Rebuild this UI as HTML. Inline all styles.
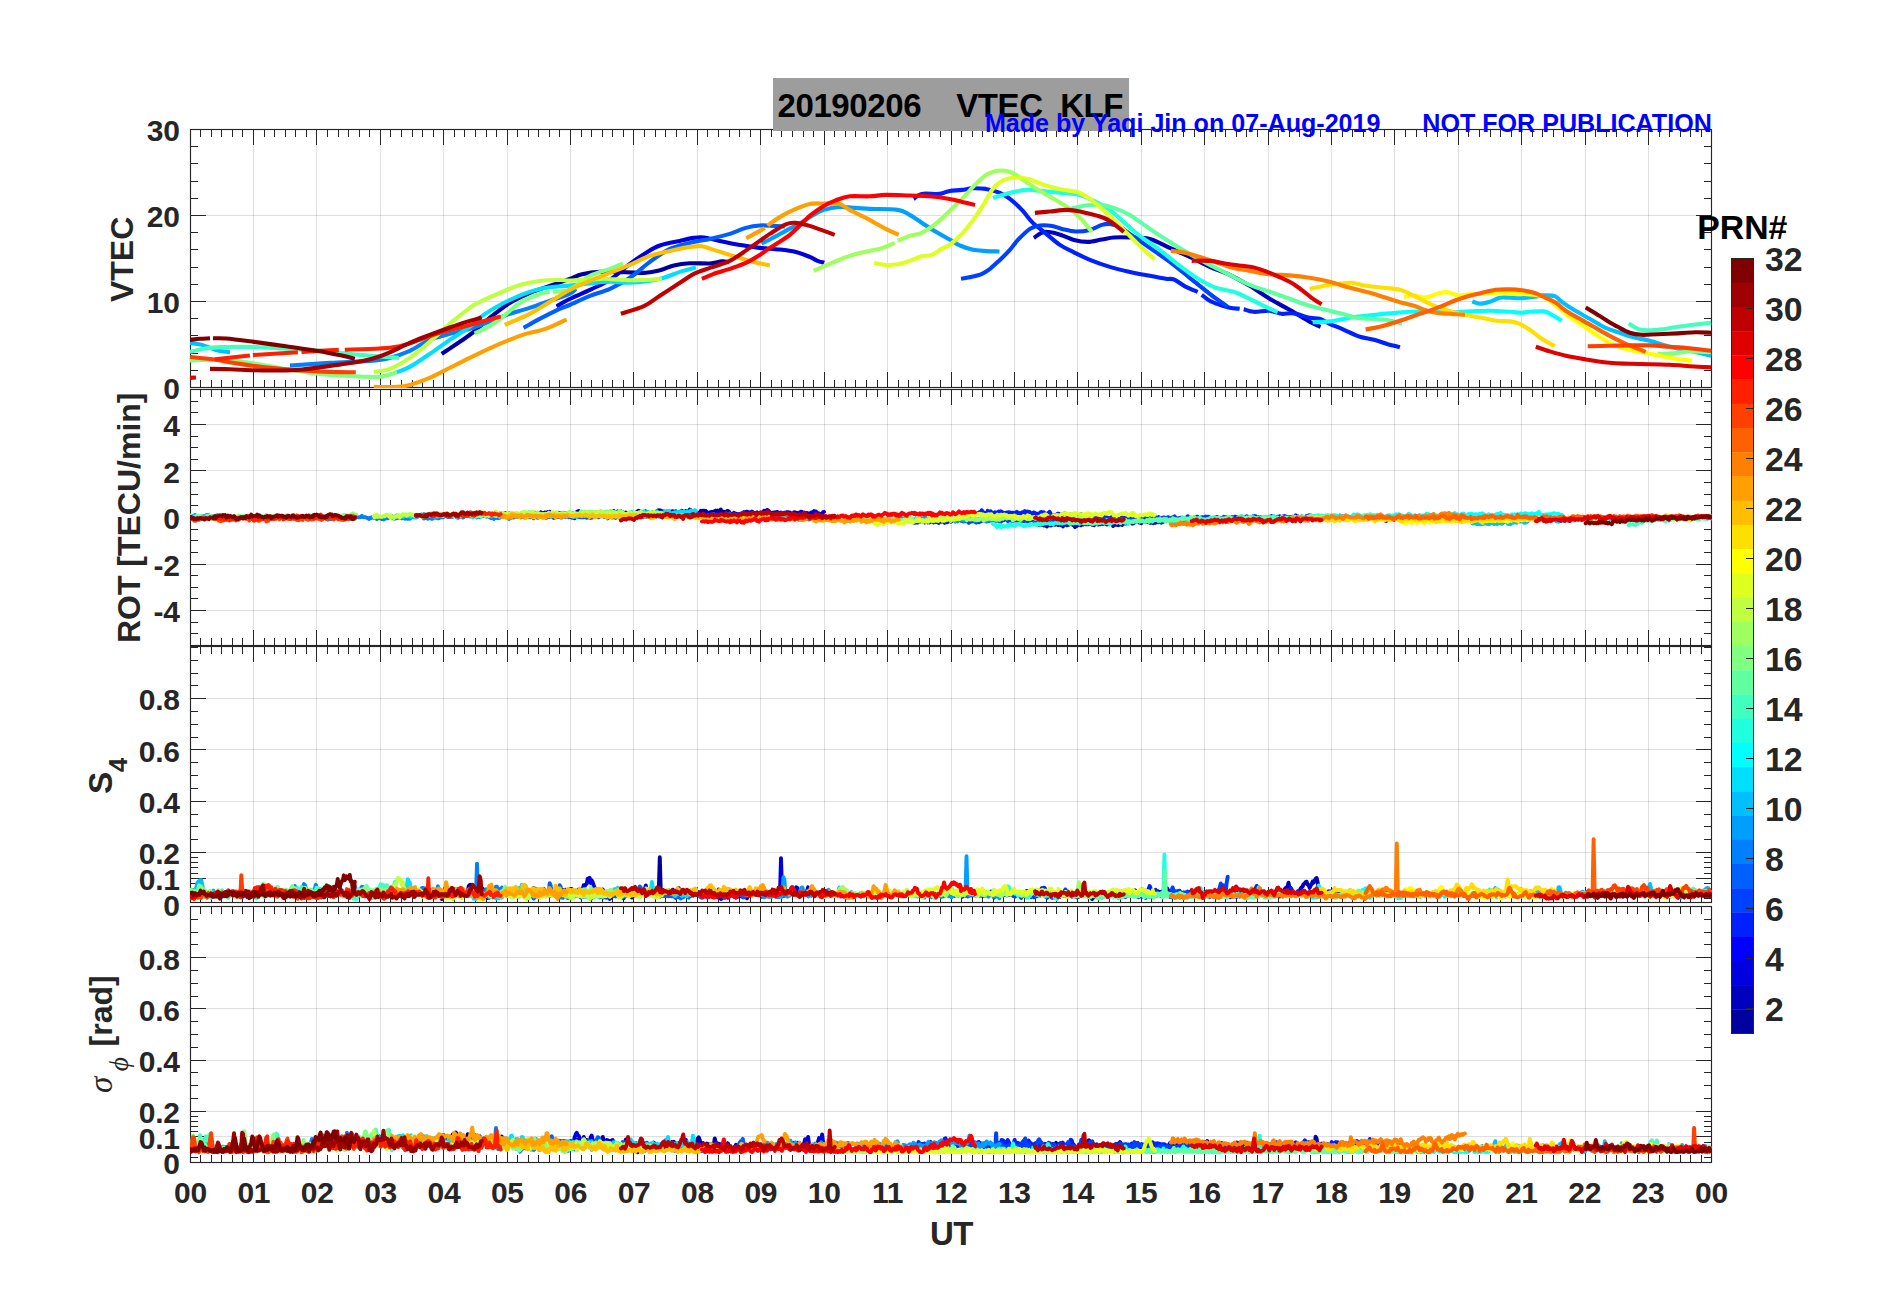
<!DOCTYPE html>
<html lang="en"><head><meta charset="utf-8"><title>20190206 VTEC KLF</title>
<style>html,body{margin:0;padding:0;background:#fff;}body{width:1902px;height:1292px;overflow:hidden;}svg{display:block;}text{font-family:'Liberation Sans', Arial, Helvetica, sans-serif;font-weight:bold;}</style></head><body>
<svg width="1902" height="1292" viewBox="0 0 1902 1292">
<rect x="0" y="0" width="1902" height="1292" fill="#ffffff"/>
<defs>
<clipPath id="c0"><rect x="190.00" y="129.00" width="1522.00" height="259.00"/></clipPath>
<clipPath id="c1"><rect x="190.00" y="389.00" width="1522.00" height="257.00"/></clipPath>
<clipPath id="c2"><rect x="190.00" y="646.00" width="1522.00" height="257.00"/></clipPath>
<clipPath id="c3"><rect x="190.00" y="906.00" width="1522.00" height="257.00"/></clipPath>
</defs>
<path d="M253.5 130.0V387.0M316.5 130.0V387.0M380.5 130.0V387.0M443.5 130.0V387.0M507.5 130.0V387.0M570.5 130.0V387.0M633.5 130.0V387.0M697.5 130.0V387.0M760.5 130.0V387.0M824.5 130.0V387.0M887.5 130.0V387.0M951.5 130.0V387.0M1014.5 130.0V387.0M1077.5 130.0V387.0M1141.5 130.0V387.0M1204.5 130.0V387.0M1268.5 130.0V387.0M1331.5 130.0V387.0M1394.5 130.0V387.0M1458.5 130.0V387.0M1521.5 130.0V387.0M1585.5 130.0V387.0M1648.5 130.0V387.0" stroke="#262626" stroke-opacity="0.15" stroke-width="1" fill="none"/>
<path d="M191.0 301.5H1711.0M191.0 215.5H1711.0" stroke="#262626" stroke-opacity="0.15" stroke-width="1" fill="none"/>
<path d="M200.50 129.50v7.50M200.50 387.50v-7.50M211.50 129.50v7.50M211.50 387.50v-7.50M221.50 129.50v7.50M221.50 387.50v-7.50M232.50 129.50v7.50M232.50 387.50v-7.50M242.50 129.50v7.50M242.50 387.50v-7.50M253.50 129.50v15.50M253.50 387.50v-15.50M264.50 129.50v7.50M264.50 387.50v-7.50M274.50 129.50v7.50M274.50 387.50v-7.50M285.50 129.50v7.50M285.50 387.50v-7.50M295.50 129.50v7.50M295.50 387.50v-7.50M306.50 129.50v7.50M306.50 387.50v-7.50M316.50 129.50v15.50M316.50 387.50v-15.50M327.50 129.50v7.50M327.50 387.50v-7.50M338.50 129.50v7.50M338.50 387.50v-7.50M348.50 129.50v7.50M348.50 387.50v-7.50M359.50 129.50v7.50M359.50 387.50v-7.50M369.50 129.50v7.50M369.50 387.50v-7.50M380.50 129.50v15.50M380.50 387.50v-15.50M390.50 129.50v7.50M390.50 387.50v-7.50M401.50 129.50v7.50M401.50 387.50v-7.50M412.50 129.50v7.50M412.50 387.50v-7.50M422.50 129.50v7.50M422.50 387.50v-7.50M433.50 129.50v7.50M433.50 387.50v-7.50M443.50 129.50v15.50M443.50 387.50v-15.50M454.50 129.50v7.50M454.50 387.50v-7.50M464.50 129.50v7.50M464.50 387.50v-7.50M475.50 129.50v7.50M475.50 387.50v-7.50M486.50 129.50v7.50M486.50 387.50v-7.50M496.50 129.50v7.50M496.50 387.50v-7.50M507.50 129.50v15.50M507.50 387.50v-15.50M517.50 129.50v7.50M517.50 387.50v-7.50M528.50 129.50v7.50M528.50 387.50v-7.50M538.50 129.50v7.50M538.50 387.50v-7.50M549.50 129.50v7.50M549.50 387.50v-7.50M559.50 129.50v7.50M559.50 387.50v-7.50M570.50 129.50v15.50M570.50 387.50v-15.50M581.50 129.50v7.50M581.50 387.50v-7.50M591.50 129.50v7.50M591.50 387.50v-7.50M602.50 129.50v7.50M602.50 387.50v-7.50M612.50 129.50v7.50M612.50 387.50v-7.50M623.50 129.50v7.50M623.50 387.50v-7.50M633.50 129.50v15.50M633.50 387.50v-15.50M644.50 129.50v7.50M644.50 387.50v-7.50M655.50 129.50v7.50M655.50 387.50v-7.50M665.50 129.50v7.50M665.50 387.50v-7.50M676.50 129.50v7.50M676.50 387.50v-7.50M686.50 129.50v7.50M686.50 387.50v-7.50M697.50 129.50v15.50M697.50 387.50v-15.50M707.50 129.50v7.50M707.50 387.50v-7.50M718.50 129.50v7.50M718.50 387.50v-7.50M729.50 129.50v7.50M729.50 387.50v-7.50M739.50 129.50v7.50M739.50 387.50v-7.50M750.50 129.50v7.50M750.50 387.50v-7.50M760.50 129.50v15.50M760.50 387.50v-15.50M771.50 129.50v7.50M771.50 387.50v-7.50M781.50 129.50v7.50M781.50 387.50v-7.50M792.50 129.50v7.50M792.50 387.50v-7.50M803.50 129.50v7.50M803.50 387.50v-7.50M813.50 129.50v7.50M813.50 387.50v-7.50M824.50 129.50v15.50M824.50 387.50v-15.50M834.50 129.50v7.50M834.50 387.50v-7.50M845.50 129.50v7.50M845.50 387.50v-7.50M855.50 129.50v7.50M855.50 387.50v-7.50M866.50 129.50v7.50M866.50 387.50v-7.50M877.50 129.50v7.50M877.50 387.50v-7.50M887.50 129.50v15.50M887.50 387.50v-15.50M898.50 129.50v7.50M898.50 387.50v-7.50M908.50 129.50v7.50M908.50 387.50v-7.50M919.50 129.50v7.50M919.50 387.50v-7.50M929.50 129.50v7.50M929.50 387.50v-7.50M940.50 129.50v7.50M940.50 387.50v-7.50M951.50 129.50v15.50M951.50 387.50v-15.50M961.50 129.50v7.50M961.50 387.50v-7.50M972.50 129.50v7.50M972.50 387.50v-7.50M982.50 129.50v7.50M982.50 387.50v-7.50M993.50 129.50v7.50M993.50 387.50v-7.50M1003.50 129.50v7.50M1003.50 387.50v-7.50M1014.50 129.50v15.50M1014.50 387.50v-15.50M1024.50 129.50v7.50M1024.50 387.50v-7.50M1035.50 129.50v7.50M1035.50 387.50v-7.50M1046.50 129.50v7.50M1046.50 387.50v-7.50M1056.50 129.50v7.50M1056.50 387.50v-7.50M1067.50 129.50v7.50M1067.50 387.50v-7.50M1077.50 129.50v15.50M1077.50 387.50v-15.50M1088.50 129.50v7.50M1088.50 387.50v-7.50M1098.50 129.50v7.50M1098.50 387.50v-7.50M1109.50 129.50v7.50M1109.50 387.50v-7.50M1120.50 129.50v7.50M1120.50 387.50v-7.50M1130.50 129.50v7.50M1130.50 387.50v-7.50M1141.50 129.50v15.50M1141.50 387.50v-15.50M1151.50 129.50v7.50M1151.50 387.50v-7.50M1162.50 129.50v7.50M1162.50 387.50v-7.50M1172.50 129.50v7.50M1172.50 387.50v-7.50M1183.50 129.50v7.50M1183.50 387.50v-7.50M1194.50 129.50v7.50M1194.50 387.50v-7.50M1204.50 129.50v15.50M1204.50 387.50v-15.50M1215.50 129.50v7.50M1215.50 387.50v-7.50M1225.50 129.50v7.50M1225.50 387.50v-7.50M1236.50 129.50v7.50M1236.50 387.50v-7.50M1246.50 129.50v7.50M1246.50 387.50v-7.50M1257.50 129.50v7.50M1257.50 387.50v-7.50M1268.50 129.50v15.50M1268.50 387.50v-15.50M1278.50 129.50v7.50M1278.50 387.50v-7.50M1289.50 129.50v7.50M1289.50 387.50v-7.50M1299.50 129.50v7.50M1299.50 387.50v-7.50M1310.50 129.50v7.50M1310.50 387.50v-7.50M1320.50 129.50v7.50M1320.50 387.50v-7.50M1331.50 129.50v15.50M1331.50 387.50v-15.50M1342.50 129.50v7.50M1342.50 387.50v-7.50M1352.50 129.50v7.50M1352.50 387.50v-7.50M1363.50 129.50v7.50M1363.50 387.50v-7.50M1373.50 129.50v7.50M1373.50 387.50v-7.50M1384.50 129.50v7.50M1384.50 387.50v-7.50M1394.50 129.50v15.50M1394.50 387.50v-15.50M1405.50 129.50v7.50M1405.50 387.50v-7.50M1416.50 129.50v7.50M1416.50 387.50v-7.50M1426.50 129.50v7.50M1426.50 387.50v-7.50M1437.50 129.50v7.50M1437.50 387.50v-7.50M1447.50 129.50v7.50M1447.50 387.50v-7.50M1458.50 129.50v15.50M1458.50 387.50v-15.50M1468.50 129.50v7.50M1468.50 387.50v-7.50M1479.50 129.50v7.50M1479.50 387.50v-7.50M1490.50 129.50v7.50M1490.50 387.50v-7.50M1500.50 129.50v7.50M1500.50 387.50v-7.50M1511.50 129.50v7.50M1511.50 387.50v-7.50M1521.50 129.50v15.50M1521.50 387.50v-15.50M1532.50 129.50v7.50M1532.50 387.50v-7.50M1542.50 129.50v7.50M1542.50 387.50v-7.50M1553.50 129.50v7.50M1553.50 387.50v-7.50M1563.50 129.50v7.50M1563.50 387.50v-7.50M1574.50 129.50v7.50M1574.50 387.50v-7.50M1585.50 129.50v15.50M1585.50 387.50v-15.50M1595.50 129.50v7.50M1595.50 387.50v-7.50M1606.50 129.50v7.50M1606.50 387.50v-7.50M1616.50 129.50v7.50M1616.50 387.50v-7.50M1627.50 129.50v7.50M1627.50 387.50v-7.50M1637.50 129.50v7.50M1637.50 387.50v-7.50M1648.50 129.50v15.50M1648.50 387.50v-15.50M1659.50 129.50v7.50M1659.50 387.50v-7.50M1669.50 129.50v7.50M1669.50 387.50v-7.50M1680.50 129.50v7.50M1680.50 387.50v-7.50M1690.50 129.50v7.50M1690.50 387.50v-7.50M1701.50 129.50v7.50M1701.50 387.50v-7.50M190.50 370.50h7.50M1711.50 370.50h-7.50M190.50 353.50h7.50M1711.50 353.50h-7.50M190.50 335.50h7.50M1711.50 335.50h-7.50M190.50 318.50h7.50M1711.50 318.50h-7.50M190.50 284.50h7.50M1711.50 284.50h-7.50M190.50 267.50h7.50M1711.50 267.50h-7.50M190.50 249.50h7.50M1711.50 249.50h-7.50M190.50 232.50h7.50M1711.50 232.50h-7.50M190.50 198.50h7.50M1711.50 198.50h-7.50M190.50 181.50h7.50M1711.50 181.50h-7.50M190.50 163.50h7.50M1711.50 163.50h-7.50M190.50 146.50h7.50M1711.50 146.50h-7.50M190.50 301.50h15.50M1711.50 301.50h-15.50M190.50 215.50h15.50M1711.50 215.50h-15.50" stroke="#262626" stroke-width="1" fill="none"/>
<rect x="190.50" y="129.50" width="1521.00" height="258.00" fill="none" stroke="#262626" stroke-width="1.15"/>
<path d="M253.5 390.0V645.0M316.5 390.0V645.0M380.5 390.0V645.0M443.5 390.0V645.0M507.5 390.0V645.0M570.5 390.0V645.0M633.5 390.0V645.0M697.5 390.0V645.0M760.5 390.0V645.0M824.5 390.0V645.0M887.5 390.0V645.0M951.5 390.0V645.0M1014.5 390.0V645.0M1077.5 390.0V645.0M1141.5 390.0V645.0M1204.5 390.0V645.0M1268.5 390.0V645.0M1331.5 390.0V645.0M1394.5 390.0V645.0M1458.5 390.0V645.0M1521.5 390.0V645.0M1585.5 390.0V645.0M1648.5 390.0V645.0" stroke="#262626" stroke-opacity="0.15" stroke-width="1" fill="none"/>
<path d="M191.0 610.5H1711.0M191.0 564.5H1711.0M191.0 517.5H1711.0M191.0 470.5H1711.0M191.0 424.5H1711.0" stroke="#262626" stroke-opacity="0.15" stroke-width="1" fill="none"/>
<path d="M200.50 389.50v7.50M200.50 645.50v-7.50M211.50 389.50v7.50M211.50 645.50v-7.50M221.50 389.50v7.50M221.50 645.50v-7.50M232.50 389.50v7.50M232.50 645.50v-7.50M242.50 389.50v7.50M242.50 645.50v-7.50M253.50 389.50v15.50M253.50 645.50v-15.50M264.50 389.50v7.50M264.50 645.50v-7.50M274.50 389.50v7.50M274.50 645.50v-7.50M285.50 389.50v7.50M285.50 645.50v-7.50M295.50 389.50v7.50M295.50 645.50v-7.50M306.50 389.50v7.50M306.50 645.50v-7.50M316.50 389.50v15.50M316.50 645.50v-15.50M327.50 389.50v7.50M327.50 645.50v-7.50M338.50 389.50v7.50M338.50 645.50v-7.50M348.50 389.50v7.50M348.50 645.50v-7.50M359.50 389.50v7.50M359.50 645.50v-7.50M369.50 389.50v7.50M369.50 645.50v-7.50M380.50 389.50v15.50M380.50 645.50v-15.50M390.50 389.50v7.50M390.50 645.50v-7.50M401.50 389.50v7.50M401.50 645.50v-7.50M412.50 389.50v7.50M412.50 645.50v-7.50M422.50 389.50v7.50M422.50 645.50v-7.50M433.50 389.50v7.50M433.50 645.50v-7.50M443.50 389.50v15.50M443.50 645.50v-15.50M454.50 389.50v7.50M454.50 645.50v-7.50M464.50 389.50v7.50M464.50 645.50v-7.50M475.50 389.50v7.50M475.50 645.50v-7.50M486.50 389.50v7.50M486.50 645.50v-7.50M496.50 389.50v7.50M496.50 645.50v-7.50M507.50 389.50v15.50M507.50 645.50v-15.50M517.50 389.50v7.50M517.50 645.50v-7.50M528.50 389.50v7.50M528.50 645.50v-7.50M538.50 389.50v7.50M538.50 645.50v-7.50M549.50 389.50v7.50M549.50 645.50v-7.50M559.50 389.50v7.50M559.50 645.50v-7.50M570.50 389.50v15.50M570.50 645.50v-15.50M581.50 389.50v7.50M581.50 645.50v-7.50M591.50 389.50v7.50M591.50 645.50v-7.50M602.50 389.50v7.50M602.50 645.50v-7.50M612.50 389.50v7.50M612.50 645.50v-7.50M623.50 389.50v7.50M623.50 645.50v-7.50M633.50 389.50v15.50M633.50 645.50v-15.50M644.50 389.50v7.50M644.50 645.50v-7.50M655.50 389.50v7.50M655.50 645.50v-7.50M665.50 389.50v7.50M665.50 645.50v-7.50M676.50 389.50v7.50M676.50 645.50v-7.50M686.50 389.50v7.50M686.50 645.50v-7.50M697.50 389.50v15.50M697.50 645.50v-15.50M707.50 389.50v7.50M707.50 645.50v-7.50M718.50 389.50v7.50M718.50 645.50v-7.50M729.50 389.50v7.50M729.50 645.50v-7.50M739.50 389.50v7.50M739.50 645.50v-7.50M750.50 389.50v7.50M750.50 645.50v-7.50M760.50 389.50v15.50M760.50 645.50v-15.50M771.50 389.50v7.50M771.50 645.50v-7.50M781.50 389.50v7.50M781.50 645.50v-7.50M792.50 389.50v7.50M792.50 645.50v-7.50M803.50 389.50v7.50M803.50 645.50v-7.50M813.50 389.50v7.50M813.50 645.50v-7.50M824.50 389.50v15.50M824.50 645.50v-15.50M834.50 389.50v7.50M834.50 645.50v-7.50M845.50 389.50v7.50M845.50 645.50v-7.50M855.50 389.50v7.50M855.50 645.50v-7.50M866.50 389.50v7.50M866.50 645.50v-7.50M877.50 389.50v7.50M877.50 645.50v-7.50M887.50 389.50v15.50M887.50 645.50v-15.50M898.50 389.50v7.50M898.50 645.50v-7.50M908.50 389.50v7.50M908.50 645.50v-7.50M919.50 389.50v7.50M919.50 645.50v-7.50M929.50 389.50v7.50M929.50 645.50v-7.50M940.50 389.50v7.50M940.50 645.50v-7.50M951.50 389.50v15.50M951.50 645.50v-15.50M961.50 389.50v7.50M961.50 645.50v-7.50M972.50 389.50v7.50M972.50 645.50v-7.50M982.50 389.50v7.50M982.50 645.50v-7.50M993.50 389.50v7.50M993.50 645.50v-7.50M1003.50 389.50v7.50M1003.50 645.50v-7.50M1014.50 389.50v15.50M1014.50 645.50v-15.50M1024.50 389.50v7.50M1024.50 645.50v-7.50M1035.50 389.50v7.50M1035.50 645.50v-7.50M1046.50 389.50v7.50M1046.50 645.50v-7.50M1056.50 389.50v7.50M1056.50 645.50v-7.50M1067.50 389.50v7.50M1067.50 645.50v-7.50M1077.50 389.50v15.50M1077.50 645.50v-15.50M1088.50 389.50v7.50M1088.50 645.50v-7.50M1098.50 389.50v7.50M1098.50 645.50v-7.50M1109.50 389.50v7.50M1109.50 645.50v-7.50M1120.50 389.50v7.50M1120.50 645.50v-7.50M1130.50 389.50v7.50M1130.50 645.50v-7.50M1141.50 389.50v15.50M1141.50 645.50v-15.50M1151.50 389.50v7.50M1151.50 645.50v-7.50M1162.50 389.50v7.50M1162.50 645.50v-7.50M1172.50 389.50v7.50M1172.50 645.50v-7.50M1183.50 389.50v7.50M1183.50 645.50v-7.50M1194.50 389.50v7.50M1194.50 645.50v-7.50M1204.50 389.50v15.50M1204.50 645.50v-15.50M1215.50 389.50v7.50M1215.50 645.50v-7.50M1225.50 389.50v7.50M1225.50 645.50v-7.50M1236.50 389.50v7.50M1236.50 645.50v-7.50M1246.50 389.50v7.50M1246.50 645.50v-7.50M1257.50 389.50v7.50M1257.50 645.50v-7.50M1268.50 389.50v15.50M1268.50 645.50v-15.50M1278.50 389.50v7.50M1278.50 645.50v-7.50M1289.50 389.50v7.50M1289.50 645.50v-7.50M1299.50 389.50v7.50M1299.50 645.50v-7.50M1310.50 389.50v7.50M1310.50 645.50v-7.50M1320.50 389.50v7.50M1320.50 645.50v-7.50M1331.50 389.50v15.50M1331.50 645.50v-15.50M1342.50 389.50v7.50M1342.50 645.50v-7.50M1352.50 389.50v7.50M1352.50 645.50v-7.50M1363.50 389.50v7.50M1363.50 645.50v-7.50M1373.50 389.50v7.50M1373.50 645.50v-7.50M1384.50 389.50v7.50M1384.50 645.50v-7.50M1394.50 389.50v15.50M1394.50 645.50v-15.50M1405.50 389.50v7.50M1405.50 645.50v-7.50M1416.50 389.50v7.50M1416.50 645.50v-7.50M1426.50 389.50v7.50M1426.50 645.50v-7.50M1437.50 389.50v7.50M1437.50 645.50v-7.50M1447.50 389.50v7.50M1447.50 645.50v-7.50M1458.50 389.50v15.50M1458.50 645.50v-15.50M1468.50 389.50v7.50M1468.50 645.50v-7.50M1479.50 389.50v7.50M1479.50 645.50v-7.50M1490.50 389.50v7.50M1490.50 645.50v-7.50M1500.50 389.50v7.50M1500.50 645.50v-7.50M1511.50 389.50v7.50M1511.50 645.50v-7.50M1521.50 389.50v15.50M1521.50 645.50v-15.50M1532.50 389.50v7.50M1532.50 645.50v-7.50M1542.50 389.50v7.50M1542.50 645.50v-7.50M1553.50 389.50v7.50M1553.50 645.50v-7.50M1563.50 389.50v7.50M1563.50 645.50v-7.50M1574.50 389.50v7.50M1574.50 645.50v-7.50M1585.50 389.50v15.50M1585.50 645.50v-15.50M1595.50 389.50v7.50M1595.50 645.50v-7.50M1606.50 389.50v7.50M1606.50 645.50v-7.50M1616.50 389.50v7.50M1616.50 645.50v-7.50M1627.50 389.50v7.50M1627.50 645.50v-7.50M1637.50 389.50v7.50M1637.50 645.50v-7.50M1648.50 389.50v15.50M1648.50 645.50v-15.50M1659.50 389.50v7.50M1659.50 645.50v-7.50M1669.50 389.50v7.50M1669.50 645.50v-7.50M1680.50 389.50v7.50M1680.50 645.50v-7.50M1690.50 389.50v7.50M1690.50 645.50v-7.50M1701.50 389.50v7.50M1701.50 645.50v-7.50M190.50 633.50h7.50M1711.50 633.50h-7.50M190.50 622.50h7.50M1711.50 622.50h-7.50M190.50 598.50h7.50M1711.50 598.50h-7.50M190.50 587.50h7.50M1711.50 587.50h-7.50M190.50 575.50h7.50M1711.50 575.50h-7.50M190.50 552.50h7.50M1711.50 552.50h-7.50M190.50 540.50h7.50M1711.50 540.50h-7.50M190.50 529.50h7.50M1711.50 529.50h-7.50M190.50 505.50h7.50M1711.50 505.50h-7.50M190.50 494.50h7.50M1711.50 494.50h-7.50M190.50 482.50h7.50M1711.50 482.50h-7.50M190.50 459.50h7.50M1711.50 459.50h-7.50M190.50 447.50h7.50M1711.50 447.50h-7.50M190.50 436.50h7.50M1711.50 436.50h-7.50M190.50 412.50h7.50M1711.50 412.50h-7.50M190.50 401.50h7.50M1711.50 401.50h-7.50M190.50 610.50h15.50M1711.50 610.50h-15.50M190.50 564.50h15.50M1711.50 564.50h-15.50M190.50 517.50h15.50M1711.50 517.50h-15.50M190.50 470.50h15.50M1711.50 470.50h-15.50M190.50 424.50h15.50M1711.50 424.50h-15.50" stroke="#262626" stroke-width="1" fill="none"/>
<rect x="190.50" y="389.50" width="1521.00" height="256.00" fill="none" stroke="#262626" stroke-width="1.15"/>
<path d="M253.5 647.0V902.0M316.5 647.0V902.0M380.5 647.0V902.0M443.5 647.0V902.0M507.5 647.0V902.0M570.5 647.0V902.0M633.5 647.0V902.0M697.5 647.0V902.0M760.5 647.0V902.0M824.5 647.0V902.0M887.5 647.0V902.0M951.5 647.0V902.0M1014.5 647.0V902.0M1077.5 647.0V902.0M1141.5 647.0V902.0M1204.5 647.0V902.0M1268.5 647.0V902.0M1331.5 647.0V902.0M1394.5 647.0V902.0M1458.5 647.0V902.0M1521.5 647.0V902.0M1585.5 647.0V902.0M1648.5 647.0V902.0" stroke="#262626" stroke-opacity="0.15" stroke-width="1" fill="none"/>
<path d="M191.0 878.5H1711.0M191.0 852.5H1711.0M191.0 801.5H1711.0M191.0 749.5H1711.0M191.0 698.5H1711.0" stroke="#262626" stroke-opacity="0.15" stroke-width="1" fill="none"/>
<path d="M200.50 646.50v7.50M200.50 902.50v-7.50M211.50 646.50v7.50M211.50 902.50v-7.50M221.50 646.50v7.50M221.50 902.50v-7.50M232.50 646.50v7.50M232.50 902.50v-7.50M242.50 646.50v7.50M242.50 902.50v-7.50M253.50 646.50v15.50M253.50 902.50v-15.50M264.50 646.50v7.50M264.50 902.50v-7.50M274.50 646.50v7.50M274.50 902.50v-7.50M285.50 646.50v7.50M285.50 902.50v-7.50M295.50 646.50v7.50M295.50 902.50v-7.50M306.50 646.50v7.50M306.50 902.50v-7.50M316.50 646.50v15.50M316.50 902.50v-15.50M327.50 646.50v7.50M327.50 902.50v-7.50M338.50 646.50v7.50M338.50 902.50v-7.50M348.50 646.50v7.50M348.50 902.50v-7.50M359.50 646.50v7.50M359.50 902.50v-7.50M369.50 646.50v7.50M369.50 902.50v-7.50M380.50 646.50v15.50M380.50 902.50v-15.50M390.50 646.50v7.50M390.50 902.50v-7.50M401.50 646.50v7.50M401.50 902.50v-7.50M412.50 646.50v7.50M412.50 902.50v-7.50M422.50 646.50v7.50M422.50 902.50v-7.50M433.50 646.50v7.50M433.50 902.50v-7.50M443.50 646.50v15.50M443.50 902.50v-15.50M454.50 646.50v7.50M454.50 902.50v-7.50M464.50 646.50v7.50M464.50 902.50v-7.50M475.50 646.50v7.50M475.50 902.50v-7.50M486.50 646.50v7.50M486.50 902.50v-7.50M496.50 646.50v7.50M496.50 902.50v-7.50M507.50 646.50v15.50M507.50 902.50v-15.50M517.50 646.50v7.50M517.50 902.50v-7.50M528.50 646.50v7.50M528.50 902.50v-7.50M538.50 646.50v7.50M538.50 902.50v-7.50M549.50 646.50v7.50M549.50 902.50v-7.50M559.50 646.50v7.50M559.50 902.50v-7.50M570.50 646.50v15.50M570.50 902.50v-15.50M581.50 646.50v7.50M581.50 902.50v-7.50M591.50 646.50v7.50M591.50 902.50v-7.50M602.50 646.50v7.50M602.50 902.50v-7.50M612.50 646.50v7.50M612.50 902.50v-7.50M623.50 646.50v7.50M623.50 902.50v-7.50M633.50 646.50v15.50M633.50 902.50v-15.50M644.50 646.50v7.50M644.50 902.50v-7.50M655.50 646.50v7.50M655.50 902.50v-7.50M665.50 646.50v7.50M665.50 902.50v-7.50M676.50 646.50v7.50M676.50 902.50v-7.50M686.50 646.50v7.50M686.50 902.50v-7.50M697.50 646.50v15.50M697.50 902.50v-15.50M707.50 646.50v7.50M707.50 902.50v-7.50M718.50 646.50v7.50M718.50 902.50v-7.50M729.50 646.50v7.50M729.50 902.50v-7.50M739.50 646.50v7.50M739.50 902.50v-7.50M750.50 646.50v7.50M750.50 902.50v-7.50M760.50 646.50v15.50M760.50 902.50v-15.50M771.50 646.50v7.50M771.50 902.50v-7.50M781.50 646.50v7.50M781.50 902.50v-7.50M792.50 646.50v7.50M792.50 902.50v-7.50M803.50 646.50v7.50M803.50 902.50v-7.50M813.50 646.50v7.50M813.50 902.50v-7.50M824.50 646.50v15.50M824.50 902.50v-15.50M834.50 646.50v7.50M834.50 902.50v-7.50M845.50 646.50v7.50M845.50 902.50v-7.50M855.50 646.50v7.50M855.50 902.50v-7.50M866.50 646.50v7.50M866.50 902.50v-7.50M877.50 646.50v7.50M877.50 902.50v-7.50M887.50 646.50v15.50M887.50 902.50v-15.50M898.50 646.50v7.50M898.50 902.50v-7.50M908.50 646.50v7.50M908.50 902.50v-7.50M919.50 646.50v7.50M919.50 902.50v-7.50M929.50 646.50v7.50M929.50 902.50v-7.50M940.50 646.50v7.50M940.50 902.50v-7.50M951.50 646.50v15.50M951.50 902.50v-15.50M961.50 646.50v7.50M961.50 902.50v-7.50M972.50 646.50v7.50M972.50 902.50v-7.50M982.50 646.50v7.50M982.50 902.50v-7.50M993.50 646.50v7.50M993.50 902.50v-7.50M1003.50 646.50v7.50M1003.50 902.50v-7.50M1014.50 646.50v15.50M1014.50 902.50v-15.50M1024.50 646.50v7.50M1024.50 902.50v-7.50M1035.50 646.50v7.50M1035.50 902.50v-7.50M1046.50 646.50v7.50M1046.50 902.50v-7.50M1056.50 646.50v7.50M1056.50 902.50v-7.50M1067.50 646.50v7.50M1067.50 902.50v-7.50M1077.50 646.50v15.50M1077.50 902.50v-15.50M1088.50 646.50v7.50M1088.50 902.50v-7.50M1098.50 646.50v7.50M1098.50 902.50v-7.50M1109.50 646.50v7.50M1109.50 902.50v-7.50M1120.50 646.50v7.50M1120.50 902.50v-7.50M1130.50 646.50v7.50M1130.50 902.50v-7.50M1141.50 646.50v15.50M1141.50 902.50v-15.50M1151.50 646.50v7.50M1151.50 902.50v-7.50M1162.50 646.50v7.50M1162.50 902.50v-7.50M1172.50 646.50v7.50M1172.50 902.50v-7.50M1183.50 646.50v7.50M1183.50 902.50v-7.50M1194.50 646.50v7.50M1194.50 902.50v-7.50M1204.50 646.50v15.50M1204.50 902.50v-15.50M1215.50 646.50v7.50M1215.50 902.50v-7.50M1225.50 646.50v7.50M1225.50 902.50v-7.50M1236.50 646.50v7.50M1236.50 902.50v-7.50M1246.50 646.50v7.50M1246.50 902.50v-7.50M1257.50 646.50v7.50M1257.50 902.50v-7.50M1268.50 646.50v15.50M1268.50 902.50v-15.50M1278.50 646.50v7.50M1278.50 902.50v-7.50M1289.50 646.50v7.50M1289.50 902.50v-7.50M1299.50 646.50v7.50M1299.50 902.50v-7.50M1310.50 646.50v7.50M1310.50 902.50v-7.50M1320.50 646.50v7.50M1320.50 902.50v-7.50M1331.50 646.50v15.50M1331.50 902.50v-15.50M1342.50 646.50v7.50M1342.50 902.50v-7.50M1352.50 646.50v7.50M1352.50 902.50v-7.50M1363.50 646.50v7.50M1363.50 902.50v-7.50M1373.50 646.50v7.50M1373.50 902.50v-7.50M1384.50 646.50v7.50M1384.50 902.50v-7.50M1394.50 646.50v15.50M1394.50 902.50v-15.50M1405.50 646.50v7.50M1405.50 902.50v-7.50M1416.50 646.50v7.50M1416.50 902.50v-7.50M1426.50 646.50v7.50M1426.50 902.50v-7.50M1437.50 646.50v7.50M1437.50 902.50v-7.50M1447.50 646.50v7.50M1447.50 902.50v-7.50M1458.50 646.50v15.50M1458.50 902.50v-15.50M1468.50 646.50v7.50M1468.50 902.50v-7.50M1479.50 646.50v7.50M1479.50 902.50v-7.50M1490.50 646.50v7.50M1490.50 902.50v-7.50M1500.50 646.50v7.50M1500.50 902.50v-7.50M1511.50 646.50v7.50M1511.50 902.50v-7.50M1521.50 646.50v15.50M1521.50 902.50v-15.50M1532.50 646.50v7.50M1532.50 902.50v-7.50M1542.50 646.50v7.50M1542.50 902.50v-7.50M1553.50 646.50v7.50M1553.50 902.50v-7.50M1563.50 646.50v7.50M1563.50 902.50v-7.50M1574.50 646.50v7.50M1574.50 902.50v-7.50M1585.50 646.50v15.50M1585.50 902.50v-15.50M1595.50 646.50v7.50M1595.50 902.50v-7.50M1606.50 646.50v7.50M1606.50 902.50v-7.50M1616.50 646.50v7.50M1616.50 902.50v-7.50M1627.50 646.50v7.50M1627.50 902.50v-7.50M1637.50 646.50v7.50M1637.50 902.50v-7.50M1648.50 646.50v15.50M1648.50 902.50v-15.50M1659.50 646.50v7.50M1659.50 902.50v-7.50M1669.50 646.50v7.50M1669.50 902.50v-7.50M1680.50 646.50v7.50M1680.50 902.50v-7.50M1690.50 646.50v7.50M1690.50 902.50v-7.50M1701.50 646.50v7.50M1701.50 902.50v-7.50M190.50 898.50h7.50M1711.50 898.50h-7.50M190.50 893.50h7.50M1711.50 893.50h-7.50M190.50 888.50h7.50M1711.50 888.50h-7.50M190.50 883.50h7.50M1711.50 883.50h-7.50M190.50 873.50h7.50M1711.50 873.50h-7.50M190.50 867.50h7.50M1711.50 867.50h-7.50M190.50 862.50h7.50M1711.50 862.50h-7.50M190.50 857.50h7.50M1711.50 857.50h-7.50M190.50 839.50h7.50M1711.50 839.50h-7.50M190.50 826.50h7.50M1711.50 826.50h-7.50M190.50 814.50h7.50M1711.50 814.50h-7.50M190.50 788.50h7.50M1711.50 788.50h-7.50M190.50 775.50h7.50M1711.50 775.50h-7.50M190.50 762.50h7.50M1711.50 762.50h-7.50M190.50 737.50h7.50M1711.50 737.50h-7.50M190.50 724.50h7.50M1711.50 724.50h-7.50M190.50 711.50h7.50M1711.50 711.50h-7.50M190.50 685.50h7.50M1711.50 685.50h-7.50M190.50 673.50h7.50M1711.50 673.50h-7.50M190.50 660.50h7.50M1711.50 660.50h-7.50M190.50 647.50h7.50M1711.50 647.50h-7.50M190.50 878.50h15.50M1711.50 878.50h-15.50M190.50 852.50h15.50M1711.50 852.50h-15.50M190.50 801.50h15.50M1711.50 801.50h-15.50M190.50 749.50h15.50M1711.50 749.50h-15.50M190.50 698.50h15.50M1711.50 698.50h-15.50" stroke="#262626" stroke-width="1" fill="none"/>
<rect x="190.50" y="646.50" width="1521.00" height="256.00" fill="none" stroke="#262626" stroke-width="1.15"/>
<path d="M253.5 907.0V1162.0M316.5 907.0V1162.0M380.5 907.0V1162.0M443.5 907.0V1162.0M507.5 907.0V1162.0M570.5 907.0V1162.0M633.5 907.0V1162.0M697.5 907.0V1162.0M760.5 907.0V1162.0M824.5 907.0V1162.0M887.5 907.0V1162.0M951.5 907.0V1162.0M1014.5 907.0V1162.0M1077.5 907.0V1162.0M1141.5 907.0V1162.0M1204.5 907.0V1162.0M1268.5 907.0V1162.0M1331.5 907.0V1162.0M1394.5 907.0V1162.0M1458.5 907.0V1162.0M1521.5 907.0V1162.0M1585.5 907.0V1162.0M1648.5 907.0V1162.0" stroke="#262626" stroke-opacity="0.15" stroke-width="1" fill="none"/>
<path d="M191.0 1136.5H1711.0M191.0 1111.5H1711.0M191.0 1060.5H1711.0M191.0 1008.5H1711.0M191.0 957.5H1711.0" stroke="#262626" stroke-opacity="0.15" stroke-width="1" fill="none"/>
<path d="M200.50 906.50v7.50M200.50 1162.50v-7.50M211.50 906.50v7.50M211.50 1162.50v-7.50M221.50 906.50v7.50M221.50 1162.50v-7.50M232.50 906.50v7.50M232.50 1162.50v-7.50M242.50 906.50v7.50M242.50 1162.50v-7.50M253.50 906.50v15.50M253.50 1162.50v-15.50M264.50 906.50v7.50M264.50 1162.50v-7.50M274.50 906.50v7.50M274.50 1162.50v-7.50M285.50 906.50v7.50M285.50 1162.50v-7.50M295.50 906.50v7.50M295.50 1162.50v-7.50M306.50 906.50v7.50M306.50 1162.50v-7.50M316.50 906.50v15.50M316.50 1162.50v-15.50M327.50 906.50v7.50M327.50 1162.50v-7.50M338.50 906.50v7.50M338.50 1162.50v-7.50M348.50 906.50v7.50M348.50 1162.50v-7.50M359.50 906.50v7.50M359.50 1162.50v-7.50M369.50 906.50v7.50M369.50 1162.50v-7.50M380.50 906.50v15.50M380.50 1162.50v-15.50M390.50 906.50v7.50M390.50 1162.50v-7.50M401.50 906.50v7.50M401.50 1162.50v-7.50M412.50 906.50v7.50M412.50 1162.50v-7.50M422.50 906.50v7.50M422.50 1162.50v-7.50M433.50 906.50v7.50M433.50 1162.50v-7.50M443.50 906.50v15.50M443.50 1162.50v-15.50M454.50 906.50v7.50M454.50 1162.50v-7.50M464.50 906.50v7.50M464.50 1162.50v-7.50M475.50 906.50v7.50M475.50 1162.50v-7.50M486.50 906.50v7.50M486.50 1162.50v-7.50M496.50 906.50v7.50M496.50 1162.50v-7.50M507.50 906.50v15.50M507.50 1162.50v-15.50M517.50 906.50v7.50M517.50 1162.50v-7.50M528.50 906.50v7.50M528.50 1162.50v-7.50M538.50 906.50v7.50M538.50 1162.50v-7.50M549.50 906.50v7.50M549.50 1162.50v-7.50M559.50 906.50v7.50M559.50 1162.50v-7.50M570.50 906.50v15.50M570.50 1162.50v-15.50M581.50 906.50v7.50M581.50 1162.50v-7.50M591.50 906.50v7.50M591.50 1162.50v-7.50M602.50 906.50v7.50M602.50 1162.50v-7.50M612.50 906.50v7.50M612.50 1162.50v-7.50M623.50 906.50v7.50M623.50 1162.50v-7.50M633.50 906.50v15.50M633.50 1162.50v-15.50M644.50 906.50v7.50M644.50 1162.50v-7.50M655.50 906.50v7.50M655.50 1162.50v-7.50M665.50 906.50v7.50M665.50 1162.50v-7.50M676.50 906.50v7.50M676.50 1162.50v-7.50M686.50 906.50v7.50M686.50 1162.50v-7.50M697.50 906.50v15.50M697.50 1162.50v-15.50M707.50 906.50v7.50M707.50 1162.50v-7.50M718.50 906.50v7.50M718.50 1162.50v-7.50M729.50 906.50v7.50M729.50 1162.50v-7.50M739.50 906.50v7.50M739.50 1162.50v-7.50M750.50 906.50v7.50M750.50 1162.50v-7.50M760.50 906.50v15.50M760.50 1162.50v-15.50M771.50 906.50v7.50M771.50 1162.50v-7.50M781.50 906.50v7.50M781.50 1162.50v-7.50M792.50 906.50v7.50M792.50 1162.50v-7.50M803.50 906.50v7.50M803.50 1162.50v-7.50M813.50 906.50v7.50M813.50 1162.50v-7.50M824.50 906.50v15.50M824.50 1162.50v-15.50M834.50 906.50v7.50M834.50 1162.50v-7.50M845.50 906.50v7.50M845.50 1162.50v-7.50M855.50 906.50v7.50M855.50 1162.50v-7.50M866.50 906.50v7.50M866.50 1162.50v-7.50M877.50 906.50v7.50M877.50 1162.50v-7.50M887.50 906.50v15.50M887.50 1162.50v-15.50M898.50 906.50v7.50M898.50 1162.50v-7.50M908.50 906.50v7.50M908.50 1162.50v-7.50M919.50 906.50v7.50M919.50 1162.50v-7.50M929.50 906.50v7.50M929.50 1162.50v-7.50M940.50 906.50v7.50M940.50 1162.50v-7.50M951.50 906.50v15.50M951.50 1162.50v-15.50M961.50 906.50v7.50M961.50 1162.50v-7.50M972.50 906.50v7.50M972.50 1162.50v-7.50M982.50 906.50v7.50M982.50 1162.50v-7.50M993.50 906.50v7.50M993.50 1162.50v-7.50M1003.50 906.50v7.50M1003.50 1162.50v-7.50M1014.50 906.50v15.50M1014.50 1162.50v-15.50M1024.50 906.50v7.50M1024.50 1162.50v-7.50M1035.50 906.50v7.50M1035.50 1162.50v-7.50M1046.50 906.50v7.50M1046.50 1162.50v-7.50M1056.50 906.50v7.50M1056.50 1162.50v-7.50M1067.50 906.50v7.50M1067.50 1162.50v-7.50M1077.50 906.50v15.50M1077.50 1162.50v-15.50M1088.50 906.50v7.50M1088.50 1162.50v-7.50M1098.50 906.50v7.50M1098.50 1162.50v-7.50M1109.50 906.50v7.50M1109.50 1162.50v-7.50M1120.50 906.50v7.50M1120.50 1162.50v-7.50M1130.50 906.50v7.50M1130.50 1162.50v-7.50M1141.50 906.50v15.50M1141.50 1162.50v-15.50M1151.50 906.50v7.50M1151.50 1162.50v-7.50M1162.50 906.50v7.50M1162.50 1162.50v-7.50M1172.50 906.50v7.50M1172.50 1162.50v-7.50M1183.50 906.50v7.50M1183.50 1162.50v-7.50M1194.50 906.50v7.50M1194.50 1162.50v-7.50M1204.50 906.50v15.50M1204.50 1162.50v-15.50M1215.50 906.50v7.50M1215.50 1162.50v-7.50M1225.50 906.50v7.50M1225.50 1162.50v-7.50M1236.50 906.50v7.50M1236.50 1162.50v-7.50M1246.50 906.50v7.50M1246.50 1162.50v-7.50M1257.50 906.50v7.50M1257.50 1162.50v-7.50M1268.50 906.50v15.50M1268.50 1162.50v-15.50M1278.50 906.50v7.50M1278.50 1162.50v-7.50M1289.50 906.50v7.50M1289.50 1162.50v-7.50M1299.50 906.50v7.50M1299.50 1162.50v-7.50M1310.50 906.50v7.50M1310.50 1162.50v-7.50M1320.50 906.50v7.50M1320.50 1162.50v-7.50M1331.50 906.50v15.50M1331.50 1162.50v-15.50M1342.50 906.50v7.50M1342.50 1162.50v-7.50M1352.50 906.50v7.50M1352.50 1162.50v-7.50M1363.50 906.50v7.50M1363.50 1162.50v-7.50M1373.50 906.50v7.50M1373.50 1162.50v-7.50M1384.50 906.50v7.50M1384.50 1162.50v-7.50M1394.50 906.50v15.50M1394.50 1162.50v-15.50M1405.50 906.50v7.50M1405.50 1162.50v-7.50M1416.50 906.50v7.50M1416.50 1162.50v-7.50M1426.50 906.50v7.50M1426.50 1162.50v-7.50M1437.50 906.50v7.50M1437.50 1162.50v-7.50M1447.50 906.50v7.50M1447.50 1162.50v-7.50M1458.50 906.50v15.50M1458.50 1162.50v-15.50M1468.50 906.50v7.50M1468.50 1162.50v-7.50M1479.50 906.50v7.50M1479.50 1162.50v-7.50M1490.50 906.50v7.50M1490.50 1162.50v-7.50M1500.50 906.50v7.50M1500.50 1162.50v-7.50M1511.50 906.50v7.50M1511.50 1162.50v-7.50M1521.50 906.50v15.50M1521.50 1162.50v-15.50M1532.50 906.50v7.50M1532.50 1162.50v-7.50M1542.50 906.50v7.50M1542.50 1162.50v-7.50M1553.50 906.50v7.50M1553.50 1162.50v-7.50M1563.50 906.50v7.50M1563.50 1162.50v-7.50M1574.50 906.50v7.50M1574.50 1162.50v-7.50M1585.50 906.50v15.50M1585.50 1162.50v-15.50M1595.50 906.50v7.50M1595.50 1162.50v-7.50M1606.50 906.50v7.50M1606.50 1162.50v-7.50M1616.50 906.50v7.50M1616.50 1162.50v-7.50M1627.50 906.50v7.50M1627.50 1162.50v-7.50M1637.50 906.50v7.50M1637.50 1162.50v-7.50M1648.50 906.50v15.50M1648.50 1162.50v-15.50M1659.50 906.50v7.50M1659.50 1162.50v-7.50M1669.50 906.50v7.50M1669.50 1162.50v-7.50M1680.50 906.50v7.50M1680.50 1162.50v-7.50M1690.50 906.50v7.50M1690.50 1162.50v-7.50M1701.50 906.50v7.50M1701.50 1162.50v-7.50M190.50 1157.50h7.50M1711.50 1157.50h-7.50M190.50 1152.50h7.50M1711.50 1152.50h-7.50M190.50 1147.50h7.50M1711.50 1147.50h-7.50M190.50 1142.50h7.50M1711.50 1142.50h-7.50M190.50 1131.50h7.50M1711.50 1131.50h-7.50M190.50 1126.50h7.50M1711.50 1126.50h-7.50M190.50 1121.50h7.50M1711.50 1121.50h-7.50M190.50 1116.50h7.50M1711.50 1116.50h-7.50M190.50 1098.50h7.50M1711.50 1098.50h-7.50M190.50 1085.50h7.50M1711.50 1085.50h-7.50M190.50 1072.50h7.50M1711.50 1072.50h-7.50M190.50 1047.50h7.50M1711.50 1047.50h-7.50M190.50 1034.50h7.50M1711.50 1034.50h-7.50M190.50 1021.50h7.50M1711.50 1021.50h-7.50M190.50 996.50h7.50M1711.50 996.50h-7.50M190.50 983.50h7.50M1711.50 983.50h-7.50M190.50 970.50h7.50M1711.50 970.50h-7.50M190.50 944.50h7.50M1711.50 944.50h-7.50M190.50 932.50h7.50M1711.50 932.50h-7.50M190.50 919.50h7.50M1711.50 919.50h-7.50M190.50 1136.50h15.50M1711.50 1136.50h-15.50M190.50 1111.50h15.50M1711.50 1111.50h-15.50M190.50 1060.50h15.50M1711.50 1060.50h-15.50M190.50 1008.50h15.50M1711.50 1008.50h-15.50M190.50 957.50h15.50M1711.50 957.50h-15.50" stroke="#262626" stroke-width="1" fill="none"/>
<rect x="190.50" y="906.50" width="1521.00" height="256.00" fill="none" stroke="#262626" stroke-width="1.15"/>
<g fill="none" stroke-width="4.1" stroke-linejoin="round" stroke-linecap="butt" clip-path="url(#c0)">
<path d="M441.7 353.9C444.7 351.9 454.4 345.6 459.7 341.9C465.0 338.3 468.7 335.9 473.7 331.9C478.7 327.9 483.7 322.8 489.7 317.9C495.7 313.1 503.0 307.1 509.7 303.0C516.3 298.8 523.0 295.8 529.6 293.0C536.3 290.1 543.0 288.3 549.6 286.0C556.3 283.6 564.2 280.9 569.6 279.0C575.0 277.0 576.9 275.4 582.0 274.2C587.0 273.1 592.6 272.2 600.0 271.9C607.3 271.5 618.3 272.1 625.9 272.3C633.6 272.4 640.3 273.2 645.9 272.8C651.6 272.5 655.2 271.5 659.9 270.3C664.6 269.0 668.9 266.6 673.9 265.5C678.9 264.3 683.9 263.6 689.9 263.3C695.9 262.9 704.5 263.8 709.9 263.5C715.2 263.1 718.7 261.5 721.8 261.3C725.0 261.1 727.7 262.1 728.8 262.3" stroke="#00009f"/>
<path d="M1033.9 237.9C1035.6 236.9 1039.9 232.6 1043.9 231.9C1047.9 231.2 1052.9 232.6 1057.9 233.9C1062.9 235.2 1068.9 238.6 1073.9 239.9C1078.9 241.2 1083.2 241.9 1087.9 241.9C1092.5 241.8 1097.5 240.2 1101.8 239.5C1106.2 238.8 1109.2 237.8 1113.8 237.5C1118.5 237.2 1123.8 237.3 1129.8 237.5C1135.8 237.7 1143.1 237.2 1149.8 238.9C1156.4 240.6 1163.1 244.9 1169.8 247.9C1176.4 250.9 1183.1 253.7 1189.7 256.9C1196.4 260.0 1203.1 263.9 1209.7 266.9C1216.4 269.9 1223.0 271.7 1229.7 274.8C1236.4 278.0 1243.0 281.8 1249.7 285.8C1256.3 289.8 1263.0 294.8 1269.7 298.8C1276.3 302.8 1283.0 306.0 1289.6 309.8C1296.3 313.6 1304.5 319.0 1309.6 321.8C1314.8 324.6 1318.8 326.0 1320.6 326.8" stroke="#0000bf"/>
<path d="M556.6 306.4C558.8 305.1 564.0 301.7 569.6 299.0C575.2 296.2 583.3 293.0 590.0 289.8C596.7 286.6 603.3 284.2 610.0 279.8C616.6 275.5 623.9 268.4 629.9 263.9C635.9 259.4 640.9 255.9 645.9 252.9C650.9 249.8 654.2 247.5 659.9 245.5C665.6 243.5 674.2 242.1 679.9 240.9C685.5 239.6 689.9 238.5 693.9 237.9C697.9 237.3 699.5 237.0 703.9 237.5C708.2 238.0 713.8 239.7 719.8 240.9C725.8 242.1 733.2 243.7 739.8 244.9C746.5 246.0 753.1 247.1 759.8 247.9C766.5 248.6 773.8 248.8 779.8 249.5C785.8 250.1 790.8 250.6 795.8 251.9C800.8 253.1 806.1 255.4 809.7 256.9C813.4 258.4 815.3 259.9 817.7 260.9C820.1 261.9 823.1 262.5 824.1 262.9" stroke="#0000df"/>
<path d="M913.6 198.9C915.0 198.1 917.3 194.8 921.6 193.9C926.0 193.1 934.9 194.4 939.6 193.9C944.3 193.4 945.9 191.6 949.6 190.9C953.3 190.3 958.3 190.4 962.0 189.9C965.7 189.5 968.0 188.5 972.0 188.3C976.0 188.2 981.3 188.2 986.0 188.9C990.6 189.7 996.0 191.3 999.9 192.9C1003.9 194.6 1006.3 196.1 1009.9 198.9C1013.6 201.8 1018.3 206.1 1021.9 209.9C1025.6 213.7 1028.3 218.2 1031.9 221.9C1035.6 225.6 1039.2 228.1 1043.9 231.9C1048.6 235.7 1054.9 241.5 1059.9 244.9C1064.9 248.3 1068.9 249.8 1073.9 252.3C1078.9 254.8 1083.9 257.4 1089.9 259.9C1095.8 262.3 1103.2 264.9 1109.8 266.9C1116.5 268.9 1123.2 270.4 1129.8 271.9C1136.5 273.3 1143.8 274.7 1149.8 275.8C1155.8 277.0 1161.8 278.2 1165.8 278.8C1169.8 279.4 1170.4 278.1 1173.8 279.4C1177.1 280.8 1181.8 284.8 1185.8 286.8C1189.7 288.9 1195.7 291.0 1197.7 291.8M1201.7 294.8C1203.1 295.8 1206.7 299.2 1209.7 300.8C1212.7 302.5 1216.4 303.7 1219.7 304.8C1223.0 306.0 1226.4 307.1 1229.7 307.8C1233.0 308.5 1238.0 308.6 1239.7 308.8M1243.7 309.2C1245.4 309.6 1249.4 311.5 1253.7 311.8C1258.0 312.1 1265.0 310.5 1269.7 310.8C1274.3 311.1 1277.7 313.4 1281.7 313.8C1285.6 314.2 1289.0 312.7 1293.6 313.4C1298.3 314.1 1305.3 316.9 1309.6 317.8C1314.0 318.7 1316.3 317.8 1319.6 318.8C1322.9 319.8 1325.5 322.0 1329.6 323.8C1333.7 325.6 1338.9 327.6 1344.0 329.8C1349.0 332.0 1355.0 335.1 1360.0 336.8C1365.0 338.4 1369.3 338.5 1374.0 339.8C1378.6 341.0 1383.6 342.9 1387.9 344.2C1392.3 345.4 1397.9 346.8 1399.9 347.4" stroke="#0020ff"/>
<path d="M961.0 278.8C962.8 278.5 968.5 277.7 972.0 276.8C975.5 276.0 979.0 275.2 982.0 273.8C985.0 272.5 987.0 271.2 990.0 268.9C993.0 266.5 996.6 263.0 999.9 259.9C1003.3 256.7 1006.9 253.2 1009.9 249.9C1012.9 246.5 1014.6 243.4 1017.9 239.9C1021.3 236.4 1026.3 231.3 1029.9 228.9C1033.6 226.5 1036.2 226.0 1039.9 225.5C1043.6 225.0 1048.2 225.3 1051.9 225.9C1055.6 226.5 1057.9 228.0 1061.9 228.9C1065.9 229.8 1071.2 231.3 1075.9 231.5C1080.5 231.7 1085.5 231.0 1089.9 229.9C1094.2 228.8 1098.5 225.9 1101.8 224.9C1105.2 223.9 1106.8 223.6 1109.8 223.9C1112.8 224.2 1116.5 225.2 1119.8 226.9C1123.2 228.6 1124.8 230.4 1129.8 233.9C1134.8 237.4 1143.1 243.2 1149.8 247.9C1156.4 252.5 1163.1 256.9 1169.8 261.9C1176.4 266.9 1183.1 272.5 1189.7 277.8C1196.4 283.2 1203.4 289.0 1209.7 293.8C1216.1 298.7 1224.7 304.6 1227.7 306.8" stroke="#0040ff"/>
<path d="M523.6 327.9C526.3 326.4 533.6 322.1 539.6 318.9C545.6 315.8 554.6 311.3 559.6 308.9C564.6 306.6 564.5 307.1 569.6 305.0C574.7 302.8 583.3 298.5 590.0 295.8C596.7 293.1 603.3 291.8 610.0 288.8C616.6 285.8 623.3 282.3 629.9 277.8C636.6 273.3 643.3 266.7 649.9 261.9C656.6 257.0 663.2 252.0 669.9 248.9C676.6 245.7 683.2 244.5 689.9 242.9C696.5 241.2 703.2 240.4 709.9 238.9C716.5 237.4 723.8 235.7 729.8 233.9C735.8 232.1 740.8 229.3 745.8 227.9C750.8 226.5 755.1 225.8 759.8 225.5C764.5 225.2 769.6 225.7 773.8 225.9C777.9 226.1 782.9 226.4 784.8 226.5" stroke="#0060ff"/>
<path d="M289.9 365.5C296.6 365.1 316.5 363.7 329.9 362.9C343.2 362.1 359.8 361.7 369.8 360.9C379.8 360.1 383.1 359.6 389.8 357.9C396.4 356.2 403.1 353.9 409.8 350.9C416.4 347.9 423.1 342.7 429.7 339.9C436.4 337.1 443.1 335.8 449.7 333.9C456.4 332.1 461.0 331.8 469.7 328.9C478.4 326.1 495.0 319.4 501.7 316.9C508.3 314.4 505.0 315.4 509.7 313.9C514.3 312.4 523.0 310.1 529.6 307.9C536.3 305.8 543.0 303.3 549.6 301.0C556.3 298.6 565.2 296.0 569.6 294.0C574.0 291.9 574.9 289.7 576.0 288.8" stroke="#0080ff"/>
<path d="M761.4 243.5C762.8 242.8 765.7 241.6 769.8 239.5C773.9 237.4 780.8 233.6 785.8 230.9C790.8 228.2 795.4 226.0 799.8 223.5C804.1 221.0 807.7 218.2 811.7 215.9C815.7 213.6 819.1 211.4 823.7 209.9C828.4 208.4 834.7 207.3 839.7 206.9C844.7 206.6 848.7 207.6 853.7 207.9C858.7 208.3 862.4 208.6 869.7 208.9C877.0 209.2 891.0 208.9 897.7 209.9C904.3 210.9 904.3 211.9 909.6 214.9C915.0 217.9 923.0 223.8 929.6 227.9C936.3 232.0 944.5 236.6 949.6 239.5C954.7 242.4 956.3 243.8 960.0 245.5C963.7 247.1 967.6 248.5 972.0 249.5C976.3 250.4 981.4 250.7 986.0 251.1C990.6 251.4 997.3 251.4 999.5 251.5" stroke="#009fff"/>
<path d="M190.0 342.9C192.0 343.2 197.7 343.7 202.0 344.9C206.3 346.1 211.3 348.7 216.0 349.9C220.6 351.1 227.6 351.9 230.0 352.3" stroke="#00bfff"/>
<path d="M1472.3 301.4C1473.5 301.8 1476.9 303.8 1479.8 303.8C1482.8 303.9 1486.5 302.8 1489.8 301.8C1493.2 300.8 1496.5 298.5 1499.8 297.8C1503.2 297.2 1506.1 297.8 1509.8 297.8C1513.5 297.9 1517.8 298.4 1521.8 298.2C1525.8 298.1 1530.1 297.3 1533.8 296.8C1537.4 296.4 1540.3 295.5 1543.8 295.4C1547.3 295.3 1551.8 295.2 1554.8 296.2C1557.8 297.3 1558.6 299.6 1561.8 301.8C1564.9 304.1 1569.1 307.0 1573.7 309.8C1578.4 312.6 1584.4 315.8 1589.7 318.8C1595.1 321.8 1600.7 325.5 1605.7 327.8C1610.7 330.1 1615.0 331.2 1619.7 332.8C1624.4 334.4 1628.7 336.0 1633.7 337.4C1638.7 338.7 1643.7 339.2 1649.7 340.8C1655.7 342.3 1663.0 345.1 1669.6 346.8C1676.3 348.4 1682.7 349.3 1689.6 350.8C1696.5 352.3 1707.6 354.9 1711.2 355.8" stroke="#00bfff"/>
<path d="M396.8 372.3C398.9 371.4 404.3 370.0 409.8 366.9C415.3 363.8 423.1 358.4 429.7 353.9C436.4 349.4 443.1 344.4 449.7 339.9C456.4 335.4 464.0 331.1 469.7 326.9C475.4 322.8 477.0 319.4 483.7 314.9C490.4 310.4 500.3 304.3 509.7 300.0C519.0 295.6 529.6 291.4 539.6 289.0C549.6 286.6 561.2 286.5 569.6 285.6C578.0 284.7 583.3 284.1 590.0 283.4C596.7 282.8 603.3 281.9 610.0 281.8C616.6 281.7 623.3 283.0 629.9 282.8C636.6 282.7 644.3 281.7 649.9 280.8C655.6 280.0 658.9 279.3 663.9 277.8C668.9 276.3 674.6 273.6 679.9 271.9C685.2 270.1 693.2 268.2 695.9 267.5" stroke="#00dfff"/>
<path d="M1312.6 322.2C1315.4 322.1 1323.4 322.1 1329.6 321.4C1335.8 320.7 1343.3 318.8 1350.0 317.8C1356.7 316.8 1363.3 316.1 1370.0 315.4C1376.6 314.7 1383.3 314.0 1389.9 313.4C1396.6 312.8 1403.3 312.1 1409.9 311.8C1416.6 311.5 1423.2 311.3 1429.9 311.4C1436.6 311.5 1443.2 312.2 1449.9 312.2C1456.5 312.2 1463.2 311.6 1469.9 311.4C1476.5 311.2 1483.2 310.7 1489.8 310.8C1496.5 310.9 1504.5 311.5 1509.8 311.8C1515.1 312.1 1518.5 312.8 1521.8 312.8C1525.1 312.8 1526.1 312.0 1529.8 311.8C1533.5 311.6 1540.1 310.9 1543.8 311.4C1547.4 311.9 1548.8 313.2 1551.8 314.8C1554.8 316.4 1560.1 319.8 1561.8 320.8" stroke="#00ffff"/>
<path d="M993.0 197.9C995.1 197.3 1000.4 195.3 1005.9 193.9C1011.4 192.6 1020.3 190.4 1025.9 189.9C1031.6 189.4 1033.9 190.4 1039.9 190.9C1045.9 191.4 1055.2 192.3 1061.9 192.9C1068.5 193.6 1074.5 193.6 1079.9 194.9C1085.2 196.3 1088.9 198.4 1093.8 200.9C1098.8 203.4 1104.5 206.1 1109.8 209.9C1115.2 213.7 1120.8 219.6 1125.8 223.9C1130.8 228.2 1134.1 231.6 1139.8 235.9C1145.5 240.2 1153.1 244.9 1159.8 249.9C1166.4 254.9 1173.1 260.9 1179.8 265.9C1186.4 270.9 1193.7 276.2 1199.7 279.8C1205.7 283.5 1210.1 285.8 1215.7 287.8C1221.4 289.8 1228.0 290.0 1233.7 291.8C1239.4 293.7 1244.7 296.5 1249.7 298.8C1254.7 301.2 1259.0 303.6 1263.7 305.8C1268.3 308.0 1275.3 311.1 1277.7 312.2" stroke="#20ffdf"/>
<path d="M190.0 351.9C193.3 351.2 200.0 348.7 210.0 347.9C220.0 347.1 236.6 346.7 249.9 346.9C263.3 347.1 276.6 348.1 289.9 348.9C303.2 349.7 318.2 350.9 329.9 351.9C341.5 352.9 348.3 353.9 359.8 354.9C371.3 355.9 392.3 357.4 398.8 357.9" stroke="#40ffbf"/>
<path d="M1628.7 323.4C1630.2 324.3 1634.5 327.6 1637.7 328.8C1640.8 330.0 1643.7 330.3 1647.7 330.4C1651.7 330.5 1656.7 330.0 1661.7 329.4C1666.6 328.8 1672.3 327.6 1677.6 326.8C1683.0 326.0 1688.0 325.5 1693.6 324.8C1699.2 324.1 1708.3 323.1 1711.2 322.8" stroke="#40ffbf"/>
<path d="M1069.9 208.9C1072.5 208.4 1080.9 206.2 1085.9 205.5C1090.9 204.9 1095.2 204.5 1099.8 204.9C1104.5 205.3 1108.8 206.3 1113.8 207.9C1118.8 209.6 1123.8 211.4 1129.8 214.9C1135.8 218.4 1143.1 224.4 1149.8 228.9C1156.4 233.4 1163.1 237.7 1169.8 241.9C1176.4 246.0 1183.1 250.0 1189.7 253.9C1196.4 257.7 1203.1 261.4 1209.7 264.9C1216.4 268.4 1223.0 271.5 1229.7 274.8C1236.4 278.2 1243.0 282.0 1249.7 284.8C1256.3 287.7 1263.0 289.5 1269.7 291.8C1276.3 294.2 1283.0 296.5 1289.6 298.8C1296.3 301.2 1303.0 303.8 1309.6 305.8C1316.3 307.8 1324.2 309.5 1329.6 310.8C1335.0 312.1 1337.6 312.6 1342.0 313.8C1346.4 315.0 1351.3 317.0 1356.0 317.8C1360.6 318.6 1365.0 318.5 1370.0 318.8C1375.0 319.1 1380.6 319.0 1385.9 319.8C1391.3 320.6 1399.3 322.8 1401.9 323.4" stroke="#60ff9f"/>
<path d="M190.0 360.5C195.0 360.4 210.0 359.5 220.0 359.9C230.0 360.3 239.9 361.6 249.9 362.9C259.9 364.2 269.9 366.2 279.9 367.9C289.9 369.6 299.9 371.6 309.9 372.9C319.9 374.1 329.9 374.8 339.8 375.5C349.8 376.1 362.8 376.7 369.8 376.9C376.8 377.0 377.3 377.2 381.8 376.5C386.3 375.7 394.3 373.0 396.8 372.3" stroke="#80ff80"/>
<path d="M474.7 333.5C477.2 332.3 485.2 328.5 489.7 325.9C494.2 323.3 496.7 321.8 501.7 317.9C506.7 314.1 513.3 307.0 519.7 303.0C526.0 299.0 534.6 295.9 539.6 294.0C544.6 292.1 548.0 292.0 549.6 291.6M552.6 291.6C555.4 291.2 563.4 292.2 569.6 289.6C575.8 286.9 583.3 279.3 590.0 275.8C596.7 272.4 604.5 270.9 610.0 268.9C615.5 266.8 620.8 264.4 622.9 263.5" stroke="#80ff80"/>
<path d="M1657.7 353.8C1660.3 353.7 1668.3 353.8 1673.6 353.4C1679.0 353.0 1683.4 351.6 1689.6 351.4C1695.9 351.2 1707.6 352.0 1711.2 352.2" stroke="#80ff80"/>
<path d="M813.7 270.9C816.4 269.7 823.7 266.4 829.7 263.9C835.7 261.4 843.0 258.0 849.7 255.9C856.4 253.7 864.4 252.1 869.7 250.9C875.0 249.6 877.5 249.6 881.7 248.3C885.8 246.9 892.5 243.8 894.7 242.9M897.7 240.9C899.7 240.1 905.6 237.2 909.6 235.9C913.6 234.6 917.3 234.9 921.6 232.9C926.0 230.9 931.0 227.6 935.6 223.9C940.3 220.2 945.2 215.1 949.6 210.9C954.0 206.8 957.9 203.1 962.0 198.9C966.0 194.8 970.0 189.9 974.0 185.9C978.0 181.9 982.6 177.4 986.0 175.0C989.3 172.6 991.0 172.3 994.0 171.6C997.0 170.8 1000.6 170.2 1003.9 170.6C1007.3 170.9 1010.3 171.7 1013.9 173.6C1017.6 175.5 1021.6 179.0 1025.9 181.9C1030.2 184.8 1035.2 188.1 1039.9 190.9C1044.6 193.8 1048.9 195.9 1053.9 198.9C1058.9 201.9 1065.2 205.4 1069.9 208.9C1074.5 212.4 1078.2 216.1 1081.9 219.9C1085.5 223.7 1090.2 229.9 1091.9 231.9" stroke="#9fff60"/>
<path d="M373.8 371.9C376.5 371.4 383.8 371.2 389.8 368.9C395.8 366.6 403.1 362.4 409.8 357.9C416.4 353.4 423.1 347.6 429.7 341.9C436.4 336.3 443.1 329.6 449.7 323.9C456.4 318.3 464.7 311.6 469.7 307.9C474.7 304.3 474.7 304.5 479.7 302.0C484.7 299.5 493.0 295.8 499.7 293.0C506.3 290.1 513.0 287.0 519.7 285.0C526.3 283.0 533.0 281.8 539.6 281.0C546.3 280.1 554.6 280.0 559.6 280.0C564.6 279.9 564.5 280.7 569.6 280.6C574.7 280.5 584.3 279.7 590.0 279.4C595.7 279.2 597.3 278.7 604.0 278.8C610.6 279.0 622.3 280.1 629.9 280.2C637.6 280.4 644.6 280.1 649.9 279.8C655.2 279.6 659.9 279.0 661.9 278.8" stroke="#bfff40"/>
<path d="M874.1 262.9C876.0 263.2 881.7 264.6 885.7 264.9C889.6 265.1 893.7 264.9 897.7 264.3C901.7 263.6 905.6 262.2 909.6 260.9C913.6 259.5 918.0 257.3 921.6 256.3C925.3 255.3 928.3 256.1 931.6 254.9C934.9 253.6 938.6 250.5 941.6 248.9C944.6 247.2 946.2 247.4 949.6 244.9C953.0 242.4 957.9 238.2 962.0 233.9C966.0 229.6 970.3 223.9 974.0 218.9C977.6 213.9 981.0 208.8 984.0 203.9C987.0 199.1 989.3 193.5 992.0 189.9C994.6 186.3 997.0 184.3 999.9 182.3C1002.9 180.4 1006.6 179.1 1009.9 178.3C1013.3 177.5 1016.6 177.4 1019.9 177.5C1023.3 177.7 1025.6 178.2 1029.9 179.5C1034.2 180.9 1040.6 183.9 1045.9 185.5C1051.2 187.2 1056.6 188.4 1061.9 189.5C1067.2 190.7 1073.2 190.8 1077.9 192.3C1082.5 193.9 1085.9 196.2 1089.9 198.9C1093.8 201.7 1097.8 205.4 1101.8 208.9C1105.8 212.4 1109.8 216.1 1113.8 219.9C1117.8 223.7 1121.5 227.6 1125.8 231.9C1130.1 236.2 1135.0 241.3 1139.8 245.9C1144.6 250.5 1152.3 257.2 1154.8 259.5" stroke="#dfff20"/>
<path d="M1403.9 296.8C1405.6 296.6 1410.2 295.3 1413.9 295.4C1417.6 295.5 1421.9 297.8 1425.9 297.4C1429.9 297.1 1434.2 294.3 1437.9 293.4C1441.5 292.6 1444.5 291.9 1447.9 292.2C1451.2 292.6 1454.2 295.1 1457.9 295.4C1461.5 295.8 1465.9 294.6 1469.9 294.2C1473.8 293.9 1476.8 293.7 1481.8 293.4C1486.8 293.2 1493.2 292.8 1499.8 292.8C1506.5 292.9 1515.1 293.3 1521.8 293.8C1528.5 294.3 1535.1 294.7 1539.8 295.8C1544.4 297.0 1546.4 298.7 1549.8 300.8C1553.1 303.0 1556.4 306.1 1559.8 308.8C1563.1 311.5 1566.1 314.1 1569.7 316.8C1573.4 319.5 1577.1 321.6 1581.7 324.8C1586.4 328.0 1592.4 332.5 1597.7 335.8C1603.0 339.1 1608.4 342.4 1613.7 344.8C1619.0 347.1 1624.4 348.4 1629.7 349.8C1635.0 351.1 1640.7 351.8 1645.7 352.8C1650.7 353.8 1654.7 354.8 1659.7 355.8C1664.6 356.8 1670.2 357.9 1675.6 358.8C1681.0 359.6 1689.3 360.4 1692.0 360.8" stroke="#ffff00"/>
<path d="M1309.6 288.8C1313.0 288.2 1324.5 285.7 1329.6 284.8C1334.7 284.0 1336.3 284.2 1340.0 283.8C1343.7 283.5 1347.6 282.5 1352.0 282.8C1356.3 283.2 1360.6 285.0 1366.0 285.8C1371.3 286.7 1378.3 287.2 1383.9 287.8C1389.6 288.5 1395.6 288.8 1399.9 289.8C1404.3 290.8 1406.6 292.3 1409.9 293.8C1413.2 295.3 1416.6 297.2 1419.9 298.8C1423.2 300.5 1426.2 302.2 1429.9 303.8C1433.6 305.5 1437.9 307.4 1441.9 308.8C1445.9 310.2 1449.2 311.0 1453.9 312.2C1458.5 313.4 1465.2 314.9 1469.9 315.8C1474.5 316.7 1477.5 317.0 1481.8 317.8C1486.2 318.6 1491.2 320.2 1495.8 320.8C1500.5 321.4 1505.8 320.9 1509.8 321.4C1513.8 321.9 1516.5 322.4 1519.8 323.8C1523.1 325.2 1526.1 327.3 1529.8 329.8C1533.5 332.3 1537.6 336.0 1541.8 338.8C1545.9 341.5 1552.6 344.9 1554.8 346.2" stroke="#ffdf00"/>
<path d="M504.7 324.9C508.8 323.1 522.2 317.8 529.6 313.9C537.1 310.1 543.0 306.0 549.6 302.0C556.3 298.0 562.9 293.5 569.6 290.0C576.3 286.4 583.3 283.7 590.0 280.8C596.7 278.0 603.3 275.5 610.0 272.8C616.6 270.2 623.3 267.7 629.9 264.9C636.6 262.0 643.3 258.2 649.9 255.9C656.6 253.5 663.2 252.4 669.9 250.9C676.6 249.4 684.5 247.6 689.9 246.9C695.2 246.1 697.9 245.8 701.9 246.3C705.9 246.8 709.2 248.4 713.8 249.9C718.5 251.3 723.8 253.0 729.8 254.9C735.8 256.7 743.2 259.1 749.8 260.9C756.5 262.6 766.5 264.7 769.8 265.5" stroke="#ffbf00"/>
<path d="M373.8 386.9C377.8 386.9 391.8 387.2 397.8 386.9C403.8 386.5 404.4 386.4 409.8 384.9C415.1 383.4 424.1 380.2 429.7 377.9C435.4 375.5 437.1 374.2 443.7 370.9C450.4 367.6 460.4 362.4 469.7 357.9C479.0 353.4 490.4 347.9 499.7 343.9C509.0 339.9 518.0 336.4 525.6 333.9C533.3 331.4 538.8 331.3 545.6 328.9C552.5 326.5 563.1 321.1 566.6 319.5" stroke="#ff9f00"/>
<path d="M746.2 238.3C748.5 237.1 756.7 232.6 759.8 230.9C762.9 229.2 764.0 228.4 764.8 227.9M767.8 225.9C768.1 225.6 767.5 225.6 769.8 223.9C772.1 222.2 777.4 218.4 781.8 215.9C786.1 213.4 791.1 210.9 795.8 208.9C800.4 206.9 805.1 204.8 809.7 203.9C814.4 203.0 818.7 203.5 823.7 203.5C828.7 203.5 835.4 202.9 839.7 203.9C844.0 205.0 844.7 207.3 849.7 209.9C854.7 212.6 863.7 216.7 869.7 219.9C875.7 223.1 880.8 226.4 885.7 228.9C890.5 231.4 896.5 233.9 898.7 234.9" stroke="#ff9f00"/>
<path d="M1170.8 250.9C1173.3 251.2 1179.9 251.5 1185.8 252.9C1191.6 254.2 1198.4 256.5 1205.7 258.9C1213.1 261.2 1222.4 264.9 1229.7 266.9C1237.0 268.9 1243.0 269.6 1249.7 270.9C1256.3 272.1 1263.0 273.5 1269.7 274.2C1276.3 275.0 1283.0 274.8 1289.6 275.4C1296.3 276.0 1303.0 276.8 1309.6 277.8C1316.3 278.9 1322.9 280.2 1329.6 281.8C1336.3 283.5 1343.3 286.0 1350.0 287.8C1356.7 289.7 1364.0 291.2 1370.0 292.8C1376.0 294.5 1380.9 296.3 1385.9 297.8C1390.9 299.4 1395.3 300.9 1399.9 302.2C1404.6 303.6 1409.6 304.5 1413.9 305.8C1418.2 307.1 1422.2 309.0 1425.9 310.2C1429.6 311.4 1431.9 312.2 1435.9 312.8C1439.9 313.4 1445.0 313.5 1449.9 313.8C1454.7 314.1 1462.4 314.6 1464.9 314.8" stroke="#ff8000"/>
<path d="M1365.6 329.4C1368.0 329.0 1374.2 328.2 1379.9 326.8C1385.7 325.4 1393.3 323.0 1399.9 320.8C1406.6 318.6 1413.2 316.1 1419.9 313.8C1426.6 311.5 1433.2 309.3 1439.9 306.8C1446.5 304.3 1453.2 301.1 1459.9 298.8C1466.5 296.6 1473.8 294.9 1479.8 293.4C1485.8 291.9 1490.8 290.5 1495.8 289.8C1500.8 289.2 1505.5 289.4 1509.8 289.4C1514.1 289.5 1517.8 289.7 1521.8 290.2C1525.8 290.8 1529.8 291.6 1533.8 292.8C1537.8 294.1 1542.1 296.2 1545.8 297.8C1549.4 299.5 1552.4 300.7 1555.8 302.8C1559.1 305.0 1561.8 308.1 1565.8 310.8C1569.7 313.5 1575.1 316.1 1579.7 318.8C1584.4 321.5 1588.7 324.0 1593.7 326.8C1598.7 329.6 1604.4 333.0 1609.7 335.8C1615.0 338.6 1619.7 341.1 1625.7 343.8C1631.7 346.4 1642.3 350.4 1645.7 351.8" stroke="#ff6000"/>
<path d="M190.0 356.9C194.0 357.3 205.7 358.3 214.0 359.5C222.3 360.7 230.6 362.5 239.9 363.9C249.3 365.3 259.6 366.8 269.9 367.9C280.2 369.0 291.9 369.8 301.9 370.5C311.9 371.1 320.9 371.6 329.9 371.9C338.8 372.2 351.5 372.2 355.8 372.3" stroke="#ff4000"/>
<path d="M1587.7 346.2C1591.4 346.1 1602.7 345.9 1609.7 345.8C1616.7 345.6 1623.0 345.4 1629.7 345.4C1636.3 345.3 1643.0 345.1 1649.7 345.4C1656.3 345.6 1663.0 346.3 1669.6 346.8C1676.3 347.2 1682.7 347.5 1689.6 348.2C1696.5 348.8 1707.6 350.3 1711.2 350.8" stroke="#ff4000"/>
<path d="M215.0 359.3L249.9 355.5M252.9 355.1L297.9 352.3M301.5 351.9L338.8 349.9M344.8 349.7C350.7 349.5 370.6 349.1 379.8 348.5C389.0 347.9 393.1 347.7 399.8 346.3C406.4 344.9 413.1 342.1 419.8 339.9C426.4 337.7 431.4 335.4 439.7 332.9C448.1 330.4 459.5 327.7 469.7 324.9C479.9 322.2 495.5 317.9 500.7 316.5" stroke="#ff2000"/>
<path d="M701.9 278.8C703.9 278.0 709.2 275.5 713.8 273.8C718.5 272.2 724.5 270.7 729.8 268.9C735.2 267.0 740.8 265.2 745.8 262.9C750.8 260.5 755.8 257.4 759.8 254.9C763.8 252.4 764.8 251.2 769.8 247.9C774.8 244.5 783.1 240.2 789.8 234.9C796.4 229.6 804.1 220.7 809.7 215.9C815.4 211.1 819.4 208.5 823.7 205.9C828.1 203.3 831.4 201.9 835.7 200.3C840.0 198.7 844.0 197.0 849.7 196.3C855.4 195.7 863.7 196.6 869.7 196.3C875.7 196.1 879.0 195.1 885.7 194.9C892.3 194.8 902.3 195.3 909.6 195.5C917.0 195.8 923.0 195.8 929.6 196.3C936.3 196.9 944.2 198.0 949.6 198.9C955.0 199.9 957.8 200.9 962.0 201.9C966.2 202.9 972.8 204.4 975.0 204.9" stroke="#ff0000"/>
<path d="M190.0 377.9L196.0 377.5" stroke="#df0000"/>
<path d="M1191.7 260.9C1194.7 260.9 1203.4 260.3 1209.7 260.9C1216.1 261.4 1222.4 263.2 1229.7 264.3C1237.0 265.4 1247.0 266.0 1253.7 267.5C1260.3 268.9 1263.7 270.5 1269.7 272.8C1275.7 275.2 1284.3 279.0 1289.6 281.8C1295.0 284.7 1298.0 287.2 1301.6 289.8C1305.3 292.5 1308.3 295.4 1311.6 297.8C1314.9 300.2 1319.9 303.2 1321.6 304.2" stroke="#df0000"/>
<path d="M1535.8 346.8C1538.1 347.5 1544.8 349.9 1549.8 351.4C1554.8 352.9 1559.8 354.4 1565.8 355.8C1571.7 357.1 1578.4 358.2 1585.7 359.4C1593.1 360.5 1602.4 362.0 1609.7 362.8C1617.0 363.5 1623.0 363.5 1629.7 363.8C1636.3 364.0 1643.0 364.0 1649.7 364.2C1656.3 364.3 1663.0 364.4 1669.6 364.8C1676.3 365.1 1682.7 365.7 1689.6 366.2C1696.5 366.6 1707.6 367.2 1711.2 367.4" stroke="#df0000"/>
<path d="M620.9 313.8C624.8 312.5 637.4 309.2 643.9 306.2C650.4 303.2 653.9 299.7 659.9 295.8C665.9 291.9 674.2 286.5 679.9 282.8C685.5 279.2 688.9 276.3 693.9 273.8C698.9 271.4 703.9 270.0 709.9 267.9C715.8 265.7 723.2 264.2 729.8 260.9C736.5 257.5 743.2 252.4 749.8 247.9C756.5 243.4 763.8 237.8 769.8 233.9C775.8 230.0 781.4 226.1 785.8 224.3C790.1 222.5 791.8 222.6 795.8 222.9C799.8 223.2 803.3 223.9 809.7 225.9C816.2 227.9 830.6 233.4 834.7 234.9" stroke="#bf0000"/>
<path d="M1034.9 212.9C1037.4 212.7 1044.4 212.0 1049.9 211.5C1055.4 211.0 1062.5 209.8 1067.9 209.9C1073.2 210.0 1076.9 210.9 1081.9 211.9C1086.9 212.9 1093.2 214.4 1097.8 215.9C1102.5 217.4 1105.5 218.2 1109.8 220.9C1114.2 223.6 1121.5 230.1 1123.8 231.9" stroke="#bf0000"/>
<path d="M210.0 368.9C213.3 369.0 222.6 369.1 230.0 369.3C237.3 369.5 245.6 370.1 253.9 370.3C262.3 370.5 271.9 370.6 279.9 370.5C287.9 370.4 293.6 370.3 301.9 369.5C310.2 368.7 320.9 367.1 329.9 365.9C338.8 364.7 348.5 363.6 355.8 362.3C363.2 361.0 368.1 360.0 373.8 358.3C379.5 356.6 383.8 354.9 389.8 352.3C395.8 349.7 403.1 345.8 409.8 342.9C416.4 340.0 423.1 337.5 429.7 334.9C436.4 332.4 443.1 329.9 449.7 327.5C456.4 325.2 464.4 322.6 469.7 320.9C475.0 319.3 479.7 318.1 481.7 317.5" stroke="#9f0000"/>
<path d="M190.0 339.9C191.7 339.7 196.7 339.0 200.0 338.7C203.3 338.5 208.3 338.4 210.0 338.3M213.0 338.3C215.1 338.4 219.1 337.9 226.0 338.5C232.8 339.1 243.9 340.6 253.9 341.9C263.9 343.2 275.2 344.8 285.9 346.3C296.6 347.8 308.5 349.4 317.9 350.9C327.2 352.4 335.7 354.2 341.8 355.5C348.0 356.8 352.7 358.3 354.8 358.9" stroke="#800000"/>
<path d="M1585.7 307.4C1587.4 308.4 1592.4 311.3 1595.7 313.4C1599.1 315.5 1602.0 317.6 1605.7 319.8C1609.4 322.0 1613.7 324.6 1617.7 326.8C1621.7 329.0 1625.7 331.5 1629.7 332.8C1633.7 334.1 1637.0 334.6 1641.7 334.8C1646.3 335.0 1651.7 334.4 1657.7 334.2C1663.6 334.0 1671.3 333.7 1677.6 333.4C1684.0 333.1 1690.0 332.3 1695.6 332.2C1701.2 332.1 1708.6 332.7 1711.2 332.8" stroke="#800000"/>
</g>
<g fill="none" stroke-width="3.9" stroke-linejoin="round" stroke-linecap="round" clip-path="url(#c1)">
<path d="M441.7 516.6l1-0.6 1 0.4 1-1.7 1-0.3 1 0 1 1.8 1-0.4 1 0 1 0.6 1-1.3 1 1.3 1-1.4 1 0.1 1-0.6 1 1.1 1 0.4 1-0.4 1-0.5 1 0.5 1-0.5 1 0.4 1 1 1-1.9 1 0 1 0.8 1 0 1-0.9 1 1.1 1-0.6 1 0.1 1-0.6 1 1.3 1-1.4 1 0.7 1 0.6 1-1.3 1 0.5 1 0.3 1-1.1 1-0.1 1-0.1 1 1.2 1 0.6 1.1-0.8 1 1.5 1-0.2 1-0.4 1-0.1 1-0.4 1-0.8 1-0.7 1 0.2 1-0.2 1-0.7 1 1.5 1 0.4 1-0.4 1 0.1 1-1.3 1 1.2 1-0.6 1 0.7 1-1.5 1 0.2 1 1.5 1-0.8 1-0.5 1-0.1 1 0.7 1 1.1 1-0.6 1 0 1 0 1-0.6 1 2.3 1-1.5 1 1.3 1-1 1 0.6 1 0 1-1.2 1 0.2 1-0.2 1 0.4 1 0.1 1-0.5 1-0.5 1 0.7 1-2.1 1 0.2 1 0 1-0.3 1 0 1 1.3 1 0 1-0.4 1-0.6 1 0.5 1-1.1 1 1 1-0.3 1 0.7 1-1.3 1 0.2 1 0.9 1-1.4 1 1.3 1-1.5 1 0.9 1 1.1 1 0 1 0.1 1 0.3 1-0.7 1 0 1 0.6 1-1.3 1 1.2 1-1.2 1 0.4 1 0.1 1 0.5 1-0.5 1 1.5 1-0.4 1-0.6 1 0.9 1-0.8 1-1.1 1 1.2 1-1 1 1.3 1-1.4 1-0.2 1-0.9 1-0.6 1-0.3 1 1.1 1 0.9 1 0.9 1-0.9 1 0.8 1-0.3 1 0.8 1-0.5 1 1.9 1-0.9 1-1.1 1 0.2 1 0.4 1-0.4 1 0.2 1-0.6 1-0.9 1 1 1 1 1-0.5 1-0.1 1-1.1 1 1.4 1-0.4 1-0.7 1 0.2 1 0.8 1-0.2 1-0.6 1-0.9 1 0.5 1-1.5 1 1.1 1-0.5 1-1 1 0.8 1 1.1 1-1.2 1-0.4 1 0.8 1 0.1 1-0.9 1 2.1 1-1.3 1 2.4 1-0.7 1-1.4 1 0.3 1 0.3 1-0.3 1 0.8 1-0.9 1 1.4 1-1.1 1 1 1-1.1 1-0.4 1 0.1 1-1.5 1-0.4 1 0.9 1 1.2 1-0.6 1 0.1 1 1.5 1-0.6 1-1.8 1 1.2 1 0.2 1-0.3 1 0.3 1-0.6 1 0.4 1-0.6 1 1.1 1 0.1 1-0.4 1-1.5 1-0.4 1-0.8 1 0.2 1 0.5 1 0.4 1 0.3 1-0.1 1 0.5 1 0.3 1-0.6 1 1.3 1-1.1 1-0.2 1 0.3 1-0.5 1-0.1 1 0.1 1 0.8 1-0.9 1 0.9 1 1 1-1.3 1 0.1 1-0.7 1-0.5 1 0.4 1 1.1 1 0 1-1.2 1 1 1 0.4 1-1.5 1-1.5 1 1 1 0.6 1 0.2 1 0.5 1 0 1 0.7 1 0 1 0.4 1 0.1 1-0.2 1-2 1 1.5 1-1.5 1-0.1 1 0.2 1 0.1 1 1.6 1 0.6 1-0.2 1-0.4 1-0.5 1-0.3 1 0.8 1-0.7 1-0.9 1-0.3 1 0.4 1-0.5 1 0.8 1-0.2 1-1.7 1 3 1-0.7 1-0.1 1 0.5 1 0.1 1-1.1 1-0.2 1 0.5" stroke="#00009f"/>
<path d="M1033.9 524.0l1-0.9 1 0 1 1.7 1 0.2 1-0.9 1 0.9 1-1.5 1 1.2 1-0.4 1 1.2 1-1.7 1 1.5 1 1.2 1-2 1 0.8 1.1-1.1 1 1.2 1-0.4 1-0.6 1-0.5 1 0.8 1-0.5 1 0 1 0.8 1-1 1 0.7 1 0.5 1-1.3 1 2.5 1-2.1 1-0.6 1 0.9 1 0.7 1-0.3 1-0.3 1-0.6 1-0.7 1 0.4 1 1.3 1 0.2 1 1.8 1-1.9 1 0.6 1-1 1-1.6 1 0.6 1 1.5 1-1.6 1 0.8 1-1.3 1-0.6 1 1.8 1-0.1 1 0 1-0.6 1 0.2 1.1-0.2 1 1.1 1-0.8 1 1.2 1-1 1-1 1-0.3 1 1.6 1-0.2 1 0 1-0.3 1-1.5 1 1.5 1-0.3 1-0.3 1 0.5 1 0.5 1-1.2 1 1.1 1-0.5 1-0.1 1 0 1 2.2 1-1.7 1 0.3 1 0.3 1-0.4 1 0.8 1-0.3 1-0.8 1-0.4 1 1.2 1-2.6 1 1.1 1 0.1 1-0.2 1 0.1 1 0 1-0.6 1 0 1 0 1.1 0.8 1-0.3 1-0.7 1-0.4 1-1.4 1-0.1 1 0.8 1 1 1-0.3 1 1.1 1-1.6 1 0.1 1-0.1 1 0 1-0.1 1-0.5 1 1.2 1-0.5 1 1 1-0.8 1 0.9 1 0.3 1-0.6 1 0.2 1-1.5 1-1.2 1 2.2 1-1.1 1 0.9 1 0.6 1-0.4 1-0.6 1-0.4 1-1.8 1 1.3 1-1.2 1 0.7 1 0.5 1-0.1 1-0.7 1 0 1.1-0.2 1-0.3 1 1.5 1-2.1 1-0.3 1 0.9 1 0.1 1 1.1 1-0.4 1-0.1 1 0 1-0.9 1 0.9 1 0.4 1 0.4 1-0.6 1 0.2 1 0.6 1 0.7 1-2.4 1 1.3 1-0.7 1 0.1 1-0.6 1-0.7 1 0.7 1 0.5 1-0.3 1-0.7 1 1.9 1-1.5 1 0.3 1 1.5 1-1 1-0.2 1-0.4 1 1.1 1-1.6 1 1 1-0.3 1-1.5 1.1 0.9 1 0.2 1 0.8 1-0.1 1-1.4 1-0.1 1 0.4 1-0.3 1 0.9 1-0.1 1-0.1 1 1.1 1 0 1-0.7 1 0.4 1 0.2 1-0.9 1-0.3 1-1.4 1 0.4 1-0.1 1-0.4 1 0.5 1 0.3 1-0.2 1-0.1 1-0.3 1-0.4 1 1.2 1-0.4 1 0.1 1 0.1 1 0.5 1-0.2 1-0.5 1-0.3 1 0.8 1-1.2 1 0.1 1 1.6 1-0.5 1.1 0.6 1-1.1 1 0.5 1 0.5 1-0.1 1-0.3 1-1.3 1 0.5 1-0.3 1 0.7 1 2 1-2.5 1 1.1 1-1 1-0.6 1 0.2 1 0.3 1-0.5 1 0.1 1 0.7 1-0.3 1 0.2 1-1.1 1-0.2 1-0.7 1 1.1 1-0.1 1-0.2 1-0.4 1-0.4 1 0.4 1 1.2 1 0.6 1-1.1 1 0.6 1 0.2 1-0.7 1-0.6 1 0.6 1 0.2 1-2.3 1.1 1.2 1-0.2 1 0.4 1 1.1 1-0.3 1-1.2 1 0.4 1 0.2 1 0.8 1 0.1 1-1.6 1 0.2 1-1 1 0 1 0 1 1.4 1 0.6 1-0.7 1 0.9 1-0.8 1 0 1 0.1 1 0.7 1-0.4 1-0.1" stroke="#0000bf"/>
<path d="M556.6 514.2l1 1.8 1-0.8 1-0.3 1 0.6 1 0.4 1-0.8 1 1.2 1 0.1 1 0 1-0.3 1-0.7 1 0.6 1 0.7 1 0 1 0.8 1-0.2 1-0.9 1 1.9 1.1-2.8 1 0.2 1 0.2 1-1.6 1 1.3 1-0.5 1-0.2 1-0.2 1 0.1 1 1.1 1-0.6 1 0.3 1-0.5 1 0.4 1 0.4 1 0.1 1 0.1 1-0.2 1 0.9 1-1.5 1 0.8 1 0.2 1-0.3 1-0.8 1 0.5 1 0.2 1-1.4 1-0.3 1 0.6 1 1 1-0.1 1-0.4 1 0.5 1-1.5 1 0.8 1-2 1 0.8 1-0.7 1 1.4 1-0.2 1 0.5 1 0.1 1 0.2 1 0 1 0.3 1-1 1-0.2 1 0 1 1.4 1-0.3 1 0.3 1.1-0.2 1 0.2 1 0.2 1 0.5 1 0.5 1-0.6 1-0.1 1-1.2 1 0.5 1 0.7 1 0.4 1-1.3 1 0.7 1-0.1 1-1.6 1 0.2 1-0.3 1-0.6 1 0.1 1 1.7 1-1.1 1 0.4 1-0.2 1 0.2 1 0.1 1-1.2 1 1.5 1 0.2 1-0.3 1-0.1 1 0.1 1-1 1 1.2 1 0.5 1 0.3 1 1.1 1-0.3 1-0.6 1-1.4 1-0.1 1 0.3 1-0.1 1-0.2 1 1.6 1-1.4 1 0.3 1 0 1-0.8 1 0.6 1 0.4 1-2.4 1 2.1 1.1-0.5 1-0.7 1 1.5 1-1.1 1-0.4 1-1.3 1 2.3 1 0.1 1-0.6 1 0.7 1 0.2 1-1.5 1-0.1 1-0.5 1-0.1 1 0 1 0.7 1 1 1 0.6 1 0.1 1-0.5 1-0.2 1 0.3 1 0.1 1-1.9 1 0.5 1 0.9 1-1.3 1 0.6 1-1.5 1 0.5 1 0.4 1 0.6 1-0.2 1 1 1-0.5 1 0.2 1-0.9 1 0.3 1-0.3 1 0.9 1-0.2 1 0.9 1-0.9 1 0.6 1-0.9 1-0.1 1-0.1 1 1 1-0.7 1 0.8 1-2 1.1 2 1-0.9 1 0.6 1-1.9 1 1.1 1 0 1 0.1 1 0.5 1 0.2 1-0.8 1-0.3 1-0.3 1-0.4 1-0.8 1 0.8 1-0.7 1-0.5 1 0.6 1-0.1 1 0.6 1 0.2 1-1.4 1 1.2 1 0.3 1-0.2 1 0.4 1-0.8 1 2.2 1-1.5 1 0 1 0.7 1-0.6 1-0.9 1-1.5 1 1.4 1-0.4 1-1.9 1 0.4 1 1.2 1 3.1 1-1.7 1 1.2 1-1.5 1 0.2 1-0.5 1 0.2 1-0.6 1 0.4 1 2.6 1-0.7 1-1.6 1.1 0.4 1 1 1-1.2 1 0 1-0.2 1-0.5 1 0 1 0.3 1 0.2 1 1.5 1-0.4 1-0.3 1-1.3 1 0.2 1 0.7 1-0.1 1 0.2 1-0.3 1-0.4 1-0.8 1 0.2 1 1 1 1.1 1-0.7 1-0.3 1 0.1 1 0.5 1 0.5 1-0.7 1-0.7 1-0.3 1 0.3 1-1.5 1 1.3 1-0.8 1 0.9 1 0.8 1 0.1 1 1.2 1-0.8 1 0.1 1-1.8 1-0.2" stroke="#0000df"/>
<path d="M913.6 522.7l1 0.2 1-0.9 1 0.5 1 0.2 1-1 1-1 1 0.7 1-0.7 1 0.8 1-0.1 1 1.2 1-0.8 1 0.4 1 0.3 1-0.7 1 0.6 1-0.8 1-0.2 1 0 1 1.1 1-0.4 1-0.1 1 0.1 1-0.4 1 1.2 1-1.1 1 0 1-0.2 1 0 1-0.5 1 1.8 1-0.7 1.1 0.1 1-0.2 1-1.7 1 0.3 1 1.1 1-0.7 1-0.5 1-0.8 1 0.1 1-0.1 1 0.9 1-1.6 1 0.1 1-0.3 1-0.9 1-0.2 1-2 1 0.5 1 1.2 1 0.9 1-2.2 1 1 1-1.6 1-1.4 1 2.1 1-1.1 1 0.6 1 0 1-0.7 1-1 1 0 1-0.1 1-1.5 1-0.4 1 0.1 1-2 1 2 1 0.7 1-0.2 1 0.7 1 0.4 1-3 1 0.9 1-0.1 1-0.3 1 1.6 1 0.5 1-0.5 1-0.6 1 0.4 1-0.3 1 0.6 1-1.5 1 0.7 1-1 1 1 1 0.1 1 0.6 1 0 1 0.6 1-1.1 1 0.3 1-0.4 1 0.1 1 0.2 1 0.2 1-0.2 1 0.5 1-0.2 1-0.4 1-0.6 1 1.4 1-0.5 1 0.4 1 0.5 1-1.2 1-0.3 1-0.1 1-1 1 2.3 1-1.6 1-0.4 1 0.8 1-0.2 1 1.3 1 0.5 1 0.2 1-1.6 1 0.4 1 0.9 1 0 1-0.1 1 0.7 1-1 1-1.2 1-0.1 1 0.9 1-0.7 1 1.3 1 0.8 1 1.2 1-2.3 1 1 1-2.4 1 2.1 1 1 1 1.4 1-1.3 1 0.5 1-0.7 1 0.9 1-2.1 1 0.1 1 1.4 1 0 1-0.6 1 0.4 1 0.2 1-1.8 1 1.7 1-0.2 1-0.1 1 1.4 1-1 1-0.9 1 0.2 1 0.8 1-0.5 1 0.6 1-0.5 1 0.3 1 0.3 1 0.8 1-1.2 1-1 1 0.6 1 0.3 1 1.3 1 0.4 1-0.6 1-0.1 1-0.1 1 0.5 1 0.2 1-0.1 1-0.1 1 1 1 0.4 1-1.7 1 0.6 1-0.6 1 0.7 1-1.7 1 1 1 0.2 1 1.8 1-0.8 1 0.2 1-0.8 1 0.1 1 1.5 1-0.5 1 2.2 1-1.3 1-1.1 1 0.2 1-1.3 1 0.1 1 0.9 1-1.4 1 0.9 1 0.8 1 0.8 1 0.2 1-0.5 1-0.8 1 0.1 1 0 1 1.5 1-0.7 1 0.6 1-0.9 1 1.6 1 0.5 1 0.6 1-2.3 1 0.3 1-0.3 1 0.5 1-1.7 1 1 1-1.1 1 0.6 1 1.3 1 0.3 1 0.1 1-0.5 1 0.4 1-0.1 1 0.3 1-0.5 1-0.5 1 0 1-1.1 1 2.3 1-0.7 1-0.8 1 1.2 1 0.1 1-2.4 1 0.7 1 0.6 1-1.3 1 1.7 1 0.3 1-0.4 1 0.5 1-0.1 1-0.7 1 0.1 1-0.9 1-0.1 1 0 1 0.7 1 0.9 1 0.1 1-0.9 1-0.8 1 0.6 1 1.7 1-0.9 1 1.1 1-1.7 1 0.5 1-0.4 1 0.1 1 0.9 1-0.9 1 0.7 1-1 1-0.5 1-1.5 1 2.3 1 0.6 1 0.5 1-1.4 1 0.8 1-0.5 1-1.1 1 1 1-1.7 1 0M1201.7 519.6l1.1-0.4 1-0.1 1-0.1 1-0.8 1.1-0.2 1 1 1 0.5 1-0.9 1.1 0 1 0.7 1-0.6 1-0.4 1.1 0.5 1-1.1 1-1 1.1 0.9 1 1 1-0.5 1 1.3 1.1 0 1-1.7 1-0.5 1 0.4 1.1-0.3 1 0.9 1 0.3 1-1 1.1 1.6 1-1.5 1-0.5 1 0.6 1.1-0.9 1 0 1 0.9 1-0.3 1.1 0.7 1-0.6M1243.7 517.2l1-0.1 1 0.5 1-1.3 1 0.5 1 1.4 1 0.1 1 0.4 1-0.6 1-1.6 1-0.2 1-0.3 1 0.4 1 1.2 1 0 1-0.4 1 0.8 1-0.9 1 0.4 1 0.2 1 0.2 1 0.3 1-1 1 0.3 1-0.4 1 0 1-0.3 1-0.4 1-0.5 1 0.5 1 0.5 1 2 1 0 1 0.1 1-2.3 1 1.5 1-1.2 1-0.3 1 1.2 1-1.5 1.1 0 1 0.1 1-0.1 1 1.5 1 0.4 1-1 1-0.3 1 0.3 1 0.9 1-1.4 1 1.4 1 0.2 1-0.3 1-0.4 1 0.3 1 0 1 0.5 1 0.8 1-0.7 1-0.9 1-0.4 1-0.4 1-0.3 1 1 1-0.9 1 1.5 1-0.6 1 0.6 1 0.5 1-1.7 1 0.8 1-0.2 1 0.5 1 0.6 1-0.2 1 0.2 1-1.1 1 0.1 1 0.6 1-0.1 1-0.1 1-0.3 1 1 1-1.4 1-0.8 1-0.1 1 1.2 1-0.4 1 0.8 1-1.8 1 1.1 1 0.3 1-0.4 1-0.1 1 0 1-0.5 1-1.1 1 1.4 1 0.2 1-0.8 1 1.2 1-0.2 1 0.2 1-0.9 1 0.5 1-0.4 1.1 0.9 1 0 1-0.7 1 2.2 1-1.2 1 0 1 0.2 1 0.5 1-1.9 1 0.8 1-0.5 1 1 1 0.5 1-0.4 1 0.6 1-0.8 1-0.3 1-0.6 1-0.1 1-0.2 1-1.7 1 1.1 1 1.1 1-0.4 1 0.2 1-0.1 1 0.6 1-0.2 1-1.3 1 1.1 1 0.4 1 0.8 1-0.2 1-0.6 1 1.2 1-0.6 1 3 1-2.4 1-1.1 1-0.8 1 0 1 1 1-1.1 1 1.5 1 1.5 1-0.7 1-0.4 1-0.6 1 0 1 0.8 1-2.6" stroke="#0020ff"/>
<path d="M961.0 520.9l1-0.1 1 0.7 1-1.4 1 1.2 1-0.2 1 0.4 1-0.8 1 2.1 1-3 1 0.8 1 0.9 1-0.4 1-0.6 1 1.3 1 0.8 1-0.3 1-1.7 1 1.7 1-0.9 1 0 1-1.6 1 0.8 1.1-0.8 1 0.6 1 0.5 1-0.8 1-0.5 1 1.4 1-2 1-0.6 1 1 1-0.3 1 0.8 1 0.6 1 0.3 1-0.2 1-0.4 1 0.9 1-0.3 1 0.8 1-1.3 1-0.1 1 0.1 1-1.2 1 0 1 0.3 1 2 1-1.5 1 0.3 1 0.1 1 0.6 1 0 1-1 1 0.4 1 0.2 1-0.3 1 0.7 1-0.8 1-1 1.1 2.1 1-0.6 1 0.1 1 0.5 1-0.8 1-0.4 1 1.2 1 0.1 1-1.1 1 0.4 1-0.4 1-0.2 1-0.1 1-0.7 1 0.6 1 0.6 1-0.9 1-0.5 1 0.7 1-0.9 1 0.2 1 1.2 1 0.1 1-0.7 1-0.4 1 0.2 1 1.2 1 0.3 1-0.5 1-0.2 1-0.3 1 0 1-1.2 1 1.3 1-1.4 1 1.2 1-1.3 1.1 0.4 1 1.7 1-0.6 1 0.3 1-0.2 1-0.6 1 0.1 1 0.3 1-0.5 1 0.3 1 0.6 1 0.4 1-2.8 1 0.6 1 0.7 1 1.1 1-0.2 1-0.4 1 0.4 1-2.4 1 1.2 1-0.7 1 1.7 1 0.4 1 0.5 1-0.4 1-0.3 1 0 1-1.2 1-0.1 1-0.5 1 0.8 1 1.2 1-0.4 1-1.7 1 1.2 1-1 1.1 0.4 1 0 1-0.4 1 0.8 1 0 1-0.2 1-0.2 1-0.1 1-0.7 1 0.6 1 1 1-1 1 1.2 1-0.5 1 0.5 1-0.7 1 0.4 1 0 1-1 1 1.5 1-0.4 1 0.3 1 0.4 1-2.1 1 1.1 1-0.8 1 0.2 1-0.4 1 0.3 1 0.3 1 0.2 1-0.2 1-1.1 1 0.7 1 0.1 1 0 1-2.1 1.1 0.6 1 0.8 1 0 1 1 1 0.1 1-0.2 1 0.5 1 0.1 1-1.3 1-1.3 1-0.5 1 1.9 1-0.9 1-0.1 1 1 1-0.4 1 1.5 1-1.6 1 0.7 1-0.1 1-1.4 1-2.2 1 2.7 1 0.4 1 0.1 1 1.1 1-1 1 1.6 1-0.3 1-1 1-0.7 1-0.1 1-0.1 1 1.5 1-0.5 1-0.4 1-0.6 1.1 0.6 1 0.5 1-0.2 1-1 1 0 1-1.1 1 2.2 1 0 1 1.2 1-0.2 1-0.1 1-1.5 1 0 1-0.1 1 0.5 1 0.9 1-0.4 1 0.2 1-0.4 1-1 1 0.5 1 0.9 1 0.3 1-0.2 1-0.2 1 0.2 1-1.1 1-0.3 1 0.7 1 0.5 1 0 1-0.7 1-1 1 0 1 0.3 1-0.1 1-0.9 1.1 0.7 1-0.4 1 0 1 1.3 1-0.2 1 0.2 1 0.8 1 0.6 1-0.4 1-1.4 1 0.4 1-0.6 1 1.1 1 0 1-0.6 1 0.5 1-0.6 1-1.1 1 0.9 1 0.7 1 0.2 1-0.3" stroke="#0040ff"/>
<path d="M523.6 517.1l1-0.5 1-0.7 1.1 0.1 1 0.4 1-0.9 1 1.5 1 0 1 0 1 0 1 1.3 1-2.6 1 0 1-0.5 1 2.5 1-0.4 1-0.9 1 0.1 1-0.8 1 1.2 1-1.1 1 1 1 0.8 1-0.3 1 0 1-0.4 1-0.6 1 0.3 1-0.8 1 1.4 1 0.8 1-1.4 1-0.5 1-0.1 1 0.9 1-0.5 1-0.6 1 1.7 1-0.6 1-0.2 1-1.3 1 0.8 1 0.5 1-0.4 1-0.5 1 1.3 1-1.3 1 0.3 1 0.1 1-0.3 1 1 1-0.3 1 0.6 1-0.8 1 0.8 1-0.2 1 0.2 1-0.1 1 0.2 1-0.1 1 0 1-0.1 1 0 1 0.7 1-1.2 1 0.9 1 0 1 0.4 1-1.5 1 1 1-1.3 1-0.9 1-0.4 1 0.6 1 0.6 1 1.3 1-1.8 1-0.1 1 0.2 1 0.2 1 0.8 1 0.4 1-0.8 1 0.7 1 1.5 1-1.3 1 0.1 1-0.4 1 0.2 1 0.5 1-0.6 1-0.6 1 1.6 1-2.1 1 1.3 1 0.5 1-1.4 1 1.7 1-1.7 1 0.1 1 0.8 1-1.1 1 0.7 1 0 1 1 1-1.5 1 0.2 1-1.3 1 0.9 1-0.2 1 0 1 0.3 1-0.8 1 0.6 1 0.2 1-0.2 1-0.1 1 0.9 1-1 1 0.5 1 1 1-1 1 0 1 0.7 1-0.5 1-0.8 1 1 1-0.1 1-1.1 1 0.4 1-1.4 1 2 1-0.7 1 0.6 1-0.3 1 0.3 1 0.3 1 0 1-0.3 1-1.4 1 1.7 1-1.3 1 0.2 1 0.4 1-1.7 1 1.8 1-1.9 1 2.1 1-0.7 1-0.5 1 2.9 1-0.3 1-1.8 1 0.5 1 0.1 1-1.2 1 1 1-0.6 1-0.9 1 1.5 1-0.4 1-0.9 1-0.3 1 0.9 1-0.3 1 0.7 1 0.5 1 0.3 1 0.1 1 0.3 1-0.6 1-0.9 1-1.3 1-0.7 1 0.9 1 0.1 1 0.6 1 0.4 1 0.8 1-0.2 1-1.4 1 1.7 1-0.5 1 0.7 1-1.2 1-0.2 1-0.1 1 0.5 1-1.2 1 0.2 1-0.6 1 2.1 1-0.7 1 0.4 1-0.3 1 0.2 1-0.2 1 0.4 1 0.6 1-1.4 1 0.1 1 1.3 1-0.3 1-1.8 1 0.1 1-0.1 1-0.9 1 1.7 1 0.1 1 0.5 1-0.5 1-0.9 1.1 0.5 1 0.5 1-0.5 1-0.5 1 0.3 1-0.7 1 0.1 1 0.9 1-0.4 1 1 1-0.1 1 0.2 1 0.5 1-0.4 1 0.3 1 0.2 1 0.1 1-0.4 1 0.2 1-1.4 1-0.2 1 0.4 1-0.4 1 0.3 1 0.2 1-0.2 1-1.3 1 0.7 1 0.2 1 0.5 1-0.6 1-1 1 0.9 1 0.2 1-0.6 1 0.3 1 0.1 1-0.1 1 0.5 1 1.2 1-2 1 1.7 1-0.5 1-0.9 1 0.4 1-0.1 1 0.2 1-1.4 1 0.5 1 0.4" stroke="#0060ff"/>
<path d="M289.9 519.0l1-1.1 1-0.8 1 0.3 1-0.6 1 0.2 1 0.2 1 0.9 1-0.9 1 0 1-0.4 1-0.3 1-0.1 1-0.1 1 0.3 1 1.3 1-0.7 1 1.7 1-1.3 1-0.5 1 0.7 1 0.6 1-0.6 1 0.5 1-1 1 0.2 1-0.3 1 0.1 1-0.4 1 0.6 1 1.2 1-0.3 1-0.7 1-0.1 1-0.3 1 0.4 1 0.7 1 0.1 1 1 1-0.8 1 0.6 1-0.4 1 0.4 1-2.2 1 0.4 1-1.3 1 1.9 1-0.2 1-0.4 1-0.7 1 1.4 1-0.9 1-0.1 1 1.3 1-0.2 1 0.5 1 0.4 1-0.9 1 0.1 1 0.7 1-2.2 1 2 1-0.8 1-1.1 1-0.4 1-0.9 1 1.2 1-0.1 1 0.3 1 0.2 1-0.1 1-0.2 1-1.1 1 1.1 1 0.1 1 0.1 1 0.1 1 0.6 1 0 1 1.1 1-1.1 1 0.2 1-1 1-0.2 1 1.1 1-2 1 2 1 1 1-0.8 1 0.1 1 0.1 1-0.4 1 1.1 1-0.6 1 0.9 1-0.7 1-0.9 1 0.5 1 0.1 1-2 1 0.3 1-0.1 1-0.4 1 2 1 0.4 1-1.9 1 1.7 1-1.8 1 1.4 1-1.2 1 0.7 1 0.3 1 0.6 1-0.5 1-0.2 1 1 1-0.2 1-0.5 1 0.9 1-0.6 1 0.5 1-1.2 1-0.4 1-1.2 1 1.2 1-0.2 1-1 1 1 1-1.8 1 1 1-0.3 1-0.5 1 0.8 1 0.4 1 1.9 1-1 1 0.5 1 0.2 1 0.6 1-2 1 0.8 1 0.9 1 0.4 1-0.4 1-1.9 1 0.3 1 1 1-0.1 1 0.6 1-0.1 1-1.1 1 0.2 1-0.3 1 0.2 1-1.4 1 0.2 1-0.5 1 1 1 0.4 1 0 1.1-0.9 1 0.5 1 0.1 1-1.3 1-0.6 1 0.9 1 0.5 1 1.2 1 0.4 1-0.7 1-0.3 1-0.5 1 0.3 1 0.9 1-1.3 1-0.1 1-0.4 1-0.9 1 0.7 1 0 1 0.9 1-0.5 1 0.2 1-0.3 1 0.4 1-0.5 1 0.3 1 1.5 1-0.7 1-0.7 1 1.1 1-0.4 1-0.9 1 0.1 1-0.3 1 0.3 1 0.3 1-0.1 1-0.3 1 1 1 0.3 1 1 1-1 1-0.7 1 2.4 1-1.9 1-0.3 1 1.4 1-0.2 1 0.1 1-0.3 1-1.1 1-0.6 1 1.1 1-0.9 1 0.3 1 0.7 1-1.2 1 1 1 1.9 1-1.1 1 0.2 1-0.6 1-2.4 1 2.4 1-0.3 1-1.3 1 0.5 1 0.5 1-1.7 1 0.7 1 1.6 1-0.9 1-0.3 1-0.2 1 1.6 1-0.9 1 0.1 1 0.4 1-0.9 1 0.9 1-0.9 1-1.3 1 0.2 1-0.6 1 0 1 0.4 1 0.3 1 1.8 1-1.1 1-0.6 1 0.6 1-0.8 1 0.4 1 0 1 1.4 1 0.8 1-0.9 1 0.1 1 0 1-1.3 1-0.4 1 0.1 1-0.6 1 0.8 1 0.1 1 0.3 1-1.6 1 1.3 1 1.3 1-0.6 1 0.4 1 0.6 1-0.8 1-0.6 1-0.1 1 0.1 1-0.4 1 0.8 1-0.5 1 0 1-0.4 1 1.9 1-2.6 1 2.2 1 0.1 1-0.4" stroke="#0080ff"/>
<path d="M761.4 516.1l1 1 1-0.4 1 1 1 0.2 1-0.6 1 0 1 0.9 1 0.3 1 0 1 0.6 1-0.9 1-0.2 1 0.1 1 0.3 1 0.4 1 0.7 1 0.1 1-2 1 0.4 1-0.7 1 0.4 1 0.4 1-0.5 1 1 1-0.1 1-2.1 1-0.7 1 0.9 1-0.3 1 0.6 1 2.1 1 0.1 1 0.5 1-0.9 1-0.1 1 0.5 1 0.6 1-0.1 1 0 1 0.4 1-0.4 1 0.1 1-1.1 1-1.5 1 1.2 1 0.5 1 0.8 1-0.1 1-0.9 1 0 1 0 1 0.5 1 0.4 1-0.5 1 1.4 1-0.5 1 0.4 1-0.7 1 0.4 1-2.9 1 0.6 1 0.6 1-0.3 1 1 1-0.5 1 0.6 1-1.6 1 2.5 1-1.7 1 0 1 0 1-0.3 1 0.6 1 0.2 1 0.2 1-0.3 1-0.2 1-0.5 1 1 1-0.6 1 0.8 1 0.6 1.1 0.1 1-0.7 1-0.9 1 0.1 1 2.2 1-0.6 1 1.4 1-0.9 1-0.7 1-0.4 1-1.2 1 0.5 1 0.6 1 0.4 1-0.6 1-0.4 1-0.3 1 0.3 1-0.5 1 0.5 1-0.9 1 0.6 1 0.9 1-3.1 1 0.7 1 0.7 1 0.7 1 0.6 1 1.4 1 0.8 1-0.6 1-0.4 1-0.5 1-0.9 1 0.1 1-0.5 1 0.9 1-0.6 1 1.3 1-0.9 1 0.2 1 0.1 1-0.2 1 1.6 1-1.1 1-0.2 1-1.5 1-0.5 1 0.1 1 0.5 1 0.5 1-0.9 1 1 1-0.4 1 1.4 1-2.2 1 1.9 1-1.3 1 1.2 1-0.3 1-0.6 1-0.3 1 1.2 1-0.6 1 0.8 1 0.3 1-1.3 1 1.6 1-0.1 1-0.1 1 0.7 1-1.2 1 0 1-0.7 1 1.6 1-0.3 1-0.3 1 0.5 1-1.7 1 1.7 1-2.3 1 0.4 1 1.3 1 0.2 1 0.1 1 0 1 0.3 1 0.9 1-0.5 1-0.9 1-0.4 1-1.5 1 1.6 1 0.4 1-0.6 1 0.2 1 0.1 1-0.4 1 1 1-0.5 1-0.7 1 0.9 1 0.5 1-0.3 1-1.5 1 0.6 1-0.9 1 0.3 1-0.1 1 1.2 1 0.8 1 1.4 1-0.6 1 0.3 1-2.3 1 0.2 1 0.3 1-0.3 1 1 1 0.7 1-0.3 1-0.3 1 0.1 1-0.6 1-0.7 1 0.7 1-0.3 1-0.1 1-0.9 1 0.4 1 1.8 1-0.8 1 0.8 1-1 1-0.9 1 0.9 1-0.9 1 0.8 1 0.6 1-1.1 1 0.2 1 0.6 1 1.7 1-1 1-0.3 1-1.3 1-0.7 1 2.4 1-0.6 1 0 1-0.4 1 0.6 1 0.3 1-0.6 1 0.4 1-0.5" stroke="#009fff"/>
<path d="M190.0 516.4l1-0.1 1 0 1.1-0.5 1 0.2 1-1.1 1 1.2 1.1 0.2 1 0.5 1 0.7 1 0.2 1.1-1.4 1-0.3 1 0 1 0.2 1.1 0.1 1-1.4 1 0.3 1-0.2 1.1 1.4 1 0.8 1-0.6 1-0.3 1.1 0.4 1-0.4 1 0.1 1-1.1 1.1-0.3 1 1.9 1 0.2 1 0.7 1.1 0 1 0 1-0.9 1-0.1 1.1 0.8 1-1.1 1 1.2 1-0.2 1.1-1.4" stroke="#00bfff"/>
<path d="M1472.3 523.5l1-0.5 1 0.3 1 0 1 0.8 1-0.3 1 0.2 1-0.3 1 0.6 1-2.1 1 2.1 1-0.7 1 0 1-0.2 1-0.3 1 0.9 1-0.3 1 0.6 1-1.2 1 0.1 1-1.4 1 1.6 1 0.7 1-0.7 1-1.1 1 1.8 1.1-0.9 1-0.9 1 0.6 1 0.8 1 0.2 1-1.3 1-1.2 1 0.7 1-0.1 1 1.5 1 0.5 1-0.7 1 0.8 1-1.1 1-0.3 1 0 1-1 1 0.6 1 0.5 1-1.4 1-0.3 1 0.3 1 0.2 1-0.6 1-1 1.1 2.1 1 0.7 1-0.3 1-0.1 1-0.9 1-1.4 1-2.1 1-0.2 1-0.7 1 1.2 1 1.4 1-1.6 1 1.9 1 0 1 0.2 1-0.9 1 0 1 0.4 1 0 1 0.7 1-0.3 1-0.1 1 0.6 1-0.4 1 1.4 1.1-1 1 0.4 1-2.4 1-0.2 1 0.8 1-0.3 1-0.2 1 1.2 1 1.5 1-0.7 1 0.9 1-1.7 1 0.6 1-0.5 1-0.4 1 1.4 1-1.1 1-0.3 1 0.6 1-0.7 1 1.6 1-1.6 1-1 1 0.9 1 0.9 1.1-0.1 1-0.1 1 0.2 1-0.6 1 0.3 1-1 1-0.5 1-1.6 1 2.5 1 0.6 1-0.3 1 0.2 1-1 1 1.3 1-1.4 1 0.7 1 0 1-1.2 1 0.8 1-0.9 1 1.5 1-0.2 1-1.1 1 0.9 1-1.6 1.1-0.3 1 1.3 1 0.2 1-0.2 1 0.5 1-0.9 1 0.2 1 0.1 1 0.1 1-0.3 1-0.5 1 1.2 1-1.1 1 0.7 1 0.9 1-1.2 1 0.1 1-0.1 1-0.8 1 0.5 1 0.6 1-1.2 1 0.9 1 0.7 1-0.3 1.1-0.6 1 1.2 1-0.6 1 0.9 1 0 1 0.5 1-1.5 1 1.2 1-1.4 1-0.1 1 0.3 1-0.6 1 1.2 1 0.2 1-0.7 1 0.4 1-1.2 1 0.5 1-0.4 1 1.5 1-1.1 1 0.7 1 0.2 1-1 1 0.7 1.1-0.3 1-1 1 0.5 1 0.1 1 2 1-1.1 1-0.4 1-0.5 1 0.1 1 0.4 1 1.2 1-0.8 1-0.4 1-1.3 1 0.9 1 0.5 1-0.5 1-0.4 1 0.1 1 0.1 1 2.1 1-1.3 1 0.3 1-2.2 1 0.9 1.1 1.1 1-1.9 1 0.6 1-0.5 1 0.4 1 0.9 1-0.8 1 1.2 1-2.1 1 1.2 1 0.9 1-1.4 1-0.5 1 0.7 1-0.8 1 0.4 1 0.7 1 1.5 1-2.3 1 1.5 1-0.8 1 1 1-0.3 1-1.4 1 0.9 1.1-0.5 1 0.5 1-1.1 1-0.8 1 0.8 1 0.2 1 0.9 1-1.1 1 1.4 1-0.3 1-1.1 1 0.9 1 0.3" stroke="#00bfff"/>
<path d="M396.8 515.3l1 0 1 1.1 1 0.1 1 0 1 0.1 1 0.2 1-0.1 1-1.1 1 0.3 1 0.3 1 0.1 1-0.6 1 0.4 1 0.9 1-0.9 1 0.5 1-0.8 1 1.7 1 0.2 1-1.8 1 0.6 1-1.1 1-0.4 1 0.9 1-1.6 1 0.6 1-0.9 1 0.5 1-0.1 1 1.1 1 0 1-1.3 1 1.1 1 1 1-0.9 1 0.2 1 1.2 1-1.2 1 0.9 1-0.1 1 0.1 1-0.5 1-1.1 1-0.1 1-0.2 1 0.1 1-0.5 1 0.2 1-0.7 1 0.9 1 0.2 1-0.3 1 1.6 1-0.6 1 0.3 1 0.7 1-0.4 1-1.4 1 1.1 1 0 1 1.6 1-1.6 1-0.4 1 0.1 1-0.8 1 0.1 1 0.2 1-1 1 0.6 1 0.8 1-1.5 1 0.7 1 0.8 1-0.8 1 1.7 1 0.9 1-2.7 1 0.8 1 1.3 1-0.5 1-1.1 1 1 1-1.7 1-0.8 1 1.3 1 0.7 1 0 1 0.5 1-1.2 1-0.2 1 0.3 1 0.1 1-1.5 1 1.8 1 1 1-0.4 1-1.3 1-0.3 1 1.6 1-0.2 1-0.3 1 1 1 0.5 1-1.1 1-0.5 1 0 1-0.1 1-0.2 1-0.7 1-0.2 1 0.8 1-1.2 1 1.6 1-0.7 1 0.3 1-0.8 1 0 1 1.3 1-0.4 1-1.4 1 1.2 1 0.2 1 0 1 1.1 1-1 1-0.4 1-1 1-0.2 1-0.6 1 0.2 1-0.1 1-0.7 1 1.8 1 0.1 1-0.2 1 0.5 1-0.2 1-0.5 1 1.6 1-0.6 1 0.1 1 1.2 1 0.7 1-1.3 1 0.8 1-0.6 1-0.4 1-0.4 1-0.3 1 0 1 0.9 1-0.1 1 0.4 1-0.3 1-0.5 1-0.2 1 0.2 1 0 1 0.5 1 0.1 1 0.4 1-1 1 0.8 1-2.6 1 0.7 1-1.2 1 0.3 1 0.4 1-0.5 1 1 1 0.1 1-0.8 1-0.1 1 0.2 1 0.5 1 0.6 1 0.9 1 0.2 1-0.5 1 1.9 1-2 1 0.1 1 0.3 1-0.6 1-0.9 1 0.2 1 1 1 0 1-1.5 1 0.8 1-2 1-0.1 1 0.8 1-0.1 1 1.4 1 0 1 0.4 1-0.9 1 0.7 1-1.4 1 0.1 1-0.5 1 1.3 1 0.3 1-0.3 1-0.3 1-0.1 1-0.3 1-1.6 1 1.1 1 0 1 0.5 1-0.3 1-0.4 1 0.4 1 0.8 1-1.2 1-0.5 1 1.3 1 0.6 1-1.2 1-0.2 1 0.6 1 0.6 1-1.8 1 2.6 1-0.4 1 0 1-0.4 1 0.6 1 0.4 1-1.3 1-0.1 1-1.1 1-0.3 1 1.5 1-0.6 1.1 1.7 1-0.8 1 0.5 1-0.3 1 0.2 1-0.6 1-0.2 1-1.9 1 0.6 1-0.8 1 1.6 1 0 1-0.8 1 1.3 1-1.3 1 0.8 1 0.3 1-0.6 1 0.6 1-0.9 1 0.6 1-0.6 1-0.9 1 1.2 1 0.9 1 0.5 1 0.1 1-1.5 1 0 1 0.2 1-1.5 1 0.2 1-0.5 1 0.4 1-0.4 1 2.4 1 0.2 1-0.4 1 0.4 1-1.3 1-0.2 1 0.8 1-0.8 1-0.3 1 0.6 1 0.6 1-1.6 1 1.4 1-0.7 1-0.7 1 1.3 1-0.1 1-0.9 1-0.1 1-0.1 1-0.2 1-0.9 1 0.4 1 0.3 1-0.6 1-0.4 1 0.8" stroke="#00dfff"/>
<path d="M1312.6 517.4l1-1 1-0.5 1 0.8 1-0.8 1-0.4 1-0.1 1 0.2 1 1.6 1-1.7 1 0.3 1-0.1 1 0.8 1-0.9 1 0.9 1 0.1 1-1.2 1 0.8 1-0.6 1-0.2 1 0.1 1-0.4 1 0.7 1-0.5 1 0.3 1 0.5 1-0.1 1 0.1 1 1.4 1-0.9 1 0.3 1 0.5 1-1.2 1-0.1 1-0.1 1 1.2 1-0.7 1 0.7 1-0.2 1-0.9 1 0.1 1-1.6 1 0.5 1 0.1 1-0.5 1-0.3 1 0.3 1 0.6 1 1.5 1-0.3 1 1.4 1-1.2 1-1.5 1 0.7 1-1 1 0.6 1 1.3 1-0.7 1.1-1.7 1 1.6 1-0.9 1 0.4 1-0.3 1 0.3 1-0.1 1-0.7 1 1.2 1-0.7 1 0.8 1-0.1 1 0.9 1 0.5 1-0.2 1 0.1 1-1.5 1-0.4 1 0.9 1-1 1 0.3 1 0.8 1-0.8 1 0.1 1 0.9 1-2 1 0 1 0.7 1-1 1 0.7 1 0.9 1 0.6 1-1 1 0.5 1 0.6 1-0.7 1 0.6 1-1.3 1-1.4 1 2.4 1-1.2 1 1 1 0 1 0.1 1-0.8 1 0.7 1 0.3 1 0.3 1-0.5 1-1 1 1.2 1-0.7 1 0.2 1 1.3 1-2 1 0.1 1-1.6 1 0.3 1 1.3 1-0.4 1 0.3 1 0.4 1-1.1 1 1.2 1 0.4 1 0.1 1-0.5 1 0.3 1 0.4 1-1 1-0.5 1-1.2 1 2.5 1 0.1 1-0.1 1 0.2 1-0.8 1 0 1-1.2 1 1.2 1-0.6 1-0.5 1-0.6 1 0.4 1-1.1 1 1.1 1 0 1 0.4 1 0.5 1 1 1-0.4 1-1.6 1 0.6 1-1.1 1 2.3 1 0.7 1-1.1 1 0 1-1.4 1 0.2 1-0.1 1-0.6 1 0.9 1 0.1 1 0.4 1-0.8 1 0.4 1 0 1-0.4 1-0.1 1-0.1 1 0.6 1-1.1 1 1.1 1 0.4 1 0.5 1 0.1 1-0.1 1-1.1 1 2.1 1-1.4 1 0.6 1 0.4 1-0.4 1 0.2 1-1.3 1-0.4 1-0.3 1 0.3 1 0.6 1-1.9 1 2.4 1 0.4 1-0.8 1 1 1-0.9 1 0.2 1 0.6 1-0.2 1 0.7 1-0.3 1-1.5 1 0.3 1 0.2 1-0.6 1 0.8 1 0.6 1-1.6 1 0.8 1-0.8 1-0.6 1 1.4 1-1.2 1 1 1-1.4 1-0.2 1 1.4 1-0.7 1 1.3 1-0.9 1-0.4 1-0.6 1 2.5 1-0.4 1-1.5 1 1.4 1-0.8 1-1.7 1-0.8 1 1.6 1 1.4 1 0.2 1-0.4 1 0.2 1 0.1 1-0.7 1 0.2 1-0.1 1-0.2 1 1.1 1-1.2 1.1-0.4 1 0.1 1-0.7 1 0.2 1 0.3 1 0.4 1-0.2 1 0.1 1 0.9 1-0.2 1 0" stroke="#00ffff"/>
<path d="M993.0 524.1l1 0.5 1 0.4 1 0.4 1 1.8 1-1.1 1-0.7 1-0.6 1 2.5 1-0.6 1-0.9 1 0.8 1-0.4 1 0.1 1-0.9 1 1.5 1-1.3 1-1.6 1 1 1 0.6 1-0.6 1 0.9 1 0.1 1-1.2 1-0.3 1-0.3 1-0.6 1 1.2 1-0.5 1 0.9 1 0.6 1 0.5 1-1 1 0.6 1-0.7 1 0.2 1 0 1-0.5 1-0.6 1.1 0.2 1 0.1 1-0.4 1 0.3 1-0.6 1 1.3 1-1.5 1 0.6 1 0.4 1-1.1 1-0.6 1 1 1-0.4 1-0.1 1-0.9 1 0.7 1-0.4 1 0.6 1 0.7 1-0.7 1 0.2 1 0.6 1-1 1-0.3 1-0.5 1 0.7 1-0.7 1 0.7 1 0 1 0.2 1 0.2 1-0.7 1-1 1 1.1 1-0.3 1-0.3 1 0.3 1-1.6 1 0.4 1 1.2 1 0.4 1.1 0.4 1-0.9 1-0.1 1 0.6 1-0.3 1-0.2 1 1.2 1-1.2 1 0 1 0.1 1-1.4 1 0.4 1 0.3 1 0.3 1 1.2 1-1 1 0.7 1-0.5 1 1.1 1 0 1-0.4 1-0.1 1-0.1 1 0.1 1 0.5 1-1.2 1-0.1 1 0.5 1-2.1 1 1.7 1-1.2 1 1 1 0 1 0.4 1 0.3 1-0.3 1 1.1 1 0.4 1-1.2 1-0.5 1.1 0 1-0.5 1-0.9 1 0.3 1-0.3 1 0 1 0.9 1 1 1-1.5 1 0.1 1 0.6 1 0 1 0.6 1-0.9 1 0.7 1 0.8 1-1.6 1-0.1 1-0.1 1-0.2 1-0.8 1 0.4 1-0.1 1 0.9 1-1.4 1-0.1 1-0.6 1 0.3 1 1 1-0.6 1 0.9 1 0.2 1-0.1 1-0.1 1-0.3 1-0.9 1 1.4 1-0.3 1-1.6 1 2 1-1 1.1-0.5 1-0.1 1-0.4 1 0.7 1 1 1-0.1 1-0.3 1-0.8 1-0.3 1 0.8 1-1.8 1 1.7 1-1.8 1 1.1 1 1 1-0.5 1 0.9 1-0.2 1-0.3 1 0.5 1-2.4 1 1.2 1 1.2 1 1 1-1.6 1-0.5 1-0.5 1 0.1 1 0 1-0.2 1-1.9 1 1.1 1 1.2 1-0.7 1 1.7 1-1.5 1 0.4 1 0.8 1-0.1 1 0.1 1.1-0.5 1-1.2 1-0.2 1-0.3 1-0.6 1 2 1-1.9 1 1.7 1 0.6 1-0.5 1 0.7 1-0.4 1-0.5 1 2 1-2.6 1-0.6 1 1.4 1-2 1-0.1 1-0.3 1-0.3 1 1.7 1-0.9 1 1.2 1-1.5 1 2 1-0.1 1-1.1 1 0.3 1 0.3 1-0.1 1 0.2 1-1.3 1 0.9 1-0.8 1-0.5 1 0.2 1 0.2 1 1 1-0.4 1 0.8 1.1-0.1 1 0 1-0.5 1-1.4 1-0.5 1 0.1 1-0.9 1 1.6 1-0.5 1 0.7 1 0.4 1 0 1 0.4 1-0.5 1-0.3 1-0.6 1 0.4 1 0 1 0.2 1 0 1 1.1 1 0.8 1-1 1-0.6 1 0.2 1 0.2 1-1 1-0.1 1 0.4 1-0.2 1 1.6 1-2.4 1 1.7 1-1.3 1 0 1 0.7 1-0.6 1 0.8 1-2 1 1.6 1.1-0.4 1 1.3 1-1.1" stroke="#20ffdf"/>
<path d="M190.0 517.4l1 0.3 1-0.6 1 0.6 1-0.1 1-1 1 0.1 1 0.2 1-1 1 2.8 1-1.6 1-0.3 1-0.8 1 1.5 1-0.5 1 1.8 1-0.5 1-2 1 0.9 1 0.3 1-0.9 1 0.2 1 2.1 1-2.5 1 1 1 0.1 1-0.7 1-0.1 1 0 1 1.2 1-0.8 1 1.2 1-0.8 1 0.2 1-0.3 1 0.3 1 0.8 1-1.3 1 1.4 1-0.2 1-0.7 1-0.6 1 0.7 1-1 1 0.4 1 0.6 1 0.8 1-0.3 1-0.2 1-0.2 1-0.1 1-0.1 1-0.6 1-0.9 1 0.6 1 0.7 1-1.4 1 1.7 1-1.6 1 1 1-0.1 1 0.2 1 1 1 0.6 1-1 1 0.4 1-0.1 1 0.7 1-1.1 1-0.7 1-1.1 1 1.6 1-0.1 1-1 1 0.2 1 0 1-1.3 1 2.7 1-0.8 1 0.7 1-0.2 1 1.3 1-1.5 1 0.3 1 0.4 1-1.5 1 1.2 1-0.2 1 0 1-1.1 1 0.2 1 0.6 1 0.9 1-0.2 1-1.2 1 0.1 1 0.2 1-0.5 1 0.6 1-1.1 1 1.9 1 1 1-1.9 1 0.1 1 1 1-1.3 1 0.1 1 0.7 1 0.2 1-0.8 1 0.2 1 1.1 1-1.8 1 1.5 1-1.5 1 0.9 1 0.2 1-0.8 1 0.2 1-0.9 1-1.1 1 1.3 1-0.3 1 1 1-0.1 1-1 1 0.8 1-0.8 1 1.5 1-0.1 1-0.7 1 0 1-0.1 1 1.3 1 0.2 1-1.2 1 0.1 1-0.9 1-1.1 1 0.6 1 1.3 1 0.3 1 0.7 1-0.7 1 0.6 1-1.7 1 0.4 1 0.5 1-1.5 1 0.6 1 1 1 0.2 1-0.4 1 0.8 1-1 1-1.4 1 0.2 1 1 1-0.2 1 1.2 1-1 1-0.1 1 1.6 1-1 1 0.3 1 1.7 1-2.8" stroke="#40ffbf"/>
<path d="M1628.7 525.2l1-1.6 1 0.9 1-0.1 1-0.2 1 0.1 1 0.8 1-0.3 1-0.8 1-0.2 1-1.9 1.1-0.4 1 0.3 1 1.2 1-1.2 1-0.5 1-1.1 1 0.7 1-0.8 1-1 1 1.4 1 0.2 1 0 1 0.7 1-1.1 1-1.4 1 1.3 1.1-0.7 1-0.6 1 0.9 1-0.2 1 0.4 1 0.1 1-0.4 1 0.2 1 0.7 1-0.7 1 1.5 1-1.8 1 0.4 1-0.1 1-0.9 1-0.5 1.1 0.2 1-0.8 1 1.6 1-0.9 1-1 1-0.1 1 0.9 1-0.3 1 1.4 1-0.3 1-0.4 1-0.6 1 0.1 1-0.4 1 0.2 1 1.7 1.1-1.6 1 0.4 1 0.5 1-0.9 1-0.2 1-0.6 1 1 1 0.4 1-0.4 1-0.3 1-1 1 0.5 1 1 1-0.1 1-1.8 1 1.5 1.1 0.5 1-0.8 1 0.6 1-0.7 1-1.1 1 1.4 1-1.1 1-0.9" stroke="#40ffbf"/>
<path d="M1069.9 523.8l1-1.5 1 1.1 1-1.9 1 1.3 1-0.2 1-1.3 1 0.1 1 1.2 1-0.6 1-0.5 1 0.5 1-0.5 1 1.3 1 0.5 1 0 1-0.1 1-0.3 1-0.4 1-0.7 1 0.7 1 0.5 1-0.4 1 1.2 1-0.3 1-0.2 1-1 1-0.9 1-0.3 1 1.3 1-1.8 1 1.1 1 0.2 1-0.1 1 0.9 1 0 1-1.2 1-1.5 1 0.7 1 1.2 1 0.2 1 0.1 1-0.9 1 0 1-1.4 1 1 1-0.3 1 2.1 1-0.7 1-0.4 1-0.7 1 1.8 1-2 1 0.1 1 0.8 1 0 1-1.5 1 1.3 1 0.5 1-0.8 1 1.8 1-1.4 1 0.1 1 0.5 1-0.3 1-1.2 1 0.2 1 0.8 1-0.6 1-1.1 1 1.8 1-0.3 1-0.7 1 0.1 1 1.1 1-0.2 1-0.4 1-1.2 1 1 1 0.7 1-2.6 1 0.9 1-0.2 1 0.6 1-1.2 1 0.6 1-0.3 1-0.4 1 0.3 1-0.1 1-0.8 1 1.5 1-0.6 1 0.2 1-0.8 1 1.4 1 1.1 1-1.2 1 0.9 1-0.7 1-1 1 0.7 1-0.3 1-1.6 1 1.6 1 0.3 1-0.8 1-0.2 1 1.4 1-1.1 1-0.5 1 0 1-0.9 1 1 1-0.4 1 0 1 0 1-0.1 1 0.1 1-0.1 1 1.4 1-2.6 1 1.7 1-0.8 1-1.1 1 0.5 1 0.7 1 1.5 1 0.3 1-1.1 1 0 1 0 1 0.2 1 0.4 1-0.3 1 1.3 1 0.6 1-1.9 1-0.1 1 0.5 1-1.3 1 1.1 1 0 1-0.1 1 0 1-0.5 1-0.3 1 0.4 1 0.1 1-1.6 1 2.3 1-0.7 1-0.2 1 0 1-0.6 1 2.1 1-1.4 1 1 1-2.4 1 1.2 1-1.3 1 0.8 1 0.1 1 1.2 1-0.3 1 0 1-0.5 1-0.3 1 0.4 1 0.3 1 0.4 1-1.3 1 0.7 1-0.9 1 0.1 1 1.3 1-1.1 1-1.2 1 0.8 1 0.2 1-1.7 1 1.6 1-0.2 1-0.7 1 1.2 1-0.7 1 1.4 1-1.2 1 0.5 1 0.8 1 0.1 1-0.2 1 0 1-1.9 1 1.5 1-1.2 1-0.1 1 1.1 1-0.9 1 0.4 1-0.6 1 1.7 1-1.3 1 0 1 1.8 1-0.3 1-0.6 1 1.1 1-1.2 1 0.2 1 0.2 1-0.5 1-1.6 1 0.6 1 0.1 1 0.7 1-0.8 1 0.3 1-0.1 1 0.6 1-0.5 1 0.6 1-0.8 1-0.7 1 0.7 1-1 1 1.2 1-0.4 1-0.1 1-0.6 1 2.3 1-2.4 1 1.4 1-1.8 1 1.9 1-0.7 1 0.8 1-1 1-0.8 1 0.1 1 0.1 1-1.1 1 0.7 1 1.2 1 0.1 1 0.6 1-0.8 1 0.1 1-0.3 1-0.3 1 0.1 1-0.6 1 0.7 1 0.4 1-0.6 1 0.4 1-0.9 1 1.2 1-2.4 1 1.1 1-0.1 1 1 1 0.7 1-1.2 1 0.5 1-0.4 1 0.8 1 0.2 1-0.9 1-0.1 1 0.5 1-1 1 0.5 1 1.2 1-0.6 1-0.5 1-0.1 1 0 1 0.8 1-0.7 1 1.8 1-0.1 1-0.6 1 0.8 1-2.2 1 1 1-0.9 1 0.8 1 0.6 1-0.5 1 0.8 1-1 1-0.4 1-1.2 1 0.9 1 0.2 1 1.6 1-1.6 1-0.4 1 0.3 1-2.4 1 3.3 1-0.2 1-0.5 1 0.6 1-0.8 1 0.1 1 0.2 1-0.1 1-0.5 1-0.3 1 1.1 1-0.1 1-1 1 1.1 1 0.2 1 0.4 1 0.6 1 0.1 1-0.1 1-0.8 1-0.6 1 0.9 1 0.4 1-1.4 1 1 1 0.6 1 0.4 1-1.7 1 0.6 1 0.7 1-1.5 1-0.1" stroke="#60ff9f"/>
<path d="M190.0 515.6l1 1.6 1-0.1 1 0.6 1-0.5 1 0.4 1-0.7 1-0.7 1 1.5 1-1.4 1 0.9 1-0.6 1-0.2 1 1.6 1 0.4 1-1.4 1 0.2 1-0.5 1-0.3 1-0.1 1-0.6 1 1 1 1.7 1-0.5 1 0.8 1-0.3 1-1.5 1 0.1 1 0.2 1-0.2 1 1.2 1-1.6 1-0.2 1-0.8 1 1.2 1 0.5 1 0.5 1 0 1-1.2 1-0.5 1-0.6 1 0.9 1 0.3 1 0 1 0.8 1-0.5 1-0.4 1 0.1 1 0.1 1-1.3 1 0.4 1 0.8 1 1.1 1-1.2 1-0.3 1 0.7 1-1 1-0.7 1 1 1 0.2 1 0.6 1 0.1 1-1 1-0.1 1 0.5 1-0.7 1 0.6 1-1.2 1 1 1 0.9 1 0.7 1-0.5 1 0.6 1-1.2 1 0.2 1-0.4 1 0.6 1 0 1 0.3 1-1 1 1.2 1-1.6 1 0.3 1-0.5 1 1 1 0.1 1 1.4 1 0.6 1-1.8 1 0.6 1-0.9 1 0.6 1-0.3 1 0.9 1-0.1 1-2.2 1 1.1 1-1.5 1 1.2 1 1.5 1-1.2 1 0 1-0.9 1-0.3 1 0.9 1 0.2 1 0.2 1 0.5 1-1.3 1 0 1 0.4 1 0.5 1-0.7 1 1 1-1.6 1 1.4 1-0.2 1-0.5 1 1 1-0.7 1-0.1 1 1.1 1-2 1 1.5 1-0.2 1 0.5 1-1.6 1-0.2 1 0 1 1.4 1 0.4 1 0.6 1-0.9 1-0.2 1-0.9 1 0.1 1-0.6 1 0.4 1 0.5 1 0.5 1-2.6 1 1.3 1 0 1-0.4 1 0.8 1-1.2 1 0.2 1-0.3 1 1.4 1-0.2 1 0.6 1-0.2 1-0.3 1-1 1-0.4 1 0.6 1 0.5 1-0.6 1 1.8 1-1.5 1-0.5 1-0.8 1 1.6 1-2.5 1 2.2 1 0.2 1-1.2" stroke="#80ff80"/>
<path d="M474.7 515.4l1-0.2 1 1.3 1-0.8 1.1-0.3 1 0.1 1 1.1 1-1.5 1-0.4 1-0.1 1-0.1 1 1.4 1-1.1 1.1 0.9 1 0.4 1-1.3 1-0.3 1 0.5 1-0.1 1-0.2 1-1.1 1.1 2.5 1-1.7 1-0.4 1 0.6 1-1.8 1 0.8 1 0.1 1-0.3 1.1 0.4 1 0.7 1 1.1 1 0.2 1-1.4 1 1 1-1.4 1 1.1 1.1-0.7 1 0.7 1-0.2 1-1.2 1 0.4 1-0.7 1 1.1 1 1.1 1.1-0.8 1 0.8 1 0.1 1-1.5 1 0.3 1-1 1-1.1 1 0.9 1.1 0.1 1 1.4 1-0.8 1 1 1 1 1-0.7 1 0.1 1-0.4 1.1-0.5 1-1.9 1 1.7 1-0.1 1-0.5 1 0.3 1 0.8 1-0.6 1.1 0.5 1-0.9 1 1.6 1 0 1-1.8 1 1.7M552.6 514.1l1-0.3 1-0.3 1 0.3 1-0.3 1 1.6 1-0.5 1.1-0.8 1 0.8 1 0 1-0.1 1 0.7 1-1.3 1 1.6 1-0.8 1-0.7 1-0.7 1-1.6 1 1.5 1 0.2 1 0.8 1-1.1 1 0.6 1 0.1 1-0.3 1 1.2 1 0 1-1.3 1-1.6 1.1-0.3 1 0.4 1-0.1 1 0 1 0 1 0.6 1 0.1 1 0.3 1-1.3 1 1 1-0.4 1-0.5 1 0.7 1 0 1 0.7 1-0.6 1 0.1 1-0.8 1 0.3 1-0.9 1 1.4 1.1-0.9 1 0.4 1-0.2 1-0.1 1-0.3 1 1.1 1 1 1-2.3 1 1.5 1 0.1 1-0.9 1 1.1 1 0.3 1-0.7 1 1.4 1-0.9 1-1.6 1-0.4 1 1.2 1 0.7 1-0.5" stroke="#80ff80"/>
<path d="M1657.7 518.0l1-0.3 1 0.9 1-0.1 1 0 1 0.9 1-1.9 1-1.1 1-0.1 1 0.9 1.1 0.4 1 2.3 1 0.1 1-0.2 1-0.6 1-0.2 1-0.1 1 0.3 1-0.2 1-0.9 1.1 1 1-0.9 1 0.4 1-0.4 1 0.3 1 0.9 1 0.1 1-0.8 1 0.6 1.1-0.1 1-1.5 1-0.7 1-0.6 1 1.3 1-0.3 1 1.2 1 0.2 1-1 1 0.7 1.1 0 1-0.9 1 2.1 1-0.9 1-1.2 1 0.3 1-1.1 1 0.7 1-0.8 1 1.2 1.1-1.7 1 0.6 1-1.5 1 1.9 1-0.4" stroke="#80ff80"/>
<path d="M813.7 520.9l1.1-0.3 1-0.1 1-0.4 1-0.9 1 0.2 1 0 1-1.1 1 1.3 1 1.1 1.1 0.6 1-1.9 1 0.5 1-0.7 1-1.1 1 1.6 1-0.3 1 0.8 1 0.4 1.1 0.3 1-1.2 1 1.6 1-1.1 1-1 1 0.8 1-2.6 1 1.2 1.1 0.3 1 0.2 1 0 1 0.4 1-0.4 1-0.1 1-0.8 1 2 1-1.1 1.1 1 1 0.3 1-0.6 1 0.2 1 0.8 1-0.9 1 0 1 0.7 1-1.2 1.1 0.3 1-0.3 1 0.2 1 0.5 1-1.4 1 0.8 1-0.4 1 0.2 1-0.1 1.1 1.2 1-0.3 1-1.1 1 0.8 1 0.4 1 0.1 1 0.2 1-0.6 1.1 0.3 1-0.8 1-1.1 1 2 1-0.3 1 0.5 1 1.2 1-1.1 1-1.4 1.1 0.1 1 1 1-0.2 1 0.9 1-1.8 1 0.7 1-0.3 1-0.8 1-0.4 1.1 0.3M897.7 520.2l1 0 1 0.3 1-0.1 1-0.3 1 0.6 1-0.9 1-0.4 1 0.6 1 0.1 1-0.5 1 0.8 1-1.2 1-1 1 0.1 1 2.9 1-0.1 1-0.4 1 0 1-1.7 1 0.6 1 1.5 1-0.8 1 0.1 1 0.8 1-1.2 1 0.5 1 0.3 1-0.8 1-0.3 1 0 1 0.1 1-1.7 1 1.3 1-2 1 0 1-0.5 1 1.1 1 0.7 1-0.5 1 0.4 1 0 1 0.5 1-1 1 0.2 1-1.1 1-0.1 1 1.3 1-0.1 1-0.5 1-0.1 1 1.3 1 0.2 1 1.9 1-2.4 1 1 1-0.1 1-1.4 1 0 1-0.3 1-0.9 1 1.4 1 0.7 1-0.5 1-0.3 1-0.6 1 0.7 1 0 1-0.1 1 1.9 1-1 1-0.4 1 0.6 1-0.3 1 0 1 0.3 1-0.5 1 0.8 1 0 1 0.3 1-0.8 1 0.8 1-0.9 1-1 1 0.1 1 0.8 1 1.5 1-1.2 1 0.2 1-0.3 1-0.1 1-1.5 1 0.7 1 0.7 1 0 1.1 0.1 1-0.5 1 0.4 1 0.6 1 0.2 1-0.8 1-0.2 1 0.9 1-0.7 1-0.1 1 0 1-0.8 1-0.5 1-0.3 1 1.2 1-0.4 1-0.6 1 0.5 1 0 1-0.5 1 2.7 1-0.8 1-0.1 1-0.9 1-1.5 1 1.6 1 0.7 1-0.2 1 0.9 1-0.9 1-2 1 0.7 1-0.1 1 0.3 1 1.2 1-0.1 1 0.1 1 0.1 1-0.8 1-0.6 1-0.2 1-0.1 1 0.9 1 0.3 1-1 1 0.3 1 0 1 1 1-0.3 1-0.3 1-0.8 1 0.7 1-0.6 1-0.6 1 1.3 1-0.5 1-1 1 1.1 1-1.3 1 0.6 1-0.1 1 0.3 1 0.5 1-0.7 1 0.4 1-0.4 1 0 1-0.4 1 2.4 1-1.1 1-0.3 1 0 1-0.5 1 0.1 1 0.4 1 0.4 1-0.7 1-0.4 1-0.1 1-0.1 1 0.8 1 0.5 1 0.4 1-1.3 1 1 1 0 1-1.1 1-0.4 1-0.6 1 0.2 1-0.2 1 1 1 1.2 1-1.9 1 0.2 1 1 1-1.5 1 0.9 1-0.1 1.1-0.5" stroke="#9fff60"/>
<path d="M373.8 516.1l1 1.4 1-2.3 1-0.7 1 2.4 1-1 1 0.7 1 0.2 1 0.1 1-0.8 1 0.3 1-0.1 1-1.4 1 0.1 1 0.1 1 1.1 1 0.9 1-1.8 1 2.3 1-0.1 1 0.5 1-1.4 1-0.2 1 0.4 1-1.6 1 0.1 1 2.1 1-1 1-1.5 1-0.8 1 0.8 1-0.4 1 0 1 1.2 1-0.6 1-1 1 0.1 1-0.3 1 0.7 1 0.5 1-0.2 1 0.9 1-0.9 1 0 1 0.1 1-0.2 1 0.9 1-0.9 1 2 1-0.7 1 0.3 1-1.6 1 0.8 1-0.2 1-0.3 1-0.4 1-0.6 1-1.2 1 0.6 1 0.9 1 0.2 1-0.1 1-0.2 1-0.1 1-1.4 1 2.6 1-1.6 1 2.1 1-0.3 1 0.4 1-0.2 1-1.7 1-0.9 1 1 1 0.5 1 0.4 1-1.3 1 0.2 1 0 1 0.7 1 1 1-1.7 1 1.1 1-0.5 1-0.4 1 1 1-0.3 1 1.1 1-2.5 1 0.8 1-0.1 1-0.7 1 1.2 1-0.9 1 0.1 1-0.1 1 0.3 1 0.9 1-0.8 1-0.9 1 1.1 1-0.7 1 0.4 1-0.3 1-0.3 1 0.8 1-1.3 1 0.3 1-0.2 1-0.9 1 1.1 1-0.2 1 0.7 1 1.1 1-0.4 1-0.3 1 0.1 1 0.5 1-2 1 0.8 1-0.7 1 0.1 1-1.4 1 3.1 1-0.3 1 0.2 1-0.2 1 0.5 1-0.3 1-1.3 1.1 0.2 1 0.6 1-0.1 1-0.3 1 0 1 0.6 1-0.8 1-0.2 1-0.7 1 0.5 1 0.8 1-0.7 1-0.1 1 1.2 1-0.2 1 0.2 1-0.6 1-0.9 1 0.8 1-1.5 1-0.2 1 0.4 1 0.8 1 0.8 1-0.1 1-1.1 1-0.2 1 0.4 1-1 1-0.2 1 0.9 1 0.6 1 0.8 1 0.4 1 0.1 1-1 1 1.4 1-0.3 1-0.1 1-0.4 1 1.4 1-1.2 1-0.4 1 0.2 1-0.8 1-0.6 1 2 1-1.4 1-0.6 1-0.5 1 0.2 1 0.6 1-0.6 1 0 1 1.2 1 0.5 1-0.1 1 0.1 1-0.9 1 0.7 1-0.3 1 0.9 1-0.7 1 0.1 1-0.2 1 0 1 0.2 1-0.5 1-0.2 1 0.9 1-0.5 1-0.6 1 1.2 1-0.3 1-0.1 1 0.2 1-0.6 1 0 1-0.4 1-0.1 1 0.3 1-0.3 1-0.9 1 0 1 0.7 1 0.2 1 0.5 1-0.3 1-0.2 1-0.5 1-0.3 1 2.6 1-2.3 1 0.4 1-0.7 1-0.4 1-0.1 1 0.5 1 0.1 1 0.4 1 0.4 1-0.3 1 0.6 1-0.2 1-0.1 1 0 1 1.4 1-2.1 1 0.9 1-0.8 1 0 1 0.9 1-0.7 1 2 1 0.3 1-1.5 1 1.8 1-1.2 1-1.8 1 1.4 1-0.1 1 0.8 1 0.4 1-1 1-0.4 1-0.7 1-0.4 1 0.6 1 1.2 1 0.5 1-1.6 1 0 1-0.2 1 0.7 1-0.5 1-0.5 1-0.3 1-0.2 1 1.4 1 0 1 1.8 1-1.5 1 0.9 1-0.9 1-0.1 1-0.2 1-0.9 1-0.7 1 2.2 1-0.8 1-1.2 1 0.9 1 0.2 1 0.9 1-1 1-0.2 1 1.1 1-1 1 0.7" stroke="#bfff40"/>
<path d="M874.1 523.2l1-0.4 1 1.6 1 0.5 1-0.8 1-0.9 1 0.2 1-0.8 1 1.2 1 0.2 1 0 1-1.3 1-0.3 1 0.2 1-0.6 1 0.2 1 0.3 1 0.2 1-1 1-1.4 1 2 1-0.4 1 0.3 1 0.4 1 1.2 1-0.7 1 0.2 1-0.6 1.1 0.3 1 0.8 1-1.7 1-1.2 1 0.4 1 0.2 1 0 1 0.9 1-1.5 1 1 1-0.6 1 1.1 1-0.7 1-0.8 1-0.1 1 0.3 1-0.5 1-1.5 1 0.9 1 0.3 1 0.3 1 1.2 1-0.3 1-0.2 1 0.6 1-0.8 1 0.6 1-0.9 1-0.8 1 0.6 1 0.3 1 0.2 1 0 1-0.8 1 0 1 0.6 1 0.1 1-1.7 1 0.4 1 0.3 1.1 0.8 1-0.7 1 0.7 1-0.6 1-0.8 1 0.3 1-2.1 1 1.2 1-0.2 1 0 1 0.4 1-0.6 1 1.1 1 0 1-0.9 1 0.4 1-0.1 1-1.2 1 0.6 1-0.9 1-0.1 1-1.2 1 0.1 1-0.5 1 0.5 1-0.3 1 0.1 1-1.5 1-0.1 1 0.6 1 0.5 1 0.6 1-0.8 1-0.7 1-0.5 1 0 1 0.4 1-0.7 1 0.6 1-0.4 1.1 0.8 1-0.4 1 0.8 1 0.7 1-1.1 1 1.2 1-1.8 1 0.3 1 0 1-0.3 1 1.4 1 0.7 1 0 1 0.7 1-1.4 1-1 1 1 1 0 1-0.7 1-0.3 1 0.6 1-0.3 1-0.4 1 1.2 1-0.7 1 1.2 1 0.8 1-1 1-0.1 1 0 1 0.1 1-0.1 1-0.3 1 1.6 1-0.7 1 2 1-1.1 1 0.3 1-0.5 1-0.1 1.1 0.4 1-1.4 1 0.8 1 0.8 1-1.4 1-1.1 1 0.4 1 0.2 1 1.5 1 0.9 1-0.3 1-0.8 1 1.1 1-0.1 1 0.2 1-0.9 1 0 1-0.8 1 0.2 1-1.3 1-0.2 1-0.3 1-0.4 1-0.4 1 0.7 1 1.9 1-0.5 1 1.6 1 0.4 1-1.2 1-0.2 1-1.8 1 0.1 1 0.8 1-1 1 0.2 1 0 1 0.1 1 0.2 1.1-1.2 1-0.3 1-0.6 1 0.5 1-1 1 1.2 1 0.2 1 0 1 0.7 1-0.8 1-0.2 1 1 1-0.7 1-1.2 1 1.5 1-0.9 1-0.5 1 0.4 1 0.3 1 0.2 1 0.2 1 0.3 1 0.5 1-1 1 0.8 1 0.1 1-1.6 1-0.3 1 1.1 1-0.2 1 1.4 1-0.7 1-0.3 1 0.1 1-1.1 1 1 1 0.2 1 0.3 1 0.1 1-1 1.1 1.4 1-1.1 1-1.2 1-0.4 1 1.1 1-0.1 1-1 1-0.5 1-0.3 1 0.6 1 0 1 1.2 1 1.7 1-0.2 1-0.1 1 0.9 1-0.9 1-0.1 1-0.6 1-0.7 1 0.1 1-0.5 1 0.8 1-0.5 1-0.6 1 0.9 1 1.2 1 0.7 1-1.1 1 0.1 1-1.8 1 2.4 1-2.3 1 1.3 1 1.9 1-0.4 1 1 1-0.9 1-0.1 1-0.8 1.1-0.4 1 0.8 1-0.6 1-0.5 1 0.1 1 0.6 1 0 1-1.6 1 0.9 1-0.9 1 1.5 1-1 1 1.1 1-0.2" stroke="#dfff20"/>
<path d="M1403.9 523.0l1-0.4 1 0.5 1-1.6 1 0.6 1-0.8 1 0.3 1 0.9 1 0.4 1-1.3 1 0.5 1-1.2 1 1.5 1 0.6 1-0.8 1 0.3 1-0.9 1 0.1 1-0.1 1 0.5 1 0.9 1-0.6 1-0.9 1 0.5 1-0.9 1 0.1 1 1.5 1-1.7 1 1.3 1-1.4 1 1.4 1 0.1 1-0.6 1 0.1 1 0.3 1-1.4 1 1.3 1-0.6 1 0 1-0.4 1 0.2 1-0.1 1-0.4 1 0.2 1-0.8 1 0.1 1 0.8 1 0.7 1 0.3 1-0.4 1-0.3 1-0.3 1-1.7 1 0.8 1-0.5 1 0.1 1 0.9 1-1.1 1 0 1 0 1 1.9 1-0.8 1 0.5 1-0.2 1-1.3 1 1.4 1-0.6 1 0.7 1 0.8 1-0.7 1-0.2 1-1.7 1-0.2 1 0.7 1 0 1-0.2 1 0.5 1-0.8 1 0.9 1 0.8 1-0.8 1 0.3 1-0.4 1.1 1.1 1-0.4 1-0.4 1-1.6 1 2.1 1-1.4 1 1.1 1-0.4 1 0.7 1-1 1-1 1-0.8 1 1.8 1-0.1 1 1 1-0.1 1 0 1-0.5 1-0.3 1 1.4 1-1 1 1.3 1-0.7 1-1 1 0.8 1-0.7 1-0.6 1 0.1 1 0.5 1 0 1 0.3 1 0.7 1-1.1 1-0.5 1 0.3 1 0.7 1-0.8 1-0.3 1-0.3 1 0.2 1 0.9 1-1.1 1 0.2 1 0 1 0.4 1-0.2 1 0.4 1-0.7 1-0.8 1-0.8 1 0.2 1 1 1-0.9 1 1.9 1-1.5 1 0.9 1-1.5 1 0.8 1-1.5 1 0.5 1 2 1-1.5 1 1 1-1 1 0.3 1 1.1 1-0.2 1 0.5 1-0.3 1 0.1 1-0.5 1-0.2 1-0.3 1 0.1 1-0.2 1 0.2 1-0.7 1 0.1 1 1.4 1-0.9 1 1.2 1-0.3 1-2 1-0.2 1 0.8 1-0.3 1 0.5 1 1 1-1 1 1.3 1 0 1-0.9 1 0 1-0.1 1-0.2 1 0.7 1-0.8 1 1.9 1-1.5 1-0.1 1 0.1 1-0.3 1 0.1 1-0.2 1-0.7 1 0.7 1 0.8 1-0.9 1 1.1 1 0.1 1-1.6 1 0.7 1 0.2 1 0 1-0.1 1-0.3 1 0.5 1-1.3 1 1.8 1 0.9 1-2.8 1 1 1-1.2 1 0.4 1 0.7 1-1.1 1 1.5 1-0.1 1-1.6 1 1.5 1-0.1 1 0.6 1 1 1-1.5 1 0.7 1-1.6 1 0.1 1 0.8 1-1.4 1-0.7 1 0.7 1-1.6 1 2.9 1-0.7 1 1.5 1-0.5 1-0.8 1 1.1 1-1.1 1 0.7 1 0.1 1 0.2 1-0.5 1-0.4 1 0.3 1-0.5 1 0.8 1-1.9 1-0.5 1 1.4 1 0.9 1 0.1 1-0.9 1-0.5 1 0.9 1 0 1-0.6 1 0.7 1-0.3 1 0.2 1-0.1 1-0.5 1-0.5 1 0.3 1 0.4 1-0.5 1-0.4 1 1.1 1-1.2 1-1.8 1 0.4 1 0.4 1 2 1-0.8 1 0.5 1-0.2 1 0.6 1 0.7 1-0.7 1 0.5 1-0.8 1 1.3 1-1 1-1.6 1 1.4 1-0.5 1-0.4 1 1.3 1-0.2 1-1 1 1.2 1 1.7 1-1.8 1 1.5 1 0 1-0.8" stroke="#ffff00"/>
<path d="M1309.6 517.4l1 1.1 1-0.5 1 0.6 1-0.8 1-0.3 1-0.9 1 0.4 1 1.4 1-0.5 1 1.5 1-0.3 1-1.5 1 1.4 1-2.4 1 1.7 1 0.5 1 1.5 1 0.6 1-0.2 1-0.5 1-1.1 1 1.3 1-0.1 1-0.4 1 1.4 1-0.5 1-1.7 1-1.4 1 2.6 1 0.7 1-1.3 1-0.7 1-0.3 1 0.1 1 0.9 1-0.8 1 1.4 1 0.1 1 0.1 1-1.3 1 0.2 1-1.8 1 1.6 1 0.1 1 1.9 1-0.6 1-0.3 1 0.2 1-0.3 1.1 0.1 1-0.3 1 0 1 0.1 1-0.4 1 0.5 1-0.4 1 0.1 1-0.7 1 0.2 1-0.3 1-0.2 1 0.6 1-0.4 1 1 1 1.3 1-1.7 1-1.1 1 1.5 1-0.2 1-0.5 1-0.3 1 0.7 1-0.7 1 0.3 1 1.2 1-1.1 1-0.2 1 0.3 1 0.1 1 0.9 1-0.3 1-0.3 1-0.3 1-0.8 1 0.1 1-0.2 1 0.5 1-1.2 1 2.2 1-1.2 1 2.3 1 0.4 1-1.5 1 0.3 1-1 1 0 1-0.4 1 0.4 1-0.5 1-0.7 1 0.5 1 0.1 1-0.2 1 1.2 1 0.4 1-0.8 1 0.1 1 0.8 1-0.8 1 0.4 1 0 1-1.1 1 1.4 1 0.4 1 0.3 1-0.6 1-1.1 1-0.8 1 0.4 1-0.1 1 1.4 1-0.3 1 0.1 1 0.8 1 0.1 1 0.6 1 0.5 1-1 1-0.4 1 0.6 1-2 1-0.2 1-0.3 1-0.6 1 0.7 1 1.8 1-1 1 1 1-0.3 1 0.8 1-1 1 0 1-0.6 1 0.3 1 0.2 1 0.8 1 0 1-0.3 1 1.3 1-0.3 1 0.2 1 0.7 1-0.8 1-1 1 0.6 1-0.5 1 0.4 1 0.3 1-0.4 1 0.1 1-0.8 1 0.6 1 0 1-0.2 1 0.4 1-0.7 1 0.1 1-0.5 1-0.6 1 1.4 1 0.8 1-1.4 1 2.6 1-1.5 1-0.1 1-0.8 1-0.5 1-0.7 1-0.4 1-0.3 1 1.6 1-0.1 1 0.2 1 0.8 1-2.6 1 0.8 1-0.6 1 0.9 1 1.6 1-1.5 1 1.1 1-0.3 1-1.4 1 0.2 1-0.5 1-0.6 1-1.3 1 0.7 1 0.4 1 0.9 1-1.1 1 1.2 1 1.3 1-1.8 1 1.5 1 0.6 1-0.6 1 0.5 1-0.3 1-0.6 1-0.2 1-1.1 1 1.5 1 0.4 1-1 1-0.8 1-1 1-0.3 1 2.8 1-0.6 1-0.6 1.1-1 1 1.3 1-0.1 1 1.1 1 0.3 1-0.2 1-1.8 1 0.7 1-0.5 1-0.4 1 0.3 1 0.2 1-1 1-0.2 1 0.3 1 0.9 1 0.5 1 0 1 0.3 1 0.9 1-0.4 1-1 1 0.8 1-3.3" stroke="#ffdf00"/>
<path d="M504.7 516.4l1-0.7 1 0.8 1-0.6 1-0.5 1 0.8 1-0.9 1-1.4 1 0.2 1-0.1 1 0.4 1 2 1 0 1-1 1-0.2 1 2.1 1-1.7 1-0.3 1 0.4 1 0.5 1 0.4 1 1.5 1-1 1-0.2 1-0.6 1-0.3 1-0.8 1 1.4 1 0.6 1-0.1 1 0.1 1-1 1-0.4 1 0.6 1 1.1 1-0.5 1-1.5 1 1.8 1 0.5 1 0.3 1-1 1 0.2 1-2 1 0.3 1 0.3 1-0.7 1 1 1-0.9 1 0.5 1-0.1 1-1.3 1 1.1 1 0 1-0.4 1 0.7 1 0.2 1-0.6 1 0 1-0.7 1 1 1 0.2 1-0.4 1 0.5 1-1.5 1 0.8 1 0.5 1-0.1 1 0.4 1-0.4 1 1 1-1.2 1 0.1 1-0.5 1 0.6 1-0.1 1-1.1 1 1.2 1 0.4 1-0.3 1-0.5 1 0.7 1-1.5 1 0.5 1 1 1-0.4 1 1.5 1-1.1 1-1 1-0.6 1 2.3 1 0.6 1-1 1-0.1 1 0.2 1-0.6 1-0.8 1 1.5 1 0 1-0.4 1-0.6 1 0.1 1 1.2 1 1 1-1.1 1-1 1 1.3 1-1 1 1.5 1-1 1-0.4 1-0.3 1 1.1 1-0.9 1 0.6 1 0.7 1-2.3 1 2 1-0.9 1 0.8 1-0.7 1 0 1 0.9 1-1.4 1 1 1-0.6 1-1.2 1 1 1 0.5 1-1.7 1 0.3 1 1 1-0.9 1 1.5 1-0.1 1 1 1-1.1 1 0.1 1-0.5 1 0 1-0.4 1 1 1-0.2 1-0.3 1 0 1 0.9 1-0.7 1 1.8 1 0.2 1-0.3 1-0.4 1-1.2 1-0.6 1-0.2 1 0.2 1 0 1-0.3 1-0.3 1 1.3 1 0.9 1-0.6 1-1.2 1 1.5 1 0.3 1-1.6 1 1.6 1-0.4 1-0.7 1 0.6 1 1 1 0.5 1 0.8 1-2.5 1 0.8 1-2 1 0.8 1-0.6 1-0.7 1 1.1 1-0.4 1.1-0.4 1 0 1 1.4 1-0.8 1 0.6 1 1.3 1-0.7 1-0.5 1 0.4 1-0.6 1-1.3 1 0.3 1 2.8 1-1 1-0.1 1 1.1 1-1.1 1 0.1 1-0.2 1-0.6 1 1.2 1-0.9 1 0 1-0.5 1-0.7 1 2.5 1 0.8 1-0.2 1-0.8 1-0.1 1-0.2 1 0.7 1 0.4 1 0.8 1 0.6 1-1.5 1-0.6 1 0.5 1-0.5 1-1.7 1 0.8 1-0.7 1 0.1 1-0.8 1 2.4 1-0.8 1-0.9 1 1.6 1 0.1 1 0.4 1 0.4 1-1.4 1-0.7 1 0.3 1 1 1-1 1-1.2 1 0.9 1 0.7 1 0 1 1 1 1.2 1-1.3 1-1.5 1 0.1 1-0.4 1-0.3 1 1.6 1 0.3 1-0.9 1 0.3 1-0.3 1 0.7 1 0.2 1 0.6 1-1.3 1-0.7 1 1.7 1-1.3 1 0.6 1-0.3 1 0.1 1-0.9 1 0.6 1 0.6 1 0.1 1-1.5" stroke="#ffbf00"/>
<path d="M501.0 516.0l1 0.1 1 1 1-1.7 1 1.3 1 1 1.1-0.7 1 0.9 1-0.1 1-0.9 1 0.9 1-2.7 1 1 1-0.3 1 0.7 1 0.3 1-1.1 1.1 0.1 1 0.2 1 0.6 1-1.4 1 1 1 0.5 1 0.1 1-0.4 1-0.8 1-0.9 1.1 0.2 1 0.9 1 0.1 1 0.7 1-1.2 1 0.2 1 0.2 1-0.3 1 0.1 1 0.1 1 0.9 1.1-0.5 1 0 1 0.2 1 0 1 0.3 1 0.2 1-1.2 1 0.6 1-1.2 1 1.2 1-1.7 1.1 0.4 1 1 1-0.1 1 0.1 1 0.3 1 1.5 1-1 1-0.8 1 0.3 1-0.3 1 1.2 1.1-0.2 1-0.2 1 0 1-0.7 1 0.1 1-0.4" stroke="#ff9f00"/>
<path d="M746.2 519.7l1-1.4 1.1 0.3 1 0.1 1 1.3 1.1-1.8 1 0.2 1 0 1.1-0.1 1 0.9 1-0.6 1.1-0.1 1 0.3 1 0.2 1.1-1.8 1 0.4 1 0.1 1.1 0.6 1-0.2M767.8 519.5l1-2 1 2 1-0.2 1 0.2 1-0.8 1-0.5 1 1.4 1-1.1 1.1 1.1 1-0.6 1 0.4 1 0.3 1 0.6 1-1 1-0.5 1-0.7 1 0.9 1-0.4 1 1 1-0.7 1-0.5 1 0.3 1-0.5 1.1 0.1 1 1.1 1-0.6 1-1.2 1 1 1 0.6 1-1.6 1 0.9 1-0.2 1 1.6 1-0.8 1 0 1-0.7 1 1.2 1-0.6 1.1-1.2 1-0.5 1-0.1 1 1.2 1 0.2 1-0.2 1 0.4 1 0.4 1 1.7 1 0.6 1-1.5 1 0.3 1-0.4 1-0.7 1 1.4 1-0.6 1.1 0.3 1-0.3 1 0.1 1-0.7 1 0.6 1 0 1 0.5 1-0.6 1 0.4 1 0.9 1-0.7 1 0.5 1 0 1-1.2 1 0.7 1.1-0.8 1-0.5 1 1.6 1-0.2 1 0.1 1-0.2 1 2 1-1.7 1 0.8 1-0.7 1-0.3 1-0.9 1 1.4 1-0.6 1-0.5 1.1 0.9 1-1.3 1 0.4 1 0.4 1-1.2 1-0.1 1 0.5 1-0.2 1 2.3 1-0.7 1-1 1 1.2 1-0.5 1 1.7 1-1.8 1.1-0.1 1 1.3 1-0.5 1-1.5 1 0.9 1-1.4 1-1.2 1 1.4 1 0.1 1 0.3 1-0.3 1-0.3 1 1.2 1 0.4 1-1.2 1.1 2.2 1-1.8 1-0.2 1 0 1 0.5 1-0.1 1-0.5 1 1 1 0.9 1-1.4 1 0.2 1 0.3 1-0.6 1-0.8 1 0.5 1.1-0.2" stroke="#ff9f00"/>
<path d="M1170.8 524.4l1 0.9 1-0.6 1 0 1 0 1 0.5 1-0.9 1 0 1-0.5 1 0.4 1-1.6 1 0.7 1 0.7 1-0.2 1-0.1 1-1.4 1 2.5 1-1.2 1 0 1 1.1 1-1.2 1 0.8 1 1 1-1.5 1 0.3 1-0.8 1 0.3 1-0.9 1 0.8 1-1.5 1-0.5 1 1.1 1 1.3 1-0.7 1 0 1 0.2 1-0.6 1 0.2 1 0.4 1 0.1 1-0.8 1 0.2 1-0.2 1 0.2 1 0.7 1-0.6 1-0.7 1 0.2 1-1.2 1 1.1 1-0.8 1 0.6 1 0.3 1-1.5 1 0.7 1 0.6 1-0.8 1 0.8 1-0.6 1-1.2 1 0.9 1-0.9 1-0.7 1 0.1 1 0.8 1 1.8 1 0.3 1-0.4 1-1.3 1-0.4 1 0.2 1 0.4 1 0.8 1-0.3 1-0.5 1-1 1 0.5 1 1.7 1 1.5 1-0.5 1-1.9 1-0.1 1-1.3 1-1.3 1 1.5 1 0.7 1 0.3 1 0.4 1-0.7 1 1.4 1-1.6 1 0.6 1-0.9 1 1.2 1 0.2 1 0.3 1-1.1 1 0.3 1 0 1 0 1-0.1 1 0.8 1-0.4 1 0.4 1-0.8 1-0.6 1-0.5 1-0.2 1 0.6 1-0.5 1 0.1 1 1.2 1-0.7 1 0.6 1-0.7 1 0.4 1-1.1 1 0.4 1 0 1-1.5 1 0.8 1-0.8 1-1 1 2.5 1-0.4 1-1.7 1 1.4 1-2.4 1 0.8 1 0.9 1-1.8 1 1.4 1 0.7 1 0.1 1 1.2 1-0.4 1-1.1 1 1.7 1-0.7 1-0.8 1 0.1 1-0.9 1-0.2 1 0.9 1 0.1 1 0.6 1-0.6 1 0.1 1 0 1 1.4 1-2.1 1 0.2 1-0.2 1-0.5 1-0.6 1 0 1-0.8 1 0.1 1 1.5 1-1.1 1-0.3 1-1.2 1 0.4 1 0.8 1 0.2 1 1.4 1-0.9 1-0.6 1 0.5 1-1 1-0.1 1 1.2 1 1.3 1-0.9 1-0.9 1-1.9 1 0.8 1 0.6 1 0 1 0.6 1-0.1 1 0.2 1 0 1 0.2 1-0.2 1 0.4 1-1.8 1 0.7 1-0.7 1 1.2 1-0.3 1 0.4 1 1.2 1-0.5 1-0.6 1-0.5 1-0.7 1 1.5 1-0.1 1-1.5 1 1.4 1-1.3 1 1.4 1-0.2 1-0.7 1 0.3 1 0.5 1-1.6 1-0.4 1 0.4 1-1.5 1 1.2 1 0.2 1 1.1 1 0.5 1-0.2 1 0.4 1-1.4 1 1 1 0.9 1-0.1 1 0.3 1-0.1 1-1.1 1 0.3 1 0 1-0.5 1-0.8 1 0.5 1-1.7 1 1.2 1 0.9 1-0.5 1 0.1 1 0 1 0.5 1-1 1 1.1 1 0.9 1-0.9 1-0.7 1 0.7 1-0.1 1-0.1 1 0.2 1 0.4 1-0.6 1 0.1 1-1.2 1 1.4 1 0.5 1-0.5 1 0.2 1-0.4 1 0.3 1-1.5 1 0.4 1 0.5 1-1 1-0.3 1-0.4 1 0.7 1 0.3 1-2.1 1 2.4 1 0.5 1-0.5 1-0.3 1.1-0.6 1 0.2 1-1.7 1 0.1 1-0.6 1 1 1-1.3 1 0.2 1 0.7 1-0.1 1-1.2 1 1.4 1 0.3 1 0.4 1 0.2 1-0.8 1 1.1 1 0.1 1-0.1 1 0.2 1 0.7 1 0.5 1 0 1-1.1 1 0.4 1 1.4 1-0.1" stroke="#ff8000"/>
<path d="M1365.6 516.7l1 0.2 1 0.3 1 1.7 1-0.6 1-0.4 1-0.7 1 0.9 1 0.3 1-1.2 1 0.6 1-1 1-0.7 1 0.8 1 0.8 1-1.5 1 0.4 1 1.1 1-0.1 1 0.2 1-0.1 1 0.3 1-0.3 1-0.7 1-0.2 1 0.6 1 0.5 1 1 1 0.5 1-0.7 1-0.3 1-1.1 1-0.8 1-0.3 1 1 1 0.7 1-0.3 1 0.6 1-0.8 1-0.4 1-0.2 1-0.2 1-0.9 1 0.3 1 1.5 1-1.2 1 1.1 1 0.1 1 0.2 1-0.3 1-1.6 1 0.3 1 1.5 1 0.9 1 0 1 0 1-1.3 1-0.6 1 1.2 1-0.6 1 0.6 1-0.2 1-0.4 1 1 1 0 1-0.6 1-0.1 1-0.5 1-0.7 1 2.4 1-1.3 1 0.1 1 0.8 1-0.9 1 0.3 1-1.4 1-0.1 1-0.5 1 0 1 1.2 1-0.1 1 1.7 1-0.9 1 0.1 1 1.3 1-1.5 1 0.3 1-0.7 1-1.2 1 1.3 1-1.7 1 3.1 1-1.1 1 0.4 1 1.4 1-1.3 1-3 1 1.4 1-0.8 1 1.7 1 0.4 1-0.1 1 0.6 1-0.3 1-0.5 1-0.5 1 2.3 1-0.6 1-0.7 1 0.4 1-0.3 1 0.4 1 0.1 1-1 1 0.1 1-0.4 1 0.5 1 0.4 1-1.6 1 1.4 1-2 1 0.8 1-0.2 1 0.8 1-0.4 1-1.2 1 1 1-1.4 1 1.2 1 0.6 1 0.9 1-0.9 1 0.2 1-0.2 1 0.5 1-1.4 1 1.5 1 0.4 1-0.6 1-0.7 1-0.4 1 0.2 1-1.1 1 1.5 1-0.3 1 0.4 1-0.8 1 1.7 1-0.2 1 0.4 1-0.4 1-0.4 1-2.6 1 1.6 1 0.6 1-0.3 1 0.6 1 0.1 1-1.2 1 1.1 1-1.2 1 0.2 1 1.5 1-0.4 1 1.1 1-1 1 0.1 1 0.4 1-0.5 1-0.6 1 1.1 1-0.2 1 0.7 1 0.7 1-0.5 1 0.3 1-1.1 1-1.1 1-0.6 1 1.1 1 0 1-1.1 1 2 1-0.3 1 0.6 1-1.5 1 0.5 1 0.4 1 0 1-0.6 1 2.2 1-0.9 1-0.7 1-0.6 1 0.7 1-1.2 1 0.2 1 0 1-0.4 1 1.6 1 0.1 1 0.1 1 0.7 1-0.8 1 0.1 1 0.5 1-1.4 1-1.3 1 0.1 1 0.5 1 0.5 1-0.2 1-1.1 1 1.1 1-0.6 1 0.8 1-0.5 1-0.3 1 2.1 1-1.4 1 0.7 1-0.7 1 0.7 1 0.3 1 0.7 1-1 1-1.1 1 0.4 1-0.8 1 0.1 1 1.2 1-0.2 1-0.4 1.1-0.6 1 1.1 1-1.2 1 1.1 1-0.3 1 0.2 1 1.3 1 0 1-0.7 1 0.1 1-0.4 1-1.5 1 1.4 1 0.6 1-0.3 1-0.4 1 0.2 1-0.6 1 1 1-0.4 1-0.9 1-0.8 1 1.2 1 0 1 1 1-0.4 1-1.1 1 0.1 1 0.1 1-1.2 1 0.2 1 2.3 1 0.7 1-1 1-0.5 1 0 1-0.7 1-1.1 1 0.1 1 1.5 1-1.2 1 1.9 1-1 1 0.9 1 1.1 1-1.2 1-0.7 1-0.6" stroke="#ff6000"/>
<path d="M190.0 517.7l1 0.7 1 0.4 1 0 1 1.6 1 0.5 1-0.3 1-0.6 1-1.2 1 1 1.1-1.1 1-0.7 1-0.5 1-0.2 1-0.1 1 1.5 1-0.6 1-0.2 1 0.7 1-1 1-0.3 1-0.1 1 1 1 0.3 1 0.6 1-0.8 1 0.6 1-0.4 1 1.2 1 1.1 1.1-1.3 1 1.6 1-0.6 1 0 1-1 1-0.3 1 0.9 1-0.6 1-0.2 1 0 1 0.3 1 0.2 1-1 1 0.8 1-2 1 1.5 1 1.4 1-1.9 1-0.9 1-0.2 1.1-0.3 1 0.2 1-0.2 1 1.5 1-0.9 1 0.9 1 0.2 1-0.9 1 0.7 1 1.9 1-1.4 1-0.5 1 0.4 1-0.4 1-0.5 1 0.2 1-0.6 1 0.7 1 2.2 1 0.1 1.1-0.8 1-1 1-1.1 1 0.1 1 0.5 1 0.6 1 2.5 1-1.2 1 0.4 1-2.5 1 0 1-0.2 1 0.6 1 0.4 1-0.2 1 0 1-1.6 1 0.4 1 0.3 1 1.3 1.1-1.2 1 0.3 1-0.1 1-1.8 1 0.8 1 0.7 1 0.5 1-0.5 1 1 1-0.3 1-0.1 1-0.1 1-0.5 1 0.8 1-0.2 1 0.5 1 0.7 1 0.2 1 0.2 1-0.3 1.1-0.8 1-0.3 1 1.2 1-1.7 1-0.7 1 0.8 1 0.9 1-0.2 1 0.7 1-0.5 1-0.3 1 0.6 1 0 1-1.1 1 0.1 1-1.6 1 1.5 1-0.6 1 1.1 1 0 1.1 0.6 1 0.4 1-0.7 1-0.9 1-0.9 1 0.1 1 1.4 1-1.8 1 0.6 1 0.6 1-0.2 1 0.1 1 0.1 1 1.1 1-0.6 1-1.3 1 0.2 1 1.1 1 0.5 1-0.6 1.1 0.8 1 0.1 1 0.3 1-0.1 1-1.2 1 0.6 1-0.4 1 0.2 1 0.1 1-2.1 1-0.5 1 0.3 1-1 1 0.6 1 0.6 1 0.1" stroke="#ff4000"/>
<path d="M1587.7 516.1l1 1.3 1-0.7 1-0.7 1 0.8 1-0.1 1.1-0.2 1-0.5 1 1.3 1-1 1-0.1 1 0.4 1 1.7 1 0 1-1.3 1 0.5 1 0.2 1-0.3 1 0.9 1-1.1 1-0.9 1-0.4 1 0.5 1-0.2 1 0.6 1 0 1-0.7 1 0.9 1-0.5 1 1.2 1 1 1-0.3 1.1 0 1-1.5 1 0.7 1-1.1 1 0 1 1 1 0.8 1-0.2 1-0.8 1 1.4 1 1 1-0.9 1 0.4 1 0.9 1-1.1 1-0.6 1-0.5 1-0.3 1-0.7 1 1.6 1-0.7 1-1.6 1 0.2 1 1.2 1-0.9 1 1.8 1.1-0.8 1-0.5 1 1.4 1-1.4 1-0.3 1-0.1 1-1.7 1 0.7 1 1.2 1 1.1 1 0.2 1-0.2 1-0.2 1-0.7 1 1.3 1-0.3 1-1.1 1 1.4 1-1.5 1-0.4 1 1 1-0.7 1 0.4 1-0.2 1-0.8 1 1.1 1-0.2 1.1-0.3 1-0.6 1 0.9 1-1.4 1 1.8 1-1.1 1-1.2 1 1.2 1 1 1-0.2 1-0.8 1 1.6 1-1.1 1 1.3 1-1.1 1-0.6 1 0.5 1 0.6 1-0.2 1 1 1-1.3 1 0.7 1-0.4 1-0.1 1-0.6 1-1.4 1.1 0.5 1 1 1-0.2 1-0.6 1-0.1 1 0.9 1-0.2 1 0.2 1-0.8 1 0.5 1 1.4 1-1.3 1 0.4" stroke="#ff4000"/>
<path d="M215.0 518.8l1-0.5 1.1-0.1 1 0.2 1 0.1 1-0.2 1.1-0.2 1 0.2 1-0.4 1 1.6 1.1-0.5 1-0.5 1 0.4 1.1 0.7 1 0.8 1-1.3 1 0.2 1.1-0.2 1-0.6 1 0 1.1 0.9 1 0.3 1-1.1 1 1.1 1.1-1.2 1-1 1 0.7 1-0.7 1.1-0.6 1 0.2 1 0.9 1.1-2.1 1 0.3 1 0 1 0.9M252.9 518.7l1.1 2 1-0.5 1-0.9 1 0.5 1 0 1.1-1.9 1-0.4 1 0.9 1-0.7 1.1 1.4 1-0.7 1 0 1-1.2 1 1.2 1.1-1.7 1 1.3 1 0.5 1 0.4 1-0.8 1.1 0.3 1 0.3 1-1 1 0 1.1-0.9 1-0.2 1 0.6 1-0.6 1 1.2 1.1 0.3 1 1.4 1-0.8 1-0.5 1-0.6 1.1-0.5 1-0.3 1 1.4 1 0.6 1.1-1.1 1 0.6 1-0.1 1-1.2 1 0.4 1.1-1.8 1 0.3M301.5 516.1l1 0.5 1-0.5 1 0.8 1-0.3 1 0.3 1 0.3 1.1-0.9 1 1.1 1-0.7 1 0.5 1-0.8 1 0.4 1 1.6 1-0.8 1-1.5 1 0.5 1-1.1 1.1-0.3 1-0.6 1 1.2 1 0.7 1 0.8 1 0.7 1 0.2 1-1.5 1 1.2 1-0.3 1.1-1.4 1 0.9 1 0 1 0.5 1-0.4 1 0 1 0.3 1 0.3 1 0.7 1-1.1M344.8 517.8l1.1-1.4 1-0.1 1 0.8 1-0.9 1 1.4 1 0.1 1 1.4 1.1 0.2 1-1.9 1-0.3 1 0.3M416.0 516.2l1-1.5 1 0.7 1 0.1 1 0 1 0.2 1-0.3 1.1 0.5 1-1.4 1 0.4 1 1.5 1-1.8 1-0.4 1 0.2 1-0.1 1 0.6 1 1.4 1-0.4 1 0.3 1.1-0.8 1-0.5 1-0.7 1 0 1 1.3 1-0.9 1 0.3 1-0.5 1 0.2 1 0.6 1-0.7 1 1.4 1 0.2 1.1-0.1 1 0.8 1-0.6 1-1.1 1-0.9 1-0.7 1 1.1 1-1.1 1 2.3 1 0.2 1 0.9 1-2.2 1.1-0.5 1-0.7 1 2.2 1-1.1 1 1.6 1-1 1 0.6 1-0.1 1-0.9 1-0.9 1-1.6 1 0.5 1 2.1 1.1-1.4 1 2.2 1-2.4 1 1.3 1-0.4 1-0.2 1-1.7 1 0.4 1 1.2 1-0.4 1 0.2 1-1 1.1 1.3 1-0.1 1 0 1-0.6 1-0.1 1 1.1 1 0.8 1-1.5 1 0.6 1-0.7 1 0.9 1-0.3 1 0.3 1.1 0.6 1-0.2 1-0.8" stroke="#ff2000"/>
<path d="M701.9 521.5l1-0.3 1 0 1 0.6 1-0.8 1 0.4 1 0.7 1-0.6 1 0.3 1-0.1 1 0 1 0 1-0.7 1-1.1 1 0.8 1-0.3 1 0.4 1 0.3 1 0 1-1.3 1 0.9 1-0.4 1 0.5 1 0.3 1 0.1 1 0.4 1-0.5 1 0.2 1 1 1-1.7 1 1.1 1-0.4 1-0.9 1 0.9 1 0.1 1 1 1-2.1 1 0.7 1-0.4 1 1.3 1 0.6 1-0.9 1 1.1 1-1.7 1-0.6 1 0.9 1-0.3 1-0.8 1 0 1 0.6 1-0.5 1-0.5 1-0.1 1-1.3 1 0.8 1 1.7 1 0.1 1 0.7 1-1.5 1-0.2 1-0.8 1 0 1-0.4 1 1.4 1 0.1 1-1.5 1 1.2 1-1.4 1-0.1 1-0.2 1-1.3 1 1.9 1-0.1 1-0.4 1 1.3 1-0.3 1-0.9 1-1.4 1 2.1 1 0 1-0.4 1 0.8 1-0.4 1 1.1 1-0.3 1-0.7 1-0.2 1-1.1 1 1.4 1-1.6 1-0.5 1 0.1 1 1.2 1 0.8 1-2.3 1 0 1 1.6 1-1.4 1 0.4 1 0.2 1-0.5 1 0.5 1-1.1 1 0.5 1-1.4 1 0.3 1 0.3 1 1.1 1 1.2 1-0.6 1-0.6 1-0.2 1 0.5 1-0.1 1 0.3 1-0.7 1-0.6 1 0.2 1-1.2 1 1.7 1 0.7 1-0.8 1-0.6 1 0.1 1 1 1-0.5 1 0.1 1-0.9 1 0.6 1 1.2 1-2.5 1-0.1 1 1.5 1-0.6 1 0 1 0.7 1-1 1 0.8 1-0.8 1-0.6 1-0.1 1-0.3 1 1.4 1-0.2 1-0.5 1 0.9 1 0.6 1-0.5 1 0.7 1-1.4 1-0.8 1 0.6 1-0.9 1 0.6 1-1.4 1 0.2 1 0.9 1-0.5 1 0.8 1 0.6 1-1.3 1-0.9 1 0.9 1 0.1 1 0.4 1 0.5 1-1.4 1-0.4 1 0.6 1-0.7 1 0.4 1 2 1-1 1 1.1 1-0.8 1-0.3 1-0.8 1-0.3 1 0.4 1 0.3 1 0 1-0.9 1-0.4 1-1.2 1 0.6 1 0.3 1 1.4 1-0.9 1 0.6 1-0.8 1 0.7 1-1 1 0.1 1-0.1 1 1.8 1-1.1 1 0.7 1 0.7 1-1.5 1 0.5 1-2 1 0.8 1 0.1 1 1.2 1 0 1 0.6 1-1.3 1-0.5 1-0.3 1 0.1 1-0.7 1 0.2 1 0.9 1-1.2 1 1.7 1-0.6 1.1 0.3 1 0.5 1-1.3 1 1.4 1-1.3 1 0.3 1 0.5 1-0.6 1 1 1-1.3 1-0.6 1 1.5 1-1.5 1 0.2 1 2.6 1-1.7 1 1.1 1 0.7 1-0.9 1 0.5 1-1.1 1-0.2 1-1.6 1 1.1 1-0.7 1 1.3 1-0.3 1 0.5 1-0.9 1-0.4 1 0.5 1 0 1 1.2 1-0.7 1 0.2 1-1.8 1 0.7 1 1.2 1-0.1 1-0.8 1-0.9 1-1 1 1.1 1 0.3 1 0.3 1-0.5 1-0.6 1 1 1-0.3 1-0.9 1 0.3 1 0.3 1-0.2 1-0.4 1 0.1 1 0.2 1-0.4 1 0.6" stroke="#ff0000"/>
<path d="M190.0 517.2l1.2 0.1 1.2 0.2 1.2 0.7 1.2 1 1.2 0.2" stroke="#df0000"/>
<path d="M1191.7 521.1l1.1-0.2 1-0.8 1 0.2 1-0.3 1-0.5 1 1.3 1 0.9 1-0.4 1 0.4 1-1.2 1 0.8 1-0.1 1 0.4 1 1.2 1-1.6 1.1-0.2 1 0.5 1-0.1 1-1.2 1 0.7 1-0.5 1-0.4 1-0.5 1 0.8 1-0.1 1-0.4 1 1.1 1 1 1-0.6 1-1.1 1.1 1.2 1-0.9 1-0.3 1 1.4 1-1.1 1-1 1-0.3 1 1 1 0.4 1 0.5 1-1.3 1-0.8 1-0.2 1 0.4 1 0.2 1.1-0.9 1 0.5 1-0.3 1-0.3 1 1.9 1-1 1 1.3 1 0 1-0.4 1 0 1-0.7 1 0.2 1 0.8 1-0.9 1 0.4 1.1-1.3 1 0.6 1-0.1 1 0.4 1 0.1 1-0.4 1-0.6 1 1.6 1-0.6 1 0.5 1 2.2 1-0.8 1-0.5 1-0.3 1-0.5 1.1-0.4 1 0.4 1-0.7 1 2.4 1-0.1 1-0.1 1-0.6 1-0.9 1-0.2 1-0.7 1-0.1 1-0.6 1 0.8 1-0.2 1-1.4 1.1 0.3 1 0.3 1 1.1 1 1.3 1-1.5 1 0.4 1-1.2 1 0.7 1 0.8 1 1.2 1-1.3 1 0.6 1 0.6 1-2.8 1 0.3 1.1 0.4 1 0.9 1 1.5 1-1.2 1-1.1 1-0.6 1-0.1 1 0 1-0.3 1 1 1-0.4 1 0 1-0.2 1 0.1 1 1.7 1.1-0.5 1-0.2 1-0.2 1 0 1-0.2 1 0.1 1 0.7 1-0.1 1 0.1" stroke="#df0000"/>
<path d="M1535.8 521.1l1 0.1 1-0.5 1-1.6 1 0.6 1-1 1-0.6 1 0.7 1 2.1 1-1.1 1 1.8 1-1.5 1 0.8 1-0.9 1-0.4 1 1.6 1-0.8 1-0.7 1 0 1-0.1 1-0.2 1 0.1 1 0.3 1 0.2 1-0.4 1 1.3 1-1.3 1-0.5 1-0.7 1.1 2.6 1-1.4 1-0.5 1 0.7 1-1.1 1 2.4 1-2.9 1 0.5 1 0.4 1-0.5 1 1.3 1-0.5 1-0.3 1 0.6 1-0.7 1 0.5 1-0.4 1 0.9 1-1.1 1 0.5 1-2 1 1.2 1-0.7 1-0.8 1 1.1 1-0.4 1-0.2 1 0.3 1-0.6 1-0.5 1 0.1 1 0.7 1-0.9 1-0.8 1 0.9 1 1.9 1 0.1 1 0 1 0.2 1-0.6 1-0.7 1 1.1 1.1-1.6 1 0.3 1-0.2 1-1.4 1 1.1 1 1.4 1-0.9 1 0 1 1.1 1-0.1 1 0.5 1-0.4 1-0.8 1 0.2 1 0.8 1-0.6 1 0.2 1 0.5 1-0.4 1 0.4 1-2 1 0.8 1-0.2 1 0.7 1-1.6 1 0.6 1-0.6 1 0.6 1 0 1 0.4 1 0.9 1-1.2 1 0.3 1 1.9 1-1.6 1-1.3 1-0.1 1-0.5 1 0.7 1-0.4 1-0.2 1-0.1 1.1-0.2 1 1.7 1 1.2 1 0.3 1-2.2 1 0.5 1-0.9 1-0.6 1 1.2 1-0.3 1-0.1 1 0.8 1 1.1 1 0.6 1 0.3 1-1.1 1-1.1 1-0.8 1 0.6 1 0 1 0.2 1 0 1-0.6 1 1.4 1-0.3 1-1 1 0.6 1 0.7 1-0.6 1 0.7 1 0 1-0.2 1-2 1 1.7 1-0.6 1-0.3 1 0.6 1-0.6 1 0.2 1-0.1 1 0.5 1 0.3 1.1-0.2 1 0.8 1-1.3 1 0.1 1-0.6 1-0.3 1 0 1 0.8 1 0.4 1-0.8 1 0.5 1-0.4 1-0.3 1 0.7 1-0.4 1 0.3 1 0.9 1-1.5 1 0.2 1 0.7 1-0.1" stroke="#df0000"/>
<path d="M620.9 520.4l1.1-0.5 1-0.7 1-0.4 1 0.6 1 0.2 1-0.7 1-0.3 1-0.3 1 0.4 1-0.2 1 0.4 1 0.6 1 0.4 1-1.6 1-0.6 1 0.3 1-1.3 1 0.5 1-1.4 1 1.7 1-1.8 1-0.9 1 0.8 1-0.8 1 0.8 1 0.1 1-0.6 1 1.3 1.1-1 1 0 1 0.3 1 0.4 1-0.7 1 0.4 1 0.6 1-1.2 1 0.3 1 0.3 1-0.5 1 1.1 1 1.1 1-2.5 1 0.6 1-0.3 1-1.6 1 0.6 1-0.3 1 1.5 1 0.7 1-1.5 1 1 1-0.7 1 0 1 1.9 1-0.3 1.1 0.5 1-1.4 1-0.1 1 0.8 1 0.8 1-0.8 1 2.6 1-3.3 1-0.5 1-0.3 1 0 1 2 1 0.1 1 0.6 1-0.4 1-0.8 1-2.4 1 1.8 1 0 1-0.4 1-0.8 1 1.1 1-1.5 1 0.3 1 0.7 1 0.2 1-1.6 1 1.8 1.1-0.4 1 0.5 1-0.2 1-0.2 1 0.6 1-1.3 1 0.1 1-0.3 1 0.6 1 0.3 1 0.2 1-0.8 1 0.6 1-0.5 1 0.5 1-1.1 1-0.1 1 0.3 1 0 1 1.2 1-0.6 1-1.9 1 1.2 1 1.5 1-0.6 1-0.3 1-0.1 1.1 0.2 1-0.7 1 0 1 0.3 1 0.2 1 0.5 1 0.7 1-1.5 1-0.2 1 0.5 1-0.8 1-1.3 1 1.1 1 0.6 1-0.9 1 1.1 1-0.7 1-0.1 1 0.7 1-1.4 1-0.3 1 0 1 0.4 1 0 1 1.9 1-1.8 1 0.2 1-0.4 1.1-0.9 1 1.7 1-1.4 1 1.3 1-0.6 1-0.6 1 1.1 1-2.2 1 1.1 1-0.2 1 0.7 1 1.2 1 0.8 1-0.7 1-0.7 1 0.9 1-1.2 1 0.5 1-0.6 1 0.7 1-0.1 1-0.8 1 1.1 1 0.2 1-1.4 1 0.5 1-0.2 1.1 0.1 1 0.3 1 0.7 1 0 1-0.5 1-0.6 1 1 1-0.3 1 0.3 1 1.2 1-0.5 1 0.6 1-1.3 1 0.4 1-0.1 1 0 1-0.9 1-1.1 1 2.3 1 0.5 1 0.7 1 0.8 1-1 1 0.8 1-0.4 1-0.4 1 0.4 1-0.6 1.1-1.6 1 0.5 1 0.2 1-0.3 1 1.8 1 0.1 1-0.3 1 1.6 1-1.8 1 1.1 1-1 1 0.6 1 0.6 1-0.7 1-0.4 1 0.6 1-0.2 1-0.2 1 0.8 1-1.2" stroke="#bf0000"/>
<path d="M1034.9 517.9l1-0.1 1 0.5 1 0.5 1.1 0.8 1-1.2 1 0.7 1 1.1 1-1 1 0.8 1-0.2 1-0.8 1 1.2 1-2.6 1.1 0.1 1-0.6 1 0.9 1-0.3 1-0.4 1 1.1 1-0.1 1 0.3 1 0.7 1-0.9 1.1 1.2 1 0 1 0.8 1-2.3 1 1 1 1.5 1-1.7 1 1.4 1-2.3 1.1 0.6 1 0.1 1 0.5 1 0.1 1 1.1 1-1.4 1 0.4 1 1.2 1-0.6 1-0.2 1.1 0.5 1-0.1 1 1.4 1 0.4 1-1.5 1 0.3 1-0.8 1 1.1 1-0.7 1-0.4 1.1-0.2 1-0.1 1 1.3 1-0.8 1 1.4 1-1.4 1-0.9 1 0.2 1 0.2 1 1.5 1.1-0.9 1 0.6 1-0.8 1 0.5 1 0.1 1-0.4 1 0.5 1 1.2 1-0.6 1.1-0.8 1-0.4 1 0.3 1-0.3 1 1 1-1.5 1 0.7 1-0.2 1 1 1-0.2 1.1-0.2 1-1.2 1 0.6 1 0.3 1 0.3 1-0.5 1-0.9" stroke="#bf0000"/>
<path d="M415.8 515.2l1 0.5 1 0 1-0.6 1.1-0.2 1 0.9 1 0.6 1 0 1 0.1 1 0 1-1.3 1.1 1 1-1.3 1-0.7 1 0.3 1 0.3 1-0.5 1-0.5 1-0.6 1.1 1 1-0.9 1 0.3 1 1.1 1 0 1 0.6 1 0.2 1.1-0.4 1-0.5 1-0.6 1 0.3 1 0.6 1-1.3 1 0.8 1.1 1.2 1-0.7 1 0 1-0.6 1-0.6 1 0.2 1 1.6 1-1.5 1.1 1.8 1-0.7 1-0.7 1-0.6 1-1.4 1-0.3 1 0.3 1.1 1.5 1 0.1 1-0.7 1-0.7 1 1.4 1 0.4 1-0.1 1.1-0.4 1-0.5 1 0.1 1-0.5 1 0.8 1-1.5 1 1 1.1-0.1 1-1 1 0.6 1 0" stroke="#9f0000"/>
<path d="M190.0 518.1l1.1-1 1 1.4 1.1-0.5 1 0.9 1.1-0.2 1 0.3 1.1-0.9 1 0.6 1.1-0.5 1-0.3 1.1 0.9 1-0.3 1.1 0.7 1 0.4 1.1-1.4 1 0.2 1.1 0.2 1 0.6 1.1-1.7M213.0 518.0l1-1.3 1-0.6 1 2.1 1-2.1 1 0 1 0 1-0.8 1 0.2 1 0.9 1-1.4 1 0.4 1-0.4 1.1 2.5 1-0.1 1-1.8 1 1.1 1-0.8 1 0.7 1 0.5 1 0.2 1-1.2 1 1.1 1 2 1-0.6 1 0.5 1-1.2 1 0.3 1-0.9 1.1 0.1 1 0.8 1-1 1 0.9 1-1.8 1 0.6 1 0.1 1 0.5 1-1.1 1-1.8 1 1.9 1-0.4 1-0.1 1 0.1 1 0 1-1.5 1 2.1 1.1-1.4 1 0.9 1 0.8 1-0.3 1 0.8 1-0.5 1-0.3 1 0.3 1-1.1 1 0.8 1-0.5 1 0.1 1 2 1-1.1 1-0.6 1 0.2 1-0.4 1.1-1 1-0.2 1 1.5 1-1.1 1 0.6 1-0.5 1 0.1 1 1.3 1-0.3 1-0.1 1 1 1-1.6 1-0.5 1 0.7 1 0.7 1-0.1 1.1-1.4 1-0.2 1 1.5 1 0.1 1 0.8 1-0.1 1-0.3 1-0.1 1-0.7 1 0.2 1-1 1 1.1 1-0.1 1 0.1 1-1.3 1 0.9 1-0.8 1.1 1.7 1-0.1 1-1 1 0.8 1-1.9 1-0.4 1 0.5 1-0.7 1 0.9 1 0 1 1.5 1-0.6 1 1.2 1-0.3 1-0.6 1 1 1.1-1.4 1 0.8 1-1.6 1-0.7 1-0.4 1 0 1 0.2 1 1.7 1-0.3 1-1 1 0.3 1 0.1 1 0.6 1-0.1 1 1 1 0 1 1.3 1.1-0.1 1-0.1 1 0.8 1-0.3 1-2.1 1 0.4 1-0.3 1 1.2 1-1.4 1 1.7 1 1.2 1-0.6 1-1" stroke="#800000"/>
<path d="M1585.7 523.3l1-0.8 1-0.7 1 0.9 1 0.8 1-0.6 1.1-0.4 1 0.2 1 0.6 1-0.4 1-0.3 1 0.8 1 0 1-1.5 1 0.9 1-1 1 0.7 1 0.1 1-0.7 1 0.9 1 0.3 1-0.5 1 0.9 1-0.6 1 0.4 1 0.1 1 0.9 1-2 1-1.3 1 0.1 1-0.3 1 1 1.1-1.1 1 0.4 1 1 1-2 1 0.5 1 1 1 0 1 0.3 1-0.5 1-1.5 1 0 1-0.4 1-0.6 1 1 1-0.5 1 0.1 1 0.5 1-0.1 1 0.6 1 0 1-0.2 1-1.6 1 1.1 1-0.2 1 0.9 1-1.2 1 1.2 1.1-0.7 1-1.6 1 1.5 1 0.5 1-2 1 0.9 1 0.4 1 1.2 1-0.4 1-1 1 0.3 1-1.7 1 0.9 1 0 1-0.3 1-0.2 1 0.9 1-1.4 1 0.6 1-1.6 1-0.1 1 1.4 1 0.6 1-0.7 1 1.7 1-2.6 1 0.5 1.1-1.3 1 1.5 1-0.2 1 0.5 1 0 1 1.5 1-1.6 1-0.8 1 1.4 1-1.4 1 1.2 1 0.4 1-1.2 1 1.7 1-0.2 1-0.3 1-1.9 1 1.4 1-0.1 1-0.4 1 0.9 1-1.3 1 1.1 1-1.8 1 0.9 1 0.2 1.1-0.3 1-0.3 1 0 1-1 1 1.1 1-0.7 1 0.6 1-1.1 1-0.2 1 0.6 1-0.2 1 0.8 1 0.4 1-1" stroke="#800000"/>
</g>
<g fill="none" stroke-width="3.9" stroke-linejoin="round" stroke-linecap="round" clip-path="url(#c2)">
<path d="M441.7 899.1l1-4 1-1.5 1-2.3 1 0.9 1 0.7 1 0.5 1 0.6 1-2.6 1 1.6 1-0.2 1 0.6 1-1.4 1-0.5 1-2.6 1 0.6 1-0.3 1 0 1-0.4 1 1.1 1-0.8 1 2.2 1 0.4 1 1.6 1 1.2 1-3.2 1 1.7 1-6.9 1-1.1 1-0.2 1 3.5 1 3.3 1 3.1 1 1.6 1-1.1 1 0 1-0.9 1-2.4 1 3.5 1-2 1-0.8 1-3.9 1 1.1 1 2.9 1.1 4.2 1-0.8 1 1.9 1-1.6 1-5.6 1 2.5 1 0.5 1 0.1 1 0.7 1 0.3 1 2.6 1-7 1 3.5 1-0.9 1 1.6 1 0.8 1-1.5 1 0 1 0.1 1-0.8 1 0.4 1-4.1 1 1.1 1 3.7 1-0.3 1 0 1 2.3 1-4.7 1 1 1 2.9 1-1.9 1-0.5 1 1.3 1-0.8 1-0.8 1 2.2 1-4.7 1 1.3 1 3.2 1-2.8 1 0.4 1 2.4 1-1.3 1 2.3 1-3.7 1-1.7 1 0.7 1 0.5 1-3.6 1 2.7 1 0.2 1-0.3 1-0.1 1 0.1 1 2.5 1 2.7 1-3.5 1 3.3 1-2.5 1-1.1 1 1 1 0 1 0 1 0.4 1 2.4 1-3.8 1-0.9 1 1.9 1-2.7 1 0.7 1 0.2 1 4.1 1-2.8 1 1.2 1-0.6 1 0.5 1 0.9 1-4.7 1 0.8 1-0.4 1-0.6 1 0.7 1 0.6 1-0.4 1-1.5 1 0.1 1-0.2 1 1.2 1 2.2 1-1.2 1 1.3 1 0.7 1-0.7 1-0.1 1 0.5 1 1.5 1 2.1 1-2.4 1 1.3 1-3.3 1 2.6 1-3.1 1 1.1 1-0.2 1-0.9 1 0.9 1-2 1-0.9 1 2.1 1 0.4 1-2.1 1 1.1 1 2.6 1-2.8 1 0.7 1-0.6 1 1.2 1-2.6 1 4.2 1 0.7 1 3.1 1-0.1 1-3.2 1 1.4 1-4.9 1 0.3 1 1.5 1 1.7 1 0.7 1-0.8 1-2.9 1-0.6 1 0.4 1-1.9 1 3.6 1 0.8 1 0.7 1-2.4 1 1.4 1-1 1 0.7 1-0.9 1 0.2 1-0.1 1 2.6 1 1.1 1 1.5 1-5.1 1 2.3 1 0.1 1-2.5 1 2.6 1-2 1 2.1 1 1.2 1-0.8 1-0.1 1-2 1 1.8 1-2 1 2.1 1-0.7 1 0 1-1.6 1-2.2 1 2.5 1 0.3 1 0 1-0.3 1-1.7 1-0.1 1-1.5 1-2.3 1 2.2 1-32.5 1 35.2 1-0.2 1 1.2 1-2.6 1 2.5 1-1.8 1-0.5 1 1.6 1 1.3 1-3 1 1.6 1 0.6 1-3.4 1 3.1 1-1 1-1.1 1 0 1 0.3 1-2.8 1 3.7 1 0 1 0.2 1 0 1 0.7 1-0.7 1-1.6 1 1.1 1-0.7 1 2.4 1-1.2 1-1.1 1 1.3 1-1.6 1-0.4 1 0.7 1 1 1 0.2 1 2.2 1-2.3 1 0.4 1 3.5 1-4.3 1 0.6 1 0.5 1-1.2 1 0.9 1 1.1 1 1.7 1-3.2 1 0.2 1-3.2 1-0.6 1 0 1 1.4 1 5.4 1-0.7 1 0.2 1-1.8 1-3.5 1 2.2 1 1.1 1 0.6 1 1.2 1 1.2 1 1.7 1-1.8 1 0.8 1-1.1 1-2.4" stroke="#00009f"/>
<path d="M1033.9 897.0l1-1.6 1-1.3 1 1.1 1-1.1 1-0.1 1 1.1 1-2.9 1 0.7 1-0.7 1 2.1 1 0.5 1-0.4 1-1.3 1 1.1 1-0.1 1.1 0 1 0 1 0.1 1 0 1 0.1 1-0.3 1-1.3 1 1.9 1 0.3 1-2 1 3.6 1-2.4 1 0.6 1-0.5 1-0.7 1 1.7 1-0.6 1-0.6 1 1.4 1-2.3 1 1 1-1.3 1 2.3 1-0.1 1-1.5 1-0.7 1 0.3 1 0 1 2.4 1-1.8 1 0.3 1-0.6 1 0.1 1 1.5 1-0.5 1-2 1 1.1 1 1.3 1 1 1-0.3 1 0.8 1.1-0.1 1 2.8 1-4.6 1 1.7 1-1.5 1 0.9 1-0.4 1 0.3 1 0.4 1 0.3 1-1.6 1 2.9 1-1.1 1-0.1 1-2.5 1-0.4 1 3.4 1-2.1 1-0.7 1 1.5 1-2.2 1-0.1 1-0.5 1 1.4 1-1.3 1-1.7 1 0.6 1 1.2 1-1.5 1 0 1 3 1-1.9 1-0.1 1 1.9 1-0.4 1 0.6 1-0.4 1-0.6 1 0.3 1-0.2 1 0.1 1.1-0.5 1 1.6 1-2.6 1-1.8 1 2.8 1 0.8 1-1.9 1 0.9 1-0.4 1 0.9 1-0.2 1-1.6 1 0.7 1 1.6 1-0.3 1 0.4 1 0.6 1 0.8 1-1.5 1 0.8 1 1.3 1-0.2 1-2.6 1-0.7 1 0 1-0.4 1-0.9 1 1.4 1-0.6 1-0.2 1 2.3 1-3.5 1 1.6 1-2.7 1 0.4 1-1.6 1 2.5 1 0.7 1-0.5 1 2.5 1-0.1 1.1-1.3 1 0 1 1.6 1-1.3 1 0.2 1 0.8 1-0.5 1 0.6 1 0.1 1-0.7 1-0.4 1 0.8 1-0.8 1 0.3 1 0.3 1-0.1 1-1.2 1 0 1 0 1 2.7 1-1.3 1 1.9 1-0.6 1-2.1 1-0.6 1 0.8 1-0.4 1 2.6 1-0.1 1-1.1 1 0.7 1-0.1 1-1.3 1 2.2 1-1.6 1 2.4 1-2.1 1 0.4 1 1.1 1-0.2 1-1.7 1.1 0.4 1 0.9 1 0.2 1-2.1 1 0.2 1-0.7 1 0 1 1.5 1 0.4 1 0.7 1-0.4 1 0.8 1-0.3 1 1.2 1-0.2 1-1.6 1 0 1-2.9 1 0.8 1 1.4 1 0.5 1-1.9 1-0.5 1 3.3 1-2 1 1.3 1-1.5 1 0.9 1-0.3 1-0.3 1 1.5 1-0.3 1 0.1 1 0.3 1-0.1 1 0.4 1 0.1 1-1.7 1-2.7 1 0.3 1 0.1 1.1 2.1 1 1 1 0.7 1-1.8 1 0.1 1 0.6 1 1.1 1-1.2 1-0.8 1 1.6 1-1 1 0.4 1-1.2 1 2.1 1-2 1 1.7 1-0.4 1-0.7 1 2.6 1-1.4 1 0.3 1 0.8 1-1.2 1-1 1 0 1 0.3 1 1 1-0.4 1-1.3 1-3.6 1-1.5 1-0.9 1-0.6 1-4 1 5.9 1-0.7 1 3.9 1 2.8 1-0.2 1 0.5 1-1.5 1.1 0.7 1-0.7 1-2.1 1 0 1-2.8 1-1.1 1-0.9 1-2.5 1-0.3 1-1.7 1-0.3 1 2.7 1 0.7 1 2.8 1-2.2 1-1.5 1-2.6 1 1 1-2.1 1-1.5 1-1 1 4 1 7.2 1 1.1 1 2.9" stroke="#0000bf"/>
<path d="M556.6 894.3l1-0.4 1-1.5 1 0 1 3.9 1 0 1 0 1-1.2 1-1.6 1 1.5 1-2.5 1 1.7 1-0.6 1 1.3 1-2 1 1 1 0.5 1-0.4 1-1.5 1.1 1.9 1-0.7 1-3 1-1.2 1 0.8 1-1.1 1-0.3 1 0.2 1-3.8 1 1 1-1.9 1-0.6 1-5.2 1 2.9 1-3.7 1 5.1 1-2.6 1 2.1 1 2.9 1 4.1 1-0.8 1 3.6 1 0.2 1 0.2 1 2 1-1.7 1 1.9 1-0.9 1-0.6 1 1.3 1-1.2 1 1.5 1 2.2 1-1.4 1 3.2 1-1.1 1-0.5 1-2.6 1 0.3 1-1.6 1 1.8 1-1.9 1-0.1 1-0.2 1 1.8 1-0.1 1 2.6 1-0.9 1 1.8 1-3 1-0.1 1.1-0.4 1-0.4 1-0.1 1 0.3 1 0.8 1 0 1 1.9 1-4.6 1-1.3 1-0.2 1-1.3 1 2.2 1 1.7 1 0.1 1-1.7 1 1.4 1-1.4 1 0.1 1-2.8 1-4 1 5.2 1 1.3 1 0.7 1 0.7 1-2.2 1 3.6 1-1.8 1 2 1-2.4 1 2.2 1-0.5 1-0.3 1-1.9 1 0.9 1-1.1 1 3.4 1-2.1 1 0.6 1-0.1 1-0.6 1 0.9 1 1.7 1 0.6 1-0.3 1-1.3 1-0.4 1-0.8 1-1.3 1 1.5 1 1.8 1-0.4 1 0.6 1.1-1.1 1-2.2 1 0.2 1-0.1 1-0.2 1 1.7 1-0.8 1 0.5 1-0.4 1-1 1-0.3 1 1.9 1-1 1 2.1 1 0.3 1-1.5 1 1.1 1-0.2 1 0.5 1 0.5 1-0.9 1 0.9 1-0.4 1-1.2 1 0.5 1-0.8 1 1 1-1.4 1-0.2 1 1.2 1 0.7 1-0.7 1 1.9 1-2.4 1 0.7 1 1.1 1 1 1-0.5 1-1 1 2.1 1-0.7 1 1.3 1 1.2 1-0.6 1-1.8 1-1 1 0 1-1 1 0.9 1 2.3 1-0.7 1-1.7 1.1-1.7 1-0.8 1 2.7 1 1.1 1-0.9 1 1.5 1-0.2 1-0.6 1-0.3 1 0.2 1-2.4 1 2.4 1 0.9 1-0.9 1-1 1 2 1 0.8 1-2.4 1-0.4 1-1.7 1 0.5 1-0.5 1-1.1 1 1.3 1-0.1 1 0.9 1-0.7 1-0.1 1 1.2 1-1.4 1 1.2 1 1.8 1-0.2 1-1.6 1 0.2 1-0.4 1-1.9 1 0.6 1 0.4 1-1.1 1 0.4 1-0.6 1 0.2 1 2.3 1 0.1 1-2 1 0.4 1-2.5 1 1.1 1 1.8 1-35.7 1.1 35.3 1 0.3 1 0.5 1 0.2 1-1.1 1-1.6 1 1 1 0.9 1-0.4 1-2.1 1 2.2 1-2.1 1-0.9 1-1.7 1-1.4 1 0.5 1 1.9 1 3.3 1 1.8 1-2.9 1 1.6 1-1.3 1 2.1 1-2.5 1 1.4 1-2.5 1-3.4 1 4.9 1 0.9 1-1.1 1 2.7 1-0.3 1-0.7 1-0.7 1 0.7 1-1.1 1 0.7 1 0.5 1 2.7 1-1 1-0.5 1-2.4 1 0" stroke="#0000df"/>
<path d="M913.6 894.5l1-0.4 1-1.4 1-0.8 1 0.7 1 1.8 1 0.2 1-1.2 1 2.1 1-0.7 1 1.5 1-0.8 1-1.3 1 1.6 1-0.4 1-1.3 1 1.1 1 0.3 1-0.5 1-1.2 1 0.9 1-1.3 1 0.5 1 0 1 0.7 1 0.5 1 0 1-0.1 1 0.4 1-0.2 1 1.1 1-0.5 1-3.4 1.1 1.3 1 0.5 1-0.2 1 0.9 1-0.6 1 1.3 1-1.4 1 0 1 1.8 1-1.4 1 0.4 1-2.7 1 3.2 1-2.3 1 1.1 1 0.3 1 2 1-1.8 1-0.1 1 1 1-1.7 1-0.1 1 1.1 1-2.3 1 0.4 1 0.2 1-0.3 1 2.2 1-0.5 1-0.7 1 1.4 1-2.5 1 0.8 1 1.9 1-1.5 1 1.8 1-0.2 1 0 1-1.6 1-0.4 1-0.5 1 0.9 1 0.3 1 0.9 1-0.3 1-0.9 1-0.4 1 0.5 1 0.5 1 0.5 1 0.4 1-1.7 1 1.3 1-1.5 1 1.9 1-1.1 1-1.6 1 2.1 1-0.7 1 0.1 1 0.4 1-0.3 1-3.5 1 3.4 1-1.3 1 1.1 1-1.1 1 0.6 1-0.3 1 0.4 1-0.3 1 0.4 1 0.7 1 0.6 1-0.6 1-1.4 1-0.2 1 1.4 1-1.8 1 1.1 1-2.8 1 2.6 1-1.8 1 1.5 1 1.6 1-2.5 1 3.6 1-3 1-0.4 1 0.8 1 0 1-0.4 1 0.1 1 1.2 1-3.6 1-2.4 1 0 1-0.4 1 0.1 1 3.2 1 0.8 1 0.2 1 1.6 1-0.8 1-0.5 1 0.1 1 1.4 1 1.6 1-1.3 1 0.7 1-0.3 1-1.6 1-0.8 1 2.4 1 1.6 1-1.7 1 1.2 1-0.5 1-0.6 1 1.2 1-1.6 1 0.8 1-0.5 1-0.2 1 1.2 1-0.1 1 0.2 1 0.3 1-0.4 1 0.9 1 0.8 1-2 1 1.7 1-2.1 1 0.6 1-0.4 1 0 1 1.1 1-2.2 1 0.5 1 0.1 1 1.9 1-0.3 1 0.6 1 0.4 1-1.1 1-0.3 1 1.1 1 0.5 1-2.1 1-0.6 1 0.1 1 0.2 1-0.6 1 1.8 1 0.4 1 0.2 1-1.6 1 0.8 1-1.2 1 0.3 1 1.1 1-1 1-0.5 1 0.1 1-0.3 1 0.3 1 1.3 1-1 1-0.1 1-0.4 1-0.5 1 0.4 1-0.9 1 0.4 1-2.2 1 2.2 1-0.5 1 1.3 1-1.7 1-0.2 1 0.3 1-0.1 1 0.7 1 0.2 1 0.6 1 0.9 1-0.7 1 0.1 1-0.8 1 1.4 1-0.3 1-0.8 1 1.7 1 0.5 1 0.3 1-2.1 1 1.3 1-0.2 1-1.2 1-0.4 1-3.2 1-2.2 1-2.8 1 2.7 1 2.7 1 3.6 1-1.5 1-2.3 1-1.4 1 2 1 0.5 1 2.1 1 0.6 1 0.6 1-1.5 1 0.6 1-0.3 1 1.1 1-1.7 1-0.1 1 1.3 1 0.2 1 1.5 1-0.5 1 0.9 1-1.9 1 1.7 1-0.1 1-1.5 1-0.8 1 1 1 0.6 1 1.2 1-0.8 1 0.4 1-1.4 1-0.3 1-0.4 1-0.5 1-0.9 1-0.9 1-0.2 1 2 1-0.2 1 0.3 1 1.5 1-0.6 1-0.1 1-1.5 1 0.2 1 0.8M1201.7 895.0l1.1 0.5 1-1.2 1-0.2 1-0.5 1.1 1.2 1-0.3 1 0.9 1 0.4 1.1-0.3 1-0.1 1-0.2 1 1.9 1.1-0.5 1-1.7 1 1.6 1.1 0.7 1 0.4 1-0.8 1-0.4 1.1-0.1 1-0.1 1-0.7 1-0.8 1.1-0.4 1 0.8 1-0.2 1 1.3 1.1 1 1-0.3 1-0.3 1-0.2 1.1-0.3 1-0.7 1 1.5 1-1.9 1.1-0.1 1 1.7M1243.7 890.4l1-0.2 1 3.3 1-0.1 1 0.4 1-0.6 1 0.6 1 1.5 1-3 1 2.3 1-2.4 1-2.7 1-1.2 1-2.4 1 1 1 1.6 1 1.9 1 3.3 1-1 1 2.3 1 0.8 1 1 1 0.4 1-3.6 1 1.2 1 1.8 1-0.1 1-2.5 1 0.9 1 0 1-1.8 1 0.5 1 1 1-2.3 1 1.4 1 0.4 1 2.4 1-1.8 1 0.9 1-1.2 1.1-0.1 1 0.3 1-3.2 1 0.9 1-0.1 1-2.2 1 0.8 1-2.6 1 1.5 1 3.3 1 0.1 1 2.3 1-1.9 1-0.4 1-1.9 1 0.4 1 1.8 1-1 1 0.1 1 2.1 1-0.8 1-2.3 1 3 1-1.9 1 0 1-0.4 1-0.2 1 0.7 1 2.5 1 0.8 1-0.2 1-3.1 1-2.1 1 2.7 1-1.5 1 2.3 1-0.8 1-2.7 1 0.3 1 0.4 1 3 1 0.2 1 0.5 1-2.4 1 0.8 1-2.2 1 0.4 1-0.1 1 1 1-2.4 1 1.9 1-1.4 1 0.3 1 0.8 1-1.2 1 3.1 1-1.2 1 2.3 1 1.7 1-4 1 0.8 1 0.2 1 1 1-0.3 1-1.4 1 1.5 1.1-3.6 1 2.9 1-0.8 1-0.9 1-0.1 1 0.8 1 1.1 1-1 1 1.7 1 0.9 1-0.4 1-1 1-0.7 1-0.7 1-1.4 1 0.2 1 1.7 1 0.3 1 0.4 1-0.6 1 0.8 1-1.1 1-1.1 1 0.6 1 0.6 1-0.1 1-0.2 1 0.2 1-2.2 1 0 1-0.2 1 1.8 1 0.6 1 0.7 1 0.1 1-0.8 1 1.4 1-2.4 1 1.5 1-1.4 1 1.9 1-2 1 0.8 1-0.4 1 1.3 1 0.1 1-0.1 1 0.2 1-1.5 1 1.2 1-0.8" stroke="#0020ff"/>
<path d="M961.0 888.0l1-0.5 1 1.3 1 2.5 1 2.4 1 0.2 1 0.8 1 1.7 1-1.6 1 0.6 1 0.1 1-0.1 1-0.5 1 0.1 1-0.3 1-0.5 1-2.3 1 1.6 1-0.4 1-0.3 1 0.2 1 0.3 1 1.9 1.1-1.1 1-0.4 1 0.7 1-1.2 1 1.1 1-0.3 1-0.6 1-1.9 1 3 1-0.9 1 4 1-2.4 1 0.8 1-1.3 1 0 1 0.7 1-1.7 1 1 1 0.8 1 0.2 1-1.4 1 0.4 1-2 1 2.7 1-1.1 1-0.2 1 0.8 1-0.4 1 0 1 1.4 1-0.7 1 1.4 1-3.4 1 2.2 1 0 1-0.9 1 1.3 1.1 2.1 1-1.8 1-0.8 1 0.5 1-2.2 1 1.1 1 2.5 1-1.2 1-0.7 1 0.7 1 1.1 1-2.1 1 0.9 1 1.3 1-0.7 1-0.2 1-0.2 1-1.3 1 0 1 0.7 1-1.4 1-0.6 1 1 1 0.7 1 1 1 1.1 1 0.4 1-1.8 1 0 1-0.1 1 1.2 1 0.9 1-2 1-0.4 1-0.4 1-0.9 1 0.9 1.1 2.1 1-0.3 1-0.5 1-2.4 1 1.2 1-1.9 1-1.2 1-2.7 1 2.2 1-0.3 1 0.5 1 2.5 1 0.8 1 0.8 1 0.9 1-1.6 1 0.4 1 0.1 1-2.8 1-0.6 1 0.3 1-2.2 1 1.6 1-0.8 1 2.4 1 0 1-0.2 1 0.8 1-1.3 1 1.1 1 1.4 1-1.3 1 2.4 1 0.1 1-1.3 1 0 1 0.5 1.1-0.6 1 1.3 1-0.8 1 0.8 1-0.2 1-1.6 1 2.2 1-2.8 1 1.1 1 1.1 1-2 1 1.8 1-0.2 1-2.2 1 0.9 1 1.3 1-0.2 1 0.1 1 0 1 0 1 0 1-0.4 1 0.8 1 1.5 1-1.1 1-1.9 1 0.9 1-1.3 1 0.9 1 0.6 1 1.4 1-2.9 1 0.9 1-1.3 1 1 1 1.1 1-0.9 1.1-0.5 1-0.1 1-1 1 1.2 1 1.6 1 0.1 1 0.9 1-2.5 1 0.7 1-0.4 1 0 1 0.8 1 0.2 1 1.8 1-0.4 1-0.7 1 0.1 1-1.5 1 1.1 1 0.2 1-2.5 1 1.3 1-1.4 1 1.1 1 0.4 1-2.3 1 1.4 1 0.5 1 0.3 1 0.6 1-0.8 1-2 1 2.8 1-0.7 1-0.8 1-0.1 1-0.6 1.1 0.3 1-1.2 1-2.7 1-2.9 1 3.2 1 3.9 1-3 1-0.1 1-0.3 1-0.3 1-0.2 1 3 1-0.7 1 1.4 1-1.8 1 1.8 1-1.8 1 1.6 1-2.5 1 1.2 1 1.3 1 0.2 1 0 1-0.2 1-0.1 1 1.2 1-2.3 1 1.8 1 0.5 1-1.1 1-0.4 1 0.8 1 1 1-1.8 1-1.2 1 1.1 1-0.9 1.1 2.1 1 1.3 1-1.2 1 2.2 1-2.1 1 0.7 1-2.1 1 1.5 1 0.1 1-2.6 1-1 1 2.1 1-3.7 1-2.3 1-4.2 1 2.8 1-1.2 1 0.2 1 2.4 1 3.9 1-9 1-5.9" stroke="#0040ff"/>
<path d="M523.6 894.6l1 2.7 1-1.3 1.1 0.9 1-0.1 1-1.7 1 0.5 1-1.5 1 0.2 1 2.5 1 1.8 1-1.3 1-0.6 1-1 1 0.6 1-1.4 1 0.3 1-4.9 1 0.7 1-1.9 1-0.3 1 2.6 1 3.5 1-0.7 1-2.8 1 2.2 1-10.5 1 2.6 1 8 1 1.4 1-1.5 1 1.6 1 1.2 1-1.2 1 2.7 1-5.5 1-7.1 1 1.7 1 8.3 1 1.5 1-2.5 1-0.6 1 1.3 1 2.2 1 0.8 1-0.6 1-3 1 0.3 1-0.2 1-0.4 1-1.1 1 3.3 1-2.2 1 1.9 1-0.6 1-1.4 1 1.9 1 1.7 1-0.4 1-0.3 1 0 1-0.7 1-0.6 1 0.1 1 0.1 1 1.9 1 0.2 1 1.2 1-1.8 1-1.2 1 1.1 1-1.6 1-2 1 1.4 1 0.7 1-0.7 1 2.4 1-2.1 1 1.4 1 0.3 1 0.5 1-1.7 1 0.1 1-0.8 1 1.2 1 1 1-1.7 1 0.4 1-0.9 1-0.6 1 1.5 1-0.8 1 1.3 1-0.5 1-0.7 1-0.1 1-1.7 1 0.1 1-0.5 1 0.8 1 2.6 1-1.8 1 1.7 1-0.7 1-0.8 1 0 1-1.7 1 2.1 1-1.2 1-0.5 1-0.4 1-0.5 1 1.6 1-1.3 1-2.6 1-2.2 1-1.7 1 1 1 3.8 1 1 1 0.8 1 2.3 1-0.3 1-1.1 1-0.1 1 0 1 0.4 1-0.3 1 0.4 1 1.2 1-0.2 1-0.9 1 0.2 1 2.2 1-0.7 1-0.3 1 0.8 1-1.5 1 0.6 1-0.2 1 0.4 1-1 1 1.1 1-0.2 1 0.1 1-0.2 1-1.1 1 0.6 1 1.1 1-0.3 1-0.6 1 1.6 1 0.9 1-1.6 1 0.2 1 0.6 1-0.6 1 1.9 1-1.6 1 0.4 1-0.3 1-1.9 1 0.6 1-0.8 1 2.2 1 0.5 1-3.3 1 1.8 1-1 1-1.4 1-0.7 1 0.1 1 1.8 1-0.2 1 0.1 1 0.1 1 0.7 1 1.6 1 0.5 1-2.6 1 1.7 1-1.5 1-0.4 1 2.2 1-0.5 1 0 1-1.8 1 0.4 1-2.5 1-0.4 1-1.6 1 0.7 1 0.6 1 2 1 0.3 1 1.2 1-0.8 1-0.3 1-0.1 1 1.2 1 2 1-1.9 1 0.2 1-0.5 1 0.5 1 0.8 1-2.1 1 0.8 1-0.1 1-0.8 1 2 1-1.5 1.1 0 1-0.3 1 1.4 1-2.4 1 0.9 1-0.1 1 1.3 1 1 1 0.6 1-0.7 1-0.7 1 0 1-2.2 1 1.8 1-1.7 1 0.3 1 1.1 1 0.1 1-1.2 1 0.7 1-0.5 1 0.5 1-1.3 1 0.5 1 0.4 1 0.3 1-1 1-0.2 1 0.5 1-0.9 1 1.2 1 1.3 1-1.5 1 2.3 1-2 1 0.4 1 1.1 1-0.9 1 1 1 0.2 1 0.6 1-1.6 1 1.2 1 0.7 1-1.2 1-0.6 1 0.8 1-1.9 1 1.9 1-0.7" stroke="#0060ff"/>
<path d="M289.9 892.9l1-0.5 1 2.4 1-6.3 1 0.2 1-2.7 1 3.7 1 2.8 1 0.8 1-3.3 1 0.8 1 1.1 1-4.3 1-1 1-2.5 1 1 1 3.1 1 3.3 1-0.2 1-1 1 2.4 1-1.9 1 0.2 1 0.6 1-1.5 1-1.2 1-4.1 1 4.4 1 0.7 1 3.5 1-4.3 1 3.2 1 3.1 1-2.9 1 0.7 1 2.5 1-2.3 1-0.4 1 0.5 1 1.9 1-2.6 1 2.1 1-2.9 1 0.3 1-1.3 1-0.3 1 2 1-1.1 1-3.3 1-1.9 1 1.7 1 1.9 1 0.3 1 3.9 1 1 1-2 1 0.6 1-0.8 1 3 1-0.4 1 2.1 1-2.1 1-1.7 1-1.9 1-2.9 1-2.9 1 5.7 1 0.8 1 1.5 1-1.3 1-0.7 1-4.1 1-1.3 1 0.7 1-0.3 1 2.2 1 1.8 1 0.1 1-2 1 3.5 1 2.4 1-3.8 1-0.2 1 0.1 1-0.3 1 3.8 1-2.5 1-0.3 1 1.1 1 0.2 1-0.8 1-2.2 1 6.1 1-1.5 1 2.7 1-2.3 1 1.5 1-2.2 1 2 1-2.2 1-1.3 1-3.3 1 0.6 1 1 1 0.4 1 0 1 0.7 1-0.8 1 3.8 1-3.3 1 3 1 1.2 1-2 1 0.9 1-2.1 1 1.8 1-1.5 1 0.3 1 1.1 1-3.6 1 3.8 1-3.7 1 3 1-3.7 1-2.4 1 3.9 1-2.5 1 0.7 1-0.4 1 1.2 1 1.9 1-1 1-4.1 1-0.1 1 2 1-1.5 1 0.7 1 0.5 1 0.6 1 2 1-2.1 1-0.3 1 0.4 1-0.2 1 1.9 1-2 1 4.2 1-3.6 1-4.2 1 4.3 1 1.2 1 2.3 1 2.2 1 0.1 1-1.3 1 1 1-1.2 1 1.5 1-1.1 1-1.1 1.1-3.6 1 1.7 1-0.5 1-0.7 1 0.4 1 0.5 1 0.8 1-0.1 1-1.2 1 1.6 1-2.2 1 0.3 1 1.5 1-1.8 1 0.9 1-0.9 1 0.1 1 1.9 1-0.8 1 3.8 1-3.9 1 1.8 1 1.9 1-2.7 1 1.3 1-2.1 1 0.3 1-28.9 1 30.1 1 0.7 1-2.2 1 1.1 1-2 1 2.2 1-2.8 1 0 1-1.3 1 3.9 1-1.1 1 5.8 1-2.7 1-1.3 1 1 1-3.1 1 1 1-2.5 1-3.6 1 0 1 3.3 1-1.2 1 1.3 1 0.2 1-2.8 1 3.7 1-0.7 1 3.3 1 1 1-2.8 1 2.2 1-3.3 1 1.8 1-1.8 1 1.2 1-1.5 1 0.4 1-2.2 1 2.8 1 1.8 1 0.8 1-2 1-1.1 1 2.1 1-5.3 1 5.7 1-2.7 1-0.5 1 1.3 1-0.2 1 0.4 1 0.3 1 3.2 1-1 1-1.3 1-0.6 1 0.7 1-4.7 1 1 1-0.1 1 2 1-1.3 1 3.2 1-1.8 1 2.1 1 2 1-1.4 1-0.6 1 1.9 1-1.8 1-0.8 1 1.7 1 0.4 1-1.6 1 0.1 1 1.8 1-2.1 1-0.9 1 2.9 1-1.7 1 0.7 1-0.8 1 2.9 1 1.2 1-0.8 1 1 1-3.7 1 1.4 1-2.1 1 0.3 1-2.7 1 0.5 1 1.7 1-1.2 1 0.5 1 0.4 1 0.7 1-0.9 1-2.2" stroke="#0080ff"/>
<path d="M761.4 894.8l1 0.7 1 1.2 1 0.5 1-0.4 1-0.3 1 0.1 1-0.8 1 1 1-0.7 1 0.7 1-1.8 1 0.3 1 0.3 1-1.4 1 1.9 1 1 1-3.5 1 3.1 1-0.5 1 0.7 1-6.4 1-13.2 1 2.2 1 14 1 2.5 1 0.6 1-1.5 1 0.6 1-1.4 1-6.7 1-0.8 1 6.6 1 1.5 1-0.5 1-0.3 1 0.2 1 1.4 1-2.3 1-3.3 1-2.4 1-0.2 1 3.5 1 2.5 1 1.1 1-0.1 1-0.4 1 2.3 1-1 1-0.1 1 0.7 1-3.7 1 1.6 1 0.4 1-0.7 1 0.1 1 1.9 1-2.2 1 1.4 1-0.2 1 0.5 1 0.1 1-3.7 1 2.3 1-0.1 1-1.8 1-1.1 1-1.1 1 1.2 1 1 1 2.2 1 0.4 1 0.8 1-1.6 1 0.4 1 0.6 1-0.4 1-2.5 1-4.2 1 2.7 1 1.9 1 2.9 1-0.5 1.1-0.9 1 2.3 1-0.3 1-0.4 1 1.2 1-0.7 1-0.8 1-2.8 1 2.5 1 0.3 1 0.5 1-1.3 1 1.4 1-0.5 1-0.9 1 0.1 1-1.1 1 0.6 1 0.5 1 2 1-0.9 1-0.8 1-0.2 1 0.3 1 0.2 1-1.6 1 1.4 1 1 1-0.1 1 0.6 1-1 1 0.5 1 0.7 1 0.2 1-2.5 1 1.3 1-0.4 1-1.4 1 1.1 1-2.3 1 0.4 1 0.7 1-1.7 1 0.1 1 0.3 1 1.6 1 0.9 1 1.4 1-0.9 1-1 1-0.9 1 1 1-1.2 1 0.7 1 0.2 1 1 1-0.7 1 1.4 1-2.4 1 2.7 1-0.5 1 0.6 1-1.4 1 0.2 1-1.8 1 0.8 1-0.9 1-0.5 1 1.8 1-0.7 1 1.1 1 1.5 1-1.2 1 1.4 1-1.2 1-0.1 1-0.4 1-1.3 1 0.8 1 2.3 1 1 1-1.1 1-0.3 1 0 1 0.1 1-0.5 1-1.7 1 3.3 1-0.9 1-1 1-0.2 1-0.1 1 0.5 1-0.1 1-0.4 1 0.6 1 0 1 1.2 1-1.8 1-0.4 1 0.6 1-0.7 1 0.5 1-0.4 1 1.6 1-2.4 1 0.8 1 2.5 1-1.2 1-0.5 1 0.1 1-0.4 1 0.8 1-1.3 1 0.2 1-1.8 1 1.5 1 0.3 1-0.6 1 0.7 1-0.5 1-1.1 1-37.2 1 37.2 1 2.1 1-0.2 1-1.7 1 0.8 1-0.5 1-0.5 1 0.8 1 1.6 1-1.6 1-0.6 1 0.7 1 0.8 1-0.9 1 0.2 1 0.3 1-0.2 1-0.2 1 1.2 1 0.4 1-0.2 1 1 1-1.5 1-0.1 1-0.9 1 1.5 1-0.1 1 0.7 1 0.5 1-2 1 1.8 1-0.2 1 1.9" stroke="#009fff"/>
<path d="M190.0 895.2l1 2.6 1-1.1 1.1-4.7 1 0.4 1-2.4 1-1.9 1.1-4.6 1-1.8 1 1.6 1-3.1 1.1 0.1 1 5 1 5.9 1 1.2 1.1 4.2 1 0.4 1-4.2 1 3.9 1.1-2.6 1-1.7 1 3 1-1.3 1.1-3.5 1 2.9 1 0.2 1-0.2 1.1-1.9 1 2.2 1 0.6 1 1.7 1.1-1.6 1 2.1 1-1.8 1-2.9 1.1 0.7 1 0.9 1 1.9 1-2.8 1.1 0.8" stroke="#00bfff"/>
<path d="M1472.3 893.4l1-0.5 1 0.9 1 2.6 1 0.4 1-0.6 1-0.8 1-1.5 1-0.5 1 0.7 1-0.5 1-0.2 1 2.3 1-2.6 1 2.1 1-0.3 1-1.6 1 0.4 1-0.1 1-1.8 1 1.1 1-2.8 1 0.1 1-2.1 1 0.6 1 0.6 1.1 0.7 1 3 1 0.4 1 1.6 1 0.2 1-0.6 1 0.8 1 1 1-0.9 1-1.5 1-2.2 1 2.7 1-2 1 0.3 1 0.2 1 3.4 1-1.6 1 1 1-1 1 1.9 1-2.1 1-0.5 1-1.2 1 0.4 1 0.8 1.1-2 1 1.7 1 1.6 1-0.7 1 0.8 1-1.2 1-0.5 1-2.5 1 1.7 1 0.2 1 0.2 1 1.1 1-2.5 1 2.4 1-2.3 1 0.1 1-0.5 1-1.3 1 1.6 1-1.4 1 2.9 1-0.6 1-0.7 1 0.2 1 1.5 1.1-1.3 1 0.8 1-0.6 1 0.5 1 1.5 1-1.4 1 0 1-1 1-1.7 1 2.1 1-5.7 1 0 1 4.8 1 2.3 1 1.6 1 0.2 1-0.5 1-2.8 1 0.7 1 0.5 1 0.5 1-0.9 1 0.4 1 0.5 1-0.5 1.1-0.2 1 1.7 1-2 1 1.7 1-0.1 1-1 1 0.2 1-1.6 1 1.7 1-2.6 1 1 1 0.5 1 0.3 1-1.5 1 0.2 1 1 1 0.3 1 1.4 1 0.6 1 0.7 1-1.5 1-2.8 1 1.4 1-0.8 1 1.6 1.1 0.1 1 0.3 1 1 1 0.5 1-2.1 1 1.2 1-0.4 1 0.4 1-0.6 1 1.6 1-2.2 1 1.1 1-1.2 1 0.5 1 0.9 1 1.5 1-1.5 1 1.1 1 0.8 1-1.9 1-1.2 1 1.6 1-2.9 1 0.8 1 0.5 1.1 0 1 2.1 1-1.4 1-1 1 1.4 1-0.1 1-1.8 1 1.4 1-1.7 1 0.3 1 0 1-0.8 1 1.1 1 0.9 1-0.8 1 0.3 1 2.3 1-1.1 1 0.5 1-0.9 1 0.4 1 1.7 1-3.8 1 2 1-6.5 1.1-0.3 1-4.3 1 4.6 1 2.1 1 2 1 2.3 1 1.2 1-1.4 1-0.2 1 0.1 1-1 1 0.5 1 0.8 1-0.8 1 1.2 1-1.2 1-1 1 0.9 1 0.8 1 0 1 0.6 1 1 1 0.1 1-0.4 1-0.9 1.1-0.3 1 1.1 1-0.7 1-0.5 1-0.3 1 0.5 1 0.6 1 1.9 1-2.5 1-2 1-3.1 1 0.5 1 1.3 1-0.6 1 1.9 1 1.7 1 2.1 1-0.9 1-1 1 0.1 1 0.4 1 0.2 1-3.4 1 0.4 1 1 1.1-0.8 1 1.1 1-2.6 1 0.8 1-1.3 1 0.7 1-2.1 1-0.9 1-0.6 1 0.3 1 1.9 1 2.3 1-0.2" stroke="#00bfff"/>
<path d="M396.8 896.1l1-1.9 1 1.7 1-3.5 1 0.2 1 0 1 1.9 1-0.7 1-2.6 1-3.1 1-2.3 1-6.7 1 3.3 1-0.1 1 5.6 1 2 1 1.8 1 0.4 1 0.5 1 3 1-2.5 1 0.4 1-1.2 1-2.5 1 3.1 1 0.1 1 2.8 1-1.5 1-2.3 1 1.6 1 0.1 1 0.7 1 3 1 0.3 1-0.9 1-0.4 1-0.7 1-0.1 1 0.8 1 0.2 1-0.3 1-1 1-6.8 1 1.1 1 2.7 1 1 1-0.1 1-0.4 1 1.5 1-3.2 1 0.5 1-2.5 1 2.1 1 4.4 1 1.1 1-2 1 1.5 1 0.7 1-2.7 1 2.3 1-1.5 1-0.1 1-1.4 1 0.2 1-2.9 1 2.6 1-0.1 1 0.9 1 0.8 1-0.7 1-0.8 1 0.2 1 2.5 1-1 1-1.3 1 1.7 1 0.5 1 2.6 1-1.1 1 1.5 1-3 1-2.2 1 1.6 1-0.6 1-2.5 1 1.4 1-0.5 1 3.5 1-2 1 0.8 1-1 1-0.7 1 0.6 1-0.3 1 0.1 1 2.5 1 0.9 1-0.6 1-0.8 1 2.2 1 0 1-1.2 1 1 1-0.9 1-1.2 1 1.5 1-2.6 1-2.7 1 2.2 1-0.2 1 0.1 1 1.4 1-1.7 1-0.3 1-1.3 1 0.6 1 1 1 1.1 1-0.3 1-1.6 1-3.4 1 1.3 1-3.4 1 1.6 1 0.1 1-4.9 1 5.9 1 0.1 1 1.2 1-0.3 1 1.2 1 0.1 1 2.6 1-1.2 1 0.4 1 0.6 1-1 1 2.1 1-0.6 1-3.2 1 3 1 0.2 1-2.1 1 0.8 1-2.7 1 0.9 1 0.8 1 1 1-0.6 1-1.3 1-0.6 1-1.3 1 0.7 1 0 1-0.2 1 0.5 1 3 1-2.4 1-2.6 1 1.3 1-0.5 1 3.3 1-4.4 1 3.5 1 0.6 1-1.8 1 2.8 1-2.8 1 2.6 1 2.8 1-3.1 1-1.3 1 0.3 1-0.8 1 1.2 1 2.2 1-1.6 1 2.1 1-1.3 1-3.1 1 0.5 1 2 1-3.9 1 1.7 1 0.6 1-1.7 1 2.8 1-2.6 1 2.7 1 3.3 1-3.1 1 2.4 1-0.8 1 2.2 1 0.1 1-1.4 1 0.4 1-4 1 1.7 1 1.5 1-0.3 1-1 1 2.1 1-4 1 0.3 1 2.6 1-0.9 1 0.7 1-0.9 1 0.4 1-2.1 1 1.1 1-1.5 1 1.6 1 0.7 1-2.2 1 0.3 1-3 1-1 1 1.7 1-0.5 1-2.4 1 2.7 1 1.3 1 1.1 1 1.4 1 2.1 1-3.3 1 2.2 1 0.3 1-2.5 1-0.9 1 0.4 1-0.7 1-0.4 1 2.3 1-1.3 1 0.8 1.1-5.1 1 4.5 1-0.4 1 1.5 1-0.3 1-1.2 1 0.4 1 0.9 1-2.1 1 0 1 2.1 1 0.4 1-1.2 1 1 1 0 1-1.7 1-1.5 1-8.6 1 5.3 1 4.5 1 2.1 1 0.7 1-0.5 1 0.2 1-2.7 1 1.3 1 1.7 1 0.5 1-1 1-1 1-0.1 1-1.8 1 1.3 1-1 1-1.2 1 3.5 1-0.5 1 0 1 1.1 1 0.2 1 1.3 1-1.4 1-0.8 1 0.5 1 0.2 1-1.3 1 2 1 0.8 1-0.7 1 0.1 1-1.2 1 0.8 1 1.4 1-3.1 1-0.1 1 1.6 1 0.4 1-2.6 1 0.1 1 0.1 1-2.1 1 0.7" stroke="#00dfff"/>
<path d="M1312.6 897.7l1 0 1-1.4 1 0.6 1 0.3 1-4.4 1-7.4 1 1.3 1 7.6 1 2 1-0.7 1 0.9 1-1.7 1 1.2 1-2.7 1 1.9 1-0.4 1-0.2 1-0.2 1 0.2 1 0.3 1 1 1 0.5 1-1.4 1-0.1 1 1.1 1-1.2 1 0.7 1 0.2 1 0.2 1 0.3 1-0.8 1-0.3 1-1.1 1 0 1 1.7 1-1 1-0.9 1 2.5 1-2.4 1-0.4 1 0.3 1-1 1 2.5 1-0.7 1-0.2 1-0.6 1 0.4 1-1.7 1 0.3 1-2.9 1 0.4 1-0.7 1-1.4 1 1.9 1 1.7 1 2.9 1 3 1.1-1.5 1 0.4 1-1.5 1-0.1 1-1.8 1 1.5 1-0.9 1 0 1 0.7 1-0.3 1-0.2 1-1.3 1-1.7 1 2.8 1 1.9 1-0.6 1 1.4 1-1.1 1-2 1 1.3 1 0.1 1 0.5 1-0.1 1-0.1 1-1 1 0.3 1-0.1 1 3.8 1-0.4 1-1.1 1 1.4 1-2.5 1 0.2 1 0 1-0.2 1-1.3 1 1.1 1-1.1 1 1.1 1 0.6 1 0.3 1 0.2 1-0.2 1-0.9 1-0.4 1 1.3 1-0.6 1-0.2 1 1.1 1-1.2 1 1.6 1-0.7 1-0.2 1-0.6 1 0.3 1-0.7 1-1.3 1 0.2 1 0.4 1-0.2 1 2.4 1-0.6 1 0.1 1-0.9 1 0.1 1-0.1 1 1.3 1-1.2 1-0.7 1-1.5 1 1.7 1-1.3 1 1.7 1 0.6 1 1 1-1.6 1 0.6 1 0.4 1-2.7 1 0.2 1 1.9 1-1.8 1 1.1 1-0.9 1 0.2 1 0.6 1 0.5 1-0.2 1 0.6 1-1.8 1-0.1 1-0.7 1 1.1 1-0.2 1 0.6 1-1.2 1 2.1 1-0.2 1 1.3 1-0.9 1 1 1-0.7 1-0.4 1 0.2 1 0.8 1-0.2 1-2.6 1 2.3 1-2.4 1 1.1 1 0 1-0.2 1-1.1 1 0.2 1 0 1 1.4 1-2 1-0.1 1-1.4 1-2 1 4.3 1 1.2 1-1.3 1 0.5 1 0.6 1-0.1 1 2.5 1-1.5 1 0 1 0.5 1-0.8 1-1 1-0.8 1 2.6 1-0.6 1-0.5 1 0.1 1 0.5 1-0.7 1-2.3 1 0.5 1 0.4 1 1.2 1 0.3 1-0.4 1 0.6 1-1.1 1-0.3 1 0.6 1 0.3 1-0.2 1 2.2 1-0.8 1 0.3 1-1 1 1.4 1-0.7 1 0.2 1 1.7 1-2.2 1-0.6 1-0.4 1-1.1 1 1.2 1-1 1 0.6 1 0.7 1 0.3 1-0.9 1 2.8 1-1.4 1 0.3 1-0.1 1-0.1 1-1.8 1 0 1 0.9 1-0.5 1 1.3 1-0.4 1 0.5 1.1-0.5 1-0.1 1-0.5 1 0.7 1 0.9 1 0.5 1-0.5 1-1.8 1 0.1 1 1.7 1-1.9" stroke="#00ffff"/>
<path d="M993.0 894.8l1-0.3 1-0.7 1-1.2 1 0.2 1 0 1 0 1 0.3 1-0.9 1 2.1 1-1.3 1 0.2 1 0.7 1-2.2 1-2.8 1-2.5 1 0.7 1 3.1 1 2 1-0.9 1 1.8 1-0.7 1 1.4 1 0.1 1-1.4 1 3.4 1-3 1 0 1 0 1 2.8 1-2 1 0.6 1 1.8 1-1.1 1 2.8 1-1.5 1-1.5 1 1.4 1-3.1 1.1-1.6 1-0.6 1-0.1 1 2.8 1 1 1 0.3 1-0.3 1 0.7 1-1.2 1 1.3 1-0.1 1-0.1 1 0.2 1 1.1 1-1.5 1 0.7 1 0 1-1.5 1 0.1 1 2 1-1 1 0 1 1.8 1 0.8 1-0.9 1 2.2 1-3 1-0.7 1 0.1 1 0.1 1-0.4 1-1 1 0.7 1-0.6 1 2.1 1-1.5 1 1.4 1-0.2 1-0.3 1-1.4 1 0.2 1.1-1.8 1 0.7 1 1.7 1 1.2 1-1.4 1 1.2 1-2.6 1 2.1 1-1.4 1 1.3 1 0.1 1 0.6 1 0 1-0.1 1-1.8 1 1.6 1 1.2 1-0.1 1-2.7 1 0.9 1 0.3 1-1.3 1 0.4 1 2.4 1-2.4 1 0.8 1 0 1-0.5 1 1.2 1 1.4 1-1.6 1 0.2 1-0.9 1-1.3 1 1 1-0.9 1-0.2 1 0.4 1 0.2 1 1.3 1.1 0.7 1-1.3 1-0.3 1 2.1 1-2.4 1-1.7 1-1 1 2.9 1-1.3 1 1.1 1 1.5 1-1.4 1 0.9 1-2 1-0.7 1 2.5 1-2.8 1-1.2 1 1.2 1 2.8 1-0.3 1 0.7 1-1.4 1-1.2 1 0.7 1-1.4 1 0.2 1-0.4 1-1.1 1 1.5 1 0.6 1-2.3 1-0.5 1 2.3 1-0.9 1 1 1 0 1 0.7 1 1.5 1-0.3 1 0.5 1.1-2 1 2 1 0.5 1-2.5 1 1.3 1-0.4 1-0.5 1-0.9 1 0.7 1-0.6 1-38.6 1 38.6 1 1 1-1 1 1.1 1 0 1 0.4 1 0.6 1 1.4 1-0.1 1-0.4 1-0.2 1 1.2 1-0.3 1-0.3 1 0.4 1-0.6 1-0.7 1-0.1 1 0.3 1 1.8 1-0.2 1-1.4 1 1.9 1-1 1 0 1 0 1 0.3 1-1.7 1 0.8 1.1-3.4 1 0 1-1.5 1-2.7 1-0.3 1 1 1-1.3 1 2.7 1 1.3 1 2.6 1-0.8 1 2.4 1-1.2 1 1.5 1-2.4 1 0.7 1-0.5 1 0.9 1-1 1-0.4 1-1.8 1 1 1 1 1 1.1 1 0 1 0.1 1-0.5 1 0.4 1 0.3 1 0.1 1-1 1 0.8 1 1.3 1-0.7 1 0.3 1-2 1 1.6 1-1.4 1 1.2 1-2.2 1 3 1.1-0.9 1-0.8 1-0.5 1-0.3 1 1.6 1 1.1 1-2.4 1-0.7 1 1.9 1-2.4 1 1.3 1 1.8 1 1.2 1-1.1 1 0.6 1-1.2 1-1.7 1 1.6 1-1.6 1-0.6 1 1.9 1-0.6 1-2.3 1-5.2 1 1.4 1 5.1 1 1.5 1 0.6 1-1 1 0.1 1-0.6 1-1.3 1 1.6 1-0.2 1-0.6 1 1.2 1-3.6 1-0.1 1-0.6 1 4 1.1-0.3 1 1.5 1-0.7" stroke="#20ffdf"/>
<path d="M190.0 891.9l1 0.9 1 0 1 3.3 1-1.1 1-0.7 1 0.5 1 2.3 1-4 1 1.6 1 0.4 1 1 1-4.1 1 3.7 1.1 1.5 1-1.5 1-0.4 1-0.3 1 0.6 1-2.7 1 0.4 1 4.5 1-3.5 1-0.8 1 0.8 1-1.5 1 1.4 1 2.3 1-0.1 1 1.1 1-3.4 1-0.9 1-3 1 5.5 1 0.6 1-2.1 1 0.2 1 2 1 1.6 1-1.7 1.1-0.4 1-1 1-2.9 1 1.9 1 2.5 1-0.6 1-1.5 1 1.6 1 0.5 1 0.4 1-1 1-0.8 1 1.3 1-2.4 1-0.6 1-2.6 1 3.4 1-1.4 1 1.7 1-0.1 1-1.7 1 1 1 2.7 1-0.2 1-2.1 1 2.4 1 2 1.1-3.6 1 2.4 1-2.6 1 0.5 1-0.5 1 0.2 1-1.8 1 3.9 1-1 1-0.3 1 0.4 1-2.3 1-1.2 1-0.2 1 1.5 1 1.9 1-2.6 1 1 1-1.4 1 0.8 1 0.5 1-5.4 1 2.6 1 0.2 1 0.3 1 2.5 1 0.7 1.1 0.1 1 0.6 1-3 1 1.6 1-3.6 1 0.5 1 1.1 1-2.1 1 1.5 1-0.5 1 0.8 1-2.1 1 5 1-6.8 1 3.3 1-1.7 1 0 1-2.5 1 0.5 1 1.5 1 1.2 1-2.4 1 2.2 1 2.3 1-1.4 1-1.3 1.1 0.2 1 0.1 1 3.5 1-1.8 1-0.6 1-0.8 1-2.7 1 0.1 1 2.7 1-1.1 1 2.1 1-1.7 1-1.2 1 2.5 1-2.3 1 1.4 1-0.8 1 0.3 1 2.6 1 0.3 1 0.5 1-0.4 1-1.5 1 3.4 1-3.7 1 0.8 1-1.8 1.1 0.1 1 0.4 1 3.3 1-1.2 1 2.3 1-1 1 2.8 1-0.1 1-1 1-0.2 1 0.1 1-0.4 1-2.2 1 3.3 1 0 1 0.9 1 2.1 1-0.3 1-2.8 1 3.2 1-3 1-1.2 1-0.3 1 1.2 1-2.4 1-1.3 1-0.3 1.1-3.7 1 1.4 1-3.5 1 6.7 1 1 1 0.9 1 3.5 1-2.6 1 2.5 1-1.8 1-3.8 1-1.4 1-2.3 1 1.4 1-1.3 1-1.7 1-2.9 1 0.2 1 0.7 1 0.5 1 1.4 1-1.8 1 0 1 1.1 1 3.8 1-0.5 1.1 0.8 1-3.6 1 0.5 1-1.2 1-4.4 1 5.6 1 5.4 1-3 1 5.9" stroke="#40ffbf"/>
<path d="M1628.7 892.3l1-1.8 1 2.5 1-0.3 1-0.4 1 1.8 1-0.9 1 1.3 1-1.8 1-1.7 1 1.4 1.1 0.4 1-0.7 1 1.2 1-0.4 1-0.1 1-1.4 1 0.1 1 1 1 0.8 1 0.4 1 0.3 1 0.9 1 0.7 1-1.6 1-1.3 1-2.1 1.1 2.3 1-0.1 1-0.8 1 0.3 1 0.9 1-2.2 1-0.7 1 2.8 1-0.3 1 0.3 1-1.8 1-1.3 1-0.9 1 3.2 1-1.6 1 3 1.1-1.7 1 2.3 1-1.1 1-1.2 1 0.4 1 1.4 1-0.5 1-2.6 1 2.8 1-4.3 1 4.2 1-3.1 1 3.3 1-5.9 1 1.1 1 1.6 1.1-1.4 1 3.8 1-1.7 1-1.6 1 2.4 1-3.2 1 0.4 1 0.9 1 0.8 1 1.9 1 1.8 1-2.3 1-0.3 1 0.3 1 3 1-4.5 1.1 2.3 1-1.5 1-0.7 1 1.4 1-0.5 1 0.3 1 1.4 1 0.6" stroke="#40ffbf"/>
<path d="M1069.9 894.1l1 1.5 1-1.6 1 1 1 1.9 1-1.7 1 0.3 1-1.2 1-0.1 1 0.8 1-2.3 1 1 1-0.5 1 3.1 1-2.3 1-1 1 2.2 1 0 1 1.6 1-2.1 1-2.5 1 0.9 1 2.6 1-2 1 1.9 1-1.5 1 1 1 1.8 1 1.3 1 0.3 1-1.7 1-0.4 1 0.5 1-1.1 1 0.8 1-0.9 1-2.4 1 1.6 1-1.2 1 0.7 1 2.4 1-2.1 1 1.9 1 0.1 1-1.4 1 0.6 1 0.3 1 0.9 1-1.2 1 1.9 1-0.9 1 0.6 1-0.8 1 0.6 1-1.1 1 0.2 1-1.4 1 0.7 1-0.4 1 0.2 1 0.6 1-1.3 1 1.2 1-0.1 1 1 1-1.9 1 0.7 1 0.7 1-0.9 1 0.6 1-1.5 1-0.1 1 0 1 1.5 1-1 1 2.1 1-1.2 1-0.7 1 1.8 1-0.9 1 0.5 1-0.2 1 0.4 1-0.2 1 1 1-2.2 1-0.4 1-0.7 1 0.5 1-1 1 1.8 1-0.9 1 1.2 1 1.3 1-1.7 1-24.9 1 25.6 1-0.5 1 0.8 1-2.3 1 0.6 1-0.7 1 2.3 1-1.2 1-0.4 1 0 1 1.5 1-2.2 1 1 1 0.5 1-2.7 1 1.9 1-1 1 0.5 1 0.9 1-0.4 1 1.5 1-0.5 1-0.2 1 0.4 1-1.2 1-1 1 1 1-0.1 1-0.3 1 0.1 1-0.3 1 1.3 1 0.1 1 0.1 1-1.2 1-1.4 1 0.4 1 1.1 1-0.3 1-0.6 1 1.1 1 1.1 1 0.7 1-3.5 1 1.7 1 0.1 1 1.4 1-3.1 1 1.3 1 0.4 1-0.5 1 1.4 1 0 1-1 1-0.2 1-0.5 1-0.4 1 0.6 1 2.4 1-0.6 1 0.6 1 1.1 1-1 1-1.2 1-1.1 1 1.2 1-0.7 1 0.5 1-0.7 1-0.3 1-0.7 1 1.9 1-0.7 1 1.2 1-0.2 1 0.4 1-0.4 1 0.5 1-1 1 3.1 1-0.9 1 0.8 1-2.4 1-0.6 1 1.1 1 0.8 1-0.1 1 0 1 0.3 1-1.1 1-1.4 1-0.5 1 0.1 1 2 1-1.4 1-1.5 1 0.9 1 1.5 1 0.8 1 0.1 1 0.3 1-0.3 1-0.2 1 0.9 1-1.6 1 1 1-1 1 0.3 1-0.1 1 0.5 1-0.4 1-1.6 1-0.9 1-2.3 1 0.6 1-0.1 1 0.5 1 1.1 1-0.1 1 0.8 1 0.9 1 0.3 1 0.9 1-0.3 1-0.2 1 0.4 1-1.1 1-1.6 1 2.2 1 0.6 1-0.8 1-1.5 1 1.1 1-1 1 1.8 1-0.9 1 0.9 1-0.5 1-1.6 1 1.6 1-0.7 1-1 1 3.2 1-1.8 1-0.3 1 0.4 1-0.6 1 0.4 1 0.4 1-0.1 1 0.3 1-2.2 1 1.6 1 0.6 1-0.8 1 1.5 1-1.6 1 0.8 1-2.8 1 1.2 1 1 1-1.4 1-0.3 1 1.3 1 0 1-1 1 1.8 1-0.2 1-0.6 1 0.3 1 2.9 1-2.8 1 0.8 1-0.4 1-0.5 1-1.2 1 0 1-0.4 1 0.7 1 0.9 1 1.5 1-0.7 1 0 1-1.9 1 0.8 1-0.7 1 0.4 1-1.2 1 2.1 1-1.9 1-0.9 1-0.1 1-1.8 1 0.1 1 0.3 1 2.9 1-2.6 1 0.9 1 0.5 1 1 1 1.7 1-1.8 1 1.1 1-1.2 1-0.2 1 1.9 1-0.8 1 0.6 1-0.7 1-0.6 1 0.4 1-0.4 1-0.1 1-0.1 1 2.6 1-0.1 1-2.5 1 1.5 1-1.5 1-0.2 1 0.4 1 2.1 1 1 1-1.9 1 1.4 1-1 1 0.2 1-1 1 1.1 1-0.3 1 1.5 1-0.3 1-1.7 1-0.4 1 2 1-1.5 1-0.3" stroke="#60ff9f"/>
<path d="M190.0 889.9l1 1.5 1-1.4 1 0.5 1 0.2 1 0.8 1 0.2 1 0.3 1-1.6 1-5 1 1.5 1-0.6 1 2 1 1.2 1.1 1.4 1-0.6 1 2 1 0.8 1 0.2 1-1.3 1-1.2 1 2.1 1 3.1 1 0.1 1-1.7 1 1.9 1-3.1 1 1.4 1-4.4 1 2 1 0.7 1 0.1 1 2.7 1-0.7 1 0.2 1-1.2 1 0.1 1-1.5 1-0.5 1 3 1.1-1.1 1-1.4 1 0 1 0.6 1 3 1-0.9 1-0.9 1 3.1 1-2.9 1-4.1 1 3.3 1-0.1 1-0.7 1 1.8 1-1.8 1 0.8 1-0.8 1 0.2 1-1.4 1 2.6 1-3.4 1 1.4 1-0.4 1 0.9 1 2.1 1-2.9 1.1-3 1 2.6 1 0 1-1.5 1 1.8 1-0.9 1-6.5 1-0.8 1 1.2 1 1.8 1 1.1 1 3.6 1 1.1 1-4.1 1 2.3 1-1.1 1 1.4 1-0.4 1 0.3 1-1.6 1-0.9 1-1.7 1 0.8 1 3.5 1-0.1 1-0.3 1 1.2 1.1-2.1 1 1.9 1 2.1 1-4.2 1 3.5 1-1.5 1 1.5 1-2.3 1-3.5 1-1.2 1 2.9 1-1 1 3 1 1.1 1 0.4 1 0 1 0.7 1 0.4 1 2.2 1-4 1-1.7 1-2.4 1 0.4 1 2.8 1 2 1-1.2 1.1-1.8 1 1.4 1 1.3 1-1.2 1 0.8 1 1 1-1.1 1 0.4 1 0.5 1 1.1 1 1 1-1.8 1 1.1 1-0.1 1-2.2 1-1.6 1-1.5 1-4.2 1 1.2 1 4.5 1 3.9 1-3.2 1 2.1 1-1.5 1-0.9 1 0.5 1.1 2.3 1 0 1-2.3 1 0.7 1 2.2 1-0.4 1-0.2 1-0.6 1-0.5 1 1.1 1 0.7 1 0.2 1-0.1 1-0.7 1 2 1-1.1 1 0.9 1-1.7 1-1.3 1 1.8 1-0.3 1-0.5 1 0.5 1-5.1 1 2.9 1-0.7 1-1.8 1.1 0.1 1-0.5 1-0.6 1-1.5 1 1.5 1 3 1-2.1 1 0.4 1 2.4 1-1.9 1 0.2 1 2.4 1-3 1 1.4 1 1.3 1 2.2 1-1.3 1 0.8 1-0.6 1-4.3 1 2.4 1 0.8 1-2.3 1 3 1-0.6 1-2.1 1.1 0.9 1 1.7 1-0.2 1 1.2 1 0.7 1 2.5 1-1.9 1-0.4 1 0.4" stroke="#80ff80"/>
<path d="M474.7 892.9l1 1.9 1-0.4 1 0.8 1.1 0.2 1 0.9 1 0 1-0.1 1-1.7 1 0.7 1 0.9 1-0.1 1-2 1.1-1.1 1-0.5 1 4.3 1-0.2 1-1.6 1-1 1-0.5 1-0.4 1.1-0.5 1-0.3 1 0 1 1.9 1 1 1-3.1 1-0.9 1-0.2 1.1-1.2 1-3 1 2.1 1 0.8 1 0.6 1 0.5 1 2.9 1-1 1.1 1 1 0.6 1-0.3 1-1.2 1 0.8 1-2.1 1 0.1 1 0.8 1.1 3 1-2.5 1-0.6 1-0.9 1 2.1 1-0.3 1 0.1 1 0.6 1.1-1.9 1 2.6 1-1.8 1 0.7 1 1.1 1 0.6 1-2.6 1 2.9 1.1-0.2 1-1.4 1-0.6 1-1.4 1-0.9 1-1.5 1 1.9 1 1.8 1.1-1.3 1 1.2 1-0.7 1 1.1 1 2.2 1 0.1M552.6 891.8l1 0.8 1 0 1 1.8 1-2.7 1 4.8 1-0.2 1.1-2.3 1 0.5 1-3.1 1 0.5 1 1.3 1 0.9 1 2.5 1-2.8 1 2.7 1 0.4 1 0.4 1-1.6 1-4.3 1 2.8 1-2.1 1 0.5 1-0.5 1 3 1-2.5 1-0.7 1-0.8 1-1.4 1.1 1.3 1-1 1-0.8 1 2.4 1-2.4 1 1.7 1 0 1 0.5 1-0.6 1-3.3 1 2.3 1 1.1 1 2.4 1 0.4 1 1.4 1-2.1 1 0.2 1-2.2 1 1.6 1-2.4 1 1.9 1.1-0.2 1 1.9 1-0.8 1-1.8 1 1.2 1-1.5 1-0.2 1 2 1-2.8 1 2 1 1.4 1-1.4 1 0.9 1-1.7 1-0.4 1-0.1 1 0.4 1-1.6 1 1 1-0.9 1 2.7" stroke="#80ff80"/>
<path d="M1657.7 894.6l1 0.5 1-1.4 1 0.5 1 0.1 1-0.8 1 0.1 1 1.2 1 0.2 1 0.4 1.1-1.5 1 0 1 0.5 1 0.5 1 0 1-0.4 1 2.2 1-1.5 1-0.7 1-0.5 1.1 1.8 1-0.9 1 0.6 1-0.4 1 0.9 1-0.2 1-1.9 1 0.7 1-0.5 1.1-0.9 1 0.3 1 1.1 1-1.8 1 1.6 1-0.4 1 0.8 1-0.7 1-0.9 1 1.2 1.1 0.9 1-1 1-1.1 1-0.1 1-0.3 1 1.1 1-0.1 1 1 1-0.4 1-1.5 1.1 0.6 1 0.9 1-0.5 1 0.4 1-1.8" stroke="#80ff80"/>
<path d="M813.7 894.4l1.1 0.7 1-1.2 1 1.1 1 0.8 1-1.5 1-0.2 1 0.3 1 0.3 1 0.6 1.1 2 1-2.8 1 1.7 1-1.3 1-0.5 1-0.3 1 1.4 1-2.6 1 1.9 1.1-0.6 1-0.3 1 2.2 1-2.6 1-0.4 1-0.1 1-2.7 1-2.1 1.1 0 1-1.3 1 0.2 1 2 1 1.3 1-0.7 1 1.8 1 1.1 1 0 1.1 1 1 0.2 1-0.7 1 0 1-0.2 1 0 1 1.1 1-0.3 1 1.7 1.1-0.3 1 0 1-1.3 1-1.5 1 2.7 1-1.4 1-0.1 1 0 1-1.1 1.1 0.8 1 1.2 1-2.4 1 1.6 1-0.5 1 2.2 1-2.3 1 0.5 1.1 1.3 1 0.9 1-2.3 1-0.6 1 0.3 1-0.1 1 1.6 1 0.2 1 0 1.1-1.3 1 1.4 1-1 1 0.3 1-0.3 1-0.8 1-0.3 1 2.4 1 0.7 1.1-1M897.7 891.8l1-0.7 1 5.5 1-1.3 1 1.1 1-1.1 1-0.8 1 1.3 1-2.5 1-3.4 1 0.7 1 0.8 1 3.6 1 1.2 1-1.1 1-0.9 1 1.9 1-1.4 1 1.2 1-0.6 1 0.3 1-0.4 1-0.5 1 0.6 1 2 1 0.3 1-1.5 1-0.1 1-1.4 1 1 1-1.2 1 1.5 1-1.4 1-0.5 1 0.6 1 1.4 1-0.9 1 3.5 1-3 1 0.5 1-2.6 1 0.2 1-0.2 1 0.8 1 0.2 1-0.4 1-0.3 1 0.5 1 1.6 1-1.4 1-1.6 1-1.5 1-2.2 1-2.4 1 1.1 1 1.7 1 3.3 1 1.4 1-0.2 1 1.9 1-1 1 0 1 0.2 1 0.4 1-0.1 1-0.8 1-0.8 1 1.2 1-2.6 1 0.2 1-0.7 1-0.9 1 2.3 1-0.1 1 0.9 1 0.3 1-0.4 1-1.2 1 0.8 1 2.5 1-1 1 0.3 1-1.1 1-0.4 1-0.7 1 1.8 1-0.2 1 0.3 1-0.3 1-2.6 1-0.5 1 0.4 1 0.6 1 1.3 1 0.7 1.1-2.8 1-2.2 1 0.5 1 3.1 1 1.1 1 0.2 1-0.1 1 1.2 1-2.2 1 2.6 1-2.3 1-0.5 1 0.8 1 0.3 1 0.7 1-2.2 1 0.4 1-0.2 1 0.9 1-1.2 1-1.1 1 0.2 1-0.2 1 0.7 1 0 1 1.6 1-0.2 1-0.1 1 1.8 1 0 1-1.1 1-0.2 1-0.4 1 0.6 1 0.2 1-0.7 1-2 1-0.6 1 0.5 1 2 1-1.3 1-2.3 1 0.1 1 0.1 1-0.9 1 3 1-2.2 1 0.7 1 2.9 1 1.2 1-4.1 1 2.7 1-1.2 1 0.3 1-0.1 1 1.7 1 0.5 1 0 1-1.2 1-0.3 1 2 1-1.8 1 1.5 1-0.5 1 0 1 1 1 0.4 1 0.1 1-1.4 1-0.3 1 1.1 1-1.6 1-0.1 1 1 1-2.5 1 1.1 1-0.5 1-0.4 1 2.8 1-0.6 1-0.7 1-0.1 1 0.8 1 1 1-2.1 1-4.5 1-6.9 1 3.8 1 9.6 1 0 1-1 1-0.6 1 1.9 1-0.9 1 0.4 1-1 1 1 1-0.3 1 1.5 1.1-1" stroke="#9fff60"/>
<path d="M373.8 895.4l1 0.2 1 0.6 1-0.1 1-2.3 1 0.5 1 1.3 1-1.3 1 1.4 1-1.7 1 1 1 1.2 1-2.9 1 2.8 1-2.9 1 2.8 1-2.9 1-1.3 1-3.2 1 0.9 1-3.1 1-1.1 1-0.6 1-2.6 1-4.2 1 0.6 1 1.2 1-0.1 1 5.4 1-2.6 1 5.3 1 1.7 1 1.5 1 2.5 1-1.7 1 3.6 1 0.2 1-1.8 1 2.2 1 0.3 1-3.1 1 1.3 1 1.3 1-1.1 1-2.3 1-2.8 1 0.7 1 1.4 1 0 1 5.3 1-0.2 1-0.6 1-0.1 1-1.8 1-1.4 1 1.3 1 0.4 1 0.2 1 0 1 0.9 1-3 1 1.6 1 1.9 1-1.6 1 1.6 1 0.3 1-1.2 1 2 1-2.5 1 0.2 1 0.4 1 0.2 1 1.6 1 1.4 1-2.4 1 2.1 1-0.4 1 0.1 1-0.8 1 2.1 1-2.8 1 0.2 1-1.3 1 0.8 1 0.2 1-1 1 2 1-1.7 1 2.5 1-2.6 1-1 1-0.8 1 0.7 1-1.2 1-1.4 1-2.2 1-0.1 1 0.4 1 2.8 1 1.3 1 2.7 1-2.8 1 0.5 1-0.8 1 1.4 1 1.7 1 2.6 1-1.1 1-0.6 1 1.3 1-0.7 1-2.9 1-0.7 1-0.9 1-1.7 1 1.9 1 0.3 1 1.2 1-1.4 1 1.4 1-0.9 1 0.1 1 0.3 1-0.3 1 0.3 1-1.1 1 2.6 1-2.6 1 1.5 1 0 1.1-2.8 1 2 1 1.7 1-1.6 1 1.7 1-3 1 2.6 1 1.3 1 0.1 1-0.7 1 0.4 1-2.7 1 1.9 1-1.7 1 0.6 1 2.2 1-2.3 1 0.2 1 0.7 1-1.8 1 3 1 0.9 1-0.7 1 1.7 1-1.5 1 0.5 1-3.3 1 0.3 1-0.7 1 0.5 1 0.9 1 0 1 0.3 1 0.1 1 1.1 1-1.4 1 1.9 1-4.9 1 3.8 1-2 1 0.8 1 0.9 1 0.4 1-0.6 1-2.9 1 1.1 1-0.3 1 0.7 1 1.2 1-0.2 1-0.4 1-0.5 1-0.6 1 0.9 1 0.4 1 0.3 1-1 1 0.2 1-1.7 1 1.9 1-1.5 1 0.1 1 0.5 1-1 1-0.3 1 2.8 1 1.3 1-0.8 1 2.4 1-0.5 1-3.2 1 0.2 1-1.3 1 1.8 1-1 1 1.5 1-2 1 1.3 1 1.3 1-2.1 1 1.6 1-0.1 1 0 1 0 1-0.5 1 2.5 1 0.7 1-1.9 1-1.9 1 2 1-0.1 1-1.4 1-2 1-0.5 1 3.2 1 0 1 0 1 0.1 1-0.3 1 0.6 1-1 1-0.4 1 1.1 1-1.8 1 0.2 1 0.8 1 1.2 1-0.8 1-2 1-1.4 1 0.8 1-0.1 1-0.9 1 0.8 1 2.1 1 2.2 1-0.5 1 0.6 1-2.3 1 0.4 1-2 1-1 1 1.9 1 0.9 1 0 1 1.3 1-1 1-0.8 1 0.4 1-2.2 1 1 1 1.4 1 0.5 1 0.5 1 0.3 1-1.3 1 1.1 1-1.5 1 0.3 1-0.8 1 0.8 1-3.7 1-3.3 1 0.2 1 2.4 1 0.7 1 1.1 1 2.9 1 0 1 0.7 1 0.1 1-1.2 1 2 1 0.4 1-0.3 1-0.5 1-1.8 1 0 1 0.1" stroke="#bfff40"/>
<path d="M874.1 891.4l1 0.6 1-0.1 1 1.2 1-0.9 1-0.5 1 0.3 1 0.9 1 1.4 1 0.5 1-0.8 1-1.4 1-0.6 1-0.2 1-1.6 1 2.6 1-2.1 1 4.7 1-2.1 1 2 1-1.9 1-0.4 1 1.5 1-1.1 1-2.2 1 2.4 1 0.6 1 0.3 1.1-1.6 1-1.3 1 2.3 1-0.3 1-0.4 1 0.7 1 1.4 1-1.5 1 1.9 1-2.6 1-1.9 1 3.1 1-2.2 1 1.3 1 0.2 1-1.8 1 2.7 1-0.1 1 0.1 1-2 1 0 1-0.8 1-0.6 1-0.8 1 2.8 1 1.9 1-5.6 1 0 1 0 1-0.1 1 0.4 1 2.2 1-2.9 1-0.8 1-0.1 1-1 1 1.6 1 1.2 1 2.4 1 2.8 1.1-4 1 0.7 1-0.2 1-1.7 1-3.3 1 0.1 1 1.4 1-0.1 1 2.1 1 3 1-0.7 1 1.5 1-1.1 1-0.2 1-2.1 1 2.6 1-1.4 1-0.2 1 1.4 1 0.9 1-1.6 1-4.1 1 1.8 1-0.2 1 0.1 1 3.1 1-0.4 1 0.6 1-0.9 1 0.6 1-0.5 1 1.2 1-2.1 1 1 1 0.8 1-3.9 1 1.8 1 1.9 1-2.9 1-0.5 1.1-1.1 1 2.2 1 2.6 1-0.8 1 0.4 1-0.7 1 0.2 1 1.6 1-0.8 1 0.9 1-1.3 1 2.1 1-4.9 1 3.1 1-0.9 1-0.4 1-1 1 1.8 1-2.5 1 0.7 1 0.1 1-3.7 1 0.5 1-1.9 1 2.4 1 3 1 2.7 1 0.2 1 0.4 1-1.4 1-2.8 1-0.4 1-0.9 1 3.2 1-0.9 1 0.7 1-0.1 1 0.1 1 0.2 1 0.5 1.1-0.8 1-0.6 1 0.4 1 0.9 1 2.7 1-3.3 1 0 1-0.9 1-1.3 1 0.6 1-1.1 1 2.1 1 0.6 1 2 1-0.8 1-3.2 1 3 1 0.6 1-3 1 0.9 1-1.6 1 2.9 1 1.5 1-3.7 1 0.3 1 1.7 1-2.3 1-1.7 1 0.9 1-0.9 1 3 1 0.1 1 0.6 1 1 1-0.3 1-0.5 1-3.4 1 0.7 1 3.1 1.1 2.9 1-2.5 1 1.5 1 0.2 1-3 1 0.5 1 4.3 1-0.5 1-2.7 1-0.1 1-2.9 1 3 1 0.9 1 0.5 1-0.8 1 1 1 0.4 1-1.2 1-0.2 1-1.5 1-2.1 1 0.9 1 0.4 1 2.3 1-1.3 1 1.1 1-0.6 1-0.5 1-1.2 1 1.1 1 2.3 1 0.4 1-4.2 1 1.3 1-1.5 1 2.1 1 0.5 1-0.6 1-0.9 1 0.6 1.1-0.3 1 0.3 1-1.1 1 3.3 1 0.6 1-0.3 1-3.2 1-0.5 1 0.3 1-0.1 1-1.3 1-1.2 1 1.5 1 0.6 1-1.1 1-0.7 1 1.1 1 1.5 1-1.5 1 0.9 1 0.6 1-1.1 1 0.9 1-2.3 1 0.6 1 0 1 1.4 1-2.9 1 4.5 1-1.7 1-0.9 1-0.7 1 0.3 1 2.2 1 0.7 1-1.3 1 1.5 1-1.8 1-1.2 1-1.1 1.1 0.4 1-0.9 1 2.3 1 0.1 1 0.1 1 1.4 1-1.7 1 0.5 1 2.1 1-0.9 1 0.6 1-3 1 3 1 0.3" stroke="#dfff20"/>
<path d="M1403.9 891.1l1 0.4 1-2.2 1 2 1-0.7 1 0.4 1-3.1 1 0.6 1 0.3 1 2.7 1-1.8 1 1 1 1.6 1 1.6 1-0.6 1 0.8 1 0 1 0.3 1 1.2 1 0.2 1-0.5 1 0 1-0.3 1 0.2 1-0.3 1 1.5 1-3 1 0.3 1 0.2 1 0.8 1-0.9 1-0.7 1 1.3 1-1 1-2.6 1-0.5 1-2.1 1-0.9 1-0.4 1 3.4 1 2.1 1 0.8 1 0.9 1-0.2 1 0 1-0.2 1-0.2 1 1.3 1-0.5 1-0.7 1-0.8 1-1.1 1-0.6 1-2.8 1 1.8 1 1.5 1-0.1 1 3.6 1-3 1 1.3 1-1.1 1-0.2 1 0.2 1 2.4 1 0 1-0.6 1 0.8 1 0.1 1-0.5 1 0.4 1 1.9 1-0.8 1-2.3 1 0.2 1 0.9 1-0.7 1 2.8 1-1.5 1 0.1 1-0.8 1 3.1 1-2.8 1 0.6 1.1-1.3 1-0.4 1 0.7 1 0 1 1 1 1.5 1-2.4 1 0.3 1-0.6 1 0.6 1-2.4 1 0.8 1 3.4 1-1.7 1 3.4 1-1.8 1-0.4 1-0.5 1-0.5 1 1.3 1-0.3 1-0.1 1-1.4 1 2.2 1-2.5 1-0.7 1 0.8 1-1.4 1-0.2 1 1.6 1 0.7 1 0.7 1-1.6 1-2 1 1.6 1 0.8 1 1.5 1-0.1 1-0.6 1 1.2 1-1.6 1-1.3 1-0.7 1 1.2 1-0.3 1-0.2 1 3.5 1-0.6 1-1.1 1-0.1 1 1.6 1-2.7 1 0.9 1 0.7 1-1.3 1-1.6 1 0.8 1-0.5 1-0.7 1 0.4 1-1.5 1 0.5 1 0.5 1-1.7 1-2.5 1 1.9 1 3.2 1-0.4 1 0.4 1 1 1-0.7 1-0.5 1 3.4 1-0.6 1-0.7 1-0.1 1 1.5 1-0.3 1-1.1 1 0.4 1-0.5 1-0.3 1-0.4 1 1 1-2.1 1 0.2 1 0.5 1-1.6 1 2.1 1-1.5 1-0.1 1 2.3 1-1.5 1 1.1 1-0.3 1-0.4 1-1.5 1 0.4 1 1.2 1-1 1 0 1 2.2 1-3.9 1 1.8 1-0.3 1 1.4 1-1.4 1-1.9 1-0.7 1 0.2 1 1 1 1.6 1 0.7 1-0.4 1-0.5 1 0.8 1-0.4 1-1.7 1-0.7 1 2.1 1-2.3 1 2.6 1-2.5 1 1.4 1-0.1 1-0.2 1-0.5 1 1.4 1-0.9 1-0.7 1 1.3 1-0.1 1 1.2 1 0 1-1.3 1 0.6 1-1.6 1 0.9 1 1.8 1-0.9 1-0.6 1 0 1 0.6 1 1.2 1-0.1 1-1.2 1-0.4 1 1.2 1-1.9 1-0.8 1-0.3 1-2.1 1 2.2 1 0.2 1 0.7 1 2.1 1 0.2 1 1.4 1-2 1 0.8 1 0.2 1-0.1 1 2.2 1-1.7 1 0.9 1-0.7 1-0.1 1-0.9 1 0 1 1 1-1 1 0.4 1-1.1 1-0.1 1 0.8 1 1.5 1-0.8 1 1.9 1-1.5 1 0.6 1 1.3 1-2 1-1.3 1 1.8 1-2.6 1 2.9 1-1.6 1 0 1-0.5 1-0.6 1-0.2 1 0.9 1-0.3 1-1.2 1-3.7 1-1.4 1 1.8 1-1.5 1 1.6 1-1.7 1 2.5 1 0.2 1 3 1 0.6 1-1 1 1.8" stroke="#ffff00"/>
<path d="M1309.6 892.3l1 2.1 1-1.9 1 1.6 1-2.9 1 2.6 1-1.2 1 1.4 1 0.3 1-2.6 1-1.4 1-0.9 1 0.3 1-1.1 1 2.1 1-0.8 1 3.4 1 1.5 1-0.1 1-1.7 1-0.5 1 0 1-0.4 1-0.7 1 0 1-3.3 1 1.3 1 1.2 1-0.5 1-0.2 1 0.2 1-0.4 1 0.9 1 1 1-0.3 1 1.2 1-1.4 1 0.3 1 1.9 1-1.1 1-1.5 1-1 1 3.2 1-0.5 1-0.3 1-0.4 1 0.4 1 2.2 1 0.3 1-0.9 1.1 1.4 1 0.2 1-0.9 1 1.4 1-2.8 1 1.5 1-0.7 1 0 1-2.5 1 0.8 1 0.3 1-0.1 1-2.8 1 2.6 1 1.1 1-1.5 1 0.9 1-1.2 1-1 1 1.3 1-2.1 1 1.3 1 0.5 1 1 1 2.2 1 0.2 1 0.4 1-1.5 1 1 1-0.7 1-0.2 1 1.5 1-0.5 1-0.4 1 0.7 1 0.2 1-0.4 1 0.3 1-2.4 1 2.1 1-0.8 1 0.3 1-0.8 1-0.8 1-0.8 1-1.7 1 1.6 1 1.4 1 1.2 1 0.7 1-3.5 1 1.6 1-2.1 1 0.6 1 0.2 1 1 1 1.1 1-3.1 1 0.7 1 5.4 1-1.9 1-0.2 1-2.2 1 1.1 1 1.6 1-1.1 1-1.7 1 1 1-1.6 1 2.7 1 1.5 1-3.5 1 3.3 1-4.2 1 2.2 1-2.2 1-1 1 0.9 1 0.7 1 0.1 1-0.2 1 0.6 1-0.2 1 0.7 1-2.2 1 1.4 1-0.6 1-0.7 1 1.9 1-1.3 1 0.7 1-2.4 1 3.8 1-4 1-0.3 1-0.2 1-2.3 1-2.8 1 1.4 1 0 1 1.9 1 3.2 1 1.8 1-1 1-0.4 1 1.6 1-4.4 1-0.9 1 0.8 1 1 1-1.6 1-0.6 1-3 1 0.8 1 3.2 1-0.2 1 0 1 2.5 1 0.7 1-1.4 1 1.9 1-0.6 1 1.2 1 0.4 1-2.3 1 0.2 1 1 1-0.9 1 0.4 1 1 1-0.5 1 1 1-2.8 1 2.3 1 2.3 1-2.8 1-2.1 1-0.5 1 3.4 1-1.8 1-0.1 1 0.3 1 1.5 1 0.6 1-0.8 1-0.9 1 0.6 1-6.8 1-5.8 1 6.6 1 3.9 1-1.4 1-2.2 1 0.7 1-0.4 1-0.1 1-0.4 1 1.2 1 0.9 1 1 1-0.5 1 2.9 1-2.2 1 2.2 1-1.5 1 0.8 1 2.1 1-2.8 1 5.2 1-3.6 1 1.2 1 0.6 1.1-2.3 1 1.9 1-2.3 1-1.9 1-1.3 1 0.8 1-1 1-0.2 1 1.1 1 1.4 1 0.6 1 1.4 1-1.1 1-1.1 1 1.8 1-0.7 1 0.9 1 2.2 1-3.1 1-0.7 1 1.7 1 0.6 1 0.1 1-1.9" stroke="#ffdf00"/>
<path d="M504.7 890.9l1 0.4 1-2.6 1 2.8 1-0.3 1-3 1 3.7 1-1.6 1-2.1 1 2 1-2.1 1-1.3 1 0.9 1 3.2 1 0.9 1-1 1 1.2 1 0.5 1-7.2 1-0.8 1 2.3 1-1.3 1 2.8 1 1 1 2.3 1-1.8 1 1.7 1-1.6 1-1.7 1 0 1 3.5 1-1.8 1 2.5 1-3.2 1 1.8 1-1.9 1 1.6 1 0.4 1-2.3 1 1.1 1 2.3 1 1.7 1 1 1-2.9 1 2 1-3.6 1 3.7 1 0.4 1-1.9 1 2.2 1-5.4 1-3.7 1 1.6 1 3.3 1 0.1 1-2.3 1 2.6 1 2.7 1-0.2 1 1 1 0.3 1 0.7 1-4.6 1-1.6 1 0.5 1-0.2 1 3 1 0 1-2.8 1 0.4 1 1.8 1 0.5 1-1.6 1 2 1-1.2 1-3.1 1 3.5 1 1.1 1-1.5 1 3.4 1-4.7 1 1.9 1-0.1 1 0.2 1-0.5 1 0.3 1-0.3 1 0.5 1-0.5 1-2.1 1 1.3 1-2.1 1 2.4 1 1.9 1-4.5 1 0.1 1 3.6 1-2.8 1 2.1 1 2 1-1.2 1-0.4 1 1.9 1-0.6 1 1.1 1 0.4 1-1.6 1 0.1 1 1.3 1-1.5 1-1.4 1 0.6 1-1.7 1 4.2 1-5.4 1 3.6 1 1.8 1-2 1 1.2 1-3.3 1 0.2 1-1.1 1 4.8 1-2.3 1 1.3 1-1.9 1 3.2 1-3 1 2.2 1-1.7 1 1.1 1 1.4 1-2.6 1 0.4 1-0.1 1 1 1-0.1 1-0.2 1 0.2 1-0.9 1-1.6 1-0.1 1 1.2 1 0.5 1-1.4 1-1.6 1 1.9 1 0.4 1-1.5 1 2.3 1-0.6 1-0.9 1 3.3 1-2.9 1-0.4 1 3.4 1-1.1 1-2.7 1 2.8 1-3.3 1 0.9 1 1.4 1-2.3 1 1.9 1-2.1 1 0.7 1-0.3 1 0.6 1 0.1 1 1.9 1-1.1 1-1.5 1 0.3 1-2.7 1 2.3 1-0.6 1 3.3 1-2.9 1-0.3 1.1 2.4 1-0.4 1-1.7 1 0.3 1 0.1 1 1.5 1 1.7 1-3.9 1 0.8 1 0 1-1.7 1 2.6 1-3.3 1 4.1 1 0 1 0.6 1 1.3 1 0.6 1-2.3 1-0.7 1-0.8 1-0.5 1-0.1 1-0.6 1-2.4 1 0.1 1-2.5 1-0.2 1 2.3 1 0.3 1 1.3 1 1.2 1 0.9 1 0.3 1 0.1 1-0.4 1-1.4 1 1.5 1-0.6 1 0.9 1-4.8 1 2.5 1-0.8 1 1.8 1-1.2 1-0.3 1 1.9 1-1 1 0.8 1 1.8 1-1.3 1 1.6 1-3 1 2.8 1 0.6 1-2.1 1-0.1 1 1.7 1-1.4 1-0.1 1 0.3 1 0.9 1-0.1 1-1 1-0.2 1-2.3 1-1.5 1 5.7 1-0.1 1-2 1 1.6 1-1.3 1-2.8 1 0.2 1 2.8 1 0.3 1 0.3 1 1 1-2.6 1 0.6 1 2.1 1-0.6 1-0.8 1-0.3 1 2.9 1-0.4 1 0" stroke="#ffbf00"/>
<path d="M373.8 895.8l1-4.3 1 1.3 1 0.6 1-2.2 1-0.1 1 3.6 1 1.6 1-1.7 1 0.6 1-3 1.1 1.3 1-0.8 1 0.8 1-0.6 1 0.5 1-1.2 1-0.6 1-2.2 1 0.5 1 0.4 1 0.9 1-0.7 1-1.8 1 1.3 1-0.3 1 0.2 1 0.2 1-0.6 1-0.4 1 0.6 1 0.5 1 3.1 1 0.9 1-2.4 1.1-3.3 1-1.4 1 3 1 1.3 1-1.2 1-1.3 1-1.9 1 3.9 1 0 1 0.4 1 0.1 1 2 1 0.8 1-0.2 1-0.1 1 1.3 1-1.6 1-2.5 1 2.3 1-3.3 1 2.3 1 0.1 1 0.4 1 0.3 1.1-4.5 1 3.9 1-1.2 1 2 1-4.1 1-0.1 1-0.2 1 1.6 1-0.8 1 2.1 1 0.8 1 0.4 1-2.9 1-8.1 1 4.1 1 8 1 2.2 1 0.3 1-2.6 1-2 1 2.2 1-4 1 0.7 1-2.2 1.1 3.4 1-1.1 1 5.1 1-2.3 1 0.8 1-4.7 1-0.9 1 0.8 1 3.5 1 2 1-1.1 1 0.1 1-0.6 1-1.8 1 2.5 1-3.5 1 0.5 1-1.5 1 0.8 1 1.8 1 2.2 1 3 1-2.3 1-0.9 1.1 3.1 1-1.6 1 3.1 1-5.2 1 0.7 1-1.1 1-1.3 1-2.6 1-4 1 2.9 1-4.2 1 4.5 1 1.6 1-0.6 1 2.4 1-2 1 3.2 1 1.9 1-0.4 1-1.5 1 3.2 1-3.7 1-0.8 1-0.3 1.1-0.8 1 4.4 1-2.6 1 1 1-1.5 1 1.3 1 0.4 1 0.2 1 0.2 1 1.2 1-0.7 1-2.4 1-1.3 1 1.7 1-1.4 1 1.6 1-1.7 1 0.4 1 2.1 1 2.3 1-1.9 1-1.8 1-2.9 1 0 1 0.2 1.1 1.3 1 0.8 1 2.9 1-0.9 1 1.7 1-0.9 1 1.7 1-2.1 1 1.7 1-3.9 1 1.4 1 1.5 1-0.6 1-0.7 1-3.1 1 0.8 1-0.9 1 2.3 1-2.9 1-2 1 1.2 1 2.5 1 2.1 1 0.4 1.1-2.3 1 4.3 1-2.7 1 5.5 1-3.4 1-1.9 1 1.6 1-1.5 1-2.1 1 0.6 1-1.9 1 1.4 1 0.6" stroke="#ff9f00"/>
<path d="M746.2 894.8l1-0.2 1.1 0.1 1-0.6 1 1.3 1.1-1.3 1 1 1-0.2 1.1-2.2 1 0.9 1-2 1.1 2.1 1-3.9 1-0.5 1.1-3 1 0.8 1-2 1.1 1.8 1 2.5M767.8 894.5l1-2 1 0.6 1-2.1 1 0.2 1-1.3 1 2.2 1 0.4 1 0.1 1.1 0.8 1-1.3 1-0.8 1 0.4 1 0.8 1-1 1 0.7 1-4.9 1 3.4 1 2.5 1 0.6 1 0.2 1 0.5 1-1.8 1 0.4 1.1 1.1 1-1.7 1 2.5 1-1 1 0.4 1-0.3 1 0.2 1-0.5 1-0.2 1-1.8 1 1.3 1 0 1 0.4 1 0.6 1-0.6 1.1-2 1 2 1-2.7 1-0.9 1-2.8 1-1.1 1 2.3 1 0.6 1 2.3 1 0.9 1 1.2 1 1.4 1-1.5 1 2.1 1-2.4 1 3.2 1.1-3.2 1 2.8 1-1.3 1 1.6 1-1.6 1 0.6 1-1.5 1-2.1 1 2.8 1-1.8 1-0.4 1 1.8 1-0.6 1 2.3 1 0.3 1.1-1.5 1-2.5 1-0.4 1 1.2 1 0.5 1-0.9 1 0 1 1.2 1 4.1 1 0.5 1-1.5 1 1.4 1-1.3 1-0.9 1 2 1.1-2 1 1.2 1-0.8 1-0.7 1-0.3 1-0.4 1 1.3 1-0.8 1 1.3 1-2.9 1 0.7 1 0.7 1-1.8 1 1.7 1-0.9 1.1 2.8 1-0.6 1-1 1-2.1 1-1 1-5.9 1 1.2 1 0.9 1 0.4 1 3.4 1-1 1 3.6 1 1.4 1 2.1 1-2.2 1.1-1.1 1-4.2 1-5.9 1 3.7 1 4.1 1 1 1 1.4 1 2.3 1-1.1 1-2.3 1-1 1-2.6 1 1.1 1 1.7 1-0.3 1.1-0.4" stroke="#ff9f00"/>
<path d="M1170.8 895.7l1-0.8 1 1.2 1 0 1 1.9 1-0.2 1-1 1-0.5 1-0.9 1 2.2 1-1.7 1 0 1 0.9 1 1.5 1-1.3 1-0.8 1 1.1 1-1.8 1 1.2 1-1.9 1 0.4 1-0.8 1 1.8 1-0.7 1 1.1 1-0.3 1-0.1 1-0.1 1 1.1 1-0.5 1-1.2 1 1.6 1-0.7 1-0.2 1 0.9 1-1.2 1 0 1-0.4 1-0.5 1 1.2 1-0.4 1 0.7 1-1.1 1 1.7 1-0.8 1-0.6 1 2.1 1-2.8 1 0.7 1 1.4 1-1.1 1-2.2 1-0.1 1 0.5 1 0.9 1 0 1 0.6 1-0.7 1 0 1 0.6 1-1.1 1 1.2 1 1.3 1-1.1 1-0.8 1 0.1 1 0.2 1 0.9 1-1.6 1 1.5 1-0.7 1-1.3 1 2.6 1-1.1 1 2 1-1.8 1 0 1-1.2 1 0.3 1-3.5 1-2 1-1.3 1 2.9 1 2.6 1-0.4 1 1.1 1 2.3 1-3.1 1-3.3 1-2.3 1 4.3 1 2.4 1-1.5 1 1.9 1-0.6 1 1.9 1-1.8 1 0.7 1-1 1 0 1-0.5 1 1.5 1 0.2 1 0 1 0.6 1-0.9 1 0.8 1-0.2 1-1.1 1 0.5 1-0.6 1 1.6 1 0.6 1-1.6 1-0.3 1 1 1-1.4 1-0.4 1 1.2 1-0.5 1 1.1 1-0.3 1-0.4 1 0.1 1-0.2 1 1.1 1-1.9 1 1.2 1-0.9 1-0.2 1 0.1 1-1 1 1.1 1-0.1 1-0.5 1 3.1 1-0.4 1-1.2 1-0.4 1-0.5 1-0.4 1 1.2 1 0.8 1-0.5 1-0.9 1 0.2 1 0.5 1-1.6 1 2.9 1-2 1 0.5 1 0.2 1-0.9 1 2.2 1-0.7 1 2.5 1-1.1 1-1.6 1 0.5 1-0.6 1-0.1 1 1.3 1 0 1-0.2 1-1.2 1-1.3 1 2.2 1 0 1-0.8 1 1.1 1 0.3 1-0.9 1 0.5 1-1.2 1 1.1 1-1.4 1-0.6 1 0.6 1 0 1 1 1 0.5 1 0.6 1 1 1-0.5 1 0.7 1-2.3 1 0 1 0.4 1-1.1 1 0.1 1 1 1 0.9 1-0.2 1 0.5 1 1.3 1-1.7 1 0.3 1-1 1-0.3 1-0.5 1-0.2 1-0.8 1-0.1 1 0.1 1-0.1 1-0.5 1 1.4 1-2.1 1-2.4 1 0.6 1-1 1 1.2 1-2.7 1 1.1 1-1 1-1.7 1 0.4 1 1.6 1 0.5 1 0 1 2 1-0.9 1 1.3 1 1.4 1 0.1 1-4 1-46.7 1 47 1 5.1 1 0.5 1-0.4 1 0.3 1-1.2 1 0.5 1 0.4 1-0.9 1 0.9 1 0.3 1-0.4 1-1.5 1 0.4 1-0.2 1 0.8 1 1.3 1-2.1 1 0.3 1-3.2 1-1.2 1 0 1-0.3 1 2.1 1 1.7 1 0.8 1-1.5 1 1.2 1 1.5 1-2.4 1 1.1 1 0.6 1 0.7 1-1.6 1-0.2 1 0.8 1-0.1 1 1 1 0.2 1 1.4 1-0.7 1.1 0.1 1 0 1-2.3 1-2.1 1 0.1 1-1 1 0.6 1 1.4 1 1.9 1-0.3 1 0.8 1-0.4 1 0.7 1-1.8 1 1.9 1-2.2 1-0.1 1 0 1-2.2 1-2 1-0.9 1 2.1 1-0.5 1 3.5 1-0.8 1 1.7 1 0.1" stroke="#ff8000"/>
<path d="M1365.6 893.1l1-1.4 1-2.4 1-1.5 1-1.8 1 1.8 1 0.7 1 3.4 1 1.4 1 0.9 1-0.1 1-1.9 1 1.2 1 1.6 1-0.6 1-1.7 1-1 1 3.2 1-0.7 1 0.1 1 1 1 0.3 1 0.5 1-0.4 1-0.1 1 0.7 1-1 1-2.2 1 1.4 1 0.7 1-0.5 1-0.6 1 1.5 1-3.7 1 1.6 1 1 1-1.7 1-0.4 1 3.4 1-3.4 1 0.5 1 0 1 1.3 1-0.6 1 1.4 1 0.7 1-1.4 1 0.9 1-1.5 1 0.6 1-0.8 1 0.9 1 0.6 1-1.5 1 0.1 1 0.6 1-0.7 1 0.9 1-0.9 1 0.5 1 0.9 1-2.8 1 1.7 1-0.9 1 2.3 1-1.1 1 0.7 1-1 1 1.4 1-1.1 1 0.7 1-0.1 1 2.6 1-1.7 1-0.7 1-0.9 1-0.8 1-0.6 1-0.6 1 1.3 1-0.3 1-1.3 1 2.7 1 0.1 1-1.3 1 1.6 1-1.8 1 2.1 1 0.7 1 0.8 1-2.3 1 0.5 1 0.5 1 0.3 1-0.4 1-1 1 0.3 1-0.3 1 2 1-2.2 1 2.1 1 0.3 1 2.2 1 0.6 1-2.6 1-0.3 1-1 1-1.1 1 1.8 1-2.9 1 1.9 1 2.4 1-1.6 1-0.1 1-0.8 1-0.7 1-0.4 1 0.6 1 0.4 1 1.2 1 0.3 1 0 1 1.2 1-0.7 1-1.7 1 0.4 1-1.2 1 0.4 1-0.3 1 0.1 1 0.8 1 0.1 1-2.5 1 0.7 1 0.5 1 0.2 1 1.8 1-1.4 1 0.6 1 0.2 1-0.7 1 0.1 1-1.4 1-4.3 1-1.5 1 1.7 1 2.7 1 0.2 1 3.9 1-2.1 1 2.7 1 0.3 1 0.2 1-0.3 1-0.5 1-0.4 1-0.3 1 0 1-1.9 1-0.8 1-1.1 1 2.1 1 1.3 1 1.8 1 0.1 1-2.6 1 0.4 1-0.3 1-0.4 1 1 1 0.1 1-0.3 1-0.3 1-1.3 1 0.1 1 2.4 1-1.4 1 2.3 1-1.3 1-0.2 1 0.6 1-1.9 1-2.6 1 0.1 1 2 1-2.7 1 3 1-0.8 1-1.5 1 0.6 1 1.2 1 0.7 1 0.2 1-1.9 1 1.2 1 1.9 1-1.3 1-0.3 1 1.9 1-2 1 0.1 1 0.4 1 0.7 1-2.1 1 0.3 1 1.7 1 0.3 1 2.1 1-1.6 1-0.7 1-1.8 1 2.1 1-3.1 1 1.8 1-0.7 1 0.9 1 0.5 1-1.4 1 0.2 1 0.5 1 0.1 1-0.2 1 1.2 1-0.9 1-1 1 2.5 1-2.7 1-3.4 1-50.4 1 50.4 1 3.6 1-0.5 1-0.2 1.1-0.1 1-0.1 1-2.2 1 0.9 1 1.4 1-0.3 1 2.6 1-0.8 1-0.7 1 0.8 1-1.2 1 0.8 1 0.1 1 1 1-0.5 1-0.2 1-0.1 1-0.1 1-1 1 1.2 1-0.9 1 0.6 1-0.9 1-0.5 1 0.9 1 0.8 1-0.5 1-1.2 1-1.2 1-2 1 1.7 1-1.3 1-0.6 1 0.2 1 0.4 1-0.4 1 1.7 1-0.2 1 1.5 1-0.6 1 1.8 1 0.3 1 0.4 1 0.2 1-1.2 1 1.5 1-2.7 1 2" stroke="#ff6000"/>
<path d="M190.0 896.8l1-1.9 1 3.1 1 0 1 1.2 1-1.6 1-2.3 1-0.9 1 3.3 1-4.1 1.1 1.5 1 2.9 1-3.3 1 0.4 1-0.5 1 1.2 1-0.4 1 2.2 1-4.7 1 3 1-0.3 1-1.3 1 0.2 1 1.2 1-1.3 1 1.2 1-2.3 1 1.9 1-0.1 1 0.6 1.1-2.6 1 0.6 1-1.5 1 3 1-1.7 1 1.8 1-3 1 0.9 1-0.7 1-1.2 1 1.6 1-0.8 1-0.9 1-0.2 1 3.5 1-1.6 1 1.2 1 2.9 1-4 1 1.4 1.1 2.5 1-21.7 1 15.4 1 2.7 1-1.7 1-0.7 1 2.4 1 1.7 1-1.7 1 0.7 1-0.3 1-1.1 1-0.6 1 0.8 1-1.1 1 0.3 1 0.3 1-0.8 1 0.3 1 0.7 1.1 1.6 1-1.5 1-0.4 1 1.7 1-0.2 1-2.2 1 0.3 1-3.8 1 4.5 1-4.8 1 2.2 1 3.5 1 1.1 1-0.7 1-1.4 1 0.9 1 3.1 1 0.4 1-1.6 1-0.4 1.1-3.6 1-0.6 1 2.7 1 2.6 1 2.3 1-0.9 1-2.1 1-0.2 1-1.3 1 2.5 1-5.1 1 1.8 1 0.3 1 3.7 1-3.4 1 0.8 1 1.1 1 3.4 1-3.8 1-1.4 1.1-0.5 1 0.4 1 1.5 1-1.4 1 1.1 1-2.7 1-0.1 1 4.9 1-2.2 1 1.1 1-1.1 1 0.3 1-0.2 1 1.7 1-3.7 1 0.5 1-0.3 1 1.4 1 2.9 1-3.5 1.1 2.2 1-2.6 1 2.4 1-1.7 1 0.1 1-2.4 1 3.5 1-1.8 1 2.5 1-2.5 1 1.1 1-1.4 1 0.6 1 3.5 1-1.7 1-0.3 1-0.7 1-0.1 1-1.7 1-1.8 1.1 4 1-1.3 1-0.8 1 2.3 1-2.6 1 1.5 1-4.9 1 5.4 1-2 1 0 1-0.1 1 1.3 1 0.6 1-0.2 1-0.4 1-2" stroke="#ff4000"/>
<path d="M1587.7 891.9l1-1.5 1 2.2 1-1.1 1 0.3 1-0.4 1.1 2.1 1-1.1 1-1.6 1 1.8 1-1.7 1 2.1 1-0.6 1-1.2 1-1.5 1 3 1-1.7 1 1.5 1 1.3 1-2.6 1-1.3 1 0.6 1-0.5 1-0.9 1 0.5 1-1.8 1-2 1-0.5 1 1.5 1 2.4 1 1.6 1-2.4 1.1 3.1 1-1.9 1-0.6 1-0.4 1 0.4 1 2.2 1 0.3 1 3.2 1-3.4 1-1.7 1-0.8 1 1.2 1-1.8 1 1.5 1 0.5 1 1.7 1-0.6 1-2.2 1 5.3 1-1.6 1-1 1-0.2 1-4.5 1-0.8 1-1.2 1 3 1.1 0.9 1-1.4 1 3.2 1 2.3 1-1.2 1 0 1-0.5 1-0.2 1 0.2 1 2.6 1-2.2 1-1.9 1 3.4 1-4 1 2.4 1 0.7 1-1.5 1 2.6 1-1.3 1-1.8 1 0 1-1.4 1 5.7 1-2 1-3 1 1.1 1 0 1.1 1.9 1 0.7 1 0.9 1-0.1 1-1.1 1-1.4 1 0.2 1 1.1 1 0.7 1-2.2 1-3 1-1.1 1 0.4 1-2 1 2.2 1 0.3 1 1.9 1 3.2 1-2.6 1 0.9 1 1.1 1 3 1-3.8 1 0.1 1 1.1 1-1.5 1.1-1.4 1 2.2 1 0 1-1 1 0 1 1.6 1-0.5 1-0.6 1 1.3 1-1.2 1-2.2 1 3.6 1-0.9" stroke="#ff4000"/>
<path d="M215.0 892.7l1 0.5 1 0.8 1.1-1.2 1 1.1 1 1.1 1-1.3 1.1 1.8 1-2.4 1 0.6 1.1 1.8 1-1.8 1-2 1-1.3 1.1 2 1 2 1-1.7 1.1 2.2 1-2.2 1-0.9 1-0.3 1.1 0.3 1 4.1 1-3.5 1.1-0.8 1 5.8 1-3.4 1-1.4 1.1 1.2 1-1.6 1 1.5 1.1-0.7 1 2.8 1-4.1 1 0.8M252.9 893.2l1.1-2.8 1-2.3 1 1.4 1-2.3 1 1.2 1.1-1.4 1 2.7 1-2 1 2.7 1.1 0.5 1-3.7 1-1.4 1-0.2 1 1.7 1.1-2.3 1 1 1 2.1 1-0.7 1 3.4 1.1 0.4 1-0.4 1-2 1 2.6 1.1 0.1 1 0.5 1-2.1 1 0.2 1-0.2 1.1 0.9 1 2.5 1 0.1 1-2.3 1 1.6 1.1 1.1 1 0.2 1-2.5 1 0.7 1.1 0.1 1-1.7 1 0.2 1-0.5 1 0.6 1.1 3.9 1-3M301.5 898.5l1-0.6 1-0.2 1 0.4 1-0.5 1-0.5 1 1.2 1.1-0.1 1 0 1-1.2 1-1.1 1 1 1-3.6 1 3.3 1 1.2 1-0.1 1 0.6 1-0.5 1.1-0.6 1-0.2 1 0.5 1-2.5 1 0.7 1 0.1 1 0 1-1.7 1 2 1-0.2 1.1-1.1 1 0.3 1 0.9 1 0.6 1-3.2 1-1.4 1-1.4 1 0.6 1 1.6 1 1.5M344.8 893.0l1-0.2 1-1.1 1.1-1 1-0.7 1 3.4 1 0.8 1 1.7 1-4.1 1-0.3 1 1.7 1 1.4 1-0.3 1-1.4 1-0.1 1 1.5 1-2 1 1.5 1 2.3 1-0.1 1 0.3 1.1-0.3 1 0.1 1 0.6 1-3.5 1 2 1-0.2 1 0 1 0.2 1-2 1-0.7 1 4.1 1-2 1 2.5 1-4.1 1 3.6 1-2.9 1 1.7 1 2.6 1 0.8 1.1-0.8 1-4.3 1 0.4 1-2.9 1 0.2 1-2.2 1-1.7 1 0.9 1 1 1 1.4 1 0.5 1 3.7 1-0.4 1 1.9 1-2.3 1 0.3 1-1.6 1 3 1-2.5 1.1 0.7 1-1.2 1-0.1 1 0.6 1-2 1 1.2 1 0.1 1 0.1 1 0.4 1 3 1 0 1-0.6 1-3.5 1 1.5 1-1.3 1-0.7 1 3.4 1-1.9 1.1 2.7 1-2.2 1 1.8 1-0.7 1 0.5 1 2.1 1-19 1 19.4 1-3.2 1 2.1 1-0.6 1 1 1-2.1 1 2.7 1-5.5 1 0.8 1 0.8 1 0.3 1 1.8 1.1 1.2 1-0.7 1 0.4 1-1 1-2 1 1.8 1 0.4 1 0.2 1-1.3 1-0.7 1 0 1 2.5 1-0.4 1-0.9 1-1.6 1-1.5 1-0.7 1-1.7 1.1-1.2 1-0.8 1 0.3 1 2.8 1 3 1-1.1 1-0.4 1 0.3 1-1.2 1 0.5 1-3.3 1 0.8 1 1.3 1 2.2 1-0.2 1 3.9 1-2.5 1 0.8 1 1 1.1-4 1-0.9 1 3 1 0.5 1-0.2 1 0.9 1 0.5 1-1 1-0.8 1-0.8 1-0.3 1-1 1 3.1 1-0.9 1 0.7 1 2.2 1-1.1 1-2.3 1.1 1.4 1-2.5 1 2.6 1 0.7 1-0.1" stroke="#ff2000"/>
<path d="M701.9 896.7l1 0.7 1-1.3 1-0.2 1 0 1 0.7 1-0.7 1 1.1 1-2 1 0.7 1 1.2 1-0.7 1 1.5 1-0.9 1 0.2 1 0 1-0.8 1 0.2 1 0 1-1.5 1-0.2 1 0.7 1 0.1 1 2.3 1-2.3 1 0.1 1-0.3 1 1.4 1-0.6 1-0.2 1-1.1 1 0.1 1 0.8 1 0.4 1 1.5 1-2.1 1-1 1-0.9 1-0.5 1-2.6 1 3.8 1-0.8 1 1 1-0.7 1 0.8 1-0.6 1-0.3 1 0.9 1 1.3 1-2.5 1 0.8 1-2.3 1 2.1 1 0 1 0.2 1 0.9 1-0.4 1 0.5 1-1.2 1-0.2 1-0.1 1-0.7 1-0.1 1-0.7 1 1.1 1-0.3 1 0.3 1 1.9 1-0.3 1-0.7 1 1 1-0.6 1 0.4 1 0.7 1 0.6 1-1 1 0 1-0.8 1-0.7 1 0.2 1-1.2 1 0.8 1-0.3 1 0.3 1 0.2 1-0.1 1-0.9 1-0.3 1-2.2 1-1.6 1-1.4 1 0.8 1 1.4 1 3.6 1 1.5 1 0.6 1-0.9 1 0.5 1-2.5 1 1.9 1-2 1 1.6 1-0.4 1 1.5 1-0.1 1-1.4 1 0.4 1-0.3 1-0.7 1-0.9 1 0.2 1 1.3 1 0.3 1 1 1-1.5 1-0.4 1 0.5 1 1 1 1.1 1-0.5 1 2.4 1-1.4 1-0.8 1 0.5 1-1.3 1 0.3 1-1.4 1 1.5 1-0.1 1 1.4 1-0.7 1-1 1-0.9 1 1.1 1-0.1 1-0.1 1 1.2 1-1 1-0.4 1 2.3 1-0.9 1 0.7 1 0.5 1-0.4 1-0.6 1-0.4 1 0 1 0.8 1-2.6 1 1.9 1-0.6 1-0.4 1 2.6 1-1.3 1-0.7 1 0.2 1-0.3 1 0.6 1 0 1 1.1 1-0.6 1-1.4 1 0.1 1 0.6 1-0.8 1-0.5 1-2 1 0.1 1 2.9 1 1.3 1 1.7 1-0.9 1 0.3 1-0.1 1-0.4 1 1.1 1-0.2 1-1.8 1 1.1 1-2.7 1 1.5 1-1 1 0.5 1 0 1-1.4 1 1.9 1-0.1 1 0.2 1 1.2 1 0.2 1 0.1 1-1.7 1-1 1-0.4 1-0.3 1 1 1 0 1 0.7 1-1.5 1 1.4 1-1.5 1 2.1 1 0.1 1-1 1 0.3 1-1.1 1-2.2 1 1.1 1-0.6 1-0.1 1-0.1 1-2 1-0.7 1-2.3 1 1.5 1-0.5 1.1 4.4 1 0.4 1 1.3 1 1.2 1 0.2 1-0.4 1-0.9 1-1.1 1-1.4 1 0.6 1 2.4 1 0.3 1-1.9 1-0.9 1 0.6 1-0.4 1 1.6 1 0.5 1 2.3 1-1.9 1-1.6 1-0.1 1 0 1-2.9 1-3.6 1 0.1 1-5 1 3.9 1 1.1 1 1.4 1-0.9 1-0.9 1-1 1-1.8 1-1.6 1 1.2 1-1.6 1 0.8 1 1.7 1-0.6 1 2 1-1.2 1-0.3 1 6.4 1-2.5 1 1 1 0.2 1-0.8 1-2.2 1 0.5 1 1.4 1 0.6 1 3.2 1-3.5 1 4.3 1-2.1 1-0.4 1 3.4" stroke="#ff0000"/>
<path d="M190.0 897.5l1.2-3.3 1.2 3.7 1.2-0.5 1.2-3.1 1.2 2.3" stroke="#df0000"/>
<path d="M1191.7 889.9l1.1 3.4 1-0.5 1-0.4 1-2.5 1-1.1 1 1.4 1-2.2 1 4.1 1 0.1 1 0.7 1 5.1 1-3 1-0.1 1-2 1-1.5 1.1 0.7 1-1 1 0.4 1-0.4 1 0.8 1-0.6 1-0.3 1-1.1 1 0.9 1 0.5 1-0.4 1 1.3 1-1.5 1-1.2 1 0.3 1.1-1.8 1 1.7 1 1.1 1 0.2 1 2.4 1-0.5 1-0.4 1-2 1-0.2 1 0.4 1-2.7 1 1.7 1 0.9 1-4.2 1 1.5 1.1 1.2 1 0 1 0.2 1 0.5 1 0.5 1-0.9 1 1.7 1-0.9 1 0.6 1-0.5 1 1.9 1-0.1 1 1.4 1-1.1 1-2.1 1.1-0.3 1 1.8 1-1.8 1 1.9 1-0.7 1 1.7 1 0.6 1-1.2 1-0.4 1-0.7 1 0.1 1-0.1 1 2.3 1 0 1 1.2 1.1-3 1 0.2 1-0.5 1-0.8 1 1.6 1 1.7 1 1.3 1-3.8 1-0.6 1-2.9 1-0.4 1 2.3 1-0.4 1 1.1 1 0.8 1.1-0.5 1 1.5 1-0.4 1 0.8 1-2.4 1 2.6 1-0.4 1-0.5 1 1.1 1-1.4 1-0.2 1 1.6 1 0 1-0.3 1-0.4 1.1 2 1-0.8 1 0.1 1-1.8 1 0.9 1-2 1 0 1 1.5 1 0.6 1 0.2 1 0.7 1-1.7 1-0.2 1 0.6 1-0.9 1.1 0.7 1-2.4 1-0.1 1-1.5 1 2.6 1 2.4 1 0 1-0.4 1-0.2" stroke="#df0000"/>
<path d="M1535.8 895.7l1-0.2 1 0.3 1-1 1 1.5 1-1.5 1 1.2 1 0.3 1 0.2 1-0.9 1 2.3 1 0.6 1-0.5 1 0.7 1-0.3 1-0.3 1 0.3 1-1 1-1.5 1 0.9 1 0.8 1 0.8 1-0.1 1-1.4 1-0.3 1-0.9 1-1 1 1.9 1-1.5 1.1 0.4 1 1.4 1 0.2 1-0.2 1-1.2 1 0.2 1 0.1 1-1.2 1 0.7 1 1.1 1 0.4 1-0.1 1-0.1 1-1.8 1-0.9 1 1.1 1-0.2 1-0.7 1 2 1 0.9 1-0.8 1-0.4 1 0.7 1 0 1-2.5 1 1.5 1-0.1 1-0.8 1 1 1 0 1 1.8 1-2.8 1 1.6 1-1.3 1-1.8 1 1.8 1-0.2 1-0.3 1-1.9 1 2.1 1-1.6 1 1.2 1.1 1 1 0.5 1 1.1 1-2.1 1 0.4 1-0.6 1-1.2 1 0.7 1 0.5 1 2.1 1-1.6 1 0.2 1 0 1 1.1 1-1.7 1-0.9 1-0.5 1 2.1 1-0.7 1-0.8 1-1.1 1-6.2 1 1.3 1 2.6 1 1.7 1 2.4 1-1.3 1 0.9 1 0.6 1 0 1-2 1 2 1 0.9 1-0.1 1-0.6 1 0 1-1.3 1-0.4 1 1.7 1-0.2 1-0.6 1 0.4 1.1 0.8 1 1.2 1-1.5 1-0.6 1 0.8 1-0.7 1 1.4 1 1.1 1-2.4 1 0.1 1 0.5 1-1.4 1-0.3 1 0.9 1-0.8 1 0.9 1 1.1 1 0.2 1 0.9 1-4.1 1-0.7 1-6.2 1 2.8 1 4.1 1 1.1 1 0.3 1 0.7 1 0.6 1 1.7 1 0.7 1-1.9 1-2.2 1 0.7 1 0.1 1-0.2 1 1.6 1-0.3 1 0.4 1-0.1 1 1.2 1-1.5 1 1.2 1.1 0.4 1-3.1 1 1.8 1 0.5 1-1.5 1 0.4 1-0.5 1 1.1 1-1 1 0.4 1-1.6 1 1 1 1 1 0.1 1 0.2 1-1 1-0.5 1 0.5 1-1.7 1 2.2 1-1.2" stroke="#df0000"/>
<path d="M620.9 888.3l1.1-0.1 1 0.3 1 2.4 1-2.7 1 2.1 1 0.9 1-0.5 1-0.5 1-0.3 1-1.3 1-0.6 1 1.3 1-1.5 1-0.9 1 2.1 1 1.3 1 0.9 1-1.6 1 0.3 1 1.3 1 2 1-0.6 1-3.4 1 2.6 1 4.2 1-2.3 1 0.8 1-2.5 1.1 1.2 1-1.1 1-1.2 1 2.2 1-0.7 1-1.6 1-1.4 1-1.9 1 2.2 1-1.6 1 4.2 1-0.8 1 1.1 1-2.7 1 1.7 1-0.7 1 0.6 1 0.1 1 1 1 1.2 1-2.4 1 1.7 1-2.7 1 1.1 1 0.8 1-1.4 1 1.2 1.1-0.6 1 0.9 1 0 1 1.7 1-1.6 1-2.6 1-0.1 1 0.4 1 2.9 1-1.6 1-1.6 1 0.8 1 0.6 1 2 1-0.7 1 2.4 1 0.6 1-1.9 1-0.1 1 1.1 1-0.7 1 0.4 1-1.7 1 2 1-1.4 1-2.7 1 0.7 1 0.2 1.1-1 1 2.2 1 0.3 1-0.9 1-1.6 1 1 1 1 1 1 1-0.3 1-0.2 1 1.8 1 0.1 1-0.6 1 1.3 1-1.2 1-1.1 1 1.5 1 1.4 1-2 1 0.2 1-0.3 1 1.4 1-1 1 0 1-0.7 1-2.3 1 0.7 1.1-0.3 1-1.2 1 2.1 1 0.6 1-0.6 1 0.2 1 0.1 1 0.5 1-3 1 2.2 1 0.2 1-2.6 1-0.6 1 3.1 1 0.6 1 0.5 1-1.5 1-0.1 1 1.8 1-0.6 1-0.2 1-1 1 1 1 0.7 1-0.7 1-1.8 1 0.8 1 2.8 1.1-2.1 1-0.5 1 1.2 1 0.6 1 0.2 1 0.6 1-2.9 1 1.3 1-1.1 1-0.7 1 0.5 1 0.6 1-3.3 1 1.3 1-0.9 1 3.8 1-1.7 1-0.6 1-3.7 1 0 1 1.2 1-1.8 1 4.2 1-0.3 1 0.3 1 2.1 1-1.2 1.1-1.4 1 1.4 1 0.1 1 0 1 1.2 1 1.2 1-1.5 1 1.5 1-1.4 1-0.4 1 2 1 0.9 1 1.2 1-1.1 1-0.5 1-1.6 1-0.6 1 0.2 1-1 1 1.9 1-0.4 1 0 1-1.8 1-0.7 1 1.3 1 1.1 1 1.2 1 1.2 1.1-1.6 1-2.1 1 0.6 1 0.2 1-1.5 1-0.1 1-0.3 1-1.6 1 1.7 1-0.7 1 0.1 1 2.9 1-1.3 1 0.5 1 1.1 1-1.7 1-0.5 1 0.8 1-0.2 1 1.1" stroke="#bf0000"/>
<path d="M1034.9 891.3l1 2.7 1-1.9 1 1.3 1.1 0.6 1 0.6 1-2.1 1-1 1 2.5 1 0.4 1-0.9 1-0.8 1-0.1 1 1.7 1.1 0.1 1 0.1 1 1.8 1-1.9 1-0.3 1-0.3 1 1.7 1-1.6 1 1.5 1 1.7 1.1-3 1 1.1 1-3 1 0.5 1 0.2 1 0 1 0.1 1 0.7 1 1.2 1.1-2.6 1 1.9 1 0.6 1 0.9 1-3.2 1 2.7 1-1.7 1 0.9 1 0.6 1-4.5 1.1 2.4 1 1 1 0.4 1 1.5 1-0.4 1-11.4 1-1.5 1 11 1-1 1 2.2 1.1 1 1-1 1-1.4 1 0.4 1-0.2 1-0.8 1 0.3 1 2.4 1-1.5 1 0.7 1.1-1.3 1-0.7 1-0.8 1 1.2 1-1.4 1 1.6 1-1.1 1 2.4 1 1.3 1.1 1.3 1-1.6 1-0.9 1 0.5 1-2.1 1 0.4 1 1.5 1-0.2 1 1.4 1-0.4 1.1-0.3 1 0.6 1-2.2 1 1.6 1-0.7 1 0 1-0.5" stroke="#bf0000"/>
<path d="M210.0 895.3l1-2 1 3.1 1-2.3 1 2.4 1-0.3 1 0.3 1-3.6 1-1.4 1 2.8 1-1 1 2.1 1 1 1-0.4 1-2.8 1-0.7 1-0.6 1 3.4 1-2.6 1-0.7 1 0.6 1-0.9 1 2.1 1-1.4 1 2.1 1 0.8 1-0.8 1.1 0.2 1-1.5 1 0.3 1 1.7 1-0.9 1 0.3 1 2 1-1.3 1-1.3 1-3.1 1 2.1 1-1.5 1 1.4 1 3.5 1-1.4 1-1.7 1 0.3 1 3 1-1.5 1-2.8 1 2.4 1-1.5 1 1.7 1-3.7 1-3 1-1.4 1-1.5 1 8.7 1 1.1 1-0.2 1-1.3 1-1 1 0.3 1-0.9 1 1.3 1 1.8 1 0 1 0.3 1.1-1.2 1-0.1 1-1.4 1-0.9 1 0.5 1 3.1 1-1.3 1 1.4 1 1.6 1-2.6 1 1.7 1-2.8 1-0.4 1 2.8 1-3.7 1-1.1 1 1.3 1-1.4 1 4.4 1-2.5 1 3.8 1-1 1-1.9 1 2.6 1-0.1 1 1.1 1 0.1 1-1 1-4.5 1-3.1 1 6.3 1-1 1-0.4 1-2.9 1 0.6 1 2 1-1.4 1 3.1 1.1-1.7 1 1 1-0.5 1 1.5 1-2.6 1-0.1 1-1.7 1 3.8 1 0.1 1-0.4 1 1.8 1 1 1-2.7 1-0.1 1-1.4 1 2 1-0.6 1 1.9 1-0.9 1-1.5 1 1.9 1-2.6 1 1 1 1.4 1-0.5 1-3 1 0.1 1-1.1 1-0.8 1 2.1 1 0.8 1 2.1 1-1.9 1-1 1 4.8 1-4.4 1 4.8 1-1.4 1.1-1.8 1-0.8 1-1.2 1 0.8 1-0.1 1 1.6 1-1.5 1-1.3 1 1.4 1 0.4 1-1.6 1-1.2 1 0.5 1 1.3 1 1.3 1 1.7 1 0.4 1 0.1 1 2.8 1-2 1-5.1 1 0.9 1 1.2 1 1.1 1 2.3 1-6.9 1-1 1 7.4 1-1.6 1-0.8 1 1.2 1 0.7 1-3.9 1 1.7 1 1 1 1.5 1-0.3 1 0.2 1.1-1.2 1-0.3 1-1.6 1 4.2 1-0.9 1 0.1 1 0.5 1 1 1-1.5 1-1.3 1-0.6 1-1.8 1 2.3 1 1.4 1-2.2 1 3.7 1-4 1-0.7 1 2.3 1-2.4 1 2.2 1-0.9 1-3 1-0.2 1-0.2 1 5.5 1-3.8 1 1.8 1-0.5 1 0.3 1-0.9 1-0.2 1 0 1 1.3 1-1.5 1-0.5 1-3.3 1 3.5 1.1-0.7 1 5.1 1-1.8 1 1.6 1-2.4 1 0.2 1-3.3 1 3 1-3.6 1 1.3 1-0.1 1 3.4 1-0.9 1-0.2 1-1 1 0.7 1-0.4 1-0.1 1 1.4 1 0.3 1-1.8 1 0.7 1-4.8 1 1.3 1-3.3 1 0.2 1 3.4 1 0.7 1 3.2 1-1.7 1-2.9 1 1 1 0.4 1 3.7 1-2.3 1 0.4 1 1.4 1 0.5 1.1-0.1 1 0.3 1-0.6 1-1.1 1-3.9 1-1 1-1.6 1-3.1 1 1.6 1 0.9 1 1.4 1 1.8 1 0.9 1-2.5 1-12.7 1 3.8 1 14.4" stroke="#9f0000"/>
<path d="M190.0 892.8l1.1 0.3 1-0.6 1.1 2.4 1-1.8 1.1 0.1 1 2 1.1-0.4 1-1.1 1.1 1.1 1-4.2 1.1 2.7 1-0.6 1.1-1.2 1 2.5 1.1 0.4 1 1.4 1.1-1 1 0.4 1.1 0.2M213.0 896.8l1-0.4 1 0.1 1-0.4 1 0.3 1-0.8 1 1.5 1 1.6 1-4.4 1-0.4 1 1.3 1-0.1 1 1 1.1-1.4 1 1.5 1-0.8 1-3.9 1 1 1 0.8 1 1 1 1.1 1-2.8 1 1.9 1 1.1 1 0.6 1-3.2 1 1.2 1 0.5 1-2.2 1.1 0.1 1 1.9 1-0.6 1 1.2 1-0.5 1 2.4 1-0.4 1 1.6 1-2.5 1 1.2 1-3.4 1 0 1-1.7 1 2.3 1 0.7 1-2.2 1 4.1 1.1-1.4 1-0.8 1-0.1 1 0.3 1-1.1 1 0.8 1 1.9 1-2.1 1 0.7 1-0.5 1 0.2 1 1 1-2.1 1 0.9 1 0.5 1-2.4 1 0.3 1.1 0.4 1 0.8 1 1.3 1-0.4 1-1.2 1 0 1 0.4 1 4 1 0.1 1-2.3 1 0.8 1-1.9 1-2.1 1 1 1 3 1-0.6 1.1-0.2 1-1.8 1 1.8 1 0.8 1-2.3 1 1.3 1-2.2 1-1.3 1 0.8 1 1.8 1-0.4 1 0.3 1 2.1 1-1.6 1-1.5 1 1.5 1-1.7 1.1 0.7 1-0.8 1 0.8 1-0.4 1 2.7 1 0 1-0.4 1-2.5 1 1.5 1-1.3 1-3.1 1 4.4 1-2 1-3.3 1 0.9 1-3.1 1.1 0.5 1-2.6 1 1 1 3.9 1-3.8 1 2.3 1 2 1 0.4 1-4.5 1 2.6 1-3.2 1-0.9 1-6.3 1 6.6 1 2.2 1-3.7 1-3 1.1-0.4 1-5.4 1 4.9 1-2.3 1-1.5 1 1.4 1 0.9 1-3.7 1 6.7 1-0.7 1 9.3 1 0.7 1-9.4" stroke="#800000"/>
<path d="M1585.7 895.9l1-0.1 1-1.6 1 0.3 1 0.1 1 1.6 1.1-1 1 0.2 1-1.8 1 1.8 1 0.6 1-1.4 1 3.4 1-3.2 1 0.7 1 0.5 1-2 1 1.8 1-0.3 1 1 1-3.2 1 2.9 1-2.9 1 2.1 1-0.8 1 4 1-4 1-0.1 1 0.3 1-0.8 1 2.2 1 0.5 1.1-1.4 1 1 1-2.2 1 0.2 1-0.6 1 3.1 1-2.4 1 1.4 1-1 1 1.9 1-0.8 1-0.6 1-1.4 1 0.7 1 2 1-0.3 1 1.6 1-1.3 1-1.9 1-0.1 1 0.5 1-0.5 1-0.2 1-0.2 1-0.5 1-0.2 1-0.5 1.1 3.1 1-0.8 1-0.2 1-0.5 1-1 1-0.3 1 1.2 1-1.9 1 0.8 1-0.8 1 2 1 1.1 1 0.3 1-1 1 0.6 1 1.3 1-2.5 1-1.8 1-1.6 1 4.1 1-1.3 1 0.6 1 0 1 0.2 1-0.8 1 1 1-1.3 1.1 0.4 1-1.3 1 0.7 1-3.1 1 0.8 1-1.9 1 0.1 1 2.4 1 1.4 1 2.5 1 0.6 1 0.1 1 1.2 1-1.5 1-0.5 1-0.1 1 0.2 1 1.4 1-1.6 1-0.8 1 0.7 1-0.9 1 2.2 1-1.2 1-2.2 1 1.5 1.1 0.2 1-0.6 1 0.7 1-0.8 1 1.1 1 0.1 1 0.7 1-1.1 1-0.8 1 1.8 1-0.4 1 0.6 1-1.6 1 0.1" stroke="#800000"/>
</g>
<g fill="none" stroke-width="3.9" stroke-linejoin="round" stroke-linecap="round" clip-path="url(#c3)">
<path d="M441.7 1136.3l1 0.4 1-1.6 1 1.6 1 0.7 1 0.4 1 1.1 1 1.6 1-1.8 1 0.8 1-2.7 1-2.4 1 3.6 1 0.6 1-6.1 1 1.2 1 3.8 1 0.7 1 0.2 1 1.9 1-0.8 1-0.7 1 0.6 1 0.9 1-1.2 1 1.4 1-6.4 1 5.6 1-2.7 1 3.4 1-5.8 1 4.7 1-1 1-3.1 1 0.9 1 2.3 1-0.4 1-0.2 1-1.6 1 4.5 1 0.8 1-1 1 0.9 1-2.1 1.1 1.6 1-2.4 1 4.8 1-2.3 1-3.1 1 1.2 1-0.5 1-1.7 1 2.9 1 0.6 1 0.9 1-3.1 1-2.6 1 1.9 1 4.6 1-4.2 1-1.4 1 3.4 1 0.2 1-0.7 1 1 1-0.4 1 0.5 1 1.6 1-1.6 1-1.3 1 4.2 1-0.6 1-0.6 1 0.9 1-3.4 1-0.1 1 0.2 1 0.2 1 1.4 1 1 1-1.8 1-1.4 1 5.3 1-2.9 1 2.6 1-2.3 1 3.3 1 1.3 1 0.8 1 0.1 1-1.3 1 3.2 1-2.1 1 0.2 1-5.5 1 2.1 1-0.4 1-1.9 1 2.1 1 0.1 1-0.1 1 1.1 1 3.5 1-1.2 1-0.3 1 2.8 1-3.1 1 2.1 1-4.6 1-0.7 1 1.9 1-3.2 1-0.1 1-0.9 1 0.7 1-0.1 1 3.1 1-4.1 1 2.7 1-2.1 1 0.4 1 3 1 0.9 1 1.9 1-2.3 1 0.8 1-2.1 1 3.4 1-3.2 1 0.4 1-3.5 1 2.8 1-1.9 1 4.4 1-5.1 1-1.4 1 0.5 1 0.6 1 2.3 1 2.7 1-2.1 1-1.6 1-5.3 1 7.5 1 0.1 1-3.6 1 2.7 1 0.9 1 2.3 1-2.1 1 4.8 1-3.2 1-4 1 0.9 1 1.7 1 0.5 1-2.1 1 0.4 1 1.6 1-0.6 1-2.7 1-5.1 1 7.9 1 2 1 0.5 1-4.4 1 2 1-2.5 1-0.2 1 1.6 1 0.2 1-0.2 1-0.5 1 0.7 1-1.1 1 1.6 1-0.8 1 0.6 1 1.3 1-0.7 1 2 1-1 1-2.7 1 1.4 1-5 1 4.4 1-0.5 1-1.3 1 2.6 1-0.7 1-1.5 1 0.1 1 2.9 1-0.5 1-2 1 0.5 1 3.2 1-1.1 1-2.4 1-4.3 1 0.3 1 3.9 1 1.4 1-1 1 0 1-0.8 1 2.8 1 0 1 0.2 1 0.7 1-1 1-1.7 1-1.3 1 2.7 1 0 1 1.5 1-0.6 1 0.4 1-1.5 1-0.2 1 1.3 1-0.8 1 0.2 1-0.4 1-0.8 1 3.1 1-2.6 1-1 1 0.6 1-0.4 1-1.9 1 1.7 1-2 1 3.1 1-0.2 1-1.1 1 1.8 1-2.3 1 0 1 3.3 1-3.8 1 1.9 1-2.5 1 4.5 1 1 1-0.6 1-0.9 1 2.1 1 1.4 1-4.2 1-1 1-0.2 1-0.5 1-0.6 1-0.2 1-0.7 1-3.5 1-1.2 1 2.8 1 5.3 1 0.5 1-1.6 1-0.4 1 0.4 1 0.6 1-1.4 1 2.1 1-1.5 1 2.5 1 0.2 1-3 1 1.6 1-1.2 1-5.9 1 4.2 1 2.8 1-0.7 1 0.6 1 1.1 1 0.9 1-0.1 1-1.2 1-0.7 1 0 1 1 1 0.6 1-3.6 1 3.4" stroke="#00009f"/>
<path d="M1033.9 1147.2l1 0.1 1-0.3 1 0.1 1-0.7 1-0.5 1 0.8 1 0 1 2 1 0.2 1-2.1 1-0.7 1 0.2 1-0.9 1 2.6 1 1 1.1-3 1-1.3 1 0.7 1-1.3 1 0.8 1-1.1 1-1 1 3.3 1 1.2 1-1.6 1 0.7 1-0.9 1-1.3 1 2 1-1.8 1 2.4 1-2.2 1 1.5 1 0.9 1-0.2 1-0.4 1 1.6 1 0.1 1 1.8 1-0.1 1-0.3 1-1.9 1 1.1 1-1.9 1-2.3 1 0.4 1 0.5 1 0.9 1-0.6 1-2.8 1 3 1-0.1 1-1.6 1-3.3 1-0.7 1 1.1 1.1 3.9 1-1.1 1 0.2 1-0.2 1 0.9 1 1.3 1 0.4 1 1 1-1.8 1-1 1 0.3 1 1 1-2.7 1 3.3 1 0.5 1-0.5 1 0.2 1-1.4 1 2.9 1-2.7 1 0.9 1-0.4 1-0.7 1 0.4 1-1.6 1-0.5 1 1.3 1-1.2 1 1.1 1-3 1 2.9 1 2.1 1 1.2 1 0.5 1-1.5 1-0.3 1-1.6 1 1.6 1-2.1 1 3.5 1 0.3 1.1-0.5 1-1.6 1-2 1 1.6 1-0.3 1-0.8 1 1.7 1-0.1 1 0.4 1 1.5 1 0.8 1-3.2 1 1.5 1-2.6 1 0.3 1 3.2 1-1.3 1 0.2 1-1.8 1 1.1 1 1.3 1-3 1 2.8 1-4 1 1.5 1 0.2 1-1.1 1 1.2 1 0.1 1 1.5 1-0.1 1-1.3 1 1.4 1-1.6 1 0.9 1 0.3 1-1.7 1 0 1-2.5 1 5.5 1-4.5 1.1-1.1 1 1.5 1-0.6 1 0.9 1-2.8 1-0.1 1 0.5 1 1.7 1-0.1 1 0.5 1 1.9 1-1.5 1-1.5 1 1.4 1 1.9 1-4 1 2 1 1.5 1-0.1 1-0.1 1-2.4 1 1.9 1-1.3 1-0.2 1-0.4 1-0.4 1 0.7 1 3.4 1-3.4 1 2.5 1-1.3 1-0.3 1-2.2 1 1.2 1-2.3 1 2.7 1 1.1 1 1.2 1-1.8 1-0.4 1 1.4 1.1-1.2 1 5 1-3.2 1-0.6 1 2 1 0.7 1-1.4 1-3.7 1 1.2 1 2.1 1-1 1-1.2 1 1 1 0.3 1 1.6 1-0.6 1 0.4 1 0 1 1 1-3.6 1 0.5 1 0.5 1-0.2 1-0.9 1-0.9 1 1.4 1 0.6 1 0.5 1 1 1-1.4 1 0.6 1 1.5 1-3.2 1-1.3 1 0.3 1 1.6 1 0.2 1 2.3 1-0.1 1-2.8 1-1 1.1 3.3 1 0.5 1 2.2 1-0.9 1-3.1 1 1.9 1-1.7 1-2 1 0.6 1-0.1 1 0.7 1 3.5 1-1 1 1.3 1-1.9 1-0.2 1-2.1 1-0.1 1 0.7 1-1.5 1 3.4 1 1.9 1-1.4 1-0.5 1-1.6 1 0.6 1-2.2 1 1.3 1 3.6 1-1 1-0.1 1-0.6 1 0.1 1 1 1-0.7 1 0.4 1 0.5 1-0.7 1-2.1 1 0.7 1 0.2 1.1 2.1 1-1.8 1 0 1-0.7 1 0.8 1-0.7 1-0.1 1-0.9 1 3 1 0.5 1 0.5 1-2.5 1-0.4 1-0.8 1 0.7 1 1.9 1 0 1-1.4 1-0.8 1-8.8 1 1.5 1 8.5 1 0.2 1 0.2 1 1.2" stroke="#0000bf"/>
<path d="M556.6 1143.4l1 1.2 1 3.7 1-5 1-0.7 1 1.3 1 1.5 1-4.3 1 0.7 1 2.3 1 4.7 1-1.8 1 1.4 1-3.9 1-3.6 1 2 1 2.1 1-1.5 1-6.1 1.1-2.9 1-1.8 1 2.7 1 0.4 1 2.5 1 6.4 1-2.6 1 3.4 1-3.2 1-2 1 2.9 1-3.3 1 2.2 1-1.4 1 1.6 1-5.1 1-1.6 1 4 1 4.8 1 0.1 1-0.2 1 1.5 1-0.4 1-0.8 1-0.5 1 2.3 1-4.3 1 2.4 1-2 1-0.9 1 1 1-2.6 1 0.1 1 3.1 1-2.1 1 3.1 1-3.7 1-0.5 1 4 1 3.7 1-3.2 1 2.1 1 1 1-1.7 1 2.3 1-1.5 1 1.9 1 0.4 1-0.6 1-2.7 1 0.9 1.1 3.3 1 0.5 1-1.1 1-1.5 1-0.7 1-1 1-1.7 1 2.7 1 0.9 1 2.2 1-0.6 1 2.6 1-0.9 1-0.3 1-2.6 1-0.1 1 1.6 1 0.2 1 0.5 1-1.8 1 0.6 1-4.9 1 3.3 1 0.3 1 2.7 1-3.8 1-0.2 1 1.5 1-0.9 1-0.9 1-1.2 1-0.2 1 2.3 1-1.1 1-0.1 1 1.3 1-1.5 1 3.5 1-1.2 1-0.5 1 0 1 1.6 1-0.6 1-1.8 1 1 1-2.3 1 1.6 1-1.3 1 2.5 1 0.4 1-3.3 1 0 1.1 3.1 1-1.9 1 0.2 1 0 1 0.8 1-2.8 1-5 1 0 1 3.7 1 2.9 1-0.9 1 1.9 1-0.7 1-1.3 1-1.1 1 3.7 1-1 1-1.9 1-2.4 1 1.3 1-0.2 1 2 1-0.5 1-1.9 1-0.5 1 2.5 1-0.6 1 2.4 1-1.9 1 0.8 1-0.1 1 0.7 1 0.9 1 0.3 1-2.7 1 2.4 1-1.2 1-4 1 1.9 1-0.6 1-0.3 1 1.3 1-0.5 1 3.6 1-1 1-3.6 1 1.2 1 0.4 1 0 1-1.2 1 4.7 1-2.4 1.1 1.3 1 1.4 1-0.8 1 0 1-0.9 1-2.3 1 1.6 1 1.8 1 1.2 1-1.1 1 0.7 1-1.1 1-1.5 1-0.2 1 1.6 1-0.1 1-2.2 1 1.8 1-1.9 1 3.6 1-3.6 1-0.9 1 1.1 1-2.2 1 3.4 1 0.1 1-0.4 1-1.6 1 0.2 1-0.2 1 0.5 1 2.8 1-2.1 1-0.3 1-2.6 1 2.1 1 0.1 1 3 1-2.6 1 0.6 1-2.1 1 1.1 1-0.7 1 1.8 1-0.4 1 1.2 1-2.6 1 0 1-1.7 1 0.3 1 0.5 1.1-0.8 1 0.3 1 1.1 1 1.4 1-1.3 1 1.4 1-0.7 1 0.5 1-0.9 1 0.7 1-2.2 1 5.6 1-6.1 1 4.1 1-1.8 1 1.1 1-3.4 1 2.8 1 1.9 1-1.5 1 0.5 1-0.8 1-2.1 1-4.4 1 3 1 0 1-5.2 1 7.5 1 1 1 2.6 1-2.5 1-1.1 1 3.8 1-1.1 1 0.7 1-3 1-3.6 1-3.2 1 3.1 1 0.8 1-7.5 1 7.8 1 0.9" stroke="#0000df"/>
<path d="M913.6 1145.9l1-1.7 1 0.5 1 1.4 1-0.6 1-3.5 1 1.5 1 0.4 1 1.3 1-1.2 1 1.7 1-2.2 1 1.6 1 0.9 1-2 1 2.7 1-3.6 1-1.2 1 2 1 2.8 1-0.2 1 1.4 1-5 1 2.7 1-0.5 1-1 1 1.1 1-1.6 1-1.3 1 2.4 1-2.3 1-3.6 1-0.5 1.1 3.5 1 2.1 1 3.5 1-3.6 1 1.9 1-3.6 1 1.9 1 0.5 1-1 1-0.1 1 0.9 1 1.7 1-1.7 1 1.3 1-0.3 1-0.9 1 3.7 1-0.7 1-0.2 1 0.4 1-2.5 1-3.1 1 0.2 1 3.3 1-1.3 1-1 1 1.1 1 0.5 1-1.6 1 0.9 1-1.2 1 1.9 1-2.9 1 1.8 1-0.4 1 0.2 1 2 1 0.8 1-2.1 1 0.7 1-2 1 4.5 1-2.5 1 0.2 1 2 1-2 1 0.7 1 0.8 1-0.7 1-1.5 1-0.3 1-0.6 1 0.1 1-1 1 0.9 1-3.6 1 0.2 1 1 1 2.2 1 0.6 1-1.9 1-1.9 1 1.6 1 3.1 1 0.7 1-0.4 1-0.6 1-1.2 1-3.4 1 5.3 1-1.5 1-0.8 1 2.6 1-1.9 1 0.8 1-0.9 1-1.3 1-1.5 1 3.4 1 0.7 1 0.2 1-0.9 1-3.5 1 1.9 1 0.6 1 0.8 1 2 1-0.6 1-1.6 1-0.6 1 1.1 1-0.4 1 0.5 1 0.7 1 0.7 1 0.8 1 1.1 1-2.8 1-1.1 1 0.6 1 0.9 1-1 1-1.4 1 4.1 1-1.6 1-0.7 1 3.2 1-0.5 1 0.5 1 1 1-2 1 0.1 1-2.9 1 1.9 1-2.9 1 0.6 1-1.1 1 3.3 1-0.2 1 1.4 1-1 1-1.6 1 1.3 1-3.2 1-2.7 1 0.4 1 4.1 1 0.2 1 1.6 1 0.9 1 3 1 0.1 1-0.8 1-2.1 1-1.7 1 1.7 1-0.5 1-0.1 1 0.3 1-1.7 1 2.5 1-2.7 1 0.6 1 0.1 1-1.3 1-1.7 1 2.3 1 0.6 1-0.1 1-0.2 1-0.9 1 2.4 1 0 1 0.4 1-1.9 1 2 1-1.3 1-1.7 1 1.3 1 2.1 1-1.7 1 1.2 1-1.1 1 0.3 1 1.7 1-1.7 1 1.2 1-1.7 1 2.5 1-3.9 1 1.6 1-0.5 1-2.4 1-0.5 1 1.9 1 2.3 1-1.9 1 0.3 1 0.5 1-1.3 1 1.4 1-0.8 1 1.6 1-2 1 0.3 1-1.5 1 0 1 0.9 1 3.3 1-2.7 1 1.2 1-3.3 1 1.8 1 1.8 1-0.7 1-1.7 1 0.9 1-0.5 1 1.2 1-1.9 1-0.7 1 1.3 1-0.2 1 0.4 1 0.1 1-0.5 1-2 1 1.1 1 1.4 1-1.2 1 1.7 1-2 1 2.6 1-2.1 1 2.1 1-1.7 1 0.1 1 0 1 0.2 1 2 1-0.8 1 0.7 1 1.1 1 0.8 1 0.9 1-3.4 1 0.6 1-2.6 1 3.8 1 2.5 1-1.1 1-1.8 1-1.3 1-2.2 1 4.6 1 1.1 1-1.5 1 1.2 1-1.8 1 0.4 1-0.5 1-1.5 1 4 1-0.1 1-0.4 1-1.7 1 1.4 1-1 1 1.8 1 0.6 1-4.3 1-1M1201.7 1148.3l1.1-1.7 1 1.8 1 0.7 1 0.2 1.1-2.7 1 2.6 1-2.2 1 2.2 1.1-0.3 1-0.7 1-0.5 1-1.3 1.1 0.4 1-0.9 1 2.5 1.1 1.4 1-1.4 1 1.5 1-4.3 1.1 0.1 1-1.2 1 2.2 1-1.2 1.1 2.2 1 0.1 1 2.2 1-3.9 1.1 0.5 1-0.2 1 0.8 1-1.4 1.1-2.7 1 3.6 1-4.3 1 0.5 1.1 0.3 1 0.3M1243.7 1147.4l1 1 1-1.6 1-4 1 0.8 1 1.7 1 1.8 1-1.6 1-0.2 1 1 1-2 1 1.1 1 1.1 1 0.3 1 3.8 1-2.5 1-1.4 1-0.8 1-0.9 1 2 1-1.3 1 0.7 1-1.7 1-1.7 1 1.8 1 1 1 1.9 1-3.1 1-0.2 1 0.3 1 0 1-0.4 1 1.5 1-3.5 1 4.4 1-1.9 1 1 1-0.1 1-1.3 1-0.1 1.1 0.3 1 0.8 1 2.5 1-2.5 1 1.8 1-3.3 1-1.1 1 3.2 1-2.7 1 1.6 1-1.4 1-0.3 1-1 1 2.9 1 1.2 1-1.6 1 0.3 1 0.9 1-1.4 1-1.2 1-1.5 1-1.4 1 1 1 0.9 1 0.2 1-0.3 1 3.3 1 0.7 1-2.9 1-0.8 1 0.3 1 1.8 1 2.3 1-1.4 1-2.5 1 1.8 1 1.3 1 0.5 1-2.9 1 0.7 1 0.9 1 1 1 0 1-1.1 1-1.2 1 2.4 1-0.4 1-1.7 1-2.2 1 2.3 1-0.8 1-0.5 1-1.1 1 1.1 1-0.8 1 1.9 1-0.5 1 1.1 1-1.3 1 0.5 1 1.7 1 0.1 1-2.8 1 0.9 1-0.1 1 0.2 1.1-1.5 1 1.2 1-1.3 1 1.6 1-1.3 1 0.5 1 0.4 1-2.6 1 1.4 1 0.3 1 1 1-2.2 1-0.1 1 2.6 1-0.3 1 0.1 1 0.8 1-0.5 1 1 1-4.1 1-2 1 2.3 1 2.6 1 1.9 1-2.8 1 2.1 1 1.8 1-2 1 1.4 1-1 1 1.8 1-3.8 1 2.1 1 0.4 1 1.5 1-1.2 1 0.1 1-1.2 1-1 1-0.4 1-0.6 1 0.1 1 0.1 1 0.6 1 1.5 1-0.6 1-0.2 1 0.5 1-1.3 1 1.5 1-2.1" stroke="#0020ff"/>
<path d="M961.0 1152.1l1-1.2 1-3.1 1 0.2 1 1.6 1-3.8 1 2.6 1-1.7 1-0.5 1-1.6 1 1.7 1 0.2 1-0.7 1 2.4 1 1.1 1-0.4 1 1.1 1-0.2 1 1.9 1-3.2 1-2.1 1 0.4 1 0 1.1 2 1-1.7 1 0 1-0.7 1 5.2 1-1.7 1 1.6 1-3.2 1 2 1 0.9 1-1.9 1 2.1 1-18.3 1 16.9 1-2.4 1 0.5 1-3.9 1-1 1 3.9 1-0.2 1 0.1 1-1.4 1 1.3 1 0.8 1-0.3 1-2.7 1 1.5 1 0.2 1-0.9 1 0.6 1-1.3 1 3.5 1-2.5 1 2 1-1.7 1-0.2 1-1.3 1.1-0.5 1 2.1 1-0.3 1-4.7 1-2.8 1 7.3 1 1.2 1-1.5 1-0.8 1 1.4 1 0.3 1 2.2 1 1.3 1-3.3 1-0.8 1 0.5 1-3.2 1-2.5 1-1.2 1 2 1 1.2 1 1.4 1 3.5 1 1.7 1-1.4 1-2.8 1 0.1 1 0.2 1-1.6 1-0.2 1 3.8 1-1 1 1.2 1-3.1 1 1.6 1 0.3 1 1 1.1-0.6 1-1.2 1 2.7 1-1.2 1 2.1 1-1.9 1-1 1-0.6 1-0.8 1-0.1 1-2.7 1 4.1 1-0.3 1 2.1 1 1.1 1-0.5 1-2.5 1 3.3 1-0.6 1-0.3 1-1.1 1-1.9 1-0.1 1-5.6 1 3.6 1 5 1-0.3 1-0.3 1-2.6 1-1.5 1 3 1-3.5 1-1.4 1 0.8 1-1.1 1 5.8 1 1.6 1.1 0.8 1-0.9 1-1.1 1 1.2 1-1.4 1 0 1-0.1 1 0.3 1-0.9 1 3.3 1-3.1 1 0.9 1-3.7 1 1.5 1 2.7 1-0.5 1-0.3 1-2.1 1 1 1 0.2 1-1.3 1 2.4 1-0.3 1 2 1-4.3 1-0.9 1 0 1 0.1 1 0.3 1-0.2 1-0.2 1 0 1 1.2 1-0.8 1 0.7 1 1.7 1 0.5 1.1-0.9 1-1 1-3.4 1 2.2 1-1.2 1 1.2 1 2.2 1-2 1 0.5 1 0 1 0.6 1 1.8 1-0.3 1 1.1 1-2.6 1 1.4 1-1.1 1 1 1-0.9 1 0 1 2.4 1 3.6 1-0.2 1-2.3 1-1.8 1 0.7 1-0.3 1-2.1 1 2.4 1-2.9 1 0.8 1 1.5 1-0.8 1 0.2 1 2.9 1-4.1 1 0.9 1.1-0.1 1 2.3 1 0.3 1-1.8 1 2.1 1-2.6 1-0.1 1-0.1 1 2.1 1-3 1 3.6 1-2.6 1-0.7 1-0.5 1-0.4 1 0.8 1 1.4 1-0.4 1-1.7 1-1.4 1-0.5 1 1.8 1 1.3 1 0.4 1-0.3 1-2.4 1-1.1 1 1.2 1-0.1 1-0.8 1 1.2 1 0.9 1-1.4 1-0.6 1-1.3 1 3.2 1 0.4 1.1-1.4 1 2.7 1 1.5 1-1.3 1-2.4 1 0.6 1-1.2 1 3.9 1-1.1 1-2.3 1 0.3 1 0.1 1 1.1 1-2.7 1-0.6 1 3.4 1 0.6 1 1.9 1 1.6 1-5.2 1 0.5 1 1.2" stroke="#0040ff"/>
<path d="M523.6 1143.3l1-2.2 1 4.5 1.1-0.1 1 2 1-1.5 1-0.7 1 0.7 1-0.8 1 0.5 1 1 1-0.5 1-7.5 1 4 1 3.3 1-3.6 1 3.3 1-3.1 1 0.5 1 3.6 1-4.5 1-0.6 1-2.3 1-3.4 1 4.7 1 1.2 1-3.9 1 0.1 1-1.8 1 5.8 1 5 1-0.1 1-3.4 1-0.7 1 1.5 1-3.3 1 0.2 1 0.7 1 2.8 1-3.6 1 2.1 1 1.4 1-3.4 1 2.7 1 0.9 1 0.7 1-1.4 1 0 1-3.3 1 3.6 1-0.9 1 1.5 1-0.9 1 1.5 1-2.9 1 0.1 1 2.8 1-1.9 1 0.9 1-2.4 1-3.4 1 4.1 1 2.3 1-2.6 1-0.6 1-1.2 1 2.6 1 3.1 1 0.2 1-0.3 1-2.5 1 1.9 1-2.1 1-4 1-2.5 1 0.3 1 3.5 1 2.6 1 0.4 1 3.2 1-2.3 1 2.6 1 0.1 1-0.5 1-2.3 1-1.3 1 2.9 1-2.2 1 0.1 1-1.8 1 3 1-1.1 1 1 1-1.4 1 1.2 1 1.5 1-0.2 1-0.4 1-0.6 1-3.4 1 3.7 1-3.4 1 2 1 1.9 1-1.1 1 2 1 0.8 1 1 1 1.1 1-0.9 1 0.8 1-1.7 1-0.8 1 1.2 1 0.4 1 0.7 1-0.1 1-1.9 1-1.5 1 0 1 1.9 1-1.9 1 1.2 1-0.9 1 0.2 1 0.9 1 0.3 1-0.7 1 1.1 1 0.6 1-0.4 1-0.3 1-1.7 1-0.3 1 3.1 1-2.8 1 2 1-1.3 1-0.5 1-3.4 1-0.1 1-0.1 1-3 1 3.1 1 4.5 1 1.1 1-1.1 1 0.2 1-2 1 2.3 1-1.8 1 4.3 1-2.5 1-1.4 1 1.6 1-0.8 1 0.2 1 2.5 1-2.8 1 0.8 1-1.9 1-2.4 1 3.6 1-1.1 1 1.9 1-1.3 1-0.1 1 0 1-0.1 1 0.3 1 0.1 1-0.1 1 1.9 1 1.8 1 0.5 1-4.2 1 0.4 1 2.8 1 0.7 1-1.4 1-0.4 1-2.5 1 0.2 1 1.7 1-0.3 1 1.8 1-1.3 1-0.1 1-0.6 1-0.1 1-2.3 1-1.6 1 1.9 1 0.3 1 1.8 1 0.7 1 0.1 1 0.5 1-1.2 1-1.7 1 2.1 1-3.1 1 5.6 1-3.2 1-0.6 1-0.9 1 1.5 1-0.8 1 1.9 1-0.9 1-0.7 1-0.9 1.1 2.3 1-1 1-1.6 1-2 1-2 1-1.2 1-0.6 1-1.7 1 6.1 1-0.4 1 1 1 0.4 1-0.7 1 1.5 1 0.5 1 1.4 1-1.4 1 1.5 1 0.3 1-0.4 1-1.8 1 1.8 1 1.9 1-4.4 1 2.2 1-1.2 1-2.4 1 1.4 1 1.9 1-0.7 1 2 1-3.5 1 0.7 1-0.7 1 1.1 1 2.5 1-0.3 1-0.2 1-3.2 1-0.1 1 1.9 1-0.4 1 0.8 1-0.1 1-0.5 1-1.7 1 1.2 1-1.2 1 0.1 1-0.8" stroke="#0060ff"/>
<path d="M289.9 1149.1l1-1.6 1-1.1 1 1.2 1 1 1-0.1 1 0.3 1-3 1 1.8 1 0.6 1 0.8 1 0.5 1-0.2 1 1 1-1.7 1 0.6 1-0.9 1 0.1 1-3.1 1 0.4 1-1.3 1-1.2 1-4.3 1 1.8 1 1.7 1-1 1 0.9 1 3.1 1-3.1 1-1.3 1-1.8 1-1.2 1 3.7 1-4.6 1 1.6 1-2.7 1 6.1 1 2.1 1-0.8 1-6.5 1 1.2 1 1.7 1-4.2 1 5.4 1 3.8 1 1.8 1-6.1 1-2 1 1.8 1 2.2 1-3.3 1 1.3 1 2.6 1 0.1 1 2.8 1-2.1 1-1.4 1-9.9 1 4 1 3.8 1 0.7 1-0.3 1-6.6 1 1.7 1 2.2 1 4.9 1-7.3 1 7.2 1 0.2 1-1.9 1-3.6 1 3.6 1-1.7 1 2.2 1 3.1 1 2.3 1-1.1 1-3.2 1-1.5 1 1.9 1 1.3 1 2.3 1 0.4 1 0.9 1-4.7 1 1.5 1-5.4 1 1.9 1-5.6 1 0.3 1 3.3 1 0.3 1-3.2 1 2.7 1 5.1 1-1 1 1.5 1-2.1 1-4.7 1-7.3 1 6.2 1 3.2 1 3.3 1-0.1 1 2.4 1-1.1 1-0.5 1-1.9 1 4.2 1-7.3 1 5.9 1-4.7 1 4.9 1 2.4 1 0.1 1-2 1 1.8 1-4.5 1 3.5 1-0.8 1-1.4 1 6.7 1-6.9 1-1.5 1-0.6 1 1.4 1 2.1 1-1.5 1-2.4 1-0.6 1 1.2 1-1.1 1 1.9 1 2.1 1-0.2 1-5.2 1 2.8 1-0.1 1 0.5 1 0.2 1-1.4 1-0.8 1 5.1 1-0.9 1-0.5 1-0.1 1-1.3 1-1.6 1 3.3 1 0.2 1-3 1 0 1-2.8 1 3.6 1-4.4 1 5.5 1-1.7 1 0.4 1-1.5 1 3.3 1.1-2.4 1 1.8 1-3.5 1 1.2 1 0.1 1-3.6 1 1.9 1-2 1 7.2 1-5 1 2.2 1-3.6 1 0.5 1 1.7 1 0.7 1 3.9 1-2 1 4.2 1-2.7 1 3.2 1-3.8 1-1.9 1-0.8 1 0.1 1 0.6 1-4.9 1-0.3 1 4.4 1-1.8 1-1.2 1 4.3 1-2.9 1 4.7 1-0.2 1-1.5 1-2.6 1 1.4 1-2.7 1 5.4 1-3.2 1 0.1 1 1.4 1 0.8 1 0.5 1 0.7 1-4.5 1-12.4 1 11.1 1 9.9 1-0.1 1-2.5 1-0.4 1-2.4 1-1.8 1 2 1-1.3 1 3.4 1 0.2 1 0.4 1-0.7 1-4.8 1 2.2 1 1 1-2.8 1 0.3 1 0.5 1 6.5 1-0.7 1-0.1 1-0.7 1 4.5 1-1.5 1-6.4 1 4.8 1-1.5 1 0.9 1 0.6 1-0.8 1-4.4 1 0.5 1 0.8 1 4.8 1-0.1 1-0.6 1 1.1 1-7.3 1 1.6 1 0.9 1 1.5 1 3.1 1 0.1 1-1.9 1-2.5 1 1.8 1 1.1 1-1.9 1-2.8 1-1.1 1-0.7 1 3 1-2 1 1.3 1 3.5 1-1.3 1-1.4 1-0.1 1 1.7 1-3.2 1 3.2 1-1.8 1 1.6 1-0.6 1 1.4 1 0.5 1-1 1-2.7 1 1.6 1 1.6 1 3.8 1-1.6 1-1.8 1-2.3 1 2 1 1.2 1-0.7 1 1.8 1-0.4" stroke="#0080ff"/>
<path d="M761.4 1144.3l1 0.5 1 0.7 1-1.7 1 2.4 1-0.2 1-3.3 1 0.5 1 2.1 1-0.7 1-0.1 1 0.9 1-1.2 1 1.5 1-0.9 1-0.8 1-0.5 1 2.7 1 0 1-2.2 1 2.7 1-0.5 1 1.1 1-3 1 2.6 1 0.9 1-4.1 1 0 1-1.6 1-1.5 1 2.6 1 2.5 1-0.2 1-0.2 1-2.9 1 2.8 1-0.2 1 1.6 1-3.9 1 3.8 1 1.4 1-2.9 1 0.4 1 0.9 1 1.2 1 0.6 1-0.1 1-0.9 1-0.6 1 2.3 1-1.6 1-0.1 1-0.1 1-0.8 1-2.6 1 3.4 1-0.4 1 3.2 1-4.5 1-0.4 1-2.6 1 2.2 1 2.1 1-2.3 1 3.4 1-3.9 1 1.5 1-2.7 1-1.1 1-2.6 1 2.2 1 0.7 1 1.3 1 0.5 1-0.9 1 0 1 1.7 1-1 1 3.1 1 0.2 1-0.9 1 0.8 1-1.6 1.1 0 1 1.9 1 0.1 1-4 1-0.1 1 0.8 1 1.3 1-1 1 0.1 1-0.5 1 0.7 1-0.1 1 1.8 1-2.5 1 1.8 1-1.5 1 1.1 1 1.2 1 0.2 1-1.6 1 0 1-0.3 1-0.1 1-0.4 1 0.7 1 0.3 1-0.2 1-1.9 1 0.9 1 2.3 1 1 1-1.6 1 0.8 1-3.7 1 1.2 1 0.1 1 1.7 1 0.9 1 1.5 1-2.1 1-1.3 1 0.1 1 0.9 1 1.2 1-4 1 1.5 1 0.9 1 1 1 1.5 1-0.5 1-1.8 1-3 1 1.3 1-2.3 1 4.3 1 0.3 1 0.9 1 0.3 1 0.2 1-2.5 1 0.3 1 0.5 1 0 1 1 1-1.4 1-0.8 1-0.3 1 1.3 1 0.8 1-3.5 1 0.8 1 0.9 1 3.4 1-2.3 1 1.9 1-3 1 0.3 1 2.3 1-1 1-0.5 1 2 1-0.7 1-2.4 1-0.9 1-1.7 1 1.3 1 0.5 1-0.2 1 1.1 1-0.7 1-1.5 1 4.4 1 0.2 1-1.9 1-1.8 1-1.7 1 3.6 1-4.8 1 1.8 1 3.2 1 0.9 1-0.9 1-1 1-2.3 1 0.3 1 0.1 1-0.3 1 1.7 1 1.9 1-1.8 1 0.1 1-3.2 1 1.5 1 1.1 1-0.3 1-0.2 1 2.4 1-3.5 1 4.1 1-1 1-0.5 1 1.9 1-4.3 1 1.3 1-3.6 1-4.2 1 0.7 1 0.5 1 3.6 1 3.1 1-1.6 1 1.9 1 1.8 1-1.2 1-0.7 1 3 1-0.7 1 1 1-3.1 1 2.3 1-3.2 1 1.3 1-2.8 1 1.1 1 0.2 1 0.9 1-1.2 1 1.2 1 3.4 1-1.8 1 1.8 1-1.7 1-0.3 1-0.4 1 1 1-1.7" stroke="#009fff"/>
<path d="M190.0 1145.1l1 1 1-0.1 1.1-0.8 1 1 1-0.2 1-0.7 1.1-1.8 1-1.7 1 3 1 0.8 1.1 0.8 1 0.7 1-4.6 1-3.1 1.1 0.3 1 0.9 1 5.1 1-0.5 1.1 2.9 1 0.6 1-0.8 1 0.7 1.1-1 1-0.9 1 2.4 1-0.2 1.1-0.5 1-1.5 1 2.4 1-2.1 1.1 1.6 1-2 1 0 1 0.4 1.1-0.4 1 1.9 1-0.6 1-1.2 1.1-0.7" stroke="#00bfff"/>
<path d="M1472.3 1149.0l1-1 1 1.6 1-2.3 1 2.2 1-0.6 1 0.4 1-0.2 1 0.7 1-1.6 1-2.2 1 2.3 1 1.8 1 0.6 1-1.5 1-0.3 1-3.2 1 2.6 1 0.3 1 0.2 1-0.8 1 0.2 1-4.3 1-2.7 1 5.5 1 0.2 1.1 2.2 1 1.6 1-1.4 1 1 1-1.1 1-1 1 1.5 1-2.9 1-1.8 1-1.3 1 4.5 1 0.8 1 0.7 1-0.2 1-1.1 1 1.4 1-0.8 1 2.7 1-2.1 1-4 1 2.5 1-2 1 2.9 1 0.4 1 1.6 1.1-3.1 1 1.6 1 0.6 1-0.9 1-0.9 1 1.4 1 0.5 1-1.3 1 1.4 1 0.6 1-1.1 1-1.2 1 0.3 1 0.2 1 0.6 1-1.6 1 1.6 1 2.3 1-1.8 1-5 1 2.1 1-0.2 1 0.8 1 0.9 1 1 1.1-1.4 1 1.4 1 1.8 1-0.9 1-2.7 1 0.6 1-0.8 1 3.1 1-2.4 1 0.8 1-0.8 1-4.4 1-0.2 1-1.1 1 1.4 1 2.3 1-1.7 1 3 1-0.5 1-1.8 1 1.1 1 0.3 1 1.8 1-3.6 1 3.2 1.1 0.3 1 1.8 1-2.3 1 1.5 1-0.3 1-2 1 2.4 1-0.5 1-0.2 1-1.6 1 3 1 1.5 1-1.1 1-3 1-0.8 1 1.1 1-1.7 1 1.5 1 3.1 1-2.1 1-1.3 1-1 1 1.5 1-2.2 1 1.6 1.1-2.1 1 3.7 1 1 1 0.3 1-1.8 1 0.8 1-8.2 1 4.4 1 6.2 1-0.8 1-0.6 1-2.1 1-1 1 0.2 1 0.1 1 4.7 1-3 1 2.2 1-0.2 1-1.1 1-2.9 1 0.7 1-1.5 1-3.2 1 2.9 1.1-0.4 1 3 1 0.7 1 1.2 1-1.4 1 0.7 1-1.3 1 2.4 1-3.1 1 2.6 1-0.3 1-1.1 1 1.3 1-0.6 1 1.9 1 0.4 1-1.2 1 0.2 1-1.3 1-0.8 1-0.7 1 0.1 1 1.6 1-1.8 1-1 1.1 2.4 1-1.5 1-1 1 0.8 1 2.8 1-4.9 1-2 1 3.1 1 5.2 1-3 1 0.4 1 0 1-1.8 1-0.8 1 1.3 1-0.2 1 1.1 1-0.6 1 1.2 1-3.1 1-2.4 1 0.5 1 2.9 1 1.6 1-1.2 1.1 1 1 0.8 1-2.6 1 3.7 1 0 1-0.9 1-1 1-0.6 1-3.5 1 3.6 1-1.1 1 2.4 1-0.2 1-1.1 1-0.5 1 1 1-1.3 1-0.2 1 0.9 1-1.2 1 1.4 1-1.5 1 1.5 1 0.3 1 0.1 1.1 0.5 1 0.6 1-2.3 1 2 1-0.4 1 0 1-3.8 1 2.8 1 0.5 1 0.6 1-1.6 1 3.1 1-1.9" stroke="#00bfff"/>
<path d="M396.8 1137.4l1-0.9 1-0.8 1 1.3 1-1 1 0.1 1-0.7 1 3 1-2.3 1 4.6 1-1.9 1-1.5 1-0.9 1-0.4 1-0.6 1 3.5 1 2.6 1-2.2 1 0 1-1.3 1 0.4 1-0.6 1-1.6 1 1.7 1-1.2 1-1.6 1 4.3 1-3.3 1 2 1-1.4 1-0.4 1 3.8 1 0.7 1 0 1 5.9 1-8.7 1 3.2 1 0.3 1-0.2 1 0.7 1 5 1 0.7 1-5.2 1-1 1-2.5 1 7 1 1.3 1-4.3 1 1.2 1-2.4 1 1.7 1-1.5 1-3.5 1 2.3 1 4.5 1 2.3 1 1.5 1-6.9 1 0.9 1-1 1 4.6 1-4.8 1 4.9 1-4.3 1-0.9 1 1.1 1 0 1 0.6 1 1.2 1-0.3 1-2.1 1-0.3 1 2 1-2.1 1-1.3 1 3.2 1-1.5 1 0.9 1-2.1 1 2.3 1 2.5 1-1.8 1 2.7 1 0.5 1-2.6 1-1.2 1-2.9 1-2.4 1 1.7 1 3.7 1 4 1-0.8 1-2.3 1 0.9 1-2.1 1-2.8 1-0.2 1 0.4 1-1.1 1 6.6 1 1.1 1-4.1 1-2.5 1 2.1 1-3.3 1 2 1 1.2 1 0 1-4.2 1-0.1 1 3.4 1-2.2 1 4.7 1-2.2 1-5.6 1-0.8 1 4.7 1 2.2 1-2.6 1-0.6 1 0.9 1-1 1 2.7 1 0 1-0.7 1-4.2 1 0.2 1 4.3 1 3.2 1-4.3 1 2.7 1-1.8 1-0.2 1 3.9 1-1.5 1 0.7 1 2.7 1-4.6 1-2.3 1-0.8 1 4.9 1-2.9 1 1.8 1-2.5 1 2.1 1-1.8 1 6.2 1-0.6 1-1.2 1-0.1 1 0.3 1 2.1 1 0.4 1 0 1-2.3 1-2.3 1-1.9 1 3.7 1-0.1 1-1.7 1 0.7 1 5.3 1-5.3 1-0.2 1-0.7 1 2.1 1 3.4 1-1.2 1-5.6 1 1.5 1-2 1 1.3 1-1.2 1 3.1 1 1.6 1-3.1 1-0.9 1-0.1 1 2.6 1-2.2 1 3.1 1 2.1 1-0.4 1 0.1 1-2.4 1-0.4 1 2.1 1-1.9 1 1 1 0.3 1 1.3 1-2.4 1-1.9 1-1.1 1 1.8 1-2.2 1 4.6 1 1.2 1-0.8 1-3 1 2.4 1-1.4 1-2.5 1 3.5 1 0.3 1-1 1 1.2 1-3 1 2 1-0.4 1 4.2 1-2.4 1-1.5 1-0.8 1 1.2 1-0.3 1 1.3 1-4 1 0.2 1 1.6 1 1.5 1-2.2 1 3.7 1 0.4 1-3.3 1 0.9 1 0.4 1 0.9 1 1.5 1-0.4 1-2.3 1 1.7 1-3 1-1.9 1-2.5 1 3.6 1-1.1 1 4.2 1.1-3.2 1 2.1 1-1.4 1 0.6 1 0.6 1 0.1 1-0.1 1 1.1 1 0.1 1-1.4 1 1.6 1-1 1-1.7 1 2.1 1-1 1-0.5 1-0.6 1 1 1-1.8 1 3.4 1-1.4 1-0.2 1-0.8 1 0.4 1 2.6 1-2.4 1-0.1 1 1.8 1-0.6 1 1 1-2.8 1-2.8 1 1.2 1-5 1 4.8 1 1.5 1 1 1-0.9 1 0 1 0.3 1 1.4 1 0.7 1-2 1 3.3 1-0.6 1-0.5 1-1.7 1-0.9 1 2 1 1 1 0.2 1-2.7 1 1.6 1-3.2 1 3.6 1-1.2 1 0.3 1-2 1-7.2 1 7 1 3.6 1-1.9" stroke="#00dfff"/>
<path d="M1312.6 1148.5l1 0.5 1 3.2 1-0.1 1-0.9 1 1 1-0.5 1-0.2 1-0.3 1-3.5 1 3.6 1-2.5 1 0.4 1 2.3 1 0.4 1-0.3 1 0.1 1-0.3 1-0.7 1 0.7 1-0.5 1 0.7 1 0.1 1-1.8 1 1.2 1-0.7 1-0.6 1 2.5 1-3.1 1-0.1 1 1.8 1-1.2 1 1.5 1-0.4 1 1.1 1 0.3 1-0.2 1-2.9 1 3 1-0.3 1 0.2 1-1.5 1 0.3 1-1.3 1 1.2 1 1.1 1 0.4 1-1.1 1-0.9 1-4.2 1 1 1 0.1 1 3.2 1-0.4 1 0.1 1 1.7 1-2.2 1 0 1.1-1.1 1-1.4 1 0.3 1 4.3 1-0.2 1-2.8 1 0.8 1-0.5 1-0.7 1 1.6 1-1.7 1-0.1 1 0.4 1 1.2 1-1.3 1-0.8 1 2.9 1-0.5 1 0.6 1 1.4 1-1.3 1 0.8 1 0.3 1-0.3 1 0.7 1-1.5 1-2.5 1 3.7 1 0.5 1-0.5 1-0.1 1 0.1 1-0.8 1 0.9 1-2 1 2 1-0.6 1-0.3 1-0.6 1-1 1 2.3 1-1.5 1 1.7 1-1.3 1 0.1 1 0.3 1-0.8 1 1.9 1-0.3 1 0.4 1-0.1 1-0.7 1-0.4 1 1.1 1-1.5 1-0.3 1 0.9 1 0.3 1 0.3 1-0.3 1 0.4 1-1.4 1-0.8 1 2.3 1-1.3 1-1.3 1-1.9 1 3.3 1-0.9 1 1.8 1-0.3 1-1.9 1 0.6 1 1.1 1-0.5 1 0 1 1.1 1-0.2 1-1.2 1-1 1 1.4 1 0.1 1-1.6 1 2.9 1-1.7 1 1.6 1-1.5 1 1.5 1-0.9 1-0.9 1 1.8 1-0.7 1-0.2 1-0.8 1 1.5 1-1.6 1 1.8 1-1.5 1 1 1-5.7 1-0.5 1 3.2 1 0.9 1 1.4 1 1.2 1-1 1 0.4 1 0.6 1-0.5 1-1.8 1 2.4 1-1.5 1 0.3 1-1.7 1-0.7 1 3.5 1-0.5 1 0.2 1-0.5 1-0.7 1-2.1 1 0 1 2 1-1.9 1 2.6 1 0.5 1-0.1 1 0.5 1 0.1 1-2.8 1-2.7 1 2.7 1 0.7 1-0.2 1-1.4 1-1.3 1 1.6 1 3.1 1-0.2 1-2 1 2.4 1-2 1 0.8 1 1 1-2.1 1 0.2 1 1.6 1 0.2 1-2.5 1 1.8 1 0.9 1-2.1 1 0.8 1-0.8 1 1.2 1 0.6 1-0.7 1-0.1 1 1.3 1-0.5 1-1.6 1 0.2 1 1.3 1 0 1-0.1 1 0 1-0.5 1-1.2 1-0.8 1-0.9 1 2.3 1 0.6 1 0.7 1-0.3 1-0.4 1 1.2 1-0.6 1-1.5 1 1 1-0.7 1 1.2 1.1 0 1-1.2 1 1.2 1 0.5 1-1.3 1 1.2 1-3.3 1 1.5 1 1 1-0.6 1-1.1" stroke="#00ffff"/>
<path d="M993.0 1148.9l1 1.3 1 0.5 1 0.4 1-0.5 1 0.4 1-0.2 1-2.3 1 0.4 1-0.5 1 1.4 1-1.2 1 1.7 1-0.5 1 1.8 1 0.2 1-0.9 1 0.4 1-1.9 1-1 1-4.9 1 3.1 1 0.9 1 0.4 1 1.8 1 1.7 1-0.9 1 0.8 1 0.9 1-1.3 1 0.6 1-0.9 1 1.6 1-2.1 1 0.1 1 1.9 1-0.5 1 0.4 1-0.6 1.1-0.3 1-3.3 1 2.7 1 0 1 1.1 1 0.6 1-1.9 1 0.9 1-2.4 1 0.2 1 2.1 1 0.7 1-0.6 1-2.2 1-1.4 1-2.4 1-1.2 1 2 1 4 1 1.7 1-2.7 1 0.3 1-0.3 1 2.1 1-0.6 1-0.8 1 0.1 1-3 1 4.8 1-2.2 1 2.1 1-0.8 1-2.4 1 1.7 1-3 1 5 1-2.9 1 2 1-0.7 1 1.6 1-0.2 1.1-1.3 1-2 1 0.9 1 0 1 2.5 1-0.3 1-0.1 1-1.9 1-2.7 1-1.6 1-2.4 1 6.3 1 1.8 1 0 1 1.2 1-0.6 1-1.1 1-3.1 1 2.5 1-1 1 1.5 1-0.5 1-0.7 1 1.3 1-0.7 1 0 1 1.6 1-1.8 1-1.9 1-1.5 1 4.8 1-0.3 1 0.9 1-0.3 1-1 1 1.1 1-0.2 1-0.2 1 0.2 1-0.8 1.1-1.8 1 2.7 1-1.4 1-0.9 1 2.2 1-0.9 1 1.7 1-2.5 1 2.4 1-1.1 1 1.3 1-2.8 1-2.9 1 2.6 1 0.7 1 0.2 1 1.2 1 0.8 1-1.2 1 1.3 1-1 1-0.1 1-0.1 1 0.4 1-0.6 1 0.2 1 0.2 1 0.1 1 1.1 1-0.3 1-1 1-0.7 1 1.3 1 0.2 1 0 1-1.4 1 0.6 1 0.7 1-0.8 1-0.7 1 1.3 1.1 0.7 1-0.2 1-0.1 1-2.6 1 0.2 1 0.6 1 1.7 1-0.2 1 0.1 1-3.2 1 3.4 1-0.4 1 0 1 0.5 1-0.4 1-0.2 1-0.2 1 0.3 1-0.3 1-2.4 1 2.3 1 1.1 1-2.5 1-0.1 1-0.3 1 0.8 1-0.1 1-0.5 1-1.3 1-1.6 1 3.2 1-1.5 1 0.9 1 0.6 1 0.9 1-1.1 1 0.5 1-1.3 1 3.2 1-1.7 1.1 0.7 1-1.3 1 0.8 1 1.3 1 0 1-0.3 1-1.2 1 1.9 1-2.2 1 1 1 1 1-0.3 1 0 1 0 1-1.4 1 1.9 1-0.6 1 0.6 1-0.1 1 0 1-1.2 1 1.1 1 0.3 1-1 1 0.9 1 0.2 1-0.3 1-1.7 1 1 1 0.1 1 0.8 1 0 1-2 1 1.5 1-3.8 1 3.2 1-0.1 1 0.5 1-0.1 1 0.5 1-0.1 1.1-1.8 1 0.2 1 0 1 0.3 1-1.1 1 1.9 1-0.6 1-0.6 1-0.8 1 1.4 1-3 1 1.6 1 0.6 1-1.3 1 3.2 1 0.2 1 0.1 1-1.5 1-0.7 1 1.8 1-2.7 1 1.5 1 1.1 1-0.4 1-15.6 1 15.8 1 0.8 1-0.9 1-2 1 0.6 1 0.8 1-1.4 1 1.3 1 0.7 1 0.5 1-1 1-0.5 1 1.2 1 0.2 1-0.7 1.1-0.4 1-1.9 1 3.1" stroke="#20ffdf"/>
<path d="M190.0 1150.8l1-1.6 1 0 1 0.3 1 1.4 1-1.1 1 0.1 1-0.8 1 0.1 1-7.2 1-6.7 1 8.9 1 1.5 1-2.2 1.1 1.1 1-4.6 1-3.7 1 1.2 1 3 1-4.8 1-1.7 1 8.5 1 5.6 1-0.2 1 0.3 1 1 1-2.2 1 0.4 1 0.9 1-1.2 1 2 1 0.1 1-0.3 1 0.9 1-0.5 1-1.2 1 2.4 1-0.4 1 0 1-0.2 1.1 0.9 1-2.9 1 1 1-0.6 1-2.7 1 0.4 1 1.9 1 0.8 1-0.5 1 2.7 1-2.4 1-0.6 1 1.2 1-3.7 1 2.1 1 0.1 1 0.9 1 0.6 1-0.2 1-0.7 1-0.4 1-0.6 1 0.1 1 0.6 1 1.4 1-0.7 1 0.6 1.1-1.1 1-3.7 1-2.7 1 0.7 1 2.8 1 4.5 1 2.1 1-1.1 1 0.3 1-1.1 1-0.7 1-0.4 1 2.2 1-2.2 1 0.6 1 0.5 1-3 1-4.1 1-1.4 1-7.9 1 0.9 1 3.8 1 7.9 1 2.8 1 0.9 1 1 1 1.1 1.1-1.4 1-3.2 1 2 1 0.7 1-1.5 1 1.7 1 0.6 1-2 1 0.2 1 0.5 1 0.2 1 1 1-1.4 1 0.3 1-2.3 1 1.6 1 1.1 1-0.3 1-3.4 1 2 1 2.8 1-2.2 1 0.4 1-0.1 1 0.2 1-2.3 1.1-3.4 1 3.8 1-1.5 1-2.2 1-0.9 1-2.7 1-1.6 1-0.8 1-0.5 1 3.7 1 1.2 1-1.7 1 0.7 1 1.8 1-0.7 1-2.3 1-1.8 1-3.2 1-0.6 1 3.7 1 0.6 1 5.5 1 0.5 1-2.2 1-0.3 1-0.6 1-2 1.1-2.7 1 2.8 1-1 1 7.4 1 0 1-3.4 1 1.8 1-8.4 1 2.3 1-0.7 1-1.1 1 2 1-0.4 1-3.4 1 2.1 1-0.5 1 1.6 1 5.8 1 3.7 1-2.8 1 0.4 1-2.4 1 2.5 1-1.8 1 2.6 1-2.5 1 0.3 1.1-1.1 1 0.6 1-2.6 1-0.5 1 6.8 1-2.7 1 0.2 1-2.3 1 2.3 1 4.1 1-6.8 1-12.4 1 4.3 1 2.7 1 9.9 1-1.1 1-4 1 2.4 1 0.5 1 0.3 1 1.2 1-0.6 1-4.7 1-0.1 1-10.4 1 4.8 1.1 5.8 1 9.8 1-9.6 1 3.5 1 0.4 1-3 1 4.1 1 0.3 1 1.3" stroke="#40ffbf"/>
<path d="M1628.7 1151.1l1 0.1 1 0.4 1 0.3 1-0.4 1-2.3 1 2.7 1-4.5 1 2.8 1 0.8 1-2.7 1.1 0.9 1-0.5 1-0.4 1-0.2 1 0.9 1 1.4 1-1.2 1 0 1-1.4 1-2.3 1-2 1-1.9 1-1.2 1 5.5 1 4.7 1-1.7 1.1-5.9 1-2.4 1 4.9 1 3 1 2.6 1-0.5 1 0.4 1-1.3 1-0.9 1-0.4 1-0.3 1 1.1 1-0.9 1-1.4 1 0.3 1-0.1 1.1 0.6 1 3.2 1-0.7 1-1.3 1-0.4 1 1.3 1-0.7 1 1 1-0.9 1 0.8 1-0.7 1 1.5 1-0.2 1 1.6 1-2.2 1-0.3 1.1 1.4 1-0.1 1-2.2 1-1.4 1 1.3 1 0.7 1-1.6 1 1.9 1 1 1 1 1 0.1 1-0.7 1-2 1 0.1 1 1.1 1-0.6 1.1 0.1 1-1.8 1 2.6 1-1.1 1 1.4 1 0.1 1-0.4 1-0.7" stroke="#40ffbf"/>
<path d="M1069.9 1150.3l1 0.7 1-0.5 1 1.1 1-1.1 1 1.4 1-1.4 1 1.5 1-1.4 1 1.3 1 0 1 0.3 1-0.6 1-1.1 1-0.8 1 0.4 1 1.9 1-0.7 1-0.2 1 0.8 1-0.1 1 0.4 1 0 1-1.6 1 0.9 1 0.3 1-1.5 1 0.1 1 1.2 1 0.5 1-2.3 1 0.3 1 2.1 1-1.2 1-1.9 1 0.9 1 0.7 1-0.5 1 0.9 1-0.2 1-0.1 1 0.4 1-1.2 1 0.9 1 0.2 1 1.1 1-0.7 1-0.3 1 0.2 1 0.3 1 0.3 1 0.1 1-2.1 1 1.4 1-0.7 1 1.4 1-1.4 1 0.2 1 0.5 1-0.6 1-0.7 1 1.5 1 0.2 1-0.9 1 1.1 1-1.5 1 0.7 1-1.9 1 2.2 1-0.1 1 0.3 1-0.5 1 0 1-0.7 1 0.6 1-2.4 1 2.8 1 0.2 1-0.5 1-1.5 1 1.7 1 0.8 1-0.3 1-0.4 1-1.4 1 1 1-0.6 1 0.9 1 0 1-0.3 1 0.5 1-0.7 1-0.4 1 0.4 1 0.4 1-0.1 1 0.4 1-1.3 1 1.4 1-0.6 1 0.7 1-0.7 1 0.3 1 0.3 1-3.8 1 3.8 1-1.5 1-0.5 1 2 1-0.4 1-1 1 0.4 1 0.3 1 0.4 1 0.6 1-1.9 1 1.6 1-0.5 1-0.4 1 1.4 1-0.7 1-2.7 1 0.8 1 2.3 1-0.9 1-0.3 1 0.1 1 0.5 1-0.1 1 0.1 1-2.9 1 3.7 1-3 1 1.3 1-1 1 2.5 1 0 1-1.2 1-0.1 1-1 1 2.3 1-2.9 1 1.3 1-0.2 1-0.2 1 2 1-1.9 1 0.5 1 1.7 1-0.1 1 0.1 1-1.5 1 0 1-0.7 1 1.4 1-0.4 1-1.4 1 2.3 1-0.2 1-0.5 1 0.2 1 0.5 1-0.7 1 0.7 1-3.2 1 2.6 1-0.1 1-1.3 1 2.3 1-2.2 1 2.1 1-0.4 1-0.3 1 0.4 1 0.1 1-0.2 1 0.1 1-0.4 1-0.6 1 1.1 1 0.3 1 0 1-0.4 1-2.2 1 1.1 1 0.1 1 1 1-0.4 1 0.4 1-1 1 0.8 1-1.9 1 1.1 1 0.2 1-0.4 1 0.7 1-0.3 1 0.3 1 0.4 1-0.7 1-0.3 1 1.4 1-0.7 1 0.3 1-0.2 1-1.6 1-0.2 1 1.2 1-0.9 1-0.3 1 2.2 1-1.8 1 0.8 1 0 1-0.1 1 0.7 1 0 1 0 1 0.6 1 0.1 1-0.8 1 0.5 1-0.9 1 0.5 1-0.6 1 1 1-0.8 1 0.1 1-1.2 1-1.1 1 0.2 1 1.4 1 1.4 1 0 1-1 1 0.9 1-2.8 1-2.6 1-3.1 1 5.7 1 1 1 0.8 1 1.4 1-0.6 1-0.2 1-1.1 1 1.3 1-0.3 1-0.8 1 1 1-0.8 1 0.1 1 0.9 1 0.3 1 0.2 1-0.7 1-3 1 0.4 1 1.9 1 1 1 0.2 1-1.6 1 0.6 1 1.2 1-1 1 0.4 1-1.5 1 0.7 1-0.4 1-0.2 1 1.5 1 0 1-4.8 1-2.2 1 2.5 1 2.8 1 0.8 1 1 1-1.1 1 0.8 1 0.3 1-0.8 1 0.6 1 0.4 1-1.9 1-1.3 1-0.4 1 2.6 1 1.1 1 0.1 1-0.3 1 0.1 1-0.2 1-1.1 1 0.3 1-0.5 1 0.9 1-1.8 1 2 1-3.6 1 2.2 1-0.8 1 1.1 1 0.8 1 0.3 1-2.6 1 2.9 1-0.9 1-0.4 1-0.3 1-0.2 1 1.6 1-1.9 1-0.1 1 0.4 1 1.6 1-2 1 1.3 1 0.9 1-0.4 1 0.1 1-2.9 1 3 1-0.1 1 0.5 1-0.2 1-0.1 1 0.3 1-1.9 1 1.6 1-1.7 1-0.8 1-1.3" stroke="#60ff9f"/>
<path d="M190.0 1151.3l1-2.8 1-5.2 1-7.9 1 11.2 1 1.3 1-2 1-3.5 1 0.5 1-2.3 1-1.1 1 0.2 1 7.3 1 1.7 1.1 0.1 1-3.6 1 1.3 1 0.7 1 2.8 1-0.9 1-0.3 1-0.2 1 1.2 1 0.3 1-0.2 1-3.2 1 1.8 1 0.3 1-0.1 1 0.8 1 0 1-1.6 1 0.5 1-0.4 1 1 1 2.7 1-3.2 1 2.5 1-2.4 1-0.5 1.1 2.2 1 0 1-2.2 1 0.6 1 0.1 1 0 1 0.9 1-3 1 0.2 1 1.3 1 0 1-1.5 1-3.5 1-5.3 1-6.6 1 7.5 1 5.9 1 2.7 1-2.5 1 4.5 1-0.4 1 0.8 1-2.6 1 3.9 1-2.7 1 2.3 1.1-0.6 1 1.4 1-4.2 1 1.7 1 1.2 1-1.5 1-1.2 1 0.3 1 2.5 1-1.7 1-0.5 1 0.5 1 2.9 1-2.8 1-0.2 1-3.3 1-6.1 1-4.6 1 6.7 1 5.8 1 4 1 0.3 1 0.3 1-1.4 1 1.7 1-0.4 1 0.3 1.1-0.2 1-2.1 1 1 1 0.4 1 0.7 1-1.8 1 0.6 1-3.4 1 1.9 1 1.6 1 0.5 1-0.9 1-3.6 1-4.5 1-0.1 1 3.1 1 3.3 1-0.1 1 0 1-3.1 1-5.1 1 8.1 1 2.1 1-6.3 1 0.7 1 1.7 1.1 0.1 1 5.5 1-1.2 1-4.9 1 3.5 1 2.7 1-2.3 1-6.6 1-2.3 1 2.8 1-4.5 1 4.7 1-3.3 1 1.3 1 2.6 1-2.6 1 2.7 1 0.8 1 1.4 1 1.8 1-2.2 1-0.7 1-1.5 1 4 1 0.4 1-2 1.1 2.8 1 1.4 1-4.3 1-0.4 1-0.3 1 1.8 1-1 1-0.4 1 3.1 1 0.9 1-2.3 1-7.4 1 5.6 1 0.5 1-0.8 1-2.3 1-1 1-1.8 1 1.7 1 0 1 2.5 1-7.1 1 0.5 1 4.5 1-1.7 1-3.6 1 4 1.1-3.9 1 1.7 1-7 1-0.9 1 3.9 1 5.4 1-3.9 1 1.1 1-2.5 1-1.4 1 6.6 1-1.7 1-0.3 1 2.8 1 1.7 1-0.4 1-3.4 1 2.5 1-1.4 1 0.9 1-1.4 1 2.6 1-1.2 1-10 1-0.6 1 4.3 1.1 6.3 1-0.1 1-2.1 1 2.8 1 2.9 1 2.3 1-8.4 1 0.7 1-1.1" stroke="#80ff80"/>
<path d="M474.7 1138.7l1 2.4 1 5.7 1-7.5 1.1 1.3 1 4.7 1-4.6 1 0.6 1 0.1 1-0.2 1-0.4 1 1.3 1-2.4 1.1 7.8 1-4.2 1-0.3 1 3.9 1-5.4 1 2 1 2.4 1 1 1.1-2.5 1-1.3 1 0.1 1-1.5 1 3.4 1 4.5 1-0.3 1-4.7 1.1 1.7 1 1.6 1-1.7 1-1.1 1 1.2 1 0.3 1-1.5 1 1.9 1.1-3.7 1 5.4 1-2.6 1-0.8 1 3.5 1-0.2 1-0.3 1 2.3 1.1-1.1 1-1.3 1-1.4 1 0.3 1-4.3 1-0.6 1 1.3 1 2.7 1.1 0.2 1 0.6 1 2.2 1-1.5 1-4.9 1-0.2 1-4.2 1 4.4 1.1 1.2 1 4.8 1 0.4 1 0.2 1-0.3 1-2.4 1 2.8 1-3.9 1.1-1.8 1-4.3 1 8.4 1 1 1-0.8 1 1.1M552.6 1145.6l1 4.7 1-1.1 1-2.7 1 3.2 1-0.1 1-2 1.1-1.2 1 0.8 1 2.6 1 1.2 1-1.3 1 2.4 1-4.8 1 3.4 1-0.7 1-2.1 1 1.5 1-0.7 1 0.8 1-3.4 1 2.2 1-1.2 1-1.5 1-4.3 1 4.4 1-1.3 1-2 1 0.6 1.1 2.7 1-3.7 1 2.4 1-4 1 3.2 1 2.9 1 0.6 1 0.2 1 0.3 1-1.3 1 3.1 1-4.6 1 0.8 1-1.5 1-1.6 1 1.4 1-0.7 1 0.8 1 1.2 1-1.3 1-0.9 1.1 0.5 1 3.4 1-0.4 1-0.5 1 0.3 1-0.4 1 0.9 1-0.7 1-1.1 1 2 1 1 1-0.8 1-1.5 1 1.1 1-4.2 1 3.5 1 0 1-1.6 1-0.8 1 3.1 1 0.2" stroke="#80ff80"/>
<path d="M1657.7 1149.1l1 1.6 1 1.3 1-0.6 1-0.6 1-3.3 1 3.7 1-0.5 1 0.5 1-0.7 1.1-1.7 1-3.8 1 1.1 1 0.2 1 2.7 1 1.2 1-2 1 1.5 1-0.2 1-0.1 1.1-1.7 1-1.5 1 5 1-0.4 1-0.1 1 0.2 1 0.2 1-1.3 1-0.7 1.1-1.4 1 1.7 1-2.4 1 1.5 1 0.2 1 1.1 1-1.5 1 1.7 1-1 1 1.5 1.1 0.6 1-1.2 1-1.9 1 1.9 1 0 1-0.1 1-1.6 1 1.8 1-0.4 1 2.3 1.1-2.5 1-0.8 1-2.1 1 2.2 1 0.3" stroke="#80ff80"/>
<path d="M813.7 1151.4l1.1 0.6 1 0.2 1-0.7 1-0.1 1 0.8 1-1.2 1 0.5 1-0.6 1 0.2 1.1-0.1 1-0.7 1 1.7 1-0.6 1 0.3 1-2 1 1.2 1-0.5 1 0.8 1.1-1.3 1 1.7 1-0.1 1-2.8 1 1.6 1 0.8 1-0.2 1 1.2 1.1-0.6 1-0.7 1 0.6 1-0.9 1 1 1-1.3 1 1.7 1-0.3 1 0.2 1.1-0.8 1 0.8 1-0.1 1-1.8 1 1.7 1-1 1 1.5 1-0.9 1 0.1 1.1 0.6 1-0.4 1 0.7 1-0.1 1-0.2 1-0.9 1 1 1 0.2 1-0.3 1.1-0.2 1-1.6 1 1.2 1-1.8 1 1.2 1 0.9 1-0.6 1 0.2 1.1 1 1-2.1 1 0.5 1 0.5 1-2 1 0 1 1.9 1 0 1 0.5 1.1-0.4 1-2.6 1 2.3 1-2.4 1 0.5 1-0.5 1 3.3 1-3.2 1 2.1 1.1-0.6M897.7 1152.2l1-4.3 1-2.9 1 0.5 1 3.4 1 3.1 1-0.5 1-0.1 1-2.8 1 2.4 1-2.5 1 2 1-3.7 1 2 1 0.2 1 0.1 1 0 1 0.4 1 0 1 0 1 2.1 1 0.5 1-0.4 1-2.4 1 1.8 1-1 1 0 1 0.9 1 0.6 1-2 1 1 1-0.5 1 0.2 1-1.2 1 0.1 1 0.1 1 1.8 1 1.1 1-1.9 1-0.9 1 1.7 1 0.1 1 0.8 1-1.5 1 0.2 1 1.3 1-0.1 1-1.6 1-3.3 1-3.3 1 4.3 1 3.1 1-1.7 1-0.2 1-0.7 1-2.2 1 2.5 1 2.2 1 0.6 1-1.6 1 1.6 1-0.8 1 0.6 1 0.5 1-2.8 1 0.8 1 0.7 1-1.6 1-0.7 1-0.6 1 1.7 1-0.8 1 1.4 1-0.8 1 0.3 1-0.7 1 2.2 1-0.8 1 1.4 1-1 1-0.9 1 1.5 1 0.7 1-1.2 1-0.7 1 0.8 1 1 1 0 1-1.4 1 1.5 1-0.2 1-1.2 1 0 1 0.2 1 1.3 1.1 0.1 1-0.2 1-0.5 1 0.7 1-0.5 1-2.3 1 2 1 0.9 1-0.6 1 0.4 1-1.6 1 1.5 1 0.2 1-1.1 1 0.5 1 0.5 1-3.2 1 3.2 1-0.9 1-0.3 1-0.1 1 1.3 1-3.4 1 2.3 1 0.9 1-0.3 1-0.4 1 0.2 1 0.8 1 0 1-1.9 1-1 1 1.2 1 1 1-2 1 1.5 1-0.7 1 1.2 1 0.7 1-1.4 1 1.6 1-1.5 1 0.3 1 0.4 1-0.9 1-0.6 1 0.8 1 0.5 1 0.6 1-0.7 1 0.5 1 0.5 1-1 1-0.5 1 0.6 1 0.9 1-0.6 1-0.6 1-0.7 1 1 1-2 1 2.7 1-1.6 1 0.8 1-1 1 1.7 1-0.8 1 0.4 1 0.8 1-0.2 1-1.4 1 1.1 1 0.1 1-0.3 1-2.4 1 1.8 1-1 1 1.4 1-2.2 1 3 1-1.2 1 0.5 1 0.6 1-2.1 1 1.5 1-1.4 1 2.1 1-0.4 1 0.4 1-0.7 1 0.6 1-0.9 1-0.2 1-1.4 1 1.7 1 0.1 1-0.1 1-0.8 1-0.5 1.1 0.4" stroke="#9fff60"/>
<path d="M373.8 1130.8l1 4.2 1 0.2 1 3.9 1 2.5 1 1.2 1 1.3 1-2.7 1 2.8 1 0.3 1-4.2 1 3.3 1 0.2 1 5.5 1-5.4 1 2.3 1-1.2 1-3 1 3.4 1-2.8 1-4.7 1-0.3 1 2.3 1 5.6 1-1 1 0 1-1.8 1 0.3 1 2.8 1-8.2 1 1.6 1-2.8 1-0.7 1 3.1 1 4.6 1 1.5 1-0.9 1-2.8 1-4.2 1 2 1 2 1-4.8 1 1.9 1 0.7 1 2.9 1-3.5 1 2.1 1 0.5 1 1.8 1-0.5 1-0.5 1 4.4 1-2.8 1 3.4 1-2.7 1-2.4 1 0.7 1 0.4 1-2.6 1 1 1-2.6 1 4.4 1 0.4 1-1.4 1-0.3 1-0.9 1 4.7 1-2.5 1 0.2 1 1.8 1 2 1 1.3 1-2.1 1-3.1 1 0.5 1 3.7 1-2.6 1 0 1 0.6 1-1.3 1 0 1-3.5 1 1.3 1-2.2 1 2.3 1-0.3 1 2.7 1-1.6 1 3.4 1-4.9 1-1.2 1 3.5 1-0.2 1 2.3 1-0.7 1-3.2 1 1.7 1 1.3 1-2.2 1 0 1 0.5 1-2.3 1 2.2 1-1 1-0.8 1 0 1 2.8 1-0.4 1-1.4 1 1.6 1-3.7 1 1.8 1 0.6 1 0.6 1-5.7 1 6.8 1-3.5 1 2.8 1-3.9 1 1.5 1-0.4 1 5.1 1-3.4 1-2.4 1-4.5 1 7.8 1-1.1 1 2.3 1-3.8 1 1.3 1.1-0.1 1-2.5 1 5.8 1 2.3 1 2.6 1-6.8 1 3.6 1-4.8 1-0.4 1-1.7 1 3.2 1-0.1 1 0.1 1 1.3 1-2.4 1 1.9 1-0.1 1-1.1 1-2.1 1 3.8 1-0.1 1-1.6 1 0.1 1 3.2 1-7.1 1 6.7 1-3.7 1 6.1 1-2.5 1-0.8 1 0.3 1 1.1 1 1.1 1-4.4 1 1.6 1 1.8 1 0.9 1-3.5 1 0.1 1-2.5 1-0.6 1 0.6 1-3 1-2.2 1 5.3 1 3 1 2 1-5.2 1 1.4 1 1.7 1 4.2 1 1.2 1 1.6 1-4.7 1-4.3 1 2.3 1-0.9 1 0.2 1 1.8 1-0.1 1-1.4 1-0.8 1 0.7 1-0.4 1 1.9 1 2.1 1-3.7 1 2.9 1 0.8 1-0.3 1-2.6 1-0.1 1-1.2 1 7.3 1-4.9 1 0 1 0 1-2 1 0.6 1-4.2 1-0.7 1 3.9 1 2.5 1-0.8 1-1.9 1 3.1 1-0.6 1-0.3 1 2.7 1-4.4 1 3.4 1-3 1 5.1 1-0.6 1-3.4 1 0.8 1-4.8 1 2.8 1-0.9 1 2.2 1-0.3 1 2.7 1-4.9 1 4.7 1-4.5 1 2.7 1-2.4 1 3.2 1-0.4 1 1.9 1 1.8 1-3 1-2.3 1 1.4 1 1.7 1 2.7 1-2.2 1-0.8 1-1.5 1 1.5 1-0.7 1-2.1 1 1.9 1 1.9 1 0.4 1 1.7 1-3.3 1 1.9 1 0 1-0.9 1 0.7 1 0.3 1-0.2 1-0.4 1-0.5 1-1.2 1 3.6 1-0.4 1 2.1 1-3.9 1-0.4 1 1.2 1-0.8 1 0.8 1-3.4 1 0.8 1-0.4 1 1 1 2.7 1 0.6 1-3.6 1 3.7 1 0.1 1-0.7 1 0.4 1 0.3 1-1.6 1-2.6 1 2.1" stroke="#bfff40"/>
<path d="M874.1 1150.5l1-0.7 1-0.7 1 2.5 1-0.6 1-0.6 1 1.8 1-0.5 1-1.9 1 0.9 1 0.7 1-1.9 1 2.5 1-0.5 1 0.5 1-3.4 1 2.5 1 0.6 1-0.5 1-0.7 1 0.2 1-0.3 1 0.5 1 0.1 1 0.3 1-0.4 1 0.4 1-2.2 1.1 1.6 1 1 1-0.9 1-0.4 1 1.3 1-0.6 1-0.6 1 1.2 1-0.2 1-0.8 1 1.3 1-0.1 1-1 1 1 1-0.9 1-1 1 1 1-0.3 1 0.6 1-0.6 1 0.2 1 0.1 1-0.4 1-0.2 1 0.4 1-1 1 1.6 1 0 1 0.5 1-0.4 1 0 1 0.1 1 0.2 1 0 1-0.7 1 0.9 1-0.9 1 0.5 1 0.4 1 0.1 1.1-1.2 1-0.8 1 0.9 1 0 1-0.9 1 1.6 1-1 1 1.2 1 0.1 1 0 1-0.3 1-1 1 1.4 1-0.4 1 0.3 1 0 1-1.3 1 1.1 1-0.2 1 0 1 0.3 1-0.6 1-0.4 1-0.8 1 1.8 1-1.4 1-1.8 1 0.4 1 1.2 1 1.4 1 0.5 1-1.5 1 0.4 1 0.9 1-0.3 1-0.8 1 0.5 1-0.8 1 0.6 1 0.5 1.1 0.4 1-0.9 1 0.9 1-1.1 1 0.7 1-0.5 1-1.3 1 0.7 1 0.7 1 0.3 1-1.5 1 1.1 1-0.7 1 1 1 0.5 1 0 1-1 1-0.3 1 0.8 1 0.5 1-0.2 1-2 1 1.6 1 0.4 1 0.1 1 0.2 1-0.2 1-3.1 1 2.6 1-0.2 1 0 1-0.5 1-1.1 1 0.3 1-0.2 1 2.5 1-3.5 1 0.9 1 1.2 1 0.1 1.1 1 1-0.8 1-0.7 1 0.1 1 1.2 1-0.6 1 1 1-1.5 1 0.5 1 1.1 1-0.5 1-1.3 1 0.1 1 1 1 0.7 1-0.6 1-1.5 1 0.7 1 1 1-1.2 1-0.5 1-3.6 1 1.5 1 2.3 1 0.4 1-1.4 1 0.5 1 0.3 1 1.5 1-2.7 1 3.1 1-1 1-1 1-0.1 1-2.4 1 4 1-0.8 1 1 1-0.8 1.1-1.4 1 2 1-0.1 1 0.7 1-2 1 0.5 1-0.5 1-0.1 1 1.4 1 0 1 0.3 1-0.1 1-1.8 1-0.8 1 2.9 1 0.2 1-4.4 1 2.1 1-0.4 1 2.7 1-0.6 1 0.1 1-1.3 1-0.5 1-0.2 1-1.2 1 0.2 1 2.9 1-1.1 1 1.6 1-1.9 1-0.9 1 0.1 1 2.7 1-4.2 1 0.3 1 2.6 1-0.4 1 0.9 1-1.2 1.1-0.4 1 0.5 1 1.1 1 0.9 1-2.6 1 2.5 1-0.6 1-1 1 0.6 1 0.4 1 0.2 1-0.3 1-0.5 1 0 1 0.4 1-1.4 1-0.5 1 0.6 1 0.2 1 1.9 1-0.7 1-0.1 1 0 1-1 1 1.4 1 0.1 1 0.2 1-0.6 1-0.5 1 1 1-0.3 1 0.4 1-0.7 1-0.7 1 1.3 1 0.1 1-0.3 1-1.1 1 1.3 1-0.8 1.1 0.5 1-1 1-1.6 1-3.1 1-2.6 1-2.4 1-0.4 1-2.1 1 3.4 1 2.2 1 3.4 1 1.8 1-0.4 1 1.9" stroke="#dfff20"/>
<path d="M1403.9 1151.3l1-2.9 1-0.6 1-0.4 1 0 1 1.1 1-0.9 1 2.2 1-0.6 1-0.4 1 2.2 1-1.2 1-3.7 1 2.9 1 0.9 1 1.6 1-0.4 1-2.9 1 0.2 1-0.6 1 1.7 1-2.7 1 2.3 1-0.2 1 0.7 1 0 1-0.2 1-1.8 1 1.6 1-1.1 1 0.3 1 0.6 1-0.8 1-2.9 1 2.2 1 2.1 1-1.5 1 0.5 1-0.3 1 0.3 1 0.6 1 0.1 1-1.5 1-1 1 1.8 1-0.9 1-0.8 1 0.7 1-2 1 2.3 1 0.5 1 1.6 1 0.2 1-1.9 1 1.5 1-0.7 1-2.3 1 2 1 1.2 1 0.2 1-2.9 1 1.6 1-4 1 1.4 1 0.7 1 0.2 1-2.4 1 1.3 1 0 1 3.9 1-2.4 1 0.3 1-1.4 1-0.6 1 2 1 1.4 1 0.4 1-2.2 1 0.5 1 0.2 1-1.1 1 1 1-3.4 1.1 2.1 1 0.9 1 2 1-0.2 1 0.5 1-0.7 1-0.7 1-0.2 1 0.9 1-1.4 1 0 1 3.2 1-0.3 1-1 1 0 1-0.7 1 0.8 1-1.8 1 0.4 1 2 1-1.5 1 0.3 1-1.3 1-0.8 1-0.3 1-2.4 1-1.1 1 4.5 1 2.6 1-0.6 1-1.3 1-0.9 1 0.1 1 1.7 1-0.5 1-2.2 1-1.5 1 1.4 1 0 1 2.3 1-1.3 1 0 1 1.5 1 0.1 1-1.2 1 0.7 1 0.3 1 0.5 1 0.6 1-0.2 1-3.5 1 2.5 1-1.7 1 2 1-1.9 1 0.3 1 0.1 1 0.6 1 1 1-0.6 1-0.5 1-0.5 1 2 1-3.2 1-1.4 1-0.2 1-0.9 1 1.8 1 0.9 1 1.1 1 2.5 1-3.5 1 3.2 1-0.3 1 1.2 1-4 1 0.3 1 1.6 1 2 1-4.3 1-1.2 1-1.7 1-0.4 1-2.9 1 5.8 1 0.5 1 1.4 1 0.9 1 0.9 1 0.9 1-3.2 1-0.5 1-0.5 1 0.1 1-0.5 1 0.1 1-0.8 1 1.1 1 1.4 1-1.6 1-0.4 1 1.4 1 1.6 1 0.6 1-3.1 1 2.2 1-4.7 1 5.5 1-3.1 1 1.1 1-0.4 1 0.8 1-1.1 1 1.3 1 1.5 1-2.7 1 0 1 1.9 1 1 1 0.7 1-1.4 1 0.9 1-3.1 1 1.9 1 0.8 1-0.1 1 1.7 1-3.3 1 0.4 1-0.4 1-1.2 1-0.6 1-0.1 1 0 1 1.6 1 3.7 1-4.3 1-3.9 1-0.9 1-0.4 1 1.7 1 4.1 1 1.8 1-0.7 1-0.6 1-1.5 1-0.6 1 2.5 1 0.4 1 1.1 1-1.6 1 1.3 1 1.2 1-2.6 1 1.8 1 0.3 1 1.7 1-3.5 1-1.8 1 0.9 1 3.3 1 0.6 1-0.8 1-2.2 1-4.6 1 1.9 1 0.4 1 0.4 1-0.8 1 2.1 1 0.6 1-2.5 1 0.2 1-0.3 1 0.1 1 3 1 0.4 1-2.3 1-0.9 1 3 1 1.7 1-0.3 1-0.3 1-3 1 2.5 1-2.5 1 0.1 1 0.8 1 2.4 1-1.4 1 0 1-3.7 1 2 1-1.3 1 1 1 2.8 1-0.3 1-0.1 1 0 1-0.5 1-0.6 1 2.3 1-1.1 1 0.4 1-1.9 1 1.1" stroke="#ffff00"/>
<path d="M1309.6 1147.4l1-2.4 1-0.1 1 0.9 1 0.6 1 2.3 1-1.5 1 2.9 1-2.9 1-0.2 1-1.1 1 1.3 1-0.7 1-1.7 1 1.1 1-1.1 1 0 1 1 1 4 1-1.2 1 0.9 1-0.8 1-0.5 1-2 1 0.6 1-1.5 1 1.4 1-0.1 1-0.5 1 0.2 1 3.2 1 1 1-0.1 1-2.1 1-0.4 1 0.8 1-0.4 1 1.2 1-1.5 1-3.5 1 2 1 1.1 1 3.9 1-0.7 1-2.6 1-1.3 1 2.2 1-0.4 1-0.5 1-0.1 1.1-1.9 1-2.3 1 1.4 1 1.9 1 1.4 1-1.5 1 1.4 1-3.4 1 1.5 1-1.2 1 0.2 1-2.5 1 2.5 1 1.2 1 0.7 1-0.8 1-0.7 1 0.9 1 1.9 1-1.3 1-0.4 1-1.6 1-1 1 1.1 1-0.2 1 1.2 1 0.3 1-2.4 1 2.7 1-0.4 1 1.3 1-2.3 1 1.4 1-1.7 1-1.2 1 2.5 1-1.7 1 2.6 1-2.7 1 3.4 1-1 1-0.1 1-1.4 1 2.2 1-0.1 1 0.3 1-1.2 1 0 1-1 1 2.3 1 0.3 1 2.3 1-2.7 1 0.5 1-1.4 1 1.5 1-1.4 1-1.5 1-0.5 1-0.3 1 0.6 1 0.2 1-0.8 1-0.7 1 0.1 1 1.6 1-1.9 1 3.9 1-1.6 1 0.6 1-1 1 0.3 1-1.4 1 1.6 1 0.1 1 0.1 1 0.4 1 0.9 1 1.4 1-6.1 1-1 1 0 1 1 1 2 1 0.6 1 0.4 1-2.1 1-1.8 1 5.9 1-0.8 1-2.1 1-0.4 1-0.3 1 1.7 1-0.3 1 0.7 1 0 1 0.5 1 1.5 1-2.4 1 1.4 1 1.4 1-3.1 1-0.2 1-1.2 1-0.3 1 1.7 1 0.8 1 0.4 1-3.2 1 1.8 1-1.9 1 0.5 1-2.7 1 0.3 1 1.8 1 1.2 1 3.4 1-1.1 1-0.5 1-0.1 1-0.6 1 3.3 1-0.7 1-1.5 1-0.3 1 2.3 1-2.4 1-0.6 1-0.9 1 0.5 1-0.9 1 0.6 1 3 1-0.8 1 0.5 1-2.5 1 2 1 0.3 1-3.6 1-2.2 1 0.6 1 0.4 1-0.5 1-2.1 1 0.9 1-3.3 1 2.5 1 3.4 1 0.2 1 4.1 1 0.2 1 0.2 1 0.7 1 0.2 1-2.5 1 3.2 1-5.7 1 4.2 1-1.7 1-0.7 1-1.1 1 2.8 1-0.8 1-1.9 1-1.5 1 2.1 1-0.3 1 0.4 1 0.5 1-8.4 1 3.2 1.1 5 1-0.3 1 1 1 1.5 1 0.3 1-0.6 1 0.4 1-3.4 1 0.2 1-0.4 1 0.4 1 0 1 0.9 1-0.6 1-1.4 1 0 1 1 1 3.3 1-1.9 1-0.5 1-4.2 1 1.3 1 1.8 1 0.3" stroke="#ffdf00"/>
<path d="M504.7 1146.9l1-0.4 1 3.6 1-0.9 1-6 1 1.2 1-0.3 1 1.5 1-0.4 1-0.8 1 2 1-3.2 1-0.4 1-0.2 1 3.1 1 0 1 0.7 1 0.2 1-2.6 1 3.5 1-1.9 1 1.9 1 0.9 1 1 1-4.3 1-0.9 1-4.4 1 0.5 1 5.2 1 2.8 1-0.4 1-0.3 1-2.8 1 0.5 1 4.2 1-0.1 1 0.3 1-3.6 1 1.8 1 0 1 3.3 1 0.8 1-2 1 0.7 1 1.5 1-2.5 1-1.9 1 1.5 1-3 1 2.9 1 0.8 1-1.7 1 1.2 1-3.4 1 0.1 1-0.7 1-0.7 1 1 1 2.7 1 1.7 1-0.4 1-0.3 1-2.2 1 0.3 1-3.3 1 1.6 1-3.1 1 3.7 1-3.3 1 3.3 1 0.5 1-0.3 1-1.1 1-0.3 1 0.9 1 0.3 1 0.8 1 1.1 1 1.1 1-0.6 1-1.2 1-3.3 1-1.3 1 0.6 1 2 1 2 1-1.3 1 1.2 1 1 1-1.5 1-0.6 1 3.1 1-1.2 1-0.9 1-4.7 1 4.5 1-3.3 1 3.2 1 1.8 1 0.8 1-3.9 1 2.2 1 2.7 1 0.9 1-1 1 0 1-2.7 1 0.5 1 1.7 1-0.6 1-1 1 2 1-5 1 1.2 1 4.3 1-1 1 1.8 1-1.7 1 0.5 1 1 1-1.4 1 1.2 1-0.8 1 0.1 1-0.5 1-0.4 1 0.9 1 0.5 1-2.4 1 1.5 1 0.8 1 0.6 1-1.7 1-1.4 1-0.8 1 2.8 1 1.2 1-0.9 1 1 1-1.2 1-0.7 1-1.6 1 0.3 1 1.6 1 0.2 1 1.5 1-2.9 1 2.5 1-2.6 1 1.3 1 0.4 1 0.4 1-0.1 1-0.3 1-0.1 1-2.6 1 1 1-0.1 1 2 1 0.3 1 0.3 1-1.2 1-0.4 1-2.5 1 1.9 1-0.5 1 1 1 0.9 1-0.5 1 0.2 1-1.5 1 0.8 1-1 1 3.1 1-3.3 1 2.2 1-0.3 1 1 1-2.1 1.1 1 1-2.3 1-0.2 1 3.4 1-1.5 1 1.5 1 0.3 1-1.6 1-0.5 1 0.8 1 1.9 1-1 1 1.1 1-5.7 1 2.7 1 2.9 1-3.6 1 1.2 1-1.3 1-0.3 1-0.2 1 3.3 1-1.9 1 2.7 1-4.6 1 0.8 1-0.7 1-3.4 1 0.1 1 3 1 3.9 1-3 1 1.2 1-1.8 1 3.3 1-0.6 1-0.1 1-1.9 1-0.1 1-0.2 1 1.4 1 0.2 1 1.4 1 0.8 1-1.9 1 0.8 1-0.3 1-3.9 1 3.8 1-2.2 1 0.6 1-0.4 1 3.8 1-1.7 1 0 1-0.2 1-3.1 1-2.1 1-1.3 1 5.4 1 2.2 1-0.4 1-0.2 1-0.4 1-0.6 1-0.8 1 1.5 1-4 1 1.4 1 0.8 1-0.3 1-2.9 1-1 1 0 1 1.1 1 0.8 1 0.5 1 0.4 1 0.4 1-0.5 1-0.6 1 2 1 0.2 1 1 1 0.5 1-1.5 1-1.2" stroke="#ffbf00"/>
<path d="M373.8 1138.6l1 3.6 1-1.6 1 0 1 3.5 1-3 1 4 1-1.5 1-2 1-1.1 1-0.1 1.1 1.2 1-0.5 1 2.8 1-0.9 1-1.8 1 0.1 1 4.1 1-9.8 1 2.7 1 4 1-2.7 1-2.8 1 3.6 1 2 1-5.2 1 2 1 1.9 1 1.6 1-3 1 2.6 1-1.7 1 1.6 1-2 1-5.1 1.1 1 1 6.2 1-4.1 1 5.5 1-4.2 1-0.2 1-2.3 1 8 1-3.9 1 0.4 1-6 1 0.7 1-2.2 1 4.7 1 3 1-3.3 1 1.5 1-2.1 1-1.5 1 5.3 1 0.1 1-4.5 1 3.2 1 3 1.1-4.9 1 0.4 1-1.2 1 0 1-0.9 1-1.3 1-1.4 1 6.4 1-5.7 1 3.2 1-2.7 1 1.4 1 0 1-0.8 1-0.4 1 1.5 1-0.7 1 0.1 1 1.1 1 0.8 1 2.8 1-8.4 1 1.1 1 4.3 1.1 3.4 1-6.4 1 3.5 1-5.4 1 1.6 1 2 1-1.8 1 8.4 1-3 1-0.9 1-1 1 0.4 1 0.2 1-4.6 1-1.9 1-5 1 6.6 1 5.1 1 0.7 1-4.1 1-0.9 1 0.7 1 2.5 1-1 1.1 2.6 1 0.5 1 2.6 1-0.6 1-2.7 1-2.9 1 0.8 1 2.8 1-2.2 1-2.2 1-1 1 0.5 1 3.4 1 3.1 1 4.5 1-3.8 1-1 1-3.2 1-1.8 1 1.9 1-0.4 1 6 1-5.9 1 5.9 1.1-5.9 1 1.5 1 0 1 3 1 0.3 1 1.4 1 0.6 1 0.8 1-0.6 1-2.1 1-1.5 1 1.3 1 1.6 1-4.6 1 0.3 1 0.7 1-1 1 1.5 1-1.1 1 2.1 1 1.5 1-3 1-0.1 1-0.2 1 0.6 1.1-1.7 1-1.3 1 6.8 1-0.6 1-2 1 2.1 1-2.7 1-0.3 1-1.2 1 4 1-3.8 1-0.5 1-2.6 1 5.2 1-4.5 1 2.2 1-7 1-0.1 1 5.7 1 1.8 1 2.8 1-2.9 1 2 1 1.5 1.1-2.2 1-3.2 1 4.3 1-2.6 1 2 1 0 1 2.7 1-1.3 1-2.2 1 1.1 1 1.6 1-2.3 1 2.1" stroke="#ff9f00"/>
<path d="M746.2 1146.6l1 0.9 1.1-1.2 1-1 1 2.3 1.1 1.7 1-0.5 1-1.5 1.1-3.4 1-0.8 1-1.3 1.1-3.1 1-2.3 1-0.2 1.1-0.4 1-0.7 1 3.6 1.1 2.3 1 0M767.8 1146.9l1-2.3 1 3.5 1-0.7 1-4.8 1 2.2 1 0.2 1 1.6 1 1.1 1.1 0.4 1-2.4 1 1.1 1-2 1-0.9 1-0.9 1-3.7 1-1 1-4.4 1 1.5 1 1.1 1 3.7 1 2.6 1 3.3 1-1.8 1.1 1 1-0.6 1 2.1 1 3 1-2.3 1-0.6 1-0.4 1 0.4 1-3.8 1 2.5 1-0.4 1 2 1 0.4 1-0.9 1-1.4 1.1-0.2 1 2.7 1 0.3 1-1.1 1 0.6 1-2.9 1 3 1 0.5 1 1 1-4.6 1 1.6 1 0.1 1-2.3 1 0 1 1.7 1 0.8 1.1 0.4 1-2.8 1 1.2 1-1.4 1-0.4 1-3.3 1 0.9 1 0.5 1 3.3 1-1.5 1-2.1 1 0.5 1 1.9 1 3.7 1-0.2 1.1-1.7 1 0.2 1-3.4 1 0 1 3.2 1-0.5 1-2 1 0.4 1 0.2 1 2.1 1-0.3 1 1.8 1-3.8 1 0.9 1-1.3 1.1 1 1-0.1 1 0.3 1-0.6 1 0.7 1 0.3 1 1 1-1 1-2.3 1 0.7 1-0.7 1 0.5 1-1.3 1 0.3 1 2.9 1.1 0.2 1 1.7 1-3.7 1-1.4 1 1.2 1 1 1-3.7 1 2.2 1-0.7 1 1.2 1 2.7 1 3.1 1-1.3 1-1.9 1 0.1 1.1-4.3 1 1.5 1-3.8 1 1.4 1 0.7 1 2.3 1 0.9 1-0.3 1 2 1-0.4 1 1 1-1.3 1-2.6 1 0.8 1 2.1 1.1 0.5" stroke="#ff9f00"/>
<path d="M1170.8 1142.6l1 0 1-4.4 1 0.8 1 3.6 1-1.2 1-0.1 1-2.4 1 3.4 1-1.6 1 1.3 1-2.7 1 1.2 1 1.1 1-3.1 1 2.5 1 1.6 1-1.7 1 0.4 1-1.1 1 2.6 1-0.3 1-2.1 1-0.2 1 2.3 1-2.8 1-0.2 1 1.9 1-1 1 1.5 1 0.8 1-1 1-0.2 1 1.5 1 0.9 1-1.5 1-0.2 1 3.4 1-2.2 1 0.4 1-1.9 1 2.6 1-1.2 1-2.4 1 3.3 1 2.1 1 0.5 1-3.3 1-1.3 1 0.6 1 1.4 1 1.5 1-0.9 1-1.6 1-0.1 1 0.8 1-0.1 1 1.2 1-0.9 1 1.8 1-0.6 1 0.1 1-1.8 1-0.3 1-0.8 1 2 1 0.3 1-0.1 1 2.3 1-2.8 1-2.4 1 1.5 1-1.1 1 0.2 1-0.9 1 2.3 1 1.2 1-0.6 1-1.7 1 0.8 1 1 1 0.9 1-3 1 0.1 1-9.4 1 9.2 1-0.2 1 0.8 1 0.6 1-0.9 1-1.7 1 2.7 1-1.6 1 3.5 1-2.3 1 1.7 1-2.1 1 2.1 1 0.7 1-1.6 1 0.9 1 0 1-3.8 1-0.8 1 2.7 1 2.3 1 0.2 1 0 1-3.6 1-0.8 1 2.5 1 2.5 1-0.1 1-1.1 1-2.9 1-0.3 1 2.2 1-1.9 1-0.3 1 0 1 3 1-3.1 1 2.6 1 1.5 1 2.3 1-1 1-1.8 1-2.2 1 3.2 1-1.9 1 0.5 1-2 1 0.2 1 1 1-0.2 1-0.7 1 2.6 1 0.3 1 1.3 1-3.7 1-1.6 1-0.7 1 0.1 1 0.4 1 1.8 1 3.8 1-0.9 1-2.2 1-0.4 1 1.3 1 1 1-0.7 1 0.5 1-3 1 1.2 1-0.1 1 1.8 1-1.7 1 0.1 1 0.6 1 1.4 1-0.2 1-1 1 1.2 1-0.2 1 0.3 1 1.4 1-1.8 1-0.3 1-2.5 1-1.1 1 2.7 1-2.9 1 3.3 1-2.3 1-0.1 1 1.5 1 1.6 1-0.6 1-0.1 1-8 1 4.3 1 2.8 1-2.7 1-0.5 1 0.6 1 0.6 1 1.2 1 1.4 1-0.6 1-1.9 1-1.5 1 2.3 1-1 1-1.5 1 0.5 1 4.1 1-3.3 1-0.9 1 0.2 1 0.6 1 0 1-2.4 1 3.7 1-2.7 1 0 1 0.5 1 1.3 1-0.6 1-1.8 1-0.8 1 1.3 1 2.8 1-0.4 1 0.5 1-2.9 1 5.1 1-5.2 1 1.7 1-1 1 0.5 1 2.8 1-1.9 1-1.5 1-1.4 1 0.1 1 0.5 1 2.9 1-2.3 1 0 1-1.5 1 3.7 1 0.8 1 1.5 1 1.3 1-2.4 1-0.2 1 0.9 1 1.3 1 0.1 1-0.7 1-2.5 1 1.4 1-2.9 1 4 1-1.2 1 0.1 1-2.7 1-2 1 0.2 1-0.9 1-0.5 1-1.3 1 0.7 1 0.5 1 3.3 1-1.3 1-0.3 1-2.1 1 1.5 1-1.5 1 3.4 1 0 1 1.4 1-0.2 1-1.8 1-1.1 1-0.7 1.1-1.4 1 2.6 1 0.7 1 1.7 1-1.4 1-0.7 1-0.9 1-1.9 1-0.2 1 1.1 1-2.3 1 2.7 1-1.7 1-2.3 1 1.8 1 1.8 1 0.9 1-3.9 1 0.9 1-2.8 1 1.9 1 0 1-0.6 1-1 1 0.8 1-1 1-0.3" stroke="#ff8000"/>
<path d="M1365.6 1151.3l1-1.3 1-0.5 1-1 1-1 1 1.8 1 1.6 1 0.2 1 0.2 1-1.6 1 2.2 1-0.4 1 0.1 1-0.8 1-0.9 1 0.6 1-4 1-3.2 1 4.3 1 2.5 1 1.1 1 0.6 1-0.5 1 0 1 0.2 1-2.7 1 1.1 1-1.6 1 0.4 1 0.1 1 1.2 1-1.3 1-1.1 1 2.6 1 0.6 1 1.4 1-1.5 1-0.1 1 0.5 1-0.7 1 1.8 1-0.5 1 0.3 1 0 1-2.2 1 1.5 1 0.5 1-1.1 1-1.8 1 0.8 1-2 1 0.1 1-0.9 1 0.6 1 2.8 1-0.1 1-1.6 1 0.7 1 0.6 1 1.7 1-1.4 1 1.3 1 0.5 1-0.9 1 0.8 1-2.4 1 1.2 1 0.1 1-4.2 1-2.4 1-0.1 1 2.5 1 3 1-0.1 1 0.9 1-0.2 1-1.3 1 3 1-1.1 1 0.7 1-0.5 1-1.1 1 0.1 1 1.6 1-1 1 0.3 1-0.6 1-2 1-0.2 1 1 1 0.5 1 0.3 1-2.2 1-0.9 1 0.1 1 1 1-0.2 1-0.9 1 0.3 1 2.1 1-3.2 1 0.5 1-0.3 1 2.9 1 1.4 1-1.2 1-2.2 1 1.7 1-1.2 1 2.7 1-3.4 1-1.1 1 1.1 1 1.4 1 2.6 1-2.2 1 0.6 1-1.4 1 2.1 1-1.6 1 0 1-3.6 1 3 1 0.4 1 0.1 1 0 1 0.5 1-0.9 1 1.4 1 0.5 1 1.9 1-1.3 1-3 1 2.5 1 1.3 1-2.5 1 0.8 1-1.9 1 3.3 1-2.8 1 2 1 0 1 0.8 1 1 1-1.7 1 0.3 1-1.7 1 1.7 1-1.2 1 1.6 1-0.8 1-1 1 1.8 1 1.2 1-0.5 1 0 1-1.8 1-1.4 1-0.5 1 1.4 1 2.2 1 0.1 1 0.5 1-2.6 1 1.8 1-0.3 1-0.4 1 0.5 1 0 1-0.8 1-0.7 1 0.8 1 0.7 1 0.8 1-1.4 1 1.3 1 0 1 0.4 1-3.2 1 0 1 1.9 1 0.4 1-1 1 1.3 1-0.3 1-0.9 1 1.4 1-1.3 1 0.5 1-2.2 1 2.6 1-0.6 1 0.6 1 0.5 1 0 1-1.2 1-1.8 1-0.8 1 2.1 1 1.1 1 0.2 1-0.7 1 0.4 1-0.5 1 0.9 1-3.8 1 1.6 1-1.4 1 0 1-1.1 1 1.2 1 0.4 1 0.6 1-2.5 1 0.8 1-0.5 1 3 1-0.9 1-1.9 1-2.5 1 2.3 1-1.5 1 1.8 1 1.4 1-2.7 1 1 1 2.7 1 1.1 1-3.3 1 0 1-2.6 1 0 1 1.8 1.1 2.2 1 1.2 1 1 1-0.3 1 0.3 1-2 1-1.4 1 2 1-3.3 1 1 1 2.9 1-2.3 1 2.4 1-0.2 1 0.3 1-1.5 1 1.8 1-1 1-2.4 1 4.2 1-1.4 1 0.2 1 0.1 1 0 1-0.7 1-4.3 1 1.9 1 1.8 1 0.8 1-0.2 1-1.5 1 2.6 1-1 1 1.2 1-0.1 1-1.1 1 0 1 0.2 1-0.8 1-0.5 1 2.7 1-1.6 1-3.6 1 2.6 1 1.6 1 1 1-1.5 1-0.5" stroke="#ff6000"/>
<path d="M190.0 1151.4l1-1.3 1-6.8 1-6.2 1 0.5 1 8.1 1 2.6 1 0.1 1 2.1 1 1.7 1.1-3 1-0.4 1 0.9 1 1.5 1-1.1 1 1.4 1-1.3 1 1.2 1 0.6 1-2.2 1-10.6 1-6 1 8.7 1 10.2 1-1.4 1-0.7 1 0.6 1 1.5 1 0.1 1-2.1 1.1 1.1 1 0 1 0.1 1-0.2 1 0.7 1-0.4 1-1.6 1 0.7 1-0.3 1 0.3 1 0.6 1-1 1 2.1 1-1.6 1-1.5 1 2.5 1 0.6 1-1.9 1 1.7 1-0.2 1.1-5.4 1-2.7 1-1.2 1-0.8 1 3.2 1 4.6 1 1.8 1 0.7 1-2.1 1 1.7 1 0 1-0.2 1-1.7 1 2.1 1-1.8 1-0.4 1 0.2 1-0.3 1 0.9 1 0.3 1.1-2 1-4.1 1-1.1 1 2.4 1 1.2 1 4.2 1 0.7 1-0.3 1 0.5 1-0.7 1-1.3 1 0.6 1-0.9 1-8.3 1 3.5 1 0.8 1 3 1 1.5 1 0.3 1-1.9 1.1-6.3 1 1.9 1 4 1 1.7 1-0.8 1 0.5 1-9.2 1-2 1 9 1 2.9 1-0.5 1-0.3 1-2.5 1 2.8 1 1.9 1-1.2 1 1.3 1-0.7 1-2.2 1-0.2 1.1 0.5 1 2.9 1-0.5 1-1.8 1 0.4 1 0.3 1-1.9 1 0.6 1 0.9 1-3.1 1 0.6 1-0.6 1-0.5 1-2.1 1 0.8 1 3.1 1 1.3 1-0.9 1-1.2 1-1.2 1.1-2.5 1 1.6 1-3.1 1 2 1 0.7 1-1.6 1-0.2 1 3.1 1-1 1-1.3 1 2.5 1-0.7 1 2.2 1-4.1 1 1.8 1-5.2 1 0.7 1 1.3 1 0.2 1-4.8 1.1-1 1-0.9 1 4.4 1-2.7 1-1.5 1 4.2 1 6.5 1-6.4 1 4 1-9.1 1 3.6 1 2.4 1-1.6 1 9 1-3.7 1-3.9" stroke="#ff4000"/>
<path d="M1587.7 1149.2l1 0.3 1-1.8 1 1.8 1-0.2 1 0.1 1.1 1.7 1 0.8 1-3.7 1 1 1-0.1 1 0.7 1-1.3 1 1.8 1-3 1 3.6 1-1 1 0.9 1 1.4 1-1.4 1 0.8 1-1.6 1-2 1 0.4 1 1.3 1-0.4 1 1.9 1-0.8 1-3.2 1 2.1 1 2.2 1-1.9 1.1 1.6 1-2.6 1 0.2 1-2.4 1 1.5 1-0.9 1 1.1 1 0.9 1-1.2 1 2.1 1-0.2 1-0.5 1-1.3 1-0.9 1 1.9 1 0.3 1 0.6 1-1.6 1 2.1 1-0.5 1-0.1 1-1.2 1 0 1 3.2 1 0 1-1.2 1.1-2.3 1 0.5 1-2.8 1 1.9 1 1.9 1 1.6 1-2.2 1-0.6 1-2.3 1 2.8 1-0.7 1-0.7 1-0.6 1 0.4 1 3.8 1 0.6 1-1.2 1-4.5 1 1.6 1 0 1 1.9 1 0.1 1 0.4 1 0 1 0 1-1.2 1-0.5 1.1 1.6 1 1.7 1 0.4 1-0.4 1-4.4 1 0.8 1 2.9 1 0.6 1-1.1 1-1 1 1.9 1-2.8 1 2.1 1-0.9 1-1 1 2.7 1 0.2 1-1.2 1 0.5 1-1.1 1 1.9 1-23.9 1 22 1 1.2 1-0.5 1-2.5 1.1-2.2 1 0.9 1 1.8 1 1.6 1-2.1 1 3 1 0.9 1-0.8 1 1 1-0.9 1 0.7 1-1.6 1-0.7" stroke="#ff4000"/>
<path d="M215.0 1150.0l1 1.6 1 0.1 1.1 0.3 1-2.7 1 1.3 1-0.2 1.1 0.1 1 1.2 1-1.9 1.1 0 1 0.4 1-0.1 1-0.9 1.1-5.2 1 0.4 1 4.1 1.1 1.7 1-0.8 1 0 1-0.6 1.1 1.4 1 1.2 1-0.4 1.1 0.4 1-0.2 1-0.1 1 0.9 1.1-0.2 1-1.2 1-0.7 1.1 1.9 1-0.1 1-0.8 1 0.5M252.9 1139.4l1.1 2.8 1 3.5 1-4.7 1-3.4 1 7 1.1-2.9 1-1.2 1 5.4 1 2.3 1.1 0.2 1 2.6 1-6.8 1-6.5 1-1.3 1.1 11.2 1 1 1-1.1 1-1.8 1 0.4 1.1 4 1 1.6 1 0 1-3.7 1.1-8.1 1-0.7 1 9.9 1-0.8 1-1.5 1.1-1.5 1 1.9 1-1.4 1-2 1-0.2 1.1-2.5 1 2 1 0.1 1 0.7 1.1 2 1 0.2 1-2.2 1 3.5 1 1.8 1.1 1 1-1.1M301.5 1147.2l1 2.3 1-3 1 3.2 1 0.1 1-1.4 1 2.8 1.1-1.9 1 1.1 1-2.7 1-0.2 1 0.6 1 3 1-9.2 1 0.7 1-4.3 1 2.5 1 6.1 1.1-5.3 1 1.9 1-8.1 1-0.1 1 6.1 1 0.4 1 4.1 1-1.6 1 0.5 1 1.8 1.1-2.8 1-0.6 1-1.1 1 5.9 1-4.5 1 1.4 1 3.9 1-6.3 1 3.3 1 2.3M344.8 1141.2l1 1.8 1 5.7 1.1-0.8 1-4.3 1 0.8 1 1.3 1-0.6 1 2 1-2 1 0.6 1-5.6 1 6.2 1-1.9 1 3.1 1-5.9 1-1.7 1 1 1-2.3 1 7.9 1 1.8 1.1 0.6 1 1.7 1-4.8 1 3.4 1-0.1 1-4 1-2.8 1 0.2 1 0.2 1-2.1 1 2.6 1-4 1 0.2 1 2.1 1 0.7 1 4.5 1-4.6 1 1.8 1-1.5 1.1 4.3 1-1.4 1-1.8 1-0.9 1 4 1 0.9 1-1.2 1-6.1 1 2.5 1-1.6 1 1.3 1 0.4 1 0.3 1 3.9 1-1.2 1-5.8 1 0.4 1 0.8 1 5.1 1.1 2.4 1 1.6 1-9.2 1 2.5 1 0 1-1.2 1-1 1 4.1 1 3.2 1-1 1 0.4 1-0.5 1-7.5 1 3.7 1 1.5 1-0.8 1-1.6 1 4.1 1.1 2.1 1-3.4 1 1.6 1-4.1 1-1 1 1.1 1-2.3 1 0.6 1 1.4 1 2.5 1 1 1 2 1-4.9 1 5.9 1-1.2 1 0.2 1-0.2 1-1.9 1-5.1 1.1 1.3 1-0.2 1 5.4 1-1.3 1-2.3 1-0.5 1 2.4 1-2.2 1 4.3 1-0.6 1 1.8 1-0.8 1 0.6 1-0.3 1-2.8 1-1.1 1-7.1 1 0.6 1.1 4.7 1 0.4 1 4.7 1 1.6 1-0.7 1-1.2 1 1.4 1-3.3 1-0.1 1 3.5 1-0.4 1-0.1 1-5.1 1 5.1 1-0.5 1 1.3 1-4.1 1 3.5 1-0.3 1.1 2.3 1-4.1 1-0.6 1 1.3 1-3.8 1-5.6 1 0.3 1 1.7 1 7 1-4 1 3.9 1-4.8 1 3.8 1 0.9 1 1.1 1-2.5 1 1.7 1-8.6 1.1-8.1 1 13.4 1 4.3 1-2.3 1 3.4" stroke="#ff2000"/>
<path d="M701.9 1149.4l1 0.3 1 0 1 2.2 1-3.5 1 1.3 1 1.5 1-0.4 1 0.9 1-0.7 1 0.9 1-0.1 1-1.5 1 0.8 1 0.6 1-1.1 1 0 1 1.7 1-1.9 1 0.9 1-5.6 1-2.8 1-3.5 1 8.5 1 3.9 1-0.8 1 0.7 1-2.3 1 0 1 2.1 1-1.3 1 1.8 1-1.5 1 1 1-0.3 1-2.2 1 0.8 1-0.9 1 0.6 1 2.7 1-0.5 1-0.1 1-1.5 1-0.6 1 1.1 1-2.1 1-0.7 1 1.2 1 1.4 1 1.2 1 0.5 1-1 1-1.1 1-1.4 1 0.7 1 0.9 1 0.6 1-0.9 1-0.9 1 0.3 1 0.9 1-0.5 1 1.9 1-2.8 1 0.8 1 1.1 1-1.6 1-0.5 1-0.4 1-1.9 1 2.3 1-0.8 1 1 1 2.1 1-2.8 1-2.7 1 3.7 1-0.1 1-0.3 1 0.6 1 1.5 1-2 1-1.4 1-0.2 1 0.5 1-0.7 1-1.6 1 3.5 1-1.1 1 0.3 1 0.2 1 0 1 0.9 1-1.6 1-0.4 1 2 1 1.2 1-2.5 1 1.2 1-2 1 2.1 1 0.3 1 0.8 1-0.3 1 2 1-1.7 1-1.7 1 0.7 1 1.9 1-0.2 1-2.1 1 2.3 1 0.3 1-0.3 1-1 1 0.1 1 1.1 1-0.8 1 0.4 1-2.7 1-0.6 1 3.9 1 0 1-1.6 1-1.2 1 0.2 1 2.3 1-0.2 1-0.3 1 1.4 1-1 1-1.3 1 1.8 1 0.1 1-0.1 1-0.7 1 1 1-1 1 0.7 1-0.9 1-1 1 2.2 1-0.8 1-0.3 1-2.8 1 1.4 1-2.8 1-1.6 1 2.4 1 1.2 1 2.2 1-1.8 1 0.1 1-0.8 1 2 1-0.6 1-2.1 1-1 1 0.9 1 1.3 1 0.4 1-0.2 1 0.3 1-2.6 1 1.5 1 0.1 1 2.5 1 0.2 1 1 1 0 1-3 1 0 1-2 1 2.8 1 0.5 1-1.8 1-2 1 0.8 1-0.5 1 1.8 1-1.5 1 1.3 1 2.7 1-0.7 1-1.6 1-2 1 0.6 1-0.4 1 3 1 0.7 1-0.1 1-1.9 1-0.1 1 1.1 1-2.9 1 2.5 1-3.2 1 2.6 1-1.7 1 0.1 1 4.4 1-0.2 1-0.9 1-1.3 1-1.8 1 1.1 1-0.7 1 4.1 1-1.8 1-3.2 1 0.7 1 1.2 1-1.6 1 0.4 1-1.1 1 0.7 1.1 3 1 0.5 1 1.4 1 0.1 1-0.2 1-0.2 1-2.8 1-1.7 1 0.1 1 2.8 1-1.6 1 0.3 1-2 1-2 1 2.6 1 0.7 1-4.5 1 4.2 1-1.8 1 1.7 1 0.1 1-1.3 1-0.7 1-2.5 1 2.2 1-3.4 1 0.3 1 1.4 1-1.9 1 2.7 1-2.4 1-1.1 1-1.9 1 0.6 1-0.4 1-0.2 1-1.2 1 0.8 1 1.6 1-0.8 1 2.4 1-2.4 1 0.3 1 0.2 1 3.5 1-0.2 1 1.4 1-2.6 1-1.3 1 0.3 1 0 1-1.7 1-2.7 1-1 1 3.5 1 3.4 1 2 1 0.9" stroke="#ff0000"/>
<path d="M190.0 1149.0l1.2 0.1 1.2 1.8 1.2-1.2 1.2 1.3 1.2 0.3" stroke="#df0000"/>
<path d="M1191.7 1145.3l1.1 0.8 1 0.3 1 0.6 1-0.3 1-1.6 1 0.7 1-1 1 0.8 1-0.6 1 0.5 1 2.5 1-0.1 1-2.9 1 1.7 1 0.4 1.1-0.3 1 0.6 1-2.4 1 1.9 1-1.4 1 0.9 1-0.5 1-0.4 1 1.5 1 1 1-0.5 1 1.6 1-3.4 1 2.5 1 2 1.1-1.3 1-0.5 1 2.6 1-1.9 1 0.5 1-1 1-1.6 1 0.5 1 2.4 1-1 1 1.9 1-2.8 1 1.4 1 0.5 1 1.6 1.1-3 1-0.7 1 0.9 1 3.5 1-3.7 1 0 1 0.4 1 1.3 1-2.1 1 0.2 1-0.7 1 2.5 1 0.2 1-0.3 1 1.6 1.1-7.2 1-6 1 10.3 1 1.6 1 0.9 1-1.6 1 1.9 1-0.3 1 0 1-0.6 1-0.2 1-1.4 1-1.6 1-1.5 1 0.4 1.1 1.5 1 2.7 1-1.9 1-1.7 1 0.1 1 0.3 1 2.7 1-2.2 1 0.2 1 0 1 0.1 1 2.4 1 0.3 1-2.6 1 1.6 1.1-3.1 1 1 1 1.9 1-3 1 1.8 1-2.4 1 0.2 1 2.6 1 1.9 1-1.4 1-0.7 1-2.4 1 0.6 1 2 1 0.1 1.1 0.3 1-3 1 3.5 1-2.8 1 0.3 1 0.2 1 1.1 1 1.4 1-2.8 1 2.8 1-1.5 1 1.6 1-2.6 1-0.1 1-1.3 1.1 1.4 1-0.2 1-0.5 1-0.4 1 2.1 1 0.5 1 1.3 1-2.1 1-1.5" stroke="#df0000"/>
<path d="M1535.8 1145.5l1-1.9 1 2.7 1 1.3 1 1 1-0.7 1 1.6 1-1.2 1 0.9 1-2.9 1 0.1 1 2.4 1-2.2 1 2.6 1 0 1-0.9 1 0.6 1-0.6 1 3.1 1-2.7 1 0.9 1-3 1 2.1 1 0.1 1 0.2 1-1.8 1 0.9 1-0.3 1-8.1 1.1 5.8 1 3.1 1-1.8 1 2.1 1 0.9 1-1 1-4.9 1-3.1 1 1.8 1 2.9 1 3.4 1 0.4 1-1.3 1 0.4 1 0.4 1-0.3 1 1.2 1 2.2 1-2.3 1-1.3 1-1.1 1 1.9 1-1.8 1 0.9 1-1.4 1-1 1 0.3 1 0.5 1-0.4 1 0.6 1 1.9 1-0.8 1 2.2 1-3.6 1 2.3 1 0.4 1 2.1 1-0.8 1 0 1-1.4 1-1.2 1-4.1 1.1 2.3 1 1.2 1 1.2 1-2.6 1 0 1-1.4 1 4.7 1 0.6 1-1.6 1 1.4 1-1.4 1 2.4 1-1.6 1 0.7 1 1 1-0.8 1-0.3 1 0.6 1 1.9 1-3.7 1-2.7 1 0.1 1-0.2 1-0.6 1 3.1 1 0.2 1 0.4 1 1.1 1 0.1 1 0.1 1-2.6 1-2.2 1 5.2 1 0.1 1-1.2 1 0.2 1-0.9 1 1.5 1-1.2 1 0.8 1-0.5 1-0.8 1.1 3.4 1-0.3 1 0 1-1.2 1-1.9 1-0.8 1 2.3 1 1.2 1-1.4 1-1.7 1 2 1-0.3 1-1 1 0.3 1-0.4 1 0.6 1 1 1-0.1 1 1.6 1-1.3 1-1.7 1-0.8 1 1.6 1-4.3 1 2 1 1.4 1 0.9 1 0.3 1-0.7 1 1.8 1-3.5 1-0.1 1-0.8 1 1.7 1 0.5 1 0.8 1-2 1-1.5 1 1.2 1 1.3 1-1.1 1-0.3 1.1 0.7 1 1.6 1-3 1 0.3 1-1 1 1.8 1 0.9 1-1.7 1 1.5 1 0 1-0.7 1 0.8 1-2.4 1 2.2 1-0.7 1 1.9 1-0.5 1 1 1-1.6 1 0.7 1 0.8" stroke="#df0000"/>
<path d="M620.9 1148.4l1.1-0.4 1-1.3 1 0.6 1 1.3 1-2 1-2.9 1-6.8 1 6.2 1-0.3 1 2.7 1 0.6 1-1.4 1 0.4 1 0.8 1 0.1 1-0.8 1-0.2 1-0.4 1-1.5 1-4.7 1 2.2 1 3.7 1 2.5 1-0.6 1 1.7 1-0.8 1-0.7 1 0.8 1.1 0.7 1-0.6 1-0.4 1 0 1-1.5 1 0.5 1 1.8 1-0.6 1 0.5 1-0.5 1 0.1 1-1.6 1-2.1 1-1.5 1-0.5 1 4.8 1-1.4 1 1.1 1-4 1 0.8 1 1.1 1 1.5 1-2.7 1 3.3 1-1.5 1 0.3 1 1.9 1.1-0.3 1 1 1-2.6 1-1.8 1-3.3 1-1.2 1-4 1 5.7 1 3.6 1-1.1 1 2 1 1.5 1-0.4 1-1.7 1 0.8 1-1.3 1 3.4 1 0.4 1 1.1 1-2 1-2.4 1 2.7 1-2.1 1 0.5 1 0 1 0 1-0.6 1-0.8 1.1 0.5 1 0.5 1 0.4 1 1.5 1-0.2 1 0.7 1-0.5 1 0.2 1-1.3 1 2.4 1-2.5 1-1.7 1 1.8 1 0.7 1 0.4 1-0.2 1 1 1 0.6 1 0.6 1 1.3 1-3.5 1-0.3 1-1 1 1.5 1 0.1 1-0.8 1 1.7 1.1 1.7 1 0.8 1-3 1 1.4 1-1.9 1-0.2 1-0.1 1 0.8 1 1 1 1.3 1-0.4 1-3.3 1-0.3 1-0.4 1-0.6 1 1.2 1 1.4 1-1.3 1-2.4 1 3.1 1-0.2 1-3.6 1 2.7 1-1.4 1 1.2 1-1.8 1 0.5 1 1.6 1.1-1.3 1 2.2 1-0.3 1 4 1-3.9 1 2.5 1-3 1-0.4 1 0.2 1-0.4 1 3.3 1-1.4 1 0.6 1 0.3 1 1.1 1-1.4 1 0.1 1-1.9 1-1.1 1-4.8 1 0.7 1-2 1 1.6 1 2.6 1 3 1 0 1 0.3 1.1-0.6 1 0.9 1-1.3 1 4.8 1-2.2 1-0.1 1 0.5 1-0.1 1-0.1 1-2.7 1 1 1 1.4 1 2.9 1-1.7 1-3.1 1-1.2 1 1.7 1 1.1 1 0.6 1-4.9 1 3.5 1 0.2 1 2.5 1-2.4 1-0.8 1 0 1 2.8 1-0.6 1.1-2.2 1-0.1 1 0.4 1 0.1 1 2.9 1-0.2 1-0.1 1 1.1 1-1.4 1 0.3 1-0.8 1 0.1 1 0.1 1-0.7 1-17.2 1 17.7 1 2.3 1-1.9 1 0.1 1-1.8" stroke="#bf0000"/>
<path d="M1034.9 1146.3l1 2 1 0.4 1 1.6 1.1-1.7 1-0.5 1 0.6 1 0.8 1-0.3 1-2.8 1 2 1 0.5 1 0.2 1 0.2 1.1-1 1 0.6 1 0.2 1 1.1 1-0.4 1-0.9 1 0.1 1-0.5 1-1.6 1 1 1.1-0.3 1-0.6 1-2 1 0.6 1 1.9 1 1.7 1-1.5 1 0.7 1-1.2 1.1 1 1-1.5 1 1.8 1-1.4 1 0.5 1 0.1 1 1.6 1-0.2 1-0.9 1 1.3 1.1-3.7 1 0.7 1-0.9 1 1.1 1-0.4 1-10.6 1-1.9 1 13.1 1-0.1 1-1.8 1.1-0.1 1 1.5 1 1.5 1-0.4 1-2 1-1.3 1 1 1 0.8 1-0.1 1 0.2 1.1-0.7 1 0.1 1-0.6 1-0.4 1 1.7 1-2.9 1 0.5 1 0.5 1-0.2 1.1-0.7 1 1.8 1 0.7 1-1.6 1 2.8 1-0.7 1-1.2 1 0.3 1 3.4 1-0.4 1.1 1.9 1-4.5 1 1.3 1-0.9 1 0.3 1 2 1-0.2" stroke="#bf0000"/>
<path d="M210.0 1151.4l1-0.1 1 0.4 1-0.1 1 0.4 1-0.4 1-2.6 1-3.1 1-3.3 1 2.4 1 2.7 1 3.6 1 0.7 1-0.3 1-2.1 1 0.5 1 0.8 1-0.1 1-0.2 1-0.7 1 2.1 1-0.8 1-2.2 1-7.1 1-8.8 1 10.1 1 8.5 1.1-2 1-0.7 1-0.1 1 1.5 1-2.3 1-15.3 1 1.4 1 15.8 1-1.5 1-1.2 1 0.1 1 2.6 1 2.1 1-1.3 1-1.1 1 1.9 1-0.5 1-1 1-0.2 1 0.8 1 0.3 1-1.8 1 0.6 1 0.3 1-0.8 1-0.2 1 0.3 1 1.8 1-3.7 1-0.8 1-0.8 1-0.3 1 1.2 1-0.1 1 3 1-0.1 1 2 1-2.5 1.1 2.4 1-1.9 1 2 1-3.7 1 2.3 1 0.1 1 0.6 1 0.1 1-1.1 1 0.6 1-1 1-1.5 1 3 1-2 1 2.2 1 0.5 1-0.7 1 0.9 1-0.5 1-0.8 1-1.4 1 1.5 1-0.6 1-4.1 1-2.3 1 3.1 1 0.1 1 3.3 1-0.7 1 0.8 1-1 1-4.6 1 2.4 1-1.3 1 6.1 1-4 1 0.5 1-2.4 1.1 2.8 1-4.1 1 2.3 1 0.9 1-0.3 1 2.9 1-1.8 1 0.5 1-1.7 1-4.6 1 0.6 1 2.7 1-0.5 1-9.7 1-3.5 1 11 1 6.4 1-7.3 1-1.1 1 1.2 1 3.6 1-3.1 1-2.5 1-6.1 1-3.2 1 11.7 1 3.7 1 2.7 1-4.8 1-3.3 1 0.5 1 5.6 1-1.4 1-3 1-7.9 1 7.1 1 6.3 1-13.3 1.1-2.4 1 7.5 1-3.1 1 1.3 1 1 1-5 1 3.2 1 0.2 1 7.8 1 3.4 1-4.1 1-3.8 1 1.2 1-1 1 4.8 1-3.1 1-3.8 1 0.1 1 10.9 1-0.5 1 1.4 1-0.9 1-6.9 1 3.4 1-1.3 1-1.6 1-7.5 1 2.9 1 0.2 1 0.7 1-1.5 1 0.8 1-8.9 1 8.5 1-1.5 1 0.8 1 0.3 1 2.1 1.1 3.4 1 1.5 1-7.3 1 4.5 1 4 1 1.4 1-2.7 1-1.4 1 1.3 1-3.2 1 1.3 1 1.6 1-7.3 1 7.4 1-3.5 1-4.7 1 8.9 1-0.9 1 4.2 1-2.3 1 1.1 1-1.7 1 4.7 1-3.1 1 3.3 1-2.9 1 2 1-4.5 1-1.1 1 0.5 1 1.7 1-3.2 1 1.2 1 0.7 1 0 1-2 1 5 1-5.9 1.1 3.1 1-1.2 1-1.6 1 2.8 1 2.9 1 0.8 1-2.7 1-1.2 1-1 1-0.6 1-0.2 1 1.4 1-0.7 1-1.9 1-5.4 1 2.2 1 6.5 1-0.9 1 0.9 1 0.2 1-1.7 1 4.4 1 0.5 1-1.8 1-1.1 1 0.4 1 0.7 1-1.6 1-1.4 1-1.9 1 4.4 1-2.3 1 1.7 1-2.3 1-1.9 1 2.2 1 1.1 1-5.7 1.1 4.2 1-1.7 1 1.4 1 3.3 1-0.5 1 0.4 1 0 1 0.7 1-0.4 1 1.7 1-3.1 1-1.6 1 2.8 1-1.7 1 0.5 1-4.7 1-0.3" stroke="#9f0000"/>
<path d="M190.0 1152.2l1.1-0.6 1-1.8 1.1 0.5 1-1.8 1.1 0 1 1.4 1.1-1.5 1 2 1.1-4.8 1-3.5 1.1 0.8 1 2.9 1.1 4.4 1-2.9 1.1 3.5 1-1.6 1.1-0.3 1 0.5 1.1 0.8M213.0 1149.7l1 1.3 1 0.6 1-0.4 1 0.7 1-3 1 1.9 1-2 1 1.6 1 0.9 1 0.1 1-2.4 1 0.2 1.1-0.2 1-1.8 1 2.3 1 1.1 1-0.3 1-2.3 1-1.6 1-4.8 1-0.6 1-2.8 1 6.1 1 3.8 1 0.4 1 2.4 1 0.4 1-1.4 1.1 0 1-3.6 1-7.6 1 6 1 3.4 1 2.5 1-0.7 1-2.4 1-1.8 1-2.7 1-6.5 1 1.6 1 6.5 1 5.8 1-1.9 1-2.5 1-5.2 1.1-4.5 1 1.9 1 5.1 1 2.5 1 4.8 1-0.5 1-0.1 1 0.4 1-0.2 1-1.6 1 0.5 1-1.3 1 0.6 1-2.1 1 1.4 1-1 1-0.3 1.1-4 1-1.8 1 2 1 2.7 1 3.2 1 0.1 1 0.1 1 0 1-0.3 1-0.2 1 0.6 1-2.1 1 3.5 1-1.8 1 3 1-2.6 1.1-1.2 1-1.8 1 4.1 1-1.2 1-4 1-7.6 1 1.9 1 6.7 1 2.9 1-0.3 1 0.2 1-0.6 1 0 1-0.1 1-2.4 1 1 1-2 1.1 2 1 1.1 1-1.1 1-2.4 1-2.7 1 1.6 1-6 1 2.6 1 0.1 1 0.6 1-5.2 1-2.4 1 8 1-2.5 1 4.1 1-2.9 1.1-1.4 1-5.7 1 7.2 1-5.3 1 5.1 1-0.8 1 0.1 1-4 1-3.1 1-0.1 1 7 1-0.9 1 1.8 1 1 1 0.2 1-2.5 1 2.3 1.1-0.5 1 2.1 1-4.2 1-0.3 1 1.7 1 4.3 1 5.1 1-3.7 1-7.2 1 2.8 1 1.3 1 0.5 1-3" stroke="#800000"/>
<path d="M1585.7 1148.9l1-6.3 1 3.6 1 1.5 1 1.2 1 0.4 1.1-1.8 1-0.4 1-0.9 1-0.3 1-5.9 1 4.5 1 3 1 0.9 1 0.6 1-1.8 1 1.3 1-1.4 1 1.8 1-0.2 1-1.4 1 1.6 1-1.6 1 2.3 1-3.9 1 0.7 1 0.4 1-0.1 1 0.2 1 2.6 1-1 1 0.2 1.1-2.1 1 3.4 1-2.4 1-0.3 1 1.9 1-1.6 1-0.1 1-2.1 1 0.2 1-2.1 1 0.2 1 1.4 1 3.9 1-0.3 1-1.1 1 0.9 1 0.4 1 2.7 1-2.5 1 1 1-0.5 1-0.2 1-1 1-2.6 1 0.3 1 1.3 1-1.3 1.1 3 1 0.5 1-2.2 1-1.4 1-0.6 1 1.5 1 2.7 1 1.6 1 0.1 1-1.3 1-1.1 1-2 1 1.8 1 0.2 1-0.6 1-0.7 1-1.6 1 1.7 1-0.8 1 2.2 1-1.1 1 1.2 1 2.4 1-3 1 2 1 1.3 1 0.2 1.1-0.5 1-3.9 1 2.6 1 0.2 1 1.4 1 0.2 1-0.3 1-0.1 1-0.3 1 0.1 1-0.8 1 1.2 1-0.1 1-1.2 1-0.1 1 0.3 1 0.9 1 0.2 1-0.3 1-1.4 1-1.4 1 2.1 1 1.1 1-0.1 1-0.3 1-0.2 1.1-0.8 1 0.9 1-0.5 1-3.2 1 3.9 1-0.7 1-1.6 1-1.1 1 2.7 1 0.3 1-0.8 1-2.5 1 2.9 1 0.1" stroke="#800000"/>
</g>
<rect x="773" y="78" width="356" height="53" fill="#9d9d9d"/>
<text x="950.3" y="116.8" font-size="33" letter-spacing="-0.4" text-anchor="middle" fill="#000" xml:space="preserve">20190206    VTEC  KLF</text>
<text x="179.6" y="399.30" font-size="30" letter-spacing="-0.3" text-anchor="end" fill="#262626">0</text>
<text x="179.6" y="313.30" font-size="30" letter-spacing="-0.3" text-anchor="end" fill="#262626">10</text>
<text x="179.6" y="227.30" font-size="30" letter-spacing="-0.3" text-anchor="end" fill="#262626">20</text>
<text x="179.6" y="141.30" font-size="30" letter-spacing="-0.3" text-anchor="end" fill="#262626">30</text>
<text x="179.6" y="622.39" font-size="30" letter-spacing="-0.3" text-anchor="end" fill="#262626">-4</text>
<text x="179.6" y="575.85" font-size="30" letter-spacing="-0.3" text-anchor="end" fill="#262626">-2</text>
<text x="179.6" y="529.30" font-size="30" letter-spacing="-0.3" text-anchor="end" fill="#262626">0</text>
<text x="179.6" y="482.75" font-size="30" letter-spacing="-0.3" text-anchor="end" fill="#262626">2</text>
<text x="179.6" y="436.21" font-size="30" letter-spacing="-0.3" text-anchor="end" fill="#262626">4</text>
<text x="179.6" y="915.71" font-size="30" letter-spacing="-0.3" text-anchor="end" fill="#262626">0</text>
<text x="179.6" y="890.05" font-size="30" letter-spacing="-0.3" text-anchor="end" fill="#262626">0.1</text>
<text x="179.6" y="864.40" font-size="30" letter-spacing="-0.3" text-anchor="end" fill="#262626">0.2</text>
<text x="179.6" y="813.09" font-size="30" letter-spacing="-0.3" text-anchor="end" fill="#262626">0.4</text>
<text x="179.6" y="761.77" font-size="30" letter-spacing="-0.3" text-anchor="end" fill="#262626">0.6</text>
<text x="179.6" y="710.46" font-size="30" letter-spacing="-0.3" text-anchor="end" fill="#262626">0.8</text>
<text x="179.6" y="1174.30" font-size="30" letter-spacing="-0.3" text-anchor="end" fill="#262626">0</text>
<text x="179.6" y="1148.70" font-size="30" letter-spacing="-0.3" text-anchor="end" fill="#262626">0.1</text>
<text x="179.6" y="1123.10" font-size="30" letter-spacing="-0.3" text-anchor="end" fill="#262626">0.2</text>
<text x="179.6" y="1071.90" font-size="30" letter-spacing="-0.3" text-anchor="end" fill="#262626">0.4</text>
<text x="179.6" y="1020.70" font-size="30" letter-spacing="-0.3" text-anchor="end" fill="#262626">0.6</text>
<text x="179.6" y="969.50" font-size="30" letter-spacing="-0.3" text-anchor="end" fill="#262626">0.8</text>
<text x="190.50" y="1203.4" font-size="30" letter-spacing="-0.3" text-anchor="middle" fill="#262626">00</text>
<text x="253.88" y="1203.4" font-size="30" letter-spacing="-0.3" text-anchor="middle" fill="#262626">01</text>
<text x="317.25" y="1203.4" font-size="30" letter-spacing="-0.3" text-anchor="middle" fill="#262626">02</text>
<text x="380.62" y="1203.4" font-size="30" letter-spacing="-0.3" text-anchor="middle" fill="#262626">03</text>
<text x="444.00" y="1203.4" font-size="30" letter-spacing="-0.3" text-anchor="middle" fill="#262626">04</text>
<text x="507.38" y="1203.4" font-size="30" letter-spacing="-0.3" text-anchor="middle" fill="#262626">05</text>
<text x="570.75" y="1203.4" font-size="30" letter-spacing="-0.3" text-anchor="middle" fill="#262626">06</text>
<text x="634.12" y="1203.4" font-size="30" letter-spacing="-0.3" text-anchor="middle" fill="#262626">07</text>
<text x="697.50" y="1203.4" font-size="30" letter-spacing="-0.3" text-anchor="middle" fill="#262626">08</text>
<text x="760.88" y="1203.4" font-size="30" letter-spacing="-0.3" text-anchor="middle" fill="#262626">09</text>
<text x="824.25" y="1203.4" font-size="30" letter-spacing="-0.3" text-anchor="middle" fill="#262626">10</text>
<text x="887.62" y="1203.4" font-size="30" letter-spacing="-0.3" text-anchor="middle" fill="#262626">11</text>
<text x="951.00" y="1203.4" font-size="30" letter-spacing="-0.3" text-anchor="middle" fill="#262626">12</text>
<text x="1014.38" y="1203.4" font-size="30" letter-spacing="-0.3" text-anchor="middle" fill="#262626">13</text>
<text x="1077.75" y="1203.4" font-size="30" letter-spacing="-0.3" text-anchor="middle" fill="#262626">14</text>
<text x="1141.12" y="1203.4" font-size="30" letter-spacing="-0.3" text-anchor="middle" fill="#262626">15</text>
<text x="1204.50" y="1203.4" font-size="30" letter-spacing="-0.3" text-anchor="middle" fill="#262626">16</text>
<text x="1267.88" y="1203.4" font-size="30" letter-spacing="-0.3" text-anchor="middle" fill="#262626">17</text>
<text x="1331.25" y="1203.4" font-size="30" letter-spacing="-0.3" text-anchor="middle" fill="#262626">18</text>
<text x="1394.62" y="1203.4" font-size="30" letter-spacing="-0.3" text-anchor="middle" fill="#262626">19</text>
<text x="1458.00" y="1203.4" font-size="30" letter-spacing="-0.3" text-anchor="middle" fill="#262626">20</text>
<text x="1521.38" y="1203.4" font-size="30" letter-spacing="-0.3" text-anchor="middle" fill="#262626">21</text>
<text x="1584.75" y="1203.4" font-size="30" letter-spacing="-0.3" text-anchor="middle" fill="#262626">22</text>
<text x="1648.12" y="1203.4" font-size="30" letter-spacing="-0.3" text-anchor="middle" fill="#262626">23</text>
<text x="1711.50" y="1203.4" font-size="30" letter-spacing="-0.3" text-anchor="middle" fill="#262626">00</text>
<text x="951.5" y="1245.2" font-size="33" letter-spacing="-0.5" text-anchor="middle" fill="#262626">UT</text>
<text transform="translate(133.10 259.40) rotate(-90)" font-size="32" text-anchor="middle" fill="#262626">VTEC</text>
<text transform="translate(140.20 517.80) rotate(-90)" font-size="32" text-anchor="middle" fill="#262626">ROT [TECU/min]</text>
<text transform="translate(111.5 794) rotate(-90)" font-size="33.5" fill="#262626">S<tspan font-size="26" dy="15.6" dx="-0.5">4</tspan></text>
<text transform="translate(112 1093) rotate(-90)" font-size="32" fill="#262626" xml:space="preserve"><tspan font-family="'Liberation Serif','DejaVu Serif',serif" font-style="italic" font-weight="normal" font-size="33">σ</tspan><tspan font-family="'Liberation Serif','DejaVu Serif',serif" font-style="italic" font-weight="normal" font-size="27.5" dy="16" dx="5.6">ϕ</tspan><tspan dy="-16" dx="1.6"> [rad]</tspan></text>
<text x="1711.8" y="131.6" font-size="25.1" text-anchor="end" fill="#0000ff" xml:space="preserve">Made by Yaqi Jin on 07-Aug-2019      NOT FOR PUBLICATION</text>
<rect x="1731.50" y="258.50" width="22.00" height="24.52" fill="#800000"/>
<rect x="1731.50" y="282.72" width="22.00" height="24.52" fill="#9f0000"/>
<rect x="1731.50" y="306.94" width="22.00" height="24.52" fill="#bf0000"/>
<rect x="1731.50" y="331.16" width="22.00" height="24.52" fill="#df0000"/>
<rect x="1731.50" y="355.38" width="22.00" height="24.52" fill="#ff0000"/>
<rect x="1731.50" y="379.59" width="22.00" height="24.52" fill="#ff2000"/>
<rect x="1731.50" y="403.81" width="22.00" height="24.52" fill="#ff4000"/>
<rect x="1731.50" y="428.03" width="22.00" height="24.52" fill="#ff6000"/>
<rect x="1731.50" y="452.25" width="22.00" height="24.52" fill="#ff8000"/>
<rect x="1731.50" y="476.47" width="22.00" height="24.52" fill="#ff9f00"/>
<rect x="1731.50" y="500.69" width="22.00" height="24.52" fill="#ffbf00"/>
<rect x="1731.50" y="524.91" width="22.00" height="24.52" fill="#ffdf00"/>
<rect x="1731.50" y="549.12" width="22.00" height="24.52" fill="#ffff00"/>
<rect x="1731.50" y="573.34" width="22.00" height="24.52" fill="#dfff20"/>
<rect x="1731.50" y="597.56" width="22.00" height="24.52" fill="#bfff40"/>
<rect x="1731.50" y="621.78" width="22.00" height="24.52" fill="#9fff60"/>
<rect x="1731.50" y="646.00" width="22.00" height="24.52" fill="#80ff80"/>
<rect x="1731.50" y="670.22" width="22.00" height="24.52" fill="#60ff9f"/>
<rect x="1731.50" y="694.44" width="22.00" height="24.52" fill="#40ffbf"/>
<rect x="1731.50" y="718.66" width="22.00" height="24.52" fill="#20ffdf"/>
<rect x="1731.50" y="742.88" width="22.00" height="24.52" fill="#00ffff"/>
<rect x="1731.50" y="767.09" width="22.00" height="24.52" fill="#00dfff"/>
<rect x="1731.50" y="791.31" width="22.00" height="24.52" fill="#00bfff"/>
<rect x="1731.50" y="815.53" width="22.00" height="24.52" fill="#009fff"/>
<rect x="1731.50" y="839.75" width="22.00" height="24.52" fill="#0080ff"/>
<rect x="1731.50" y="863.97" width="22.00" height="24.52" fill="#0060ff"/>
<rect x="1731.50" y="888.19" width="22.00" height="24.52" fill="#0040ff"/>
<rect x="1731.50" y="912.41" width="22.00" height="24.52" fill="#0020ff"/>
<rect x="1731.50" y="936.62" width="22.00" height="24.52" fill="#0000ff"/>
<rect x="1731.50" y="960.84" width="22.00" height="24.52" fill="#0000df"/>
<rect x="1731.50" y="985.06" width="22.00" height="24.52" fill="#0000bf"/>
<rect x="1731.50" y="1009.28" width="22.00" height="24.52" fill="#00009f"/>
<text x="1765.0" y="1020.80" font-size="33.8" fill="#262626">2</text>
<text x="1765.0" y="970.80" font-size="33.8" fill="#262626">4</text>
<text x="1765.0" y="920.80" font-size="33.8" fill="#262626">6</text>
<text x="1765.0" y="870.80" font-size="33.8" fill="#262626">8</text>
<text x="1765.0" y="820.80" font-size="33.8" fill="#262626">10</text>
<text x="1765.0" y="770.80" font-size="33.8" fill="#262626">12</text>
<text x="1765.0" y="720.80" font-size="33.8" fill="#262626">14</text>
<text x="1765.0" y="670.80" font-size="33.8" fill="#262626">16</text>
<text x="1765.0" y="620.80" font-size="33.8" fill="#262626">18</text>
<text x="1765.0" y="570.80" font-size="33.8" fill="#262626">20</text>
<text x="1765.0" y="520.80" font-size="33.8" fill="#262626">22</text>
<text x="1765.0" y="470.80" font-size="33.8" fill="#262626">24</text>
<text x="1765.0" y="420.80" font-size="33.8" fill="#262626">26</text>
<text x="1765.0" y="370.80" font-size="33.8" fill="#262626">28</text>
<text x="1765.0" y="320.80" font-size="33.8" fill="#262626">30</text>
<text x="1765.0" y="270.80" font-size="33.8" fill="#262626">32</text>
<path d="M1753.50 1008.50h-7.5M1753.50 958.50h-7.5M1753.50 908.50h-7.5M1753.50 858.50h-7.5M1753.50 808.50h-7.5M1753.50 758.50h-7.5M1753.50 708.50h-7.5M1753.50 658.50h-7.5M1753.50 608.50h-7.5M1753.50 558.50h-7.5M1753.50 508.50h-7.5M1753.50 458.50h-7.5M1753.50 408.50h-7.5M1753.50 358.50h-7.5M1753.50 308.50h-7.5" stroke="#262626" stroke-width="1" fill="none"/>
<rect x="1731.50" y="258.50" width="22.00" height="775.00" fill="none" stroke="#262626" stroke-width="1"/>
<text x="1787.4" y="239.3" font-size="33.8" text-anchor="end" fill="#000">PRN#</text>
</svg></body></html>
